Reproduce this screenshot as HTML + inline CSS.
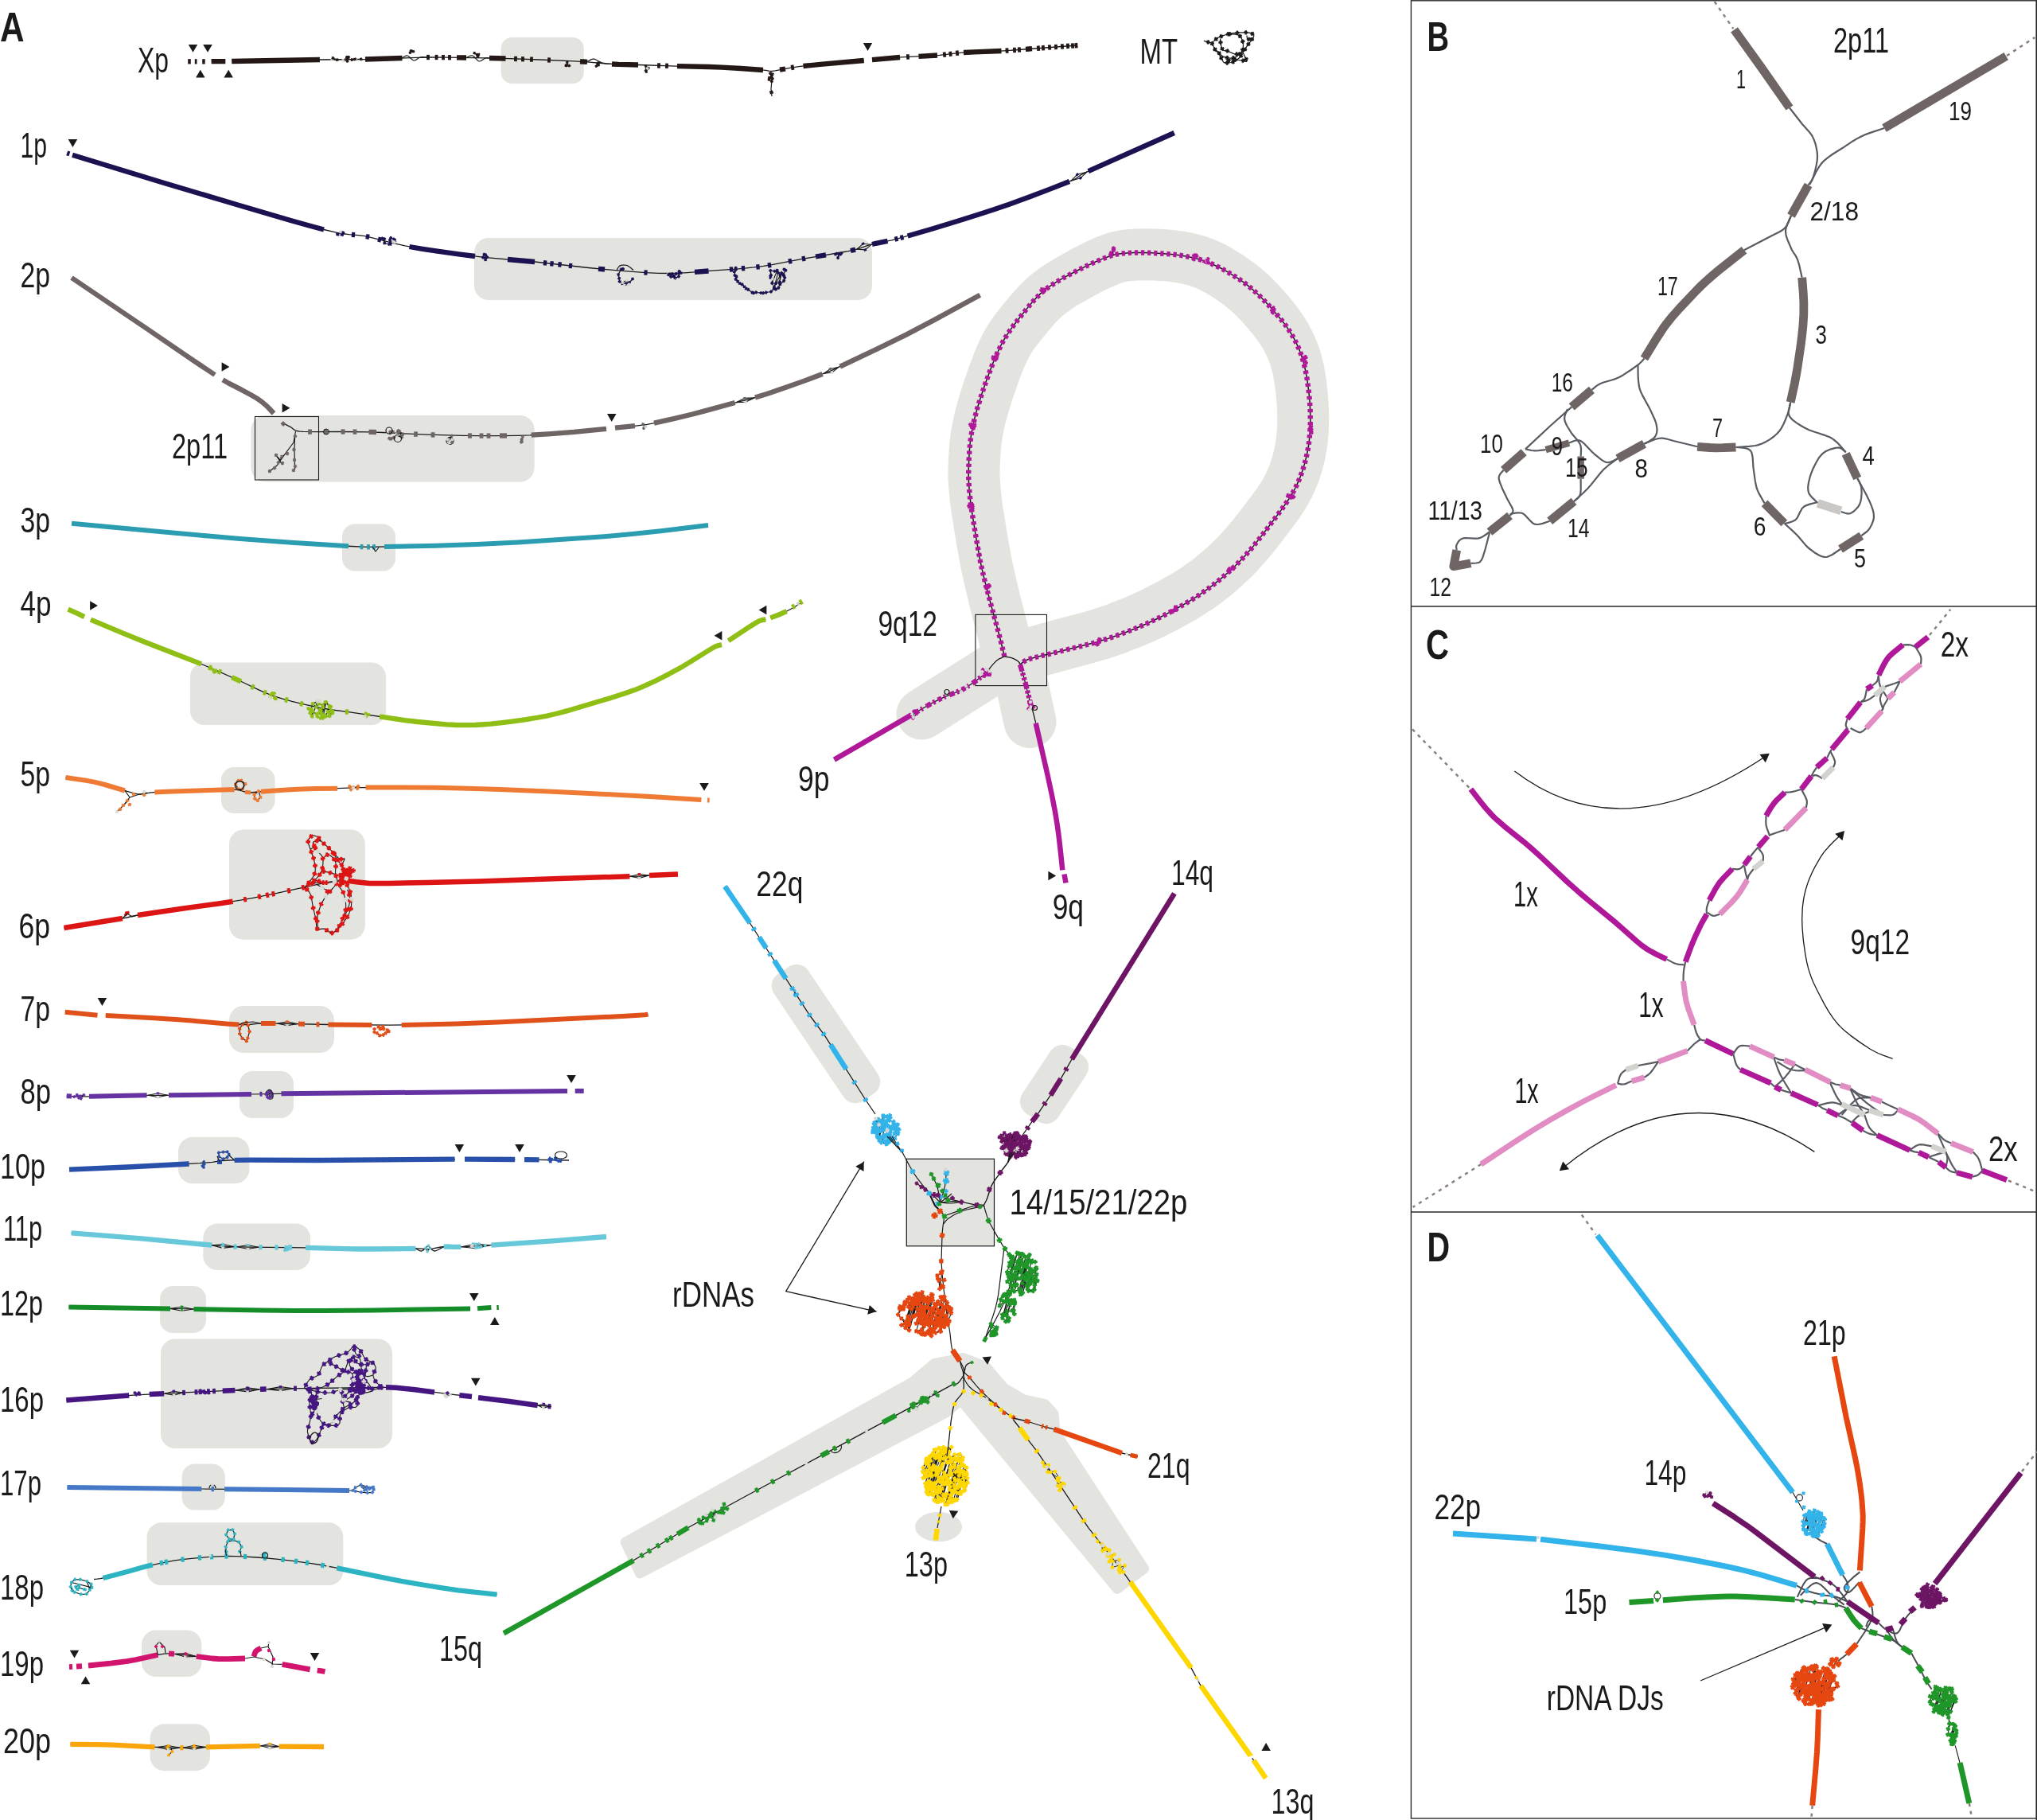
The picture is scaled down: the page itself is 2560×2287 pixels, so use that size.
<!DOCTYPE html><html><head><meta charset="utf-8"><style>html,body{margin:0;padding:0;background:#fff}svg{display:block;will-change:transform}text{font-family:"Liberation Sans",sans-serif}</style></head><body><svg width="2560" height="2287" viewBox="0 0 2560 2287">
<rect x="629.6" y="47" width="104.1" height="58" rx="14" fill="#e3e4df" />
<rect x="596" y="299" width="500" height="78" rx="18" fill="#e3e4df" />
<rect x="315.4" y="522" width="356.2" height="83.6" rx="18" fill="#e3e4df" />
<rect x="430" y="658.6" width="67" height="59" rx="16" fill="#e3e4df" />
<rect x="239" y="832.5" width="246" height="78.5" rx="18" fill="#e3e4df" />
<rect x="278" y="964" width="67.6" height="58" rx="16" fill="#e3e4df" />
<rect x="288" y="1042.4" width="170.8" height="138.3" rx="18" fill="#e3e4df" />
<rect x="288" y="1264" width="132" height="59" rx="18" fill="#e3e4df" />
<rect x="301" y="1346" width="68" height="59" rx="16" fill="#e3e4df" />
<rect x="224" y="1428.8" width="89.4" height="58.5" rx="18" fill="#e3e4df" />
<rect x="255.3" y="1537.6" width="134.7" height="58.4" rx="18" fill="#e3e4df" />
<rect x="201" y="1616" width="58" height="59" rx="16" fill="#e3e4df" />
<rect x="202" y="1682.4" width="291" height="137.6" rx="18" fill="#e3e4df" />
<rect x="228.6" y="1839.5" width="54.2" height="58.1" rx="16" fill="#e3e4df" />
<rect x="184.6" y="1913.3" width="246.7" height="78.7" rx="18" fill="#e3e4df" />
<rect x="178" y="2048.5" width="75.3" height="58.5" rx="18" fill="#e3e4df" />
<rect x="188.5" y="2166.3" width="75.5" height="58.9" rx="18" fill="#e3e4df" />
<path d="M401 75L461.2 74.5L525.4 72.3L537.4 72L561.5 72.1L625.7 73.2L677.8 75L721.9 76.9L737.9 77.8L761.9 80L773.9 80.7L802 81.5L850.1 83.2L890.2 84L906.3 84.6L926.3 85.7L954.3 87.6L962.3 88.3L966.3 89.1L970.2 89.4L974.2 88.9L993.9 85.1L1005.8 83.4L1029.7 81L1085.7 76" fill="none" stroke="#1a1a1a" stroke-width="1.3" stroke-linecap="butt" stroke-linejoin="round" />
<path d="M1096 75.1L1116.1 73.2L1132.2 71.9L1168.6 70.1L1180.7 69.3L1208.8 66.2L1220.9 65.5L1253.2 64.3L1265.3 63.6L1354 57" fill="none" stroke="#1a1a1a" stroke-width="1.3" stroke-linecap="butt" stroke-linejoin="round" />
<path d="M236.2 77.3L239.8 77.3" fill="none" stroke="#231815" stroke-width="6.3" stroke-linecap="butt" stroke-linejoin="round" />
<path d="M244.8 77.3L247.5 77.3" fill="none" stroke="#231815" stroke-width="6.3" stroke-linecap="butt" stroke-linejoin="round" />
<path d="M254.2 77.3L257.7 77.3" fill="none" stroke="#231815" stroke-width="6.3" stroke-linecap="butt" stroke-linejoin="round" />
<path d="M265.6 77.2L283.3 77.1" fill="none" stroke="#231815" stroke-width="6.3" stroke-linecap="butt" stroke-linejoin="round" />
<path d="M291.2 77L401.9 75" fill="none" stroke="#231815" stroke-width="6.3" stroke-linecap="butt" stroke-linejoin="round" />
<path d="M459 74.5L505.5 73" fill="none" stroke="#231815" stroke-width="6.3" stroke-linecap="butt" stroke-linejoin="round" />
<path d="M574 72.3L586 72.5" fill="none" stroke="#231815" stroke-width="6.3" stroke-linecap="butt" stroke-linejoin="round" />
<path d="M615 73L635.5 73.5" fill="none" stroke="#231815" stroke-width="6.3" stroke-linecap="butt" stroke-linejoin="round" />
<path d="M729 77.3L733.5 77.5L738 77.9" fill="none" stroke="#231815" stroke-width="6.3" stroke-linecap="butt" stroke-linejoin="round" />
<path d="M769 80.5L777.2 80.9L802 81.5" fill="none" stroke="#231815" stroke-width="6.3" stroke-linecap="butt" stroke-linejoin="round" />
<path d="M851 83.2L891 84L907 84.6L931 86L959 88" fill="none" stroke="#231815" stroke-width="6.3" stroke-linecap="butt" stroke-linejoin="round" />
<path d="M980 87.7L987 86.5" fill="none" stroke="#231815" stroke-width="6.3" stroke-linecap="butt" stroke-linejoin="round" />
<path d="M1009.5 83L1033.6 80.7L1085.7 76" fill="none" stroke="#231815" stroke-width="6.3" stroke-linecap="butt" stroke-linejoin="round" />
<path d="M1096 75.1L1131 72" fill="none" stroke="#231815" stroke-width="6.3" stroke-linecap="butt" stroke-linejoin="round" />
<path d="M1154.5 70.8L1178 69.5" fill="none" stroke="#231815" stroke-width="6.3" stroke-linecap="butt" stroke-linejoin="round" />
<path d="M1211 66L1223.9 65.3L1258.5 64" fill="none" stroke="#231815" stroke-width="6.3" stroke-linecap="butt" stroke-linejoin="round" />
<path d="M1289 61.8L1293 61.5L1297 61.2" fill="none" stroke="#231815" stroke-width="6.3" stroke-linecap="butt" stroke-linejoin="round" />
<path d="M536.1 72L539.9 72" fill="none" stroke="#231815" stroke-width="6.3" stroke-linecap="butt" stroke-linejoin="round" />
<path d="M546.6 72L550.4 72" fill="none" stroke="#231815" stroke-width="6.3" stroke-linecap="butt" stroke-linejoin="round" />
<path d="M555.1 72.1L558.9 72.1" fill="none" stroke="#231815" stroke-width="6.3" stroke-linecap="butt" stroke-linejoin="round" />
<path d="M563.1 72.2L566.9 72.2" fill="none" stroke="#231815" stroke-width="6.3" stroke-linecap="butt" stroke-linejoin="round" />
<path d="M646.1 73.9L649.9 74" fill="none" stroke="#231815" stroke-width="6.3" stroke-linecap="butt" stroke-linejoin="round" />
<path d="M655.1 74.2L658.9 74.3" fill="none" stroke="#231815" stroke-width="6.3" stroke-linecap="butt" stroke-linejoin="round" />
<path d="M666.1 74.6L669.9 74.7" fill="none" stroke="#231815" stroke-width="6.3" stroke-linecap="butt" stroke-linejoin="round" />
<path d="M688.1 75.4L691.9 75.6" fill="none" stroke="#231815" stroke-width="6.3" stroke-linecap="butt" stroke-linejoin="round" />
<path d="M826.1 82.4L829.9 82.5" fill="none" stroke="#231815" stroke-width="6.3" stroke-linecap="butt" stroke-linejoin="round" />
<path d="M836.1 82.7L839.9 82.9" fill="none" stroke="#231815" stroke-width="6.3" stroke-linecap="butt" stroke-linejoin="round" />
<path d="M994.1 85.1L997.9 84.4" fill="none" stroke="#231815" stroke-width="6.3" stroke-linecap="butt" stroke-linejoin="round" />
<path d="M1139.1 71.5L1142.9 71.3" fill="none" stroke="#231815" stroke-width="6.3" stroke-linecap="butt" stroke-linejoin="round" />
<path d="M1185.1 68.9L1188.9 68.4" fill="none" stroke="#231815" stroke-width="6.3" stroke-linecap="butt" stroke-linejoin="round" />
<path d="M1192.6 68L1196.4 67.5" fill="none" stroke="#231815" stroke-width="6.3" stroke-linecap="butt" stroke-linejoin="round" />
<path d="M1201.1 66.9L1204.9 66.5" fill="none" stroke="#231815" stroke-width="6.3" stroke-linecap="butt" stroke-linejoin="round" />
<path d="M1263.6 63.7L1267.4 63.5" fill="none" stroke="#231815" stroke-width="6.3" stroke-linecap="butt" stroke-linejoin="round" />
<path d="M1273.1 63L1276.9 62.8" fill="none" stroke="#231815" stroke-width="6.3" stroke-linecap="butt" stroke-linejoin="round" />
<path d="M1279.1 62.6L1282.9 62.3" fill="none" stroke="#231815" stroke-width="6.3" stroke-linecap="butt" stroke-linejoin="round" />
<path d="M1303.1 60.8L1306.9 60.5" fill="none" stroke="#231815" stroke-width="6.3" stroke-linecap="butt" stroke-linejoin="round" />
<path d="M1309.1 60.3L1312.9 60" fill="none" stroke="#231815" stroke-width="6.3" stroke-linecap="butt" stroke-linejoin="round" />
<path d="M1317.1 59.7L1320.9 59.4" fill="none" stroke="#231815" stroke-width="6.3" stroke-linecap="butt" stroke-linejoin="round" />
<path d="M1325.1 59.1L1328.9 58.9" fill="none" stroke="#231815" stroke-width="6.3" stroke-linecap="butt" stroke-linejoin="round" />
<path d="M1333.1 58.5L1336.9 58.3" fill="none" stroke="#231815" stroke-width="6.3" stroke-linecap="butt" stroke-linejoin="round" />
<path d="M1340.1 58L1343.9 57.7" fill="none" stroke="#231815" stroke-width="6.3" stroke-linecap="butt" stroke-linejoin="round" />
<path d="M1346.1 57.6L1349.9 57.3" fill="none" stroke="#231815" stroke-width="6.3" stroke-linecap="butt" stroke-linejoin="round" />
<path d="M1350.6 57.3L1354.4 57" fill="none" stroke="#231815" stroke-width="6.3" stroke-linecap="butt" stroke-linejoin="round" />
<path d="M505 73L509.6 70.3L511.2 69.9L512 70L513.5 70.8L518.4 75.3L520 76L520.8 76L522.4 75.4L526.4 72.7L528 72L530.7 71.7L536 72" fill="none" stroke="#1a1a1a" stroke-width="1.2" stroke-linecap="butt" stroke-linejoin="round" />
<path d="M586 72.5L589.5 70.8L591.3 70.1L593.2 69.9L594 70L595.6 71L600.4 76.2L602 77L602.8 77L604.5 76.5L608.6 73.7L610 73L611.9 72.7L615 73" fill="none" stroke="#1a1a1a" stroke-width="1.2" stroke-linecap="butt" stroke-linejoin="round" />
<path d="M738 77.5L743.3 74.6L745.2 74.1L746 74L746.8 74.1L748.4 74.7L753.2 77.6L756.4 78.8L762.8 80.1L769 80.5" fill="none" stroke="#1a1a1a" stroke-width="1.2" stroke-linecap="butt" stroke-linejoin="round" />
<path d="M417.4 74.8l1 -1.9M417.4 74.8l6.3 0.4M423.8 75.1l-5.3 -2.2M436 71.9l0.6 0.5M436 71.9l2.2 -0M453.8 74.3l-6.2 0M453.8 74.3l-7.6 0M446.2 74.4l1.4 -0M446.2 74.4l-3.8 0.7M436.7 72.4l1.6 -0.5M436.5 76.7l0.2 -4.3M436.5 76.7l-0.4 -4.8M431.1 75.9l5.4 0.8M431.1 75.9l4.9 -4.1M442.4 75l5.2 -0.7M436.5 76.7l1.8 -4.8" fill="none" stroke="#1a1a1a" stroke-width="1.1"/>
<path d="M419.4 74.5l-4 0.4m2.2 1.8l-0.4 -4M432.9 75.1l-3.6 1.7m2.7 1l-1.7 -3.6M449.3 73.3l-3.5 2m2.7 0.7l-2 -3.5" stroke="#d8d8d4" stroke-width="1.9" fill="none"/>
<path d="M424.5 73.3l-1.5 3.7m2.6 -1.1l-3.7 -1.5M436.1 69.9l-0.1 4m2 -2l-4 -0.1M417.5 71.1l1.8 3.6m0.9 -2.7l-3.6 1.8M454.3 72.4l-1 3.9m2.5 -1.4l-3.9 -1M447.2 72.7l-2.2 3.4m2.8 -0.6l-3.4 -2.2M438.5 71.5l-3.6 1.7m2.7 0.9l-1.7 -3.6M437.5 75l-2 3.4m2.7 -0.7l-3.4 -2M440.1 71.3l-3.8 1.2m2.5 1.3l-1.2 -3.8M443.6 73.5l-2.5 3.1m2.8 -0.3l-3.1 -2.5" stroke="#231815" stroke-width="1.9" fill="none"/>
<path d="M516.4 63.8l1 0.4M516.4 63.8l-1 2.4M517.4 64.2l2.2 0.5M515.4 66.2l2 -2M519.6 64.8l-3.2 -1" fill="none" stroke="#1a1a1a" stroke-width="1.1"/>
<path d="M515 62.7l2.9 2.3m-0.3 -2.6l-2.3 2.9M519 63.3l-3.2 1.9m2.6 0.7l-1.9 -3.2M516.9 65.1l-3 2.2m2.6 0.4l-2.2 -3M518.5 63.2l2.1 3.1m0.5 -2.6l-3.1 2.1" stroke="#231815" stroke-width="1.8" fill="none"/>
<path d="M599.7 69.4l0.7 1.8M599.7 69.4l1.9 -0.9M600.4 71.2l1.2 -2.7M596.2 66.7l3.6 2.8M596.2 66.7l5.5 1.8" fill="none" stroke="#1a1a1a" stroke-width="1.1"/>
<path d="M600 67.6l-0.5 3.7m2.1 -1.6l-3.7 -0.5M598.6 71.1l3.7 0.2m-1.8 -2l-0.2 3.7M595 65.2l2.4 2.9m0.2 -2.6l-2.9 2.4M603 67.2l-2.8 2.5m2.6 0.1l-2.5 -2.8" stroke="#231815" stroke-width="1.8" fill="none"/>
<path d="M715.3 82.6l-2.6 -0.5M715.3 82.6l-3.4 -0.4M712.9 78.1l-0.1 4M712.9 78.1l-0.9 4.1M712.8 82.1l-0.8 0.1M712.8 82.1l-1.6 0.3M712 82.2l-0.8 0.3" fill="none" stroke="#1a1a1a" stroke-width="1.1"/>
<path d="M715.7 80.7l-0.6 3.7m2.2 -1.5l-3.7 -0.6M711.6 76.7l2.5 2.8m0.1 -2.6l-2.8 2.5M713.8 80.5l-2.1 3.1m2.6 -0.5l-3.1 -2.1M711.1 80.5l1.9 3.3m0.7 -2.6l-3.3 1.9M712.7 81.3l-3 2.2m2.6 0.4l-2.2 -3" stroke="#231815" stroke-width="1.8" fill="none"/>
<path d="M750.9 79.5l2 -0.8M750.9 79.5l1.3 2.1M752.9 78.7l-0.7 2.9M749.3 83.1l2.9 -1.4M749.3 83.1l1.6 -3.6" fill="none" stroke="#1a1a1a" stroke-width="1.1"/>
<path d="M750.5 77.7l0.9 3.6m1.4 -2.3l-3.6 0.9M751.2 78l3.5 1.4m-1 -2.4l-1.4 3.5M752.9 79.9l-1.5 3.5m2.5 -1l-3.5 -1.5M749.8 81.3l-0.9 3.6m2.3 -1.4l-3.6 -0.9" stroke="#231815" stroke-width="1.8" fill="none"/>
<path d="M811.8 88.5l0.4 1.5M811.8 88.5l2 -2.5M811.5 83l2.2 3M811.5 83l3.3 2.5M814.9 85.5l-1.1 0.4M812.2 90l1.6 -4M811.5 83l0.2 5.5" fill="none" stroke="#1a1a1a" stroke-width="1.1"/>
<path d="M813.5 87.9l-3.6 1.1m2.4 1.2l-1.1 -3.6M809.8 82.3l3.5 1.3m-1.1 -2.4l-1.3 3.5M816.7 85.5l-3.7 0.1m1.9 1.8l-0.1 -3.7M813.1 88.3l-1.8 3.3m2.5 -0.7l-3.3 -1.8" stroke="#231815" stroke-width="1.8" fill="none"/>
<path d="M814.4 84.2l-1.4 3.5m2.4 -1.1l-3.5 -1.4" stroke="#d8d8d4" stroke-width="1.8" fill="none"/>
<path d="M969 89.5L970 100L969 112L970 121" fill="none" stroke="#1a1a1a" stroke-width="1.2" stroke-linecap="butt" stroke-linejoin="round" />
<path d="M969.3 97.5l1.4 1.6M969.3 97.5l-2.5 0.1M966.5 100.1l0.2 -2.5M966.5 100.1l2.7 -2.6M969.8 102.3l0.9 -3.3M969.8 102.3l-3.3 -2.3M970.9 93.1l-2.9 -0.9M970.9 93.1l-1.6 4.3M967.9 92.2l1.3 5.2M970.9 93.1l-0.1 5.9" fill="none" stroke="#1a1a1a" stroke-width="1.1"/>
<path d="M968.1 95.9l2.4 3.2m0.4 -2.8l-3.2 2.4M967.8 98.5l-2.6 3m2.8 -0.2l-3 -2.6M967.9 101.8l3.8 1.1m-1.4 -2.5l-1.1 3.8M965.2 96.4l3.2 2.5m-0.4 -2.8l-2.5 3.2M972.4 97.9l-3.3 2.3m2.8 0.5l-2.3 -3.3M972.7 92.4l-3.7 1.4m2.6 1.2l-1.4 -3.7M966 91.9l3.9 0.7m-1.6 -2.3l-0.7 3.9" stroke="#231815" stroke-width="1.9" fill="none"/>
<path d="M967.2 115l4.6 2m-1.3 -3.3l-2 4.6" stroke="#231815" stroke-width="2.4" fill="none"/>
<path d="M242.5 65.7L236.8 55.9L248.2 55.9Z" fill="#1a1a1a"/>
<path d="M261 65.7L255.2 55.9L266.8 55.9Z" fill="#1a1a1a"/>
<path d="M251.8 87.7L257.6 97.5L246.1 97.5Z" fill="#1a1a1a"/>
<path d="M287.2 87.7L292.9 97.5L281.4 97.5Z" fill="#1a1a1a"/>
<path d="M1090.5 63.9L1084.8 54.1L1096.2 54.1Z" fill="#1a1a1a"/>
<text x="173" y="90.8" font-size="43.5" font-weight="normal" fill="#1a1a1a" textLength="39" lengthAdjust="spacingAndGlyphs">Xp</text>
<path d="M1512.9 51.4L1518.8 53.1L1521.5 53.5L1522.7 53.4L1524.7 52.4L1529.3 48.2L1532 46.8L1535.4 45.4L1540.8 43.5L1544.3 42.6L1549.2 41.7L1560.4 40.9L1567.1 40.8L1569.9 41.1L1572 41.7L1573.8 42.5L1575.1 43.4L1575.7 44.5L1575.8 45.2L1575.7 45.8L1575 47.2L1572.2 51.3L1566.9 58.3L1559.7 69.8L1558.5 71.5L1557.1 73L1553.5 75.8L1551.4 77L1549.2 77.9L1546.8 78.5L1544 78.9L1541.4 79L1539.4 78.9L1538.2 78.6L1537.6 78.1L1531.6 67.1L1530.5 65.9L1528.7 64.5L1527.6 63.2L1525.7 59.5L1522.7 53.4M1533.5 48.5L1534 53.8L1534.5 57.3L1535.7 60.7L1536.5 62.1L1537.5 63.2L1538.6 63.7L1541.5 63.8L1543.3 64.2L1549.5 67.1L1552 68L1554.3 68L1556.6 67.5L1557.6 67.1L1559.6 65.8L1561 64.2L1561.5 63.1L1562.2 60.5L1562.4 57.6L1562.2 54.7L1561.4 50.9L1560.4 48.4L1559 46.2L1558.1 45.3L1557.1 44.5L1555.8 44L1552.3 43.2L1544.3 42.6M1528.6 63.2L1533.5 68.2L1536.2 70.3L1537.5 71.1L1540.2 72.1L1543.3 72.9L1546.4 73.2L1549.2 73L1550.6 72.7L1553.2 71.5L1555.6 69.9L1559.1 67.1L1562.5 63.6L1566.9 58.3M1566.9 44.5L1567.2 47L1567.9 48.5L1569.7 49.4L1572.8 50.4M1539.4 78.9L1542.5 76.9L1544.7 75.7L1547.3 75L1548.8 74.9L1552.3 75L1561 76L1563.3 76.5L1565.8 77.4L1566.4 77.5L1566.7 77.4L1566.9 76.9L1566.8 76.1L1566.3 74.8L1562 66.1" fill="none" stroke="#1a1a1a" stroke-width="1.2" stroke-linejoin="round"/>
<path d="M1515.8 52.4l5.1 1.2m-2 -3.2l-1.2 5.1M1526.3 50.8l4 -3.4m-3.7 -0.3l3.4 4M1532.3 46.6l4.9 -1.9m-3.4 -1.5l1.9 4.9M1540.9 43.5l5.1 -1.3m-3.2 -1.9l1.3 5.1M1552.4 41.4l5.2 -0.3m-2.8 -2.5l0.3 5.2M1563.2 40.8l5.2 0.1m-2.6 -2.7l-0.1 5.2M1571.6 41.1l4.5 2.7m-0.9 -3.6l-2.7 4.5M1575 47.2l-3 4.3m3.7 -0.7l-4.3 -3M1570.5 53.5l-3.2 4.1m3.7 -0.5l-4.1 -3.2M1565.9 59.8l-2.7 4.5m3.6 -0.9l-4.5 -2.7M1561 67.9l-2.9 4.4m3.6 -0.7l-4.4 -2.9M1552.1 76.9l-4.9 1.8m3.4 1.6l-1.8 -4.9M1544.7 79l-5.2 0.1m2.7 2.6l-0.1 -5.2M1536 75.3l-2.4 -4.7m-1.1 3.5l4.7 -2.4M1528.2 64.3l-2.6 -4.6m-1 3.6l4.6 -2.6M1524.5 57.2l-2.2 -4.7m-1.3 3.5l4.7 -2.2M1533.7 50.6l0.5 5.2m2.4 -2.9l-5.2 0.5M1534.7 59l2.5 4.6m1.1 -3.6l-4.6 2.5M1540 63.5l5.1 1.1m-2 -3.1l-1.1 5.1M1551.6 68.3l5.2 -0.6m-2.9 -2.3l0.6 5.2M1561 64.9l1.5 -5m-3.3 1.8l5 1.5M1562.4 54.7l-1.3 -5.1m-1.9 3.2l5.1 -1.3M1560.3 47.3l-3.8 -3.6m0.1 3.7l3.6 -3.8M1548.1 42.9l-5.2 -0.4m2.4 2.8l0.4 -5.2M1530.3 64.9l3.7 3.7m0 -3.7l-3.7 3.7M1539.5 72l5.1 1.2m-1.9 -3.2l-1.2 5.1M1547.5 73.5l5.1 -1.4m-3.2 -1.9l1.4 5.1M1556.2 69.5l4.1 -3.3m-3.7 -0.4l3.3 4.1M1566.9 48.3l4.8 2.1m-1.4 -3.4l-2.1 4.8M1541.6 77.2l4.7 -2.3m-3.5 -1.2l2.3 4.7M1549.9 74.8l5.2 0.4m-2.4 -2.8l-0.4 5.2M1559.7 75.6l5.1 1.2m-2 -3.2l-1.2 5.1M1567.1 76.7l-2.1 -4.8m-1.4 3.4l4.8 -2.1" stroke="#1a1a1a" stroke-width="2.5" fill="none"/>
<text x="1432.5" y="79.5" font-size="43.5" font-weight="normal" fill="#1a1a1a" textLength="47.5" lengthAdjust="spacingAndGlyphs">MT</text>
<path d="M407 288.5L422.6 292.2L430.5 293.6L438.4 294.6L450.4 295.6L458.4 296.7L470.1 299.3L493.4 305.4L509 308.9L532.7 313.1L560.5 317.2L588.3 320.9L608.2 323.3L672.1 329L739.8 336.5L767.7 339.2L791.7 341.2L811.7 342.6L827.7 343.3L843.8 343.5L851.8 343.3L863.8 342.6L887.8 340.7L927.7 337.8L947.7 335.9L959.6 334.4L971.5 332.4L1006.9 325.6L1058.3 317L1066.2 315.6L1074.1 313.8L1081.7 311.6L1089.3 308.9L1097 306.7L1120.5 301.8L1128.3 299.9L1139.9 296.7L1189.9 282L1232.1 268.9L1258.7 260L1285.1 250.6L1318.9 237.9L1345 227.6L1352.3 224.3L1358.7 219.6L1369.5 214.3L1402.4 199.5L1475.7 167" fill="none" stroke="#1a1a1a" stroke-width="1.3" stroke-linecap="butt" stroke-linejoin="round" />
<path d="M84.2 192.3L87.4 193.4" fill="none" stroke="#1d1152" stroke-width="6" stroke-linecap="butt" stroke-linejoin="round" />
<path d="M91 194.8L206.4 229.9L306.5 259.8L364.4 276.7L387.6 283.3L407 288.5" fill="none" stroke="#1d1152" stroke-width="6.3" stroke-linecap="butt" stroke-linejoin="round" />
<path d="M514.5 310L530.9 312.8L551.5 315.9L576.3 319.4L597 322" fill="none" stroke="#1d1152" stroke-width="6.3" stroke-linecap="butt" stroke-linejoin="round" />
<path d="M638 326L672 329" fill="none" stroke="#1d1152" stroke-width="6.3" stroke-linecap="butt" stroke-linejoin="round" />
<path d="M752 337.8L756 338.1L760 338.5" fill="none" stroke="#1d1152" stroke-width="6.3" stroke-linecap="butt" stroke-linejoin="round" />
<path d="M873 341.9L890.5 340.5" fill="none" stroke="#1d1152" stroke-width="6.3" stroke-linecap="butt" stroke-linejoin="round" />
<path d="M1025 322.5L1038 320.4" fill="none" stroke="#1d1152" stroke-width="6.3" stroke-linecap="butt" stroke-linejoin="round" />
<path d="M1069 315L1075 313.6" fill="none" stroke="#1d1152" stroke-width="6.3" stroke-linecap="butt" stroke-linejoin="round" />
<path d="M1096 307L1100.8 305.8L1115.5 302.9" fill="none" stroke="#1d1152" stroke-width="6.3" stroke-linecap="butt" stroke-linejoin="round" />
<path d="M1140.7 296.5L1171.8 287.4L1202.8 278.1L1229.9 269.6L1249.1 263.3L1268.3 256.7L1294.9 247L1321.4 236.9L1344 228" fill="none" stroke="#1d1152" stroke-width="6.3" stroke-linecap="butt" stroke-linejoin="round" />
<path d="M1367.7 215.1L1401.2 200.1L1475.7 167" fill="none" stroke="#1d1152" stroke-width="6.3" stroke-linecap="butt" stroke-linejoin="round" />
<path d="M427.9 293.2L432.1 293.9" fill="none" stroke="#1d1152" stroke-width="6.3" stroke-linecap="butt" stroke-linejoin="round" />
<path d="M441.9 294.9L446.1 295.2" fill="none" stroke="#1d1152" stroke-width="6.3" stroke-linecap="butt" stroke-linejoin="round" />
<path d="M459.9 297L464.1 297.9" fill="none" stroke="#1d1152" stroke-width="6.3" stroke-linecap="butt" stroke-linejoin="round" />
<path d="M475 300.5L479 301.6" fill="none" stroke="#1d1152" stroke-width="6.3" stroke-linecap="butt" stroke-linejoin="round" />
<path d="M682.9 330.1L687.1 330.6" fill="none" stroke="#1d1152" stroke-width="6.3" stroke-linecap="butt" stroke-linejoin="round" />
<path d="M691.4 331.1L695.6 331.6" fill="none" stroke="#1d1152" stroke-width="6.3" stroke-linecap="butt" stroke-linejoin="round" />
<path d="M701.4 332.2L705.6 332.7" fill="none" stroke="#1d1152" stroke-width="6.3" stroke-linecap="butt" stroke-linejoin="round" />
<path d="M714.9 333.8L719.1 334.2" fill="none" stroke="#1d1152" stroke-width="6.3" stroke-linecap="butt" stroke-linejoin="round" />
<path d="M809.4 342.4L813.6 342.7" fill="none" stroke="#1d1152" stroke-width="6.3" stroke-linecap="butt" stroke-linejoin="round" />
<path d="M916.9 338.6L921.1 338.3" fill="none" stroke="#1d1152" stroke-width="6.3" stroke-linecap="butt" stroke-linejoin="round" />
<path d="M931.9 337.4L936.1 337" fill="none" stroke="#1d1152" stroke-width="6.3" stroke-linecap="butt" stroke-linejoin="round" />
<path d="M950.4 335.6L954.6 335.1" fill="none" stroke="#1d1152" stroke-width="6.3" stroke-linecap="butt" stroke-linejoin="round" />
<path d="M964.9 333.6L969.1 332.9" fill="none" stroke="#1d1152" stroke-width="6.3" stroke-linecap="butt" stroke-linejoin="round" />
<path d="M990.9 328.7L995.1 327.8" fill="none" stroke="#1d1152" stroke-width="6.3" stroke-linecap="butt" stroke-linejoin="round" />
<path d="M1007.9 325.4L1012.1 324.6" fill="none" stroke="#1d1152" stroke-width="6.3" stroke-linecap="butt" stroke-linejoin="round" />
<path d="M1124.5 300.8L1128.5 299.8" fill="none" stroke="#1d1152" stroke-width="6.3" stroke-linecap="butt" stroke-linejoin="round" />
<path d="M1131.5 299L1135.5 298" fill="none" stroke="#1d1152" stroke-width="6.3" stroke-linecap="butt" stroke-linejoin="round" />
<path d="M424 294.1l0.6 0.6M424 294.1l4.1 -2.7M429.6 292.9l2.1 0.2M429.6 292.9l-1.6 -1.5M424.6 294.8l3.5 -3.3M431.7 293.1l-3.6 -1.7" fill="none" stroke="#1a1a1a" stroke-width="1.1"/>
<path d="M422.5 292.8l3 2.7m-0.2 -2.8l-2.7 3M427.6 292.6l4 0.5m-1.7 -2.2l-0.5 4M426 293.3l-2.7 2.9m2.8 -0.1l-2.9 -2.7M432.4 291.2l-1.4 3.7m2.6 -1.2l-3.7 -1.4" stroke="#1d1152" stroke-width="1.9" fill="none"/>
<path d="M427 289.7l2 3.4m0.7 -2.7l-3.4 2" stroke="#d8d8d4" stroke-width="1.9" fill="none"/>
<path d="M480.7 299.6l2.5 0.6M480.7 299.6l2.6 5.9M490 301.6l0.9 2.4M490 301.6l1.1 -2.7M494.8 300.6l1.4 0.8M494.8 300.6l-0.2 3.2M496.2 301.4l0 2.2M489 306.9l1.7 -0.1M489 306.9l1.9 -2.9M490.7 306.8l0.3 -2.8M491.2 298.9l3.6 1.6M494.6 303.8l-0.6 -0.1M494.6 303.8l1.5 0.6M483.2 300.2l0 5.3M494 303.7l2.1 0.6M496.2 303.6l-0.1 0.8M496.2 303.6l-1.6 0.2M483.2 305.5l5.8 1.4M491.2 298.9l-2.1 8M494.6 303.8l1.6 -2.4" fill="none" stroke="#1a1a1a" stroke-width="1.1"/>
<path d="M479.9 297.7l1.5 3.7m1.1 -2.6l-3.7 1.5M488.8 300l2.4 3.2m0.4 -2.8l-3.2 2.4M495.1 298.6l-0.5 4m2.3 -1.7l-4 -0.5M497.2 299.7l-2.1 3.4m2.7 -0.7l-3.4 -2.1M487.1 306.3l3.8 1.1m-1.4 -2.5l-1.1 3.8M489.8 305l1.8 3.6m0.9 -2.7l-3.6 1.8M490.6 297l1.2 3.8m1.3 -2.5l-3.8 1.2M496.6 303.5l-4 0.6m2.3 1.7l-0.6 -4M482.6 298.3l1.2 3.8m1.3 -2.5l-3.8 1.2M496.5 301.6l-0.6 4m2.3 -1.7l-4 -0.6M489.9 302.3l2.1 3.4m0.7 -2.7l-3.4 2.1M481.6 304.4l3.3 2.3m-0.5 -2.8l-2.3 3.3" stroke="#1d1152" stroke-width="1.9" fill="none"/>
<path d="M495.9 303.1l-3.8 1.3m2.5 1.2l-1.3 -3.8M496.3 302.4l-0.4 4m2.2 -1.8l-4 -0.4" stroke="#d8d8d4" stroke-width="1.9" fill="none"/>
<path d="M610.9 323.2l1.2 -0M610.9 323.2l-0.6 -2.9M610.3 320.3l-1.7 -0.7M606.9 323.4l0.3 0.1M606.9 323.4l4 -0.2M607.2 323.6l3.7 -0.3M612.1 323.2l-1.8 -2.9M610.1 326.3l0.8 -3.1M610.1 326.3l2 -3.1M608.6 319.6l-1.4 4" fill="none" stroke="#1a1a1a" stroke-width="1.1"/>
<path d="M610.1 321.4l1.6 3.7m1 -2.6l-3.7 1.6M611.3 318.6l-1.9 3.5m2.7 -0.8l-3.5 -1.9M605 322.9l3.9 1.1m-1.4 -2.5l-1.1 3.9M608.5 322l-2.5 3.1m2.8 -0.3l-3.1 -2.5M611.8 321.2l0.7 3.9m1.6 -2.3l-3.9 0.7M608.4 325.3l3.4 2.2m-0.6 -2.8l-2.2 3.4M607.5 317.9l2.1 3.4m0.6 -2.8l-3.4 2.1" stroke="#1d1152" stroke-width="1.9" fill="none"/>
<path d="M795.1 350.4L791 355L787 356.3L782.3 356.4L778.6 353.7L778 349.6L777 344.9L780.7 338.3L783 338" fill="none" stroke="#1a1a1a" stroke-width="1.2" stroke-linejoin="round"/>
<path d="M796.4 349l-2.7 3m2.8 -0.1l-3 -2.7M792.9 354.4l-3.8 1.2m2.5 1.3l-1.2 -3.8M789 356.2l-4 0.1m2 2l-0.1 -4M783.9 357.6l-3.2 -2.4m0.4 2.8l2.4 -3.2M778.9 355.7l-0.5 -4m-1.7 2.3l4 -0.5M778.5 351.6l-0.8 -3.9m-1.5 2.4l3.9 -0.8M776.1 346.7l1.9 -3.5m-2.7 0.8l3.5 1.9M778.7 338.5l4 -0.5m-2.2 -1.7l0.5 4M785 337.7l-4 0.5m2.2 1.7l-0.5 -4" stroke="#1d1152" stroke-width="1.9" fill="none"/>
<path d="M775 340L776.8 336.3L778.4 334.4L780.5 333.4L782.3 333.1L784.2 333L787.1 333.3L788.9 333.9L791.7 335.7L796 339.5" fill="none" stroke="#1a1a1a" stroke-width="1.2" stroke-linecap="butt" stroke-linejoin="round" />
<path d="M790.6 357.3L789.3 358.5L784.9 358.5L782.4 355.3L787.5 352.1Z" fill="none" stroke="#1a1a1a" stroke-width="1.2" stroke-linejoin="round"/>
<path d="M792 356l-2.8 2.5m2.6 0.2l-2.5 -2.8M791.1 358.5l-3.7 -0m1.9 1.9l0 -3.7M786 359.9l-2.3 -2.9m-0.3 2.6l2.9 -2.3M780.8 356.3l3.2 -2m-2.6 -0.6l2 3.2M786.5 350.5l1.9 3.2m0.6 -2.6l-3.2 1.9" stroke="#d8d8d4" stroke-width="1.8" fill="none"/>
<path d="M850.9 340.4l2 -0M850.9 340.4l2.7 0.6M840.1 345.2l-1.5 -0M840.1 345.2l1.8 -0.7M849.7 344l3.4 -1M849.7 344l-2.8 2.5M848.7 349.4l-1.5 -1.7M848.7 349.4l-1.8 -2.9M855.7 342.9l-0.9 -0.3M855.7 342.9l-2.7 0.2M852.9 347.4l0.1 -4.4M852.9 347.4l-4.2 2M838.6 345.2l3.3 -0.6M843.3 347.9l-1.4 -3.4M843.3 347.9l3.6 -1.4M841.9 344.5l2.7 -0.3M847.2 347.8l-0.3 -1.2M853 343.1l1.8 -0.5M853 343.1l0.6 -2.1M852.9 340.4l0.7 0.6M853.6 341l1.2 1.6M844.6 344.2l2.3 2.3M849.7 344l1.3 -3.6M852.9 347.4l1.9 -4.8" fill="none" stroke="#1a1a1a" stroke-width="1.1"/>
<path d="M849.1 339.6l3.7 1.6m-1 -2.6l-1.6 3.7M836.6 344.9l4 0.6m-1.7 -2.3l-0.6 4M851 340.3l4 0.2m-1.9 -2.1l-0.2 4" stroke="#d8d8d4" stroke-width="1.9" fill="none"/>
<path d="M839.2 343.4l1.8 3.6m0.9 -2.7l-3.6 1.8M851.1 342.7l-2.9 2.7m2.8 0.1l-2.7 -2.9M850.6 348.9l-3.9 1.1m2.5 1.4l-1.1 -3.9M854.8 341.1l1.8 3.6m0.9 -2.7l-3.6 1.8M852.2 345.6l1.4 3.8m1.2 -2.6l-3.8 1.4M843.4 345.9l-0.3 4m2.1 -1.9l-4 -0.3M842.6 342.7l-1.5 3.7m2.6 -1.1l-3.7 -1.5M847.1 345.8l0.3 4m1.8 -2.1l-4 0.3M854.7 342l-3.3 2.2m2.8 0.6l-2.2 -3.3M852.4 339.4l2.4 3.2m0.4 -2.8l-3.2 2.4M852.8 342.2l3.9 0.8m-1.6 -2.4l-0.8 3.9M842.7 343.6l3.8 1.2m-1.3 -2.5l-1.2 3.8M844.9 346.4l4 0.4m-1.8 -2.2l-0.4 4" stroke="#1d1152" stroke-width="1.9" fill="none"/>
<path d="M985.5 338.5L987.4 339.7L984.4 345.1L986.1 348.9L985.2 353L980.4 357.3L980.1 356.9L978.4 361.8L975.1 363.4L972.7 362.8L969 366.5L962.7 367.5L959.1 368.3L950.2 367.5L947 368.2L945.4 367.4L940.3 363.9L937.6 362.6L932.7 357.5L929.7 356.1L927.1 353.6L924.7 350.8L925.6 347.5L923.5 346L923 341.3L924.8 338.8L924.7 336.7" fill="none" stroke="#1a1a1a" stroke-width="1.2" stroke-linejoin="round"/>
<path d="M983.7 337.4l3.5 2.2m-0.6 -2.9l-2.2 3.5M988.4 337.9l-2 3.6m2.8 -0.8l-3.6 -2M983.5 343.2l1.8 3.7m1 -2.8l-3.7 1.8M984.4 344.7l1.6 3.8m1.1 -2.7l-3.8 1.6M986.6 346.9l-0.9 4m2.5 -1.6l-4 -0.9M986.7 351.6l-3.1 2.8m2.9 0.1l-2.8 -3.1M981.8 358.8l-2.8 -3m-0.1 2.9l3 -2.8M980.7 354.9l-1.3 3.9m2.6 -1.3l-3.9 -1.3M980.2 360.8l-3.7 1.8m2.8 0.9l-1.8 -3.7M977.1 363.9l-4 -0.9m1.5 2.5l0.9 -4M974.1 361.4l-2.9 2.9m2.9 -0l-2.9 -2.9M971.1 366.2l-4.1 0.6m2.3 1.7l-0.6 -4.1M964.7 367l-4 0.9m2.5 1.6l-0.9 -4M961.1 368.4l-4.1 -0.3m1.9 2.2l0.3 -4.1M958.4 368.3l-4.1 -0.4m1.8 2.3l0.4 -4.1M952.2 367l-4 0.9m2.5 1.5l-0.9 -4M948.8 369.2l-3.6 -1.9m0.9 2.8l1.9 -3.6M947.1 368.6l-3.4 -2.3m0.5 2.9l2.3 -3.4M942.2 364.8l-3.7 -1.8m1 2.7l1.8 -3.7M939 364.1l-2.7 -3.1m-0.2 2.9l3.1 -2.7M937 361.8l-2.9 -2.9m0 2.9l2.9 -2.9M934.6 358.3l-3.8 -1.7m1.1 2.7l1.7 -3.8M931.2 357.5l-3 -2.8m0.1 2.9l2.8 -3M928.4 355.2l-2.7 -3.2m-0.2 2.9l3.2 -2.7M924.1 352.8l1.1 -4m-2.5 1.5l4 1.1M927.2 348.7l-3.3 -2.5m0.4 2.9l2.5 -3.3M923.8 348l-0.5 -4.1m-1.8 2.3l4.1 -0.5M921.7 343l2.4 -3.3m-2.9 0.4l3.3 2.4M924.9 340.9l-0.2 -4.1m-1.9 2.2l4.1 -0.2M924.6 334.7l0.2 4.1m1.9 -2.2l-4.1 0.2" stroke="#1d1152" stroke-width="2" fill="none"/>
<path d="M976.8 339.7l1.2 3M976.8 339.7l-3.2 1.1M968.4 348.9l-0.2 -1.5M968.4 348.9l2.3 1.8M973.5 340.8l4.4 1.8M973.1 361l2.1 -4.9M973.1 361l-2.9 -5.2M968.4 340l5.2 0.8M968.4 340l0.7 5.8M975.1 356.1l-4.9 -0.4M975.1 356.1l4.8 -1.8M977.9 342.7l2.6 3.3M970.2 355.7l0.5 -5.1M979.9 354.3l0.6 -8.3M970.7 350.7l-2.5 -3.3M982.4 342.9l-1.9 3M982.4 342.9l-4.5 -0.3M968.2 347.4l0.8 -1.6M969 345.8l-0.6 3.1M968.4 340l-0.1 7.3M970.2 355.7l6.6 -16M977.9 342.7l-4.9 18.3M975.1 356.1l5.4 -10.1M982.4 342.9l-2.5 11.3" fill="none" stroke="#1a1a1a" stroke-width="1.1"/>
<path d="M975.7 338l2.1 3.4m0.6 -2.8l-3.4 2.1M969.8 347.5l-2.9 2.7m2.8 0.1l-2.7 -2.9M973.5 338.8l0 4m2 -2l-4 0M974.4 359.4l-2.6 3m2.8 -0.2l-3 -2.6M968.6 338l-0.6 4m2.3 -1.7l-4 -0.6M974.7 354.2l0.9 3.9m1.5 -2.4l-3.9 0.9M976.5 341.3l2.9 2.8m-0.1 -2.8l-2.8 2.9M969 354.1l2.4 3.2m0.4 -2.8l-3.2 2.4M981.9 354l-4 0.5m2.2 1.8l-0.5 -4M982 341l0.8 3.9m1.6 -2.3l-3.9 0.8M969.3 345.6l-2.1 3.4m2.7 -0.7l-3.4 -2.1M967 345.8l4 0m-2 -2l-0 4M979.7 344.1l1.6 3.6m1 -2.6l-3.6 1.6" stroke="#1d1152" stroke-width="1.9" fill="none"/>
<path d="M970.1 348.7l1.2 3.8m1.3 -2.5l-3.8 1.2" stroke="#d8d8d4" stroke-width="1.9" fill="none"/>
<path d="M1054.5 318.8l-0.4 -0M1054.5 318.8l0.6 0.6M1057.4 318.3l-1.1 1.3M1057.4 318.3l-2.4 1M1054.1 318.8l1 0.6M1053.2 323.8l1.9 -4.4M1053.2 323.8l0.9 -5M1050 319.6l1.2 -0.8M1050 319.6l4.1 -0.8M1051.2 318.8l2.9 -0M1056.3 319.6l-1.2 -0.2" fill="none" stroke="#1a1a1a" stroke-width="1.1"/>
<path d="M1054.6 316.8l-0.1 4m2.1 -1.9l-4 -0.1M1056.9 316.4l1.1 3.8m1.4 -2.5l-3.8 1.1M1054.2 316.8l-0.2 4m2.1 -1.9l-4 -0.2M1054.6 322.4l-2.9 2.8m2.8 0.1l-2.8 -2.9M1050.9 317.8l-1.8 3.6m2.7 -0.9l-3.6 -1.8M1052 316.9l-1.4 3.7m2.6 -1.1l-3.7 -1.4M1053.2 318.7l3.8 1.2m-1.3 -2.5l-1.2 3.8M1055.5 317.7l1.6 3.7m1 -2.6l-3.7 1.6" stroke="#1d1152" stroke-width="1.9" fill="none"/>
<path d="M1077 313.1L1087.3 313.9L1095 307.3L1084.6 306.3Z" fill="none" stroke="#1a1a1a" stroke-width="1.1"/>
<path d="M1085.7 314.5L1089 313.3" fill="none" stroke="#1d1152" stroke-width="3" stroke-linecap="butt" stroke-linejoin="round" />
<path d="M1083 306.9L1086.3 305.7" fill="none" stroke="#1d1152" stroke-width="3" stroke-linecap="butt" stroke-linejoin="round" />
<path d="M1346 227.2L1357.9 223.8L1366 216L1353.9 219.3Z" fill="none" stroke="#1a1a1a" stroke-width="1.1"/>
<path d="M1356.6 224.9L1359.2 222.6" fill="none" stroke="#1d1152" stroke-width="3" stroke-linecap="butt" stroke-linejoin="round" />
<path d="M1352.6 220.4L1355.2 218.1" fill="none" stroke="#1d1152" stroke-width="3" stroke-linecap="butt" stroke-linejoin="round" />
<path d="M91.4 184.9L85.7 175.1L97.2 175.1Z" fill="#1a1a1a"/>
<text x="25.5" y="197.5" font-size="43.5" font-weight="normal" fill="#1a1a1a" textLength="33.5" lengthAdjust="spacingAndGlyphs">1p</text>
<path d="M90 349L186.7 414.5L243.2 453.1L270 471" fill="none" stroke="#6f6565" stroke-width="6.3" stroke-linecap="butt" stroke-linejoin="round" />
<path d="M280 477.3L287 481.4L297.9 486.9L315.9 496.5L322.9 500.6L329.5 505.3L335.7 510.6L338.5 513.5L344 519.5" fill="none" stroke="#6f6565" stroke-width="6.3" stroke-linecap="butt" stroke-linejoin="round" />
<path d="M288.4 461L278.6 466.8L278.6 455.2Z" fill="#1a1a1a"/>
<path d="M364.4 512.7L354.6 518.5L354.6 507Z" fill="#1a1a1a"/>
<path d="M355.5 531.7L366.2 537.2L369.3 539.8L372.9 541.5L376.8 542.1L380.8 542.4L396.9 542.7L429 542.5L465.2 542.9L481.2 543.5L537.4 546.2L581.6 547.4L601.7 547.6L625.8 547.6L649.9 547.3L665.9 546.8L690 545.3L718 543.2L734 541.7L762 538.8" fill="none" stroke="#1a1a1a" stroke-width="1.3" stroke-linecap="butt" stroke-linejoin="round" />
<path d="M773 537.7L797.1 535.3L813.1 533.3L821 531.8L836.7 528.4L868.1 521L883.7 516.9L922.6 506.3L942.2 501.5L949.9 499.3L976.7 490.6L1010.9 478.5L1041.1 467.2L1044.9 465.7L1088.6 445.1L1117.7 431.1L1139.3 420.3L1157.2 411L1182.1 397.7L1231.6 370.7" fill="none" stroke="#1a1a1a" stroke-width="1.3" stroke-linecap="butt" stroke-linejoin="round" />
<path d="M354.2 530.8L357.8 534.2" fill="none" stroke="#6f6565" stroke-width="5" stroke-linecap="butt" stroke-linejoin="round" />
<path d="M463.5 542.8L468.3 542.9L473 543.1" fill="none" stroke="#6f6565" stroke-width="6.3" stroke-linecap="butt" stroke-linejoin="round" />
<path d="M628 547.5L632.5 547.5L637 547.5" fill="none" stroke="#6f6565" stroke-width="6.3" stroke-linecap="butt" stroke-linejoin="round" />
<path d="M667.7 546.7L692.3 545.1L721.1 542.9L762 538.8" fill="none" stroke="#6f6565" stroke-width="6.3" stroke-linecap="butt" stroke-linejoin="round" />
<path d="M773 537.7L798 535.2" fill="none" stroke="#6f6565" stroke-width="6.3" stroke-linecap="butt" stroke-linejoin="round" />
<path d="M822 531.6L845.6 526.4L869.2 520.7L884.8 516.6L923.7 506" fill="none" stroke="#6f6565" stroke-width="6.3" stroke-linecap="butt" stroke-linejoin="round" />
<path d="M949 499.6L964.5 494.7L987.7 486.8L1010.8 478.6L1033.7 470" fill="none" stroke="#6f6565" stroke-width="6.3" stroke-linecap="butt" stroke-linejoin="round" />
<path d="M1055.7 460.6L1103.1 438.2L1139.3 420.4L1174.9 401.6L1231.6 370.7" fill="none" stroke="#6f6565" stroke-width="6.3" stroke-linecap="butt" stroke-linejoin="round" />
<path d="M387.1 542.6L391.9 542.7" fill="none" stroke="#6f6565" stroke-width="6.3" stroke-linecap="butt" stroke-linejoin="round" />
<path d="M407.1 542.7L411.9 542.6" fill="none" stroke="#6f6565" stroke-width="6.3" stroke-linecap="butt" stroke-linejoin="round" />
<path d="M428.6 542.5L433.4 542.5" fill="none" stroke="#6f6565" stroke-width="6.3" stroke-linecap="butt" stroke-linejoin="round" />
<path d="M443.6 542.6L448.4 542.6" fill="none" stroke="#6f6565" stroke-width="6.3" stroke-linecap="butt" stroke-linejoin="round" />
<path d="M520.1 545.5L524.9 545.7" fill="none" stroke="#6f6565" stroke-width="6.3" stroke-linecap="butt" stroke-linejoin="round" />
<path d="M541.6 546.4L546.4 546.5" fill="none" stroke="#6f6565" stroke-width="6.3" stroke-linecap="butt" stroke-linejoin="round" />
<path d="M588.1 547.5L592.9 547.5" fill="none" stroke="#6f6565" stroke-width="6.3" stroke-linecap="butt" stroke-linejoin="round" />
<path d="M602.6 547.6L607.4 547.6" fill="none" stroke="#6f6565" stroke-width="6.3" stroke-linecap="butt" stroke-linejoin="round" />
<path d="M611.6 547.6L616.4 547.6" fill="none" stroke="#6f6565" stroke-width="6.3" stroke-linecap="butt" stroke-linejoin="round" />
<circle cx="410" cy="542.5" r="3.5" fill="none" stroke="#1a1a1a" stroke-width="1"/>
<path d="M494.6 549.9l-3.5 1.2M494.6 549.9l-3.8 1.8M491.1 551.1l-0.3 0.6M491.1 551.1l-1.9 -0.3M489.2 550.9l1.6 0.9M500.6 541.2l-0.5 1.3M500.6 541.2l1.5 0.9M497.8 546.2l1.1 1.6M497.8 546.2l2.3 -3.7M506.7 545.4l-1.6 4M506.7 545.4l-4.6 -3.3M490.4 544.3l0.3 -1.8M490.4 544.3l-3.5 0.1M494 554.3l-3.2 -2.5M494 554.3l-2.9 -3.2M490.6 542.5l3.2 -0.2M498.9 547.8l-4.2 2.2M493.8 542.3l-3.5 2M505.1 549.4l-6.2 -1.7M502.1 542.1l-2 0.4M486.9 544.4l3.7 -1.9M494 554.3l3.8 -8.1M502.1 542.1l3 7.3" fill="none" stroke="#1a1a1a" stroke-width="1.1"/>
<path d="M495.3 547.9l-1.3 4m2.7 -1.4l-4 -1.3M489.1 550.5l4.1 1.3m-1.4 -2.7l-1.3 4.1M491.3 550.3l-4.1 1.2m2.6 1.4l-1.2 -4.1M502.7 541.1l-4.2 0.1m2.2 2.1l-0.1 -4.2M506.3 543.4l0.7 4.2m1.7 -2.5l-4.2 0.7M490.8 542.2l-0.8 4.2m2.5 -1.7l-4.2 -0.8M488.6 541.7l4 1.6m-1.2 -2.8l-1.6 4M495.7 541.3l-3.8 1.9m2.8 1l-1.9 -3.8M505.1 547.3l0 4.2m2.1 -2.1l-4.2 0M489.4 550.1l2.7 3.3m0.3 -3l-3.3 2.7M502.8 540.1l-1.5 4m2.7 -1.3l-4 -1.5M498 542.3l4.2 0.5m-1.9 -2.4l-0.5 4.2" stroke="#6f6565" stroke-width="2" fill="none"/>
<path d="M497.5 544.1l0.6 4.2m1.8 -2.4l-4.2 0.6M492 553.6l4 1.3m-1.4 -2.7l-1.3 4M497.8 545.9l2.1 3.7m0.8 -2.9l-3.7 2.1M485 543.5l3.9 1.8m-1 -2.8l-1.8 3.9" stroke="#d8d8d4" stroke-width="2" fill="none"/>
<circle cx="500" cy="551" r="4.5" fill="none" stroke="#1a1a1a" stroke-width="1.2"/>
<circle cx="489" cy="541" r="4" fill="none" stroke="#1a1a1a" stroke-width="1.2"/>
<circle cx="565.5" cy="554" r="4.5" fill="none" stroke="#1a1a1a" stroke-width="1.2"/>
<path d="M563.9 556.8l1.5 -2.2M563.9 556.8l4.3 -0.8M565.5 554.6l2.8 1.4M562.3 552.1l3.2 2.5M562.3 552.1l1.6 4.7M568.2 552.3l-2.8 2.4M568.2 552.3l-0 3.8M567.5 547.5l0.7 4.8M567.5 547.5l-5.2 4.6M563.9 556.8l3.6 -9.3M567.5 547.5l-2.1 7.1" fill="none" stroke="#1a1a1a" stroke-width="1.1"/>
<path d="M562.2 555.8l3.5 1.9m-0.8 -2.7l-1.9 3.5M563.5 554.3l4 0.6m-1.7 -2.3l-0.6 4M561.4 550.3l1.8 3.6m0.9 -2.7l-3.6 1.8M567.1 550.6l2.3 3.3m0.5 -2.8l-3.3 2.3" stroke="#d8d8d4" stroke-width="1.9" fill="none"/>
<path d="M565.8 546.5l3.5 2m-0.7 -2.7l-2 3.5M569.6 554.6l-2.7 2.9m2.8 -0.1l-2.9 -2.7" stroke="#6f6565" stroke-width="1.9" fill="none"/>
<path d="M655.4 552.3l0.5 -0.2M655.4 552.3l0.5 2.6M656.9 548.8l-1 3.4M656.9 548.8l-1.5 3.5M655.9 554.9l-0.9 0.8M655.9 552.2l0 2.7M655 555.7l0.4 -3.3" fill="none" stroke="#1a1a1a" stroke-width="1.1"/>
<path d="M654.3 550.7l2.3 3.3m0.5 -2.8l-3.3 2.3M654.9 548.4l3.9 0.7m-1.6 -2.3l-0.7 3.9M657.3 553.4l-2.7 3m2.8 -0.1l-3 -2.7M657.7 551.2l-3.5 1.9m2.7 0.8l-1.9 -3.5M655.4 553.7l-0.7 3.9m2.3 -1.6l-3.9 -0.7" stroke="#6f6565" stroke-width="1.9" fill="none"/>
<path d="M809.1 537.9l2.1 -1.6M809.1 537.9l1.8 -2.2M810.9 535.6l0.3 0.6M808 532.9l2.9 2.7M808 532.9l3.2 3.3" fill="none" stroke="#1a1a1a" stroke-width="1.1"/>
<path d="M810.7 536.6l-3.1 2.6m2.8 0.2l-2.6 -3.1M809 535.1l3.9 1.1m-1.4 -2.5l-1.1 3.9M809.8 532l-3.5 1.9m2.7 0.8l-1.9 -3.5" stroke="#6f6565" stroke-width="1.9" fill="none"/>
<path d="M809.9 534.8l2.8 2.9m0 -2.8l-2.9 2.8" stroke="#d8d8d4" stroke-width="1.9" fill="none"/>
<path d="M925 505.7L937.1 505.3L948 499.9L936 500.4Z" fill="none" stroke="#1a1a1a" stroke-width="1.1"/>
<path d="M935.4 505.7L938.8 504.9" fill="none" stroke="#d8d8d4" stroke-width="3" stroke-linecap="butt" stroke-linejoin="round" />
<path d="M934.3 500.8L937.7 500.1" fill="none" stroke="#6f6565" stroke-width="3" stroke-linecap="butt" stroke-linejoin="round" />
<path d="M1035 469.5L1045.7 468L1054 461.4L1043.6 463.5Z" fill="none" stroke="#1a1a1a" stroke-width="1.1"/>
<path d="M1044.1 468.8L1047.3 467.3" fill="none" stroke="#d8d8d4" stroke-width="3" stroke-linecap="butt" stroke-linejoin="round" />
<path d="M1042 464.2L1045.2 462.8" fill="none" stroke="#6f6565" stroke-width="3" stroke-linecap="butt" stroke-linejoin="round" />
<path d="M768.7 529.9L763 520.1L774.5 520.1Z" fill="#1a1a1a"/>
<path d="M371.5 542L369 556L357 572L348 585L338.5 592.5" fill="none" stroke="#1a1a1a" stroke-width="1.2" stroke-linecap="butt" stroke-linejoin="round" />
<path d="M370.5 548L370 565L370.5 590" fill="none" stroke="#1a1a1a" stroke-width="1.2" stroke-linecap="butt" stroke-linejoin="round" />
<path d="M357 572L352 578L346 571L355 584" fill="none" stroke="#1a1a1a" stroke-width="1.2" stroke-linecap="butt" stroke-linejoin="round" />
<path d="M371.3 545.8l-0.7 4.4m2.6 -1.9l-4.4 -0.7M371.1 563.4l-3.2 3.2m3.2 0l-3.2 -3.2M362.6 568.4l-3.2 3.2m3.2 -0l-3.2 -3.2M356.1 573.1l-4.1 1.9m3 1.1l-1.9 -4.1M345.6 570.2l2.8 3.5m0.4 -3.2l-3.5 2.8M352.2 580.8l-4.5 0.5m2.5 2l-0.5 -4.5M345.5 585.8l-0.9 4.4m2.7 -1.7l-4.4 -0.9M340.6 590.4l-3.2 3.2m3.2 -0l-3.2 -3.2M371.6 576.4l-3.2 3.1m3.2 0l-3.1 -3.2M373.2 585.5l-4.4 1m2.7 1.7l-1 -4.4M367.5 589.3l2.9 3.4m0.2 -3.2l-3.4 2.9M354.1 579.9l1.8 4.1m1.1 -3l-4.1 1.8" stroke="#6f6565" stroke-width="2.2" fill="none"/>
<rect x="320.5" y="523.5" width="80" height="79.5" fill="none" stroke="#1a1a1a" stroke-width="1.1"/>
<text x="25.5" y="360.5" font-size="43.5" font-weight="normal" fill="#1a1a1a" textLength="37.5" lengthAdjust="spacingAndGlyphs">2p</text>
<text x="216" y="575.5" font-size="43.5" font-weight="normal" fill="#1a1a1a" textLength="70" lengthAdjust="spacingAndGlyphs">2p11</text>
<path d="M90 657.7L237.8 671.4L309.7 677.7L353.7 681L401.8 684.2L441.8 686.5L461.9 687.3L526.1 686.2L582.2 684.7L630.3 682.5L682.4 679.5L750.4 674.9L786.4 671.9L822.3 668.2L890 660" fill="none" stroke="#1a1a1a" stroke-width="1.3" stroke-linecap="butt" stroke-linejoin="round" />
<path d="M90 657.7L189.9 667.1L261.9 673.6L301.8 677.1L369.9 682.1L438 686.3" fill="none" stroke="#2b9db1" stroke-width="6" stroke-linecap="butt" stroke-linejoin="round" />
<path d="M483 687L547 685.7L599 684L650.9 681.4L710.8 677.6L758.7 674.3L794.6 671.1L830.4 667.2L890 660" fill="none" stroke="#2b9db1" stroke-width="6" stroke-linecap="butt" stroke-linejoin="round" />
<path d="M452.6 687.1L456.4 687.2" fill="none" stroke="#2b9db1" stroke-width="6.3" stroke-linecap="butt" stroke-linejoin="round" />
<path d="M461.1 687.3L464.9 687.3" fill="none" stroke="#2b9db1" stroke-width="6.3" stroke-linecap="butt" stroke-linejoin="round" />
<path d="M468.1 687.3L471.9 687.2" fill="none" stroke="#2b9db1" stroke-width="6.3" stroke-linecap="butt" stroke-linejoin="round" />
<path d="M468 687L472 693L476 688" fill="none" stroke="#1a1a1a" stroke-width="1.2" stroke-linecap="butt" stroke-linejoin="round" />
<text x="25.5" y="668.5" font-size="43.5" font-weight="normal" fill="#1a1a1a" textLength="37.5" lengthAdjust="spacingAndGlyphs">3p</text>
<path d="M114 778.6L151 794.1L180.8 806.3L237 828L255.6 835.5L274.1 843.4L303.4 856.5L325.2 866.9L332.5 870.2L343.7 874.6L355.2 878.2L366.9 881.4L382.5 885.2L402.1 889.4L414 891.5L437.9 894.7L501.4 904L517.4 906.2L553.4 909.7L573.4 911L585.4 911.2L593.5 911.1L605.5 910.5L617.5 909.6L629.5 908.3L645.5 906.4L661.4 904.1L673.3 902.2L689.1 899.2L704.7 895.4L716.3 892.2L766.3 877.3L781.7 872.5L796.8 867.2L808 862.7L822.7 856.1L837 848.9L854.7 839.4L865.1 833.2L888.9 818.3L895.8 814.1L899.3 812.3L903.1 811L907 810.1" fill="none" stroke="#1a1a1a" stroke-width="1.3" stroke-linecap="butt" stroke-linejoin="round" />
<path d="M915.5 805.2L943.4 786.7L950.5 782.3L954.2 780.3L958.2 779L962.3 778.5" fill="none" stroke="#1a1a1a" stroke-width="1.3" stroke-linecap="butt" stroke-linejoin="round" />
<path d="M968.3 776.4L980.4 771.8L988.3 768.3L995.9 764.2L1007 757.5" fill="none" stroke="#1a1a1a" stroke-width="1.3" stroke-linecap="butt" stroke-linejoin="round" />
<path d="M85.6 765.7L97.9 771.2L106 775.1" fill="none" stroke="#8fbe14" stroke-width="6.3" stroke-linecap="butt" stroke-linejoin="round" />
<path d="M114 778.6L155.1 795.8L181.3 806.5L253 834.4" fill="none" stroke="#8fbe14" stroke-width="6.3" stroke-linecap="butt" stroke-linejoin="round" />
<path d="M291.4 851.2L303 856.4" fill="none" stroke="#8fbe14" stroke-width="6.3" stroke-linecap="butt" stroke-linejoin="round" />
<path d="M477 900.4L508.8 905.1L524.8 907L560.9 910.3L572.9 911L585 911.2L597 911L605.1 910.5L617.1 909.6L633.1 907.9L645.1 906.4L661 904.2L676.9 901.5L688.7 899.3L700.5 896.5L712.1 893.4L766.1 877.4L785.3 871.3L796.7 867.3L804.2 864.3L811.6 861.2L822.5 856.2L840.5 847.1L858.1 837.4L868.4 831.1L888.8 818.3L895.8 814.1L899.3 812.3L903.1 811L907 810.1" fill="none" stroke="#8fbe14" stroke-width="6.3" stroke-linecap="butt" stroke-linejoin="round" />
<path d="M915.5 805.2L943.4 786.7L950.5 782.3L954.2 780.3L958.2 779L962.3 778.5" fill="none" stroke="#8fbe14" stroke-width="6.3" stroke-linecap="butt" stroke-linejoin="round" />
<path d="M968.3 776.4L980.6 771.7L988.7 768.2" fill="none" stroke="#8fbe14" stroke-width="6.3" stroke-linecap="butt" stroke-linejoin="round" />
<path d="M262.3 838.2L265.7 839.7" fill="none" stroke="#8fbe14" stroke-width="6.5" stroke-linecap="butt" stroke-linejoin="round" />
<path d="M274.3 843.4L277.7 845" fill="none" stroke="#8fbe14" stroke-width="6.5" stroke-linecap="butt" stroke-linejoin="round" />
<path d="M315.8 862.4L319.2 864.1" fill="none" stroke="#8fbe14" stroke-width="6.5" stroke-linecap="butt" stroke-linejoin="round" />
<path d="M331.3 869.7L334.7 871.1" fill="none" stroke="#8fbe14" stroke-width="6.5" stroke-linecap="butt" stroke-linejoin="round" />
<path d="M358.2 879L361.8 880" fill="none" stroke="#8fbe14" stroke-width="6.5" stroke-linecap="butt" stroke-linejoin="round" />
<path d="M377.1 883.9L380.9 884.8" fill="none" stroke="#8fbe14" stroke-width="6.5" stroke-linecap="butt" stroke-linejoin="round" />
<path d="M434.1 894.2L437.9 894.7" fill="none" stroke="#8fbe14" stroke-width="6.5" stroke-linecap="butt" stroke-linejoin="round" />
<path d="M457.6 897.6L461.4 898.2" fill="none" stroke="#8fbe14" stroke-width="6.5" stroke-linecap="butt" stroke-linejoin="round" />
<path d="M995.6 763.2L998.8 761.3" fill="none" stroke="#8fbe14" stroke-width="6.3" stroke-linecap="butt" stroke-linejoin="round" />
<path d="M1005 757.6L1008.2 755.6" fill="none" stroke="#8fbe14" stroke-width="6.5" stroke-linecap="butt" stroke-linejoin="round" />
<path d="M1001.7 759.5L1004.3 758" fill="none" stroke="#c8c8c4" stroke-width="4" stroke-linecap="butt" stroke-linejoin="round" />
<path d="M266.8 840.8l1.7 1.2M266.8 840.8l2 3.7M268.8 844.5l1.5 -0.9M268.8 844.5l2 -0.2M268.5 842.1l1.8 1.5M270.3 843.6l0.5 0.7M270.3 843.6l1.1 -1.1M270.8 844.3l0.6 -1.8M268.5 842.1l0.2 2.5" fill="none" stroke="#1a1a1a" stroke-width="1.1"/>
<path d="M264.7 840.5l4.2 0.8m-1.7 -2.5l-0.8 4.2M266.7 844.3l4.2 0.4m-1.9 -2.3l-0.4 4.2M270.4 841.1l-3.7 2m2.9 0.8l-2 -3.7M271.7 842l-2.8 3.2m3 -0.2l-3.2 -2.8M268.8 843.5l3.9 1.6m-1.2 -2.8l-1.6 3.9M269.4 841.7l3.9 1.6m-1.2 -2.8l-1.6 3.9" stroke="#8fbe14" stroke-width="2" fill="none"/>
<path d="M344.7 871.3l-2.6 0M344.7 871.3l-3.6 1.3M340.3 873.2l0.8 -0.7M340.3 873.2l1.8 -1.9M345.8 877.8l0.8 0.2M345.8 877.8l-1 -1.3M342.1 871.3l-1 1.3M339.6 876.1l0 0.8M339.6 876.1l0.7 -2.8M344.8 876.4l1.9 1.5M339.6 876.9l0.7 -3.7M339.6 876.9l1.4 -4.3" fill="none" stroke="#1a1a1a" stroke-width="1.1"/>
<path d="M346.9 871.1l-4.5 0.4m2.4 2.1l-0.4 -4.5M340.7 871l-0.7 4.4m2.6 -1.9l-4.4 -0.7M346.7 875.7l-1.6 4.2m2.9 -1.3l-4.2 -1.6M342.6 869.1l-1.1 4.4m2.7 -1.6l-4.4 -1.1M337.4 875.7l4.5 0.6m-1.9 -2.5l-0.6 4.5M343.4 874.7l2.8 3.6m0.4 -3.2l-3.6 2.8M345.2 876.3l2.9 3.4m0.3 -3.2l-3.4 2.9M340.2 870.5l1.9 4.1m1.1 -3l-4.1 1.9" stroke="#8fbe14" stroke-width="2.2" fill="none"/>
<path d="M338 875.4l3.3 3m-0.2 -3.2l-3 3.3" stroke="#d8d8d4" stroke-width="2.2" fill="none"/>
<path d="M391.6 891.1l-1 0.8M391.6 891.1l-1.1 1.7M391.6 891.1l1.3 3.4M408.5 899l-1.6 -0.1M408.5 899l1 1.2M408.5 899l-2.7 2.9M401.5 892l1.9 -0.1M401.5 892l1.7 1.8M401.5 892l-1.6 4.5M387.6 890.4l3 1.5M387.6 890.4l2.9 2.5M387.6 890.4l4 0.7M398.9 900.5l-1.1 -3.2M398.9 900.5l1 -4M398.9 900.5l4 2M404.5 898.1l-0.6 -1.3M404.5 898.1l2.4 0.8M404.5 898.1l1.3 3.8M400.9 884.2l-1.9 -1.9M400.9 884.2l0.3 -3.3M400.9 884.2l-1.8 -3.1M414.2 899.7l-0.8 -2.7M414.2 899.7l-4.7 0.6M414.2 899.7l3.7 -3.6M399 882.3l0 -1.1M399 882.3l2.2 -1.4M403.4 891.9l-0.2 1.9M403.4 891.9l2.5 -3.1M411.7 894.3l1.8 2.6M411.7 894.3l3.7 -1.8M411.7 894.3l-3.2 4.7M403.2 893.8l0.7 3M399.1 881.2l2.1 -0.3M413.9 887.1l1.9 0.8M413.9 887.1l0.6 2.1M413.9 887.1l1.6 5.4M415.4 892.5l2.6 0.7M415.4 892.5l2.5 1.9M415.4 892.5l-1 -3.3M405.7 902.4l0.1 -0.5M405.7 902.4l-2.8 0.1M405.7 902.4l1.2 -3.5M408.7 882.3l1.1 -0M408.7 882.3l-3.3 4M408.7 882.3l5.1 4.8M406.9 898.9l2.6 1.4M415.8 888l-1.3 1.3M415.8 888l-0.3 4.6M403.9 896.8l3 2.1M392.3 900.4l-0.4 -1M392.3 900.4l-2.6 -4.4M392.3 900.4l0.6 -5.9M405.9 888.8l-0.5 -2.6M405.9 888.8l-4.4 3.1M393 894.5l-2.5 -1.7M393 894.5l-3.2 1.4M393 894.5l-2.3 -2.6M418 893.2l-0.1 1.2M418 893.2l-0.1 2.8M390.6 891.9l-0.1 1M417.9 894.4l-0 1.6M389.8 896l0.7 -3.1M389.8 896l2.2 3.4M391.9 899.4l1 -4.9M397.8 897.2l2.1 -0.8M397.8 897.2l-4.9 -2.7M402.9 902.5l2.8 -0.6M409.5 900.2l-3.7 1.7M409.8 882.2l-4.4 4M409.8 882.2l4.1 4.9M399.9 896.4l4 0.4M405.4 886.2l-4.5 -2M405.8 901.9l1.2 -3M397.5 888.3l3.4 -4.1M397.5 888.3l4 3.6M397.5 888.3l-4.5 -4.1M392.9 884.3l6.1 -2M392.9 884.3l6.1 -3.1M413.5 896.9l4.4 -0.9M417.9 896.1l-2.4 -3.5M390.6 891.9l2.3 -7.6M392.9 884.3l-2.5 8.6M389.8 896l1.8 -4.9M392.3 900.4l6.7 -19.2M403.4 891.9l2 -5.7M403.2 893.8l2.7 -5M405.9 888.8l-2 8M408.7 882.3l-5.8 20.2M404.5 898.1l5.3 -15.9M409.8 882.2l-4 19.7M409.5 900.2l4.4 -13.1M415.8 888l-2.3 9M413.5 896.9l2 -4.4M414.2 899.7l3.8 -6.4" fill="none" stroke="#1a1a1a" stroke-width="1.1"/>
<path d="M389.5 890.1l4.3 2.1m-1.1 -3.2l-2.1 4.3M410.1 897.2l-3.1 3.6m3.4 -0.2l-3.6 -3.1M402.5 889.8l-2 4.3m3.2 -1.1l-4.3 -2M388.8 888.3l-2.4 4.1m3.2 -0.9l-4.1 -2.4M398.8 898.1l0.3 4.7m2.2 -2.5l-4.7 0.3M406.8 897.5l-4.6 1.3m2.9 1.6l-1.3 -4.6M401.3 881.9l-0.7 4.7m2.7 -2l-4.7 -0.7M415 897.5l-1.6 4.5m3 -1.4l-4.5 -1.6M399.2 879.9l-0.3 4.7m2.5 -2.2l-4.7 -0.3M401.5 890.4l3.7 3m-0.4 -3.3l-3 3.7M412.7 892.2l-2 4.3m3.2 -1.1l-4.3 -2M404 891.6l-1.6 4.5m3 -1.5l-4.5 -1.6M415.2 885.2l-2.8 3.8m3.3 -0.5l-3.8 -2.8M417.7 891.8l-4.5 1.6m3 1.5l-1.6 -4.5M408.1 902.3l-4.7 0.2m2.5 2.3l-0.2 -4.7M410.3 880.5l-3.1 3.6m3.4 -0.2l-3.6 -3.1M405.3 897.2l3.3 3.4m0.1 -3.4l-3.4 3.3M415.5 885.6l0.6 4.7m2.1 -2.6l-4.7 0.6M402.8 894.7l2.3 4.2m1 -3.2l-4.2 2.3M390.7 898.6l3.2 3.5m0.2 -3.4l-3.5 3.2M407.9 887.5l-3.9 2.7m3.3 0.6l-2.7 -3.9M392 892.3l2 4.3m1.2 -3.1l-4.3 2M419.4 891.3l-2.8 3.9m3.3 -0.5l-3.9 -2.8M389.3 889.9l2.7 3.9m0.6 -3.3l-3.9 2.7M416.2 892.8l3.5 3.2m-0.1 -3.4l-3.2 3.5M388.8 893.8l1.8 4.4m1.3 -3.1l-4.4 1.8M390.2 897.8l3.5 3.3m-0.1 -3.4l-3.3 3.5M390.7 890.5l-0.4 4.7m2.6 -2.2l-4.7 -0.4M399.7 895.8l-3.7 2.9m3.3 0.4l-2.9 -3.7M400.9 901.2l4 2.5m-0.7 -3.3l-2.5 4M410.1 898l-1.3 4.6m2.9 -1.6l-4.6 -1.3M416.7 888.6l-4.5 1.4m3 1.6l-1.4 -4.5M409.8 879.9l0 4.7m2.4 -2.4l-4.7 0M398 895.1l4 2.6m-0.7 -3.3l-2.6 4M407.6 885.4l-4.4 1.7m3.1 1.4l-1.7 -4.4M405.9 899.5l-0.2 4.7m2.5 -2.3l-4.7 -0.2M399.5 887.1l-4.1 2.4m3.2 0.9l-2.4 -4.1M394.7 882.6l-3.4 3.3m3.4 0.1l-3.3 -3.4M411.4 895.8l4.2 2.2m-1 -3.2l-2.2 4.2M417.1 893.8l1.6 4.5m1.5 -3l-4.5 1.6" stroke="#8fbe14" stroke-width="2.3" fill="none"/>
<path d="M396.8 880.4l4.5 1.6m-1.4 -3l-1.6 4.5M399.2 879.6l4 2.6m-0.7 -3.3l-2.6 4" stroke="#d8d8d4" stroke-width="2.3" fill="none"/>
<path d="M460.5 900.3l-1.5 -0.2M460.5 900.3l2.7 -2.2M463.2 898.1l-4.2 2" fill="none" stroke="#1a1a1a" stroke-width="1.1"/>
<path d="M459.8 898.2l1.2 4.1m1.4 -2.7l-4.1 1.2M462.1 896.2l2.2 3.6m0.7 -2.9l-3.6 2.2" stroke="#8fbe14" stroke-width="2" fill="none"/>
<path d="M460.8 899.1l-3.7 2m2.9 0.9l-2 -3.7" stroke="#d8d8d4" stroke-width="2" fill="none"/>
<path d="M122.9 761L113.1 766.8L113.1 755.2Z" fill="#1a1a1a"/>
<path d="M897.6 798.7L907.4 793L907.4 804.5Z" fill="#1a1a1a"/>
<path d="M953.6 766.5L963.4 760.8L963.4 772.2Z" fill="#1a1a1a"/>
<text x="25.5" y="774.1" font-size="43.5" font-weight="normal" fill="#1a1a1a" textLength="39" lengthAdjust="spacingAndGlyphs">4p</text>
<path d="M82.5 977L106.3 980.5L114.2 981.8L122.1 983.5L133.7 986.6L168.3 996.9L172.2 997.7L176.2 998L180.2 997.6L188.1 996.1L196.1 995.4L216.1 994.6L284.3 992.3L292.3 992.2L296.3 992.4L300.3 992.9L304.2 993.9L308 995.2L311.9 996L315.9 996L323.9 995L347.9 993.4L371.9 991.9L387.9 991.2L424 990.7L444.1 989.8L452.1 989.7L496.2 989.5L532.3 989.6L560.4 990L596.5 990.9L640.6 992.4L688.7 994.4L732.8 996.5L800.9 1000L881 1004.9" fill="none" stroke="#1a1a1a" stroke-width="1.3" stroke-linecap="butt" stroke-linejoin="round" />
<path d="M82.5 977L106.4 980.5L118.3 982.6L130 985.5L157 993.5" fill="none" stroke="#ee7a33" stroke-width="6" stroke-linecap="butt" stroke-linejoin="round" />
<path d="M194.4 995.5L210.4 994.8L278.6 992.4L286.6 992.2L294.6 992.3" fill="none" stroke="#ee7a33" stroke-width="6" stroke-linecap="butt" stroke-linejoin="round" />
<path d="M328 994.7L360 992.6L380 991.5L396 991.1L424 990.7" fill="none" stroke="#ee7a33" stroke-width="6" stroke-linecap="butt" stroke-linejoin="round" />
<path d="M459.5 989.6L507.8 989.5L548 989.8L588.2 990.7L628.4 992L688.7 994.4L740.9 996.9L817.2 1001L881.4 1004.9" fill="none" stroke="#ee7a33" stroke-width="6" stroke-linecap="butt" stroke-linejoin="round" />
<path d="M889 1005.4L891.6 1005.5" fill="none" stroke="#ee7a33" stroke-width="6" stroke-linecap="butt" stroke-linejoin="round" />
<path d="M157 993.5L163 1002L157 1010L147 1020" fill="none" stroke="#1a1a1a" stroke-width="1.2" stroke-linecap="butt" stroke-linejoin="round" />
<path d="M163 1002L172 999L185 996" fill="none" stroke="#1a1a1a" stroke-width="1.2" stroke-linecap="butt" stroke-linejoin="round" />
<path d="M157 1010L162 1004" fill="none" stroke="#1a1a1a" stroke-width="1.2" stroke-linecap="butt" stroke-linejoin="round" />
<path d="M166.4 996.4l3.2 3.1m-0.1 -3.2l-3.1 3.2M160 1003.8l-0 4.5m2.3 -2.2l-4.5 -0M153 1010.9l3.9 2.2m-0.9 -3.1l-2.2 3.9M164.9 1009.8l-3.8 2.4m3.1 0.7l-2.4 -3.8M149.3 1015.5l3.4 3m-0.2 -3.2l-3 3.4M181.4 996.8l-0.7 4.4m2.6 -1.9l-4.4 -0.7" stroke="#ee7a33" stroke-width="2.2" fill="none"/>
<path d="M149.1 1019.5l-4.1 1m2.6 1.6l-1 -4.1M180.3 993l1.3 4m1.3 -2.7l-4 1.3" stroke="#d8d8d4" stroke-width="2" fill="none"/>
<path d="M308.4 985.2L304.7 991.6L299.3 991.4L296.3 985.5L299.5 981L303 980.8Z" fill="none" stroke="#1a1a1a" stroke-width="1.2" stroke-linejoin="round"/>
<path d="M309.6 983.2l-2.3 3.9m3.1 -0.8l-3.9 -2.3M306.9 991.7l-4.5 -0.2m2.2 2.3l0.2 -4.5M300.4 993.4l-2.1 -4m-1 3l4 -2.1M294.9 987.3l2.6 -3.6m-3.1 0.5l3.6 2.6M297.2 981.2l4.5 -0.3m-2.4 -2.1l0.3 4.5M301.3 979.4l3.5 2.8m-0.3 -3.2l-2.8 3.5" stroke="#ee7a33" stroke-width="2.2" fill="none"/>
<circle cx="301" cy="987" r="5.5" fill="none" stroke="#1a1a1a" stroke-width="1.4"/>
<path d="M308 995.2L315 996.1" fill="none" stroke="#ee7a33" stroke-width="5" stroke-linecap="butt" stroke-linejoin="round" />
<path d="M327.4 1001.7L323.8 1005.9L320.2 1003.5L319.6 998.2L325 994.4Z" fill="none" stroke="#1a1a1a" stroke-width="1.2" stroke-linejoin="round"/>
<path d="M328.8 1000l-2.9 3.4m3.2 -0.3l-3.4 -2.9M325.6 1007.1l-3.7 -2.5m0.6 3.1l2.5 -3.7M320.4 1005.7l-0.5 -4.5m-2 2.5l4.5 -0.5M317.7 999.6l3.7 -2.6m-3.1 -0.5l2.6 3.7M324.3 992.2l1.4 4.3m1.4 -2.8l-4.3 1.4" stroke="#ee7a33" stroke-width="2.2" fill="none"/>
<path d="M443.9 989.4l-0.2 0.2M443.9 989.4l-0.1 0.8M450.3 988.7l-0.5 -0.8M450.3 988.7l-1.3 2.4M442.1 990l1.5 -0.4M442.1 990l1.6 0.1M441.1 992.4l1 -2.3M441.1 992.4l2.7 -2.2M449.1 991.1l0.8 -3.2M443.8 990.2l-0.1 -0.6M439.2 987.9l3 2.1M439.2 987.9l4.5 1.7M439.2 987.9l1.9 4.4M443.8 990.2l6.1 -2.3" fill="none" stroke="#1a1a1a" stroke-width="1.1"/>
<path d="M442 988.5l3.9 1.8m-1 -2.8l-1.8 3.9M452.5 988.5l-4.2 0.3m2.3 2l-0.3 -4.2M441.8 987.9l0.7 4.2m1.7 -2.4l-4.2 0.7M443.2 992.3l-4.2 0.2m2.2 2l-0.2 -4.2M449.9 989.1l-1.7 3.9m2.8 -1.1l-3.9 -1.7M442.7 987.7l2 3.7m0.8 -2.9l-3.7 2M449.4 985.8l1 4.1m1.6 -2.6l-4.1 1M438.3 986l1.8 3.9m1.1 -2.8l-3.9 1.8" stroke="#ee7a33" stroke-width="2" fill="none"/>
<path d="M443.7 988.1l0.2 4.2m2 -2.2l-4.2 0.2" stroke="#d8d8d4" stroke-width="2" fill="none"/>
<path d="M885 993.8L879.2 984L890.8 984Z" fill="#1a1a1a"/>
<text x="25.5" y="987.5" font-size="43.5" font-weight="normal" fill="#1a1a1a" textLength="37.5" lengthAdjust="spacingAndGlyphs">5p</text>
<path d="M80.5 1166L151.7 1154.4L159.6 1153L167.4 1151L179.2 1149L230.8 1141.4L282.4 1134.3L302.2 1131.2L318 1128.3L345.5 1122.9L408.2 1109.3L416.1 1108L432 1106" fill="none" stroke="#1a1a1a" stroke-width="1.3" stroke-linecap="butt" stroke-linejoin="round" />
<path d="M80.5 1166L154 1154" fill="none" stroke="#dc1414" stroke-width="6.5" stroke-linecap="butt" stroke-linejoin="round" />
<path d="M173 1150L228.8 1141.7L276.7 1135.2L292.6 1132.8" fill="none" stroke="#dc1414" stroke-width="6.5" stroke-linecap="butt" stroke-linejoin="round" />
<path d="M306.1 1130.5L309.9 1129.9" fill="none" stroke="#dc1414" stroke-width="6.3" stroke-linecap="butt" stroke-linejoin="round" />
<path d="M324.1 1127.2L327.9 1126.4" fill="none" stroke="#dc1414" stroke-width="6.3" stroke-linecap="butt" stroke-linejoin="round" />
<path d="M334.1 1125.2L337.9 1124.4" fill="none" stroke="#dc1414" stroke-width="6.3" stroke-linecap="butt" stroke-linejoin="round" />
<path d="M341.6 1123.7L345.4 1122.9" fill="none" stroke="#dc1414" stroke-width="6.3" stroke-linecap="butt" stroke-linejoin="round" />
<path d="M361.1 1119.6L364.9 1118.8" fill="none" stroke="#dc1414" stroke-width="6.3" stroke-linecap="butt" stroke-linejoin="round" />
<path d="M379.1 1115.7L382.9 1114.9" fill="none" stroke="#dc1414" stroke-width="6.3" stroke-linecap="butt" stroke-linejoin="round" />
<path d="M159 1148.4l-0 -1.4M159 1148.4l-1 1M160.9 1146.7l-1.9 0.3M160.9 1146.7l-1.9 1.7M157.9 1149.4l1 -2.3" fill="none" stroke="#1a1a1a" stroke-width="1.1"/>
<path d="M160.9 1147.7l-3.8 1.3m2.5 1.2l-1.3 -3.8M161.7 1144.9l-1.6 3.6m2.6 -1l-3.6 -1.6M157.5 1147.4l0.8 3.9m1.5 -2.4l-3.9 0.8M160.2 1145.5l-2.6 3m2.8 -0.2l-3 -2.6" stroke="#dc1414" stroke-width="1.9" fill="none"/>
<path d="M154 1154L160 1148L166 1152L173 1150" fill="none" stroke="#1a1a1a" stroke-width="1.2" stroke-linecap="butt" stroke-linejoin="round" />
<path d="M432 1106L447.9 1108.3L463.8 1109.9L475.8 1110.1L507.8 1109.6L608 1107.3L700 1104L804 1101L816 1100L852 1098.5" fill="none" stroke="#1a1a1a" stroke-width="1.3" stroke-linecap="butt" stroke-linejoin="round" />
<path d="M432 1106L448 1108.3L464.1 1109.9L472.2 1110.1L488.3 1109.9L536.8 1109L601.5 1107.5L702.5 1103.9L791.4 1101.3" fill="none" stroke="#dc1414" stroke-width="6.5" stroke-linecap="butt" stroke-linejoin="round" />
<path d="M816 1100L852 1098.5" fill="none" stroke="#dc1414" stroke-width="6.5" stroke-linecap="butt" stroke-linejoin="round" />
<path d="M792 1101.3L803.6 1103.5L815 1100.1L803.4 1098.5Z" fill="none" stroke="#1a1a1a" stroke-width="1.1"/>
<path d="M801.8 1103.6L805.3 1103.5" fill="none" stroke="#d8d8d4" stroke-width="3" stroke-linecap="butt" stroke-linejoin="round" />
<path d="M801.6 1098.6L805.1 1098.5" fill="none" stroke="#dc1414" stroke-width="3" stroke-linecap="butt" stroke-linejoin="round" />
<path d="M382.9 1115.3L389 1107.9L392.7 1103.1L394.1 1100.7L395.2 1098.6L395.8 1096.6L396.2 1094.6L396.3 1092.6L396.1 1088.6L394.7 1080.7L393.5 1076.6L390.5 1068.6L387.9 1061L387.2 1057.4L387.5 1055.3L388.6 1053.4L390.1 1051.8L392.5 1050.2L394.2 1050L396.1 1050.4L397.9 1051.1L400.2 1052.4L402.4 1055.4L404 1057.3L413.4 1065.7L417.4 1070L419.3 1072.7L423.3 1079.2L428 1085.8L429.7 1088.5L430.3 1089.8L431.4 1092.7L433 1100.3M382.9 1115.3L392.3 1108.1L398 1103.3L400.4 1100.9L402.2 1098.6L403.5 1096.2L404.4 1093.7L405.1 1091.1L405.9 1086L405.9 1081.2L405.7 1079.2L405.3 1077.5L404.7 1076L403.8 1074.6L399.5 1069.9L396.1 1064.7L393.9 1060.9L393.4 1059L393.6 1058.3L395 1057.4L397.9 1056.6L400.9 1056.4L404 1057.3M405.7 1079.2L409.7 1075.1L410.7 1074.4L411.7 1074L412.7 1074L415 1075L417.6 1077.1L419.9 1079.8L420.8 1081.3L421.5 1082.7L421.9 1084.3L422.1 1085.9L421.5 1096.8L422.1 1100L423.5 1104.5L423.7 1106L423.7 1107.6L423.3 1109.1L422.5 1110.8L421.4 1112.5L418.5 1116L413.9 1120.9L408.7 1127.5L405.4 1132.9L402.8 1138.4L400.1 1146.3L399.2 1149.7L398.7 1153.1L398.7 1158.9L399.6 1167.1M382.9 1115.3L386.2 1118.2L388.2 1120.4L389.9 1123.2L390.5 1124.9L391.5 1128.9L393.4 1139.9L396.9 1154.8L397.8 1165L398.1 1166.2L398.7 1167.1L399.4 1167.7L400.4 1167.9L405 1167.1L406.3 1167L407.5 1167.1L409.9 1168.4L414.8 1171.8L416 1172.3L417.1 1172.4L418.2 1172.2L419.3 1171.6L421.4 1169.9L424.2 1166.5L426.6 1163.1L427.9 1160.6L429.7 1156.4L433 1147.7L434.1 1143.9L434.7 1139.9L434.6 1135.7L434 1131.2L433.1 1126.9L432.1 1123.2L431.5 1121.6L430.7 1120.2L427.4 1115.6L426.9 1114.6L426.8 1113.5L427.1 1112.5L428.6 1110.4L433 1106.5M433 1106.5L436.8 1113.1L438.5 1116.4L440.1 1120.7L441.2 1125L441.8 1129.3L441.8 1134L441.4 1138.7L440.5 1143.1L438.5 1148.4L435.7 1153.5L432.3 1158.3L424.5 1168L422.5 1170L420.6 1171.1L418.5 1171.3L414.5 1170.7M402.2 1096.8L404.6 1095.4L406.4 1095L407.5 1095.1L412.7 1096.1L421.5 1098.6M395.2 1105.6L403.3 1108L407.4 1108.9L409.2 1109.1L411.1 1109.1L415.1 1108.8L423.3 1107.4M398.7 1111.8L405.3 1115.5L409.2 1117.9L411.2 1119.9L412.7 1122.3M389 1110.9L394.6 1109.7L398.7 1109.1L403 1109L409.2 1109.1M416.3 1068.7L422.7 1075.6L425.6 1078.3L426.8 1079.2L427.9 1079.7L428.9 1079.8L432.3 1078.9L432.7 1078.9L433 1079.2L432.9 1080L431.9 1082.3L428.6 1088M389.9 1066.9L393.1 1065.5L394.6 1065.1L395.2 1065.2L395.7 1065.4L396.8 1066.3L398.7 1068.7M436.5 1117.9L438.4 1122.9L439.5 1126.2L440 1129.3L439.8 1132.4L438.8 1137.1L436.8 1143.2L432.1 1153.1" fill="none" stroke="#1a1a1a" stroke-width="1.1" stroke-linejoin="round"/>
<path d="M386.2 1111.3l3.7 -4.4m-4 0.4l4.4 3.7M394.4 1100.7l1.8 -5.5m-3.6 1.8l5.5 1.8M396.4 1090.6l-0.8 -5.7m-2.5 3.2l5.7 -0.8M394.9 1081.1l-1.7 -5.5m-1.9 3.6l5.5 -1.7M392.2 1073.2l-2 -5.4m-1.7 3.7l5.4 -2M387.3 1060.5l-0.2 -5.7m-2.8 3l5.7 -0.2M388.8 1052.5l4.8 -3.1m-4 -0.9l3.1 4.8M398.9 1050.8l3.7 4.4m0.4 -4l-4.4 3.7M404.9 1058.2l4.3 3.8m-0.3 -4.1l-3.8 4.3M411.2 1063.7l4.2 3.9m-0.1 -4.1l-3.9 4.2M416.8 1069.2l3.3 4.7m0.7 -4l-4.7 3.3M422.7 1078.4l3.3 4.7m0.7 -4l-4.7 3.3M430.3 1089.3l1.7 5.5m1.9 -3.6l-5.5 1.7M385 1113.6l4.6 -3.4m-4 -0.6l3.4 4.6M392.4 1108.1l4.5 -3.6m-4 -0.4l3.6 4.5M400 1101.5l3.4 -4.6m-4 0.6l4.6 3.4M404.6 1093.6l1.2 -5.6m-3.4 2.2l5.6 1.2M406.1 1081.7l-1 -5.7m-2.3 3.3l5.7 -1M396.1 1065l-2.8 -5m-1.1 3.9l5 -2.8M395.5 1057l5.7 -0.9m-3.3 -2.4l0.9 5.7M408.6 1075.1l5.4 -1.9m-3.7 -1.8l1.9 5.4M418.2 1077.5l3.3 4.7m0.7 -4l-4.7 3.3M422.2 1086l-0.4 5.7m3.1 -2.7l-5.7 -0.4M421.5 1097.8l1.6 5.5m1.9 -3.6l-5.5 1.6M424 1108l-2.7 5.1m3.9 -1.2l-5.1 -2.7M416.6 1118.1l-3.9 4.2m4.1 -0.2l-4.2 -3.9M405 1133.5l-2.5 5.2m3.8 -1.4l-5.2 -2.5M400.6 1144.2l-1.5 5.5m3.5 -2l-5.5 -1.5M398.5 1154.7l0.3 5.7m2.7 -3l-5.7 0.3M383.6 1115.9l4.3 3.9m-0.2 -4.1l-3.9 4.3M390.6 1124.8l1.2 5.6m2.2 -3.4l-5.6 1.2M393 1138.2l1.3 5.6m2.2 -3.4l-5.6 1.3M396.2 1151.3l1.1 5.6m2.3 -3.4l-5.6 1.1M396.7 1165l3.9 4.3m0.2 -4.1l-4.3 3.9M408.2 1167.2l4.7 3.3m-0.7 -4l-3.3 4.7M414.4 1172.7l5.7 -0.5m-3.1 -2.6l0.5 5.7M424.9 1165.8l3 -4.9m-3.9 1l4.9 3M429.4 1157.2l2.1 -5.4m-3.7 1.6l5.4 2.1M433.7 1146.2l1.2 -5.6m-3.4 2.2l5.6 1.2M432.6 1124l-2.5 -5.2m-1.3 3.8l5.2 -2.5M426 1115.1l2.2 -5.3m-3.8 1.5l5.3 2.2M434.9 1109.8l2.8 5m1.1 -3.9l-5 2.8M439.2 1117.9l1.7 5.5m1.9 -3.6l-5.5 1.7M441.5 1139.2l-1.3 5.6m3.5 -2.1l-5.6 -1.3M437.9 1149.8l-2.9 5m3.9 -1.1l-5 -2.9M432.2 1158.5l-3.6 4.5m4 -0.4l-4.5 -3.6M425.7 1166.9l-4.1 4.1m4.1 0l-4.1 -4.1M403.9 1095.1l5.7 -0.1m-2.9 -2.8l0.1 5.7M412.2 1096l5.5 1.5m-2 -3.5l-1.5 5.5M398.1 1106.5l5.5 1.6m-1.9 -3.6l-1.6 5.5M407.3 1109.1l5.7 0.1m-2.8 -2.9l-0.1 5.7M409.7 1117.8l3.4 4.7m0.7 -4l-4.7 3.4M390 1110.7l5.6 -1.2m-3.4 -2.2l1.2 5.6M403.4 1109l5.7 0.1m-2.8 -2.9l-0.1 5.7M418.4 1071l3.9 4.2m0.1 -4.1l-4.2 3.9M426 1079.9l5.7 -0.2m-3 -2.8l0.2 5.7M430.8 1084.3l-2.9 5m3.9 -1l-5 -2.9M394.3 1064l4.3 3.8m-0.2 -4.1l-3.8 4.3M438 1121.5l1.8 5.5m1.8 -3.6l-5.5 1.8M440.2 1128.9l-0.6 5.7m3.2 -2.5l-5.7 -0.6M438 1140.1l-2.1 5.4m3.7 -1.7l-5.4 -2.1M434.5 1148.2l-2.6 5.1m3.9 -1.3l-5.1 -2.6" stroke="#dc1414" stroke-width="2.8" fill="none"/>
<path d="M401.4 1072.2l-3.6 -4.5m-0.4 4l4.5 -3.6M411.3 1124l-3.5 4.6m4 -0.5l-4.6 -3.5M434.5 1133.8l-1 -5.7m-2.3 3.3l5.7 -1M441.6 1126.9l0.4 5.7m2.7 -3.1l-5.7 0.4M417.8 1108.4l5.7 -1.1m-3.4 -2.3l1.1 5.7M402.4 1113.8l5 2.9m-1.1 -3.9l-2.9 5" stroke="#d8d8d4" stroke-width="2.8" fill="none"/>
<path d="M431.8 1098.6l-1.7 0.7M431.8 1098.6l2 -0.4M431.8 1098.6l0.3 -2.5M437.8 1101.1l-1.3 -0.2M437.8 1101.1l2 -0.4M437.8 1101.1l-1.1 -2.8M433.4 1102.8l-0.5 -1M433.4 1102.8l1.8 1.2M433.4 1102.8l0.6 -2.3M430.7 1104.2l-1.4 -1.3M430.7 1104.2l1.9 1M430.7 1104.2l-2 -1M433.9 1098.2l0.2 1.6M433.9 1098.2l0.1 2.3M435.2 1104l0.7 0.3M435.2 1104l0.7 0.4M433.4 1107.7l-0.7 -2.5M433.4 1107.7l-2.7 1.7M433.4 1107.7l3.2 -1.3M437.2 1107.2l-0.5 -0.7M437.2 1107.2l-1.3 -2.8M437.2 1107.2l-1.3 -2.9M427.9 1099.6l0.5 1.3M427.9 1099.6l2.2 -0.3M427.9 1099.6l1.8 1.6M434.1 1099.9l-0.1 0.7M434.1 1099.9l0.8 0.5M434.9 1100.4l-0.9 0.1M434.9 1100.4l1.7 0.5M432.7 1105.2l0.7 -2.4M436.6 1106.5l-0.7 -2.1M436.6 1106.5l-0.7 -2.2M430.7 1109.5l-1 -1.4M430.7 1109.5l-2.4 -2M436.7 1098.3l-0.1 2.6M436.7 1098.3l-1.8 2M436.7 1098.3l-2.8 -0.1M428.4 1100.9l1.3 0.4M428.4 1100.9l0.9 2M429.6 1108l-1.4 -0.6M429.6 1108l-1.4 -1.1M428.3 1107l0 0.4M428.3 1107l2.4 2.5M432.1 1096.1l1.8 2.1M432.1 1096.1l-2 3.2M439.8 1100.7l-3.2 0.2M439.8 1100.7l-3.1 -2.4M429.3 1102.9l-0.6 0.3M429.3 1102.9l0.4 -1.6M428.7 1103.2l1 -2M435.9 1104.3l0 0.1M429.8 1101.3l0.4 -2M434 1100.5l-1.1 1.3M432.9 1101.8l1.2 -1.9M428.7 1103.2l1.4 -3.9M429.6 1108l4.2 -9.8M433.9 1098.2l-1 3.5M433.4 1102.8l1.5 -2.5M433.4 1107.7l3.3 -9.4M436.7 1098.3l-1.5 5.6" fill="none" stroke="#1a1a1a" stroke-width="1.1"/>
<path d="M431.6 1095.7l0.5 5.7m2.6 -3.1l-5.7 0.5M435.6 1099.3l4.4 3.7m-0.4 -4l-3.7 4.4M435.5 1100.9l-4.2 3.9m4.1 0.1l-3.9 -4.2M428.8 1102.1l3.9 4.2m0.2 -4.1l-4.2 3.9M435.7 1096l-3.7 4.4m4 -0.4l-4.4 -3.7M435.3 1105.5l-3.7 4.4m4.1 -0.3l-4.4 -3.7M438.8 1104.8l-3.2 4.8m4 -0.8l-4.8 -3.2M426 1097.5l3.8 4.3m0.2 -4.1l-4.3 3.8M436.8 1099.1l-5.5 1.6m3.6 1.9l-1.6 -5.5M437.1 1098.5l-4.4 3.7m4 0.4l-3.7 -4.4M431.9 1102.4l1.5 5.6m2.1 -3.5l-5.6 1.5M437.1 1103.6l-0.9 5.7m3.3 -2.4l-5.7 -0.9M428.4 1107.8l4.6 3.5m-0.6 -4l-3.5 4.6M434.7 1096.2l3.9 4.2m0.1 -4.1l-4.2 3.9M430.3 1098.7l-3.8 4.4m4.1 -0.3l-4.4 -3.8M427.1 1106.7l5 2.8m-1.1 -3.9l-2.8 5M430.4 1105.1l-4.3 3.8m4.1 0.2l-3.8 -4.3M434 1094l-3.9 4.2m4.1 -0.1l-4.2 -3.9M441.1 1098.2l-2.7 5.1m3.9 -1.2l-5.1 -2.7M432.1 1102.2l-5.6 1.4m3.5 2.1l-1.4 -5.6M426.5 1101.4l4.5 3.6m-0.4 -4l-3.6 4.5M437.3 1101.7l-2.8 5m3.9 -1.1l-5 -2.8M428.6 1098.6l2.4 5.2m1.4 -3.8l-5.2 2.4M439.4 1100.5l-5.7 0.8m3.2 2.5l-0.8 -5.7M435.8 1101.5l0.2 5.7m2.8 -3l-5.7 0.2M431.5 1099l4.9 3.1m-0.9 -4l-3.1 4.9M426.2 1105.4l4.1 4m-0 -4.1l-4 4.1M435.7 1101.4l-5.7 0.6m3.2 2.5l-0.6 -5.7M431.4 1096.7l-2.5 5.2m3.8 -1.3l-5.2 -2.5" stroke="#dc1414" stroke-width="2.8" fill="none"/>
<path d="M433.9 1101.4l2.5 5.2m1.4 -3.8l-5.2 2.5" stroke="#d8d8d4" stroke-width="2.8" fill="none"/>
<path d="M435.7 1093.5l1.8 0.1M435.7 1093.5l1.9 3.4M437.5 1093.6l0.1 3.3M437.6 1096.9l3 -0.9M440.6 1096l-3.1 -2.4M444.3 1094l-3.7 2M444.3 1094l-4.6 -2.9M439.7 1091l-2.2 2.5M439.7 1091l-4 2.5M437.6 1096.9l2.1 -5.9M439.7 1091l0.9 4.9" fill="none" stroke="#1a1a1a" stroke-width="1.1"/>
<path d="M435.8 1090.7l-0.1 5.5m2.8 -2.7l-5.5 -0.1M439.9 1092.3l-4.8 2.6m3.7 1.1l-2.6 -4.8M436.5 1094.4l2.2 5.1m1.4 -3.6l-5.1 2.2M442.3 1093.8l-3.4 4.3m3.9 -0.5l-4.3 -3.4M447 1093.8l-5.5 0.4m2.9 2.5l-0.4 -5.5M438.2 1088.7l3 4.6m0.8 -3.8l-4.6 3" stroke="#dc1414" stroke-width="2.6" fill="none"/>
<text x="23.5" y="1179.2" font-size="43.5" font-weight="normal" fill="#1a1a1a" textLength="39.5" lengthAdjust="spacingAndGlyphs">6p</text>
<path d="M132.8 1276L188.9 1279.1L221 1281.1L285 1286.5L301 1287.5L309.1 1287.7L313.1 1287.5L325 1286.1L337.1 1285.9L413.4 1287.5L489.6 1288.2L517.7 1287.7L557.9 1286.8L590 1285.8L622.1 1284.6L786.5 1276.7L810.6 1275.3L814.4 1274.6" fill="none" stroke="#1a1a1a" stroke-width="1.3" stroke-linecap="butt" stroke-linejoin="round" />
<path d="M81.7 1271.8L122.5 1275.7" fill="none" stroke="#e0501a" stroke-width="6" stroke-linecap="butt" stroke-linejoin="round" />
<path d="M132.8 1276L188.8 1279.1L220.7 1281.1L240.7 1282.6L284.5 1286.4L300.5 1287.5" fill="none" stroke="#e0501a" stroke-width="6" stroke-linecap="butt" stroke-linejoin="round" />
<path d="M328 1286L346.4 1286" fill="none" stroke="#e0501a" stroke-width="6" stroke-linecap="butt" stroke-linejoin="round" />
<path d="M375 1286.6L379 1286.7L383 1286.8" fill="none" stroke="#e0501a" stroke-width="6" stroke-linecap="butt" stroke-linejoin="round" />
<path d="M412.4 1287.5L467.4 1288" fill="none" stroke="#e0501a" stroke-width="6" stroke-linecap="butt" stroke-linejoin="round" />
<path d="M504.7 1288L573.2 1286.4L625.5 1284.5L786.4 1276.7L810.6 1275.3L814.4 1274.6" fill="none" stroke="#e0501a" stroke-width="6" stroke-linecap="butt" stroke-linejoin="round" />
<path d="M397.6 1287.2L401.4 1287.3" fill="none" stroke="#e0501a" stroke-width="6.3" stroke-linecap="butt" stroke-linejoin="round" />
<path d="M349 1286.1L361 1288.8L373 1286.6L361 1283.8Z" fill="none" stroke="#1a1a1a" stroke-width="1.1"/>
<path d="M359.2 1288.8L362.7 1288.9" fill="none" stroke="#d8d8d4" stroke-width="3" stroke-linecap="butt" stroke-linejoin="round" />
<path d="M359.3 1283.8L362.8 1283.9" fill="none" stroke="#e0501a" stroke-width="3" stroke-linecap="butt" stroke-linejoin="round" />
<path d="M313.6 1296.3L311.4 1304.2L309.8 1308L304.4 1304.8L301.3 1299L301.2 1292.7L304.7 1287.2L309.7 1284.8L311.8 1288.6Z" fill="none" stroke="#1a1a1a" stroke-width="1.2" stroke-linejoin="round"/>
<path d="M314.2 1294.1l-1.2 4.3m2.8 -1.6l-4.3 -1.2M312.3 1302.2l-1.7 4.1m2.9 -1.2l-4.1 -1.7M311.7 1309.2l-3.9 -2.3m0.8 3.1l2.3 -3.9M305.5 1306.8l-2.1 -4m-0.9 3.1l4 -2.1M301.3 1301.3l-0.1 -4.5m-2.2 2.3l4.5 -0.1M300 1294.6l2.4 -3.8m-3.1 0.7l3.8 2.4M302.7 1288.2l4 -2m-3 -1l2 4M308.6 1282.8l2.2 3.9m0.8 -3.1l-3.9 2.2M311.3 1286.4l1 4.4m1.7 -2.7l-4.4 1" stroke="#e0501a" stroke-width="2.2" fill="none"/>
<path d="M300.5 1287.5L306 1285L318 1284L328 1286" fill="none" stroke="#1a1a1a" stroke-width="1.2" stroke-linecap="butt" stroke-linejoin="round" />
<path d="M486.7 1294.3L488.6 1296.1L484.7 1298.3L481.7 1300.4L477.3 1301.3L474 1298.2L470.5 1297L470.6 1293.2" fill="none" stroke="#1a1a1a" stroke-width="1.2" stroke-linejoin="round"/>
<path d="M485.1 1292.7l3.2 3.2m-0 -3.2l-3.2 3.2M490.5 1295l-3.9 2.2m3.1 0.8l-2.2 -3.9M486.6 1297l-3.7 2.6m3.1 0.6l-2.6 -3.7M483.9 1300l-4.4 0.9m2.6 1.8l-0.9 -4.4M478.9 1302.8l-3.3 -3.1m0.1 3.2l3.1 -3.3M476.1 1299l-4.2 -1.5m1.4 2.9l1.5 -4.2M470.5 1299.3l0.1 -4.5m-2.3 2.2l4.5 0.1M470.6 1290.9l-0.1 4.5m2.3 -2.2l-4.5 -0.1" stroke="#e0501a" stroke-width="2.2" fill="none"/>
<path d="M477.9 1293l1 -0.8M477.9 1293l-2.4 -2.5M481.9 1292.6l0.3 0.3M481.9 1292.6l-0.6 -2.6M482.2 1292.9l-1 -2.9M475.5 1290.6l3.4 1.7M478.9 1292.2l3 0.4" fill="none" stroke="#1a1a1a" stroke-width="1.1"/>
<path d="M480 1292.2l-4.2 1.7m2.9 1.2l-1.7 -4.2M481.6 1290.4l0.5 4.5m2 -2.5l-4.5 0.5M484.3 1292.1l-4.2 1.6m2.9 1.3l-1.6 -4.2M479.6 1288.5l3.4 3m-0.2 -3.2l-3 3.4M477.4 1289.2l-3.7 2.6m3.1 0.5l-2.6 -3.7M477.5 1290.5l2.9 3.4m0.2 -3.2l-3.4 2.9" stroke="#e0501a" stroke-width="2.2" fill="none"/>
<path d="M128.4 1263.9L122.7 1254.1L134.2 1254.1Z" fill="#1a1a1a"/>
<text x="25.5" y="1283.3" font-size="43.5" font-weight="normal" fill="#1a1a1a" textLength="37.5" lengthAdjust="spacingAndGlyphs">7p</text>
<path d="M83.7 1377.3L99.7 1377.8L111.7 1377.8L183.7 1376.3L207.7 1376.3L235.8 1376L315.8 1375L351.8 1374.3L700 1371.1" fill="none" stroke="#1a1a1a" stroke-width="1.2" stroke-linecap="butt" stroke-linejoin="round" />
<path d="M83.7 1377.3L90 1377.5" fill="none" stroke="#6533a1" stroke-width="6" stroke-linecap="butt" stroke-linejoin="round" />
<path d="M112 1377.8L184.6 1376.3" fill="none" stroke="#6533a1" stroke-width="6" stroke-linecap="butt" stroke-linejoin="round" />
<path d="M212 1376.3L316 1375" fill="none" stroke="#6533a1" stroke-width="6" stroke-linecap="butt" stroke-linejoin="round" />
<path d="M353.5 1374.3L713 1371" fill="none" stroke="#6533a1" stroke-width="6" stroke-linecap="butt" stroke-linejoin="round" />
<path d="M722.7 1370.9L728.2 1370.9L733.7 1370.9" fill="none" stroke="#6533a1" stroke-width="6" stroke-linecap="butt" stroke-linejoin="round" />
<path d="M100.1 1377.7l0.8 -0.4M100.1 1377.7l-0.9 1.9M100.9 1377.3l-1.7 2.3M105.4 1376l-4.4 1.3M105.4 1376l-5.3 1.8M99.2 1379.6l2.5 0.9M101.7 1380.4l-1.6 -2.7M96.6 1377.1l0.3 -1.4M96.6 1377.1l3.5 0.6M96.9 1375.8l3.2 1.9M93.2 1378.1l3.4 -0.9M93.2 1378.1l3.7 -2.3M100.9 1377.3l0.8 3.1M101.7 1380.4l3.7 -4.5" fill="none" stroke="#1a1a1a" stroke-width="1.1"/>
<path d="M98.6 1376.4l3 2.7m-0.1 -2.8l-2.7 3M99.5 1375.9l2.9 2.8m-0 -2.8l-2.8 2.9M105.7 1374l-0.7 3.9m2.3 -1.6l-3.9 -0.7M100.5 1378.1l-2.7 3m2.8 -0.2l-3 -2.7M100.8 1378.7l1.8 3.6m0.9 -2.7l-3.6 1.8M98.5 1376.4l-3.7 1.6m2.6 1l-1.6 -3.7M98.1 1374.3l-2.5 3.1m2.8 -0.3l-3.1 -2.5M91.2 1377.7l3.9 0.8m-1.6 -2.3l-0.8 3.9" stroke="#6533a1" stroke-width="1.9" fill="none"/>
<path d="M186 1376.3L198.5 1378.8L211 1376.3L198.5 1373.8Z" fill="none" stroke="#1a1a1a" stroke-width="1.1"/>
<path d="M196.7 1378.8L200.2 1378.9" fill="none" stroke="#d8d8d4" stroke-width="3" stroke-linecap="butt" stroke-linejoin="round" />
<path d="M196.8 1373.8L200.3 1373.9" fill="none" stroke="#6533a1" stroke-width="3" stroke-linecap="butt" stroke-linejoin="round" />
<path d="M326.5 1374.8L329.5 1374.7" fill="none" stroke="#6533a1" stroke-width="6" stroke-linecap="butt" stroke-linejoin="round" />
<path d="M334.4 1374.9l1.8 -1.4M334.4 1374.9l1.6 3.5M338.1 1379.7l-2 -1.3M338.1 1379.7l3.1 -1.8M341.1 1377.9l1 -3.6M339.8 1371.6l-1 -0.6M339.8 1371.6l2.3 2.8M338.8 1371l-2.6 2.5M336.3 1373.5l-0.2 4.9M336.1 1378.4l2.8 -7.4M339.8 1371.6l-1.7 8.1M338.1 1379.7l4.1 -5.4" fill="none" stroke="#1a1a1a" stroke-width="1.1"/>
<path d="M335.8 1373.2l-2.7 3.3m3 -0.3l-3.3 -2.7M337.3 1377.7l1.5 4m1.2 -2.7l-4 1.5M343.2 1377.3l-4.1 1.2m2.6 1.4l-1.2 -4.1M337.7 1371.4l4.2 0.4m-1.9 -2.3l-0.4 4.2M344.2 1374.1l-4.2 0.5m2.4 1.9l-0.5 -4.2M337.6 1369.3l2.5 3.4m0.5 -3l-3.4 2.5M333.9 1378.4l4.2 0.1m-2.1 -2.2l-0.1 4.2M334.2 1373l4.1 1m-1.6 -2.5l-1 4.1" stroke="#6533a1" stroke-width="2" fill="none"/>
<path d="M334 1373 q6 -8 9 2 q1 7 -4 6" fill="none" stroke="#1a1a1a" stroke-width="1.2"/>
<path d="M718 1360.9L712.2 1351.1L723.8 1351.1Z" fill="#1a1a1a"/>
<text x="25.5" y="1386.5" font-size="43.5" font-weight="normal" fill="#1a1a1a" textLength="38.5" lengthAdjust="spacingAndGlyphs">8p</text>
<path d="M87 1469.6L159 1466.5L234.9 1462.7L250.9 1461.7L266.9 1460.3L278.7 1458.5L286.7 1458L294.7 1457.8L314.7 1457.7L398.8 1458L590.9 1456.7L659 1457.1L715 1458" fill="none" stroke="#1a1a1a" stroke-width="1.3" stroke-linecap="butt" stroke-linejoin="round" />
<path d="M87 1469.6L160.3 1466.5L237.6 1462.5" fill="none" stroke="#2850aa" stroke-width="6.3" stroke-linecap="butt" stroke-linejoin="round" />
<path d="M294.6 1457.8L314.7 1457.7L398.9 1458L571.5 1456.7" fill="none" stroke="#2850aa" stroke-width="6.3" stroke-linecap="butt" stroke-linejoin="round" />
<path d="M584 1456.7L647.3 1457" fill="none" stroke="#2850aa" stroke-width="6.3" stroke-linecap="butt" stroke-linejoin="round" />
<path d="M659 1457.1L677.5 1457.4" fill="none" stroke="#2850aa" stroke-width="6.3" stroke-linecap="butt" stroke-linejoin="round" />
<path d="M572 1450h12v14h-12zM647.5 1450h11.5v14h-11.5z" fill="#fff"/>
<path d="M256.8 1463L256.1 1467L254.3 1465L256.2 1459.9Z" fill="none" stroke="#1a1a1a" stroke-width="1.2" stroke-linejoin="round"/>
<path d="M257.1 1461.2l-0.7 3.7m2.2 -1.5l-3.7 -0.7M257.3 1468.4l-2.5 -2.8m-0.2 2.6l2.8 -2.5M253.7 1466.8l1.3 -3.5m-2.4 1.1l3.5 1.3M255.9 1458l0.6 3.7m1.5 -2.2l-3.7 0.6" stroke="#2850aa" stroke-width="1.8" fill="none"/>
<path d="M273 1460L279 1460" fill="none" stroke="#2850aa" stroke-width="6" stroke-linecap="butt" stroke-linejoin="round" />
<path d="M287.8 1450.7L285.5 1454.3L280.3 1456.3L275.2 1453.4L274.9 1448.5L280.5 1447.6L285.6 1447.4Z" fill="none" stroke="#1a1a1a" stroke-width="1.2" stroke-linejoin="round"/>
<path d="M288.8 1449l-2.1 3.4m2.8 -0.6l-3.4 -2.1M287.4 1453.6l-3.7 1.4m2.6 1.1l-1.4 -3.7M282.1 1457.3l-3.5 -2m0.8 2.7l2 -3.5M275.3 1455.4l-0.2 -4m-1.9 2.1l4 -0.2M272.9 1448.8l4 -0.6m-2.3 -1.7l0.6 4M278.5 1447.7l4 -0.2m-2.1 -1.9l0.2 4M284.5 1445.7l2.2 3.3m0.6 -2.8l-3.3 2.2" stroke="#2850aa" stroke-width="1.9" fill="none"/>
<path d="M276 1460L273 1453" fill="none" stroke="#1a1a1a" stroke-width="1.2" stroke-linecap="butt" stroke-linejoin="round" />
<path d="M288 1452L294.6 1457.8" fill="none" stroke="#1a1a1a" stroke-width="1.2" stroke-linecap="butt" stroke-linejoin="round" />
<path d="M704.4 1458l-0.1 1M704.4 1458l-2.5 0.9M698.2 1457.1l1 0.1M698.2 1457.1l-0.2 -1.4M690 1457.1l1.1 -1.4M690 1457.1l1.8 2.5M691.1 1455.7l2.2 1M698 1455.7l1.2 1.5M704.3 1458.9l-2.4 -0M693.3 1456.8l-1.5 2.9M691.1 1455.7l0.7 3.9" fill="none" stroke="#1a1a1a" stroke-width="1.1"/>
<path d="M702.7 1456.8l3.5 2.4m-0.6 -3l-2.4 3.5M697.1 1455.3l2.2 3.6m0.7 -2.9l-3.6 2.2M692.1 1456.8l-4.2 0.7m2.5 1.7l-0.7 -4.2M691.1 1453.6l0 4.2m2.1 -2.1l-4.2 0M699.1 1453.9l-2.4 3.5m2.9 -0.6l-3.5 -2.4M700.1 1455.3l-1.9 3.8m2.9 -1l-3.8 -1.9M706.4 1458.4l-4.1 1.1m2.6 1.5l-1.1 -4.1M703.9 1458.3l-4.1 1.1m2.6 1.5l-1.1 -4.1M694.1 1454.8l-1.4 4m2.7 -1.3l-4 -1.4M690.6 1457.9l2.4 3.5m0.5 -3l-3.5 2.4" stroke="#2850aa" stroke-width="2" fill="none"/>
<ellipse cx="705" cy="1451.5" rx="7.5" ry="4.5" fill="none" stroke="#1a1a1a" stroke-width="1.2"/>
<path d="M577.4 1447.9L571.6 1438.1L583.1 1438.1Z" fill="#1a1a1a"/>
<path d="M653 1447.9L647.2 1438.1L658.8 1438.1Z" fill="#1a1a1a"/>
<text x="0" y="1481.1" font-size="43.5" font-weight="normal" fill="#1a1a1a" textLength="57" lengthAdjust="spacingAndGlyphs">10p</text>
<path d="M89.6 1549.3L177.6 1556.3L257.4 1563.9L285.4 1566.3L313.5 1567.1L385.7 1567.8L433.8 1569.2L449.8 1569.5L469.9 1569.5L522.1 1569L530.1 1569.1L538.1 1569.6L542.1 1569.3L553.9 1567L557.9 1566.6L561.9 1566.5L577.9 1566.8L602 1565.7L694 1559.4L762 1554" fill="none" stroke="#1a1a1a" stroke-width="1.3" stroke-linecap="butt" stroke-linejoin="round" />
<path d="M89.6 1549.3L178 1556.3L266.3 1564.7" fill="none" stroke="#66c8d8" stroke-width="6.3" stroke-linecap="butt" stroke-linejoin="round" />
<path d="M384 1567.8L432.8 1569.2L449.1 1569.5L469.5 1569.5L522.4 1569" fill="none" stroke="#66c8d8" stroke-width="6.3" stroke-linecap="butt" stroke-linejoin="round" />
<path d="M557.7 1566.6L562 1566.5L570.7 1566.8L579.3 1566.8" fill="none" stroke="#66c8d8" stroke-width="6.3" stroke-linecap="butt" stroke-linejoin="round" />
<path d="M617.4 1564.7L697.8 1559.2L762 1554" fill="none" stroke="#66c8d8" stroke-width="6.3" stroke-linecap="butt" stroke-linejoin="round" />
<path d="M277.4 1565.7L281.6 1566.1" fill="none" stroke="#66c8d8" stroke-width="6.3" stroke-linecap="butt" stroke-linejoin="round" />
<path d="M293.4 1566.6L297.6 1566.7" fill="none" stroke="#66c8d8" stroke-width="6.3" stroke-linecap="butt" stroke-linejoin="round" />
<path d="M325.4 1567.2L329.6 1567.2" fill="none" stroke="#66c8d8" stroke-width="6.3" stroke-linecap="butt" stroke-linejoin="round" />
<path d="M345.4 1567.4L349.6 1567.4" fill="none" stroke="#66c8d8" stroke-width="6.3" stroke-linecap="butt" stroke-linejoin="round" />
<path d="M362.9 1567.5L367.1 1567.6" fill="none" stroke="#66c8d8" stroke-width="6.3" stroke-linecap="butt" stroke-linejoin="round" />
<path d="M266.3 1564.7L279.9 1568.4L294 1566.6L280.4 1563.5Z" fill="none" stroke="#1a1a1a" stroke-width="1.1"/>
<path d="M278.2 1568.3L281.7 1568.6" fill="none" stroke="#d8d8d4" stroke-width="3" stroke-linecap="butt" stroke-linejoin="round" />
<path d="M278.6 1563.3L282.1 1563.6" fill="none" stroke="#66c8d8" stroke-width="3" stroke-linecap="butt" stroke-linejoin="round" />
<path d="M298 1566.7L311.5 1569.5L325 1567.2L311.5 1564.5Z" fill="none" stroke="#1a1a1a" stroke-width="1.1"/>
<path d="M309.7 1569.5L313.2 1569.6" fill="none" stroke="#d8d8d4" stroke-width="3" stroke-linecap="butt" stroke-linejoin="round" />
<path d="M309.8 1564.5L313.3 1564.6" fill="none" stroke="#66c8d8" stroke-width="3" stroke-linecap="butt" stroke-linejoin="round" />
<path d="M362.8 1566.6l-2.1 2.2M362.8 1566.6l-3.7 0.2M361.7 1570.3l-1.8 0.2M361.7 1570.3l-1 -1.5M359.1 1566.8l1.5 2M359.9 1570.5l0.8 -1.8M357.9 1571.2l2 -0.6M357.9 1571.2l2.8 -2.4M359.1 1566.8l-1.3 4.4M361.7 1570.3l1.1 -3.7" fill="none" stroke="#1a1a1a" stroke-width="1.1"/>
<path d="M360.9 1565.9l3.8 1.4m-1.2 -2.6l-1.4 3.8M362.7 1568.6l-2.1 3.4m2.8 -0.6l-3.4 -2.1M361 1566.1l-3.7 1.4m2.6 1.1l-1.4 -3.7M359.1 1568.7l1.5 3.7m1.1 -2.6l-3.7 1.5M357.3 1569.2l1.2 3.8m1.3 -2.5l-3.8 1.2M358.7 1568.7l4 0.1m-2 -2l-0.1 4" stroke="#66c8d8" stroke-width="1.9" fill="none"/>
<path d="M522.4 1569L527.5 1571.7L529.2 1572.1L530 1572L531.6 1571.2L536.4 1566.6L537.2 1566.2L538 1566L538.8 1566.2L539.5 1566.6L543.3 1570.7L544.2 1571.3L545.1 1571.8L546 1572L547.1 1571.9L549.6 1571L557.7 1566.6" fill="none" stroke="#1a1a1a" stroke-width="1.3" stroke-linecap="butt" stroke-linejoin="round" />
<path d="M540.4 1568.8L537 1572.6L534.8 1568.2L538.4 1565.2Z" fill="none" stroke="#1a1a1a" stroke-width="1.2" stroke-linejoin="round"/>
<path d="M541.7 1567.5l-2.5 2.8m2.6 -0.1l-2.8 -2.5M537.8 1574.3l-1.6 -3.4m-0.9 2.5l3.4 -1.6M533.4 1569.4l2.9 -2.4m-2.6 -0.2l2.4 2.9M537.4 1563.6l1.9 3.3m0.7 -2.6l-3.3 1.9" stroke="#66c8d8" stroke-width="1.8" fill="none"/>
<path d="M580 1566.8L598.2 1568.7L616 1564.8L597.8 1563.1Z" fill="none" stroke="#1a1a1a" stroke-width="1.1"/>
<path d="M596.4 1568.8L599.9 1568.6" fill="none" stroke="#d8d8d4" stroke-width="3" stroke-linecap="butt" stroke-linejoin="round" />
<path d="M596.1 1563.2L599.6 1563" fill="none" stroke="#66c8d8" stroke-width="3" stroke-linecap="butt" stroke-linejoin="round" />
<path d="M609.6 1565.2l-4.9 1.6M609.6 1565.2l-5.2 1.7M604.4 1566.9l0.3 -0.1M604.4 1566.9l-2.9 0.6M602.1 1563.2l-0.6 4.2M602.1 1563.2l2.3 3.7M597.6 1567.8l0.7 -0.6M597.6 1567.8l3.8 -0.4M594.5 1563.1l-0.8 1.8M594.5 1563.1l-2 2.5M592.6 1565.6l1.1 -0.7M604.7 1566.8l-3.2 0.6M598.3 1567.2l3.1 0.2" fill="none" stroke="#1a1a1a" stroke-width="1.1"/>
<path d="M611.5 1564.5l-3.7 1.4m2.6 1.2l-1.4 -3.7M604.6 1564.9l-0.4 4m2.2 -1.8l-4 -0.4M600.9 1561.6l2.4 3.2m0.4 -2.8l-3.2 2.4M595.8 1567l3.6 1.8m-0.9 -2.7l-1.8 3.6M593.1 1561.7l2.8 2.9m0 -2.8l-2.9 2.8M602.7 1566.3l3.8 1.1m-1.4 -2.5l-1.1 3.8M600.3 1567.2l-4 0.1m2 2l-0.1 -4M601.8 1565.5l-0.8 3.9m2.4 -1.6l-3.9 -0.8" stroke="#66c8d8" stroke-width="1.9" fill="none"/>
<path d="M594.5 1565.1l-3.9 1m2.4 1.4l-1 -3.9M595.3 1563.8l-3.3 2.2m2.8 0.6l-2.2 -3.3" stroke="#d8d8d4" stroke-width="1.9" fill="none"/>
<text x="4" y="1558.5" font-size="43.5" font-weight="normal" fill="#1a1a1a" textLength="49" lengthAdjust="spacingAndGlyphs">11p</text>
<path d="M86.4 1642.4L218.6 1644.5L314.7 1646.3L386.8 1647L418.8 1647L454.8 1646.6L591 1644.4" fill="none" stroke="#1a1a1a" stroke-width="1.2" stroke-linecap="butt" stroke-linejoin="round" />
<path d="M86.4 1642.4L214 1644.4" fill="none" stroke="#148c28" stroke-width="6" stroke-linecap="butt" stroke-linejoin="round" />
<path d="M243.5 1645L328.4 1646.5L372.8 1646.9L405.1 1647L469.8 1646.4L591 1644.4" fill="none" stroke="#148c28" stroke-width="6" stroke-linecap="butt" stroke-linejoin="round" />
<path d="M600 1644.2L602.6 1643.9L617.4 1643" fill="none" stroke="#148c28" stroke-width="6" stroke-linecap="butt" stroke-linejoin="round" />
<path d="M617.4 1643L617.4 1643" fill="none" stroke="#148c28" stroke-width="6" stroke-linecap="butt" stroke-linejoin="round" />
<path d="M214 1644.4L228.4 1647.2L243 1645L228.6 1642.2Z" fill="none" stroke="#1a1a1a" stroke-width="1.1"/>
<path d="M226.7 1647.1L230.2 1647.2" fill="none" stroke="#d8d8d4" stroke-width="3" stroke-linecap="butt" stroke-linejoin="round" />
<path d="M226.8 1642.1L230.3 1642.2" fill="none" stroke="#148c28" stroke-width="3" stroke-linecap="butt" stroke-linejoin="round" />
<path d="M228.5 1641.6L228.5 1647.6" fill="none" stroke="#148c28" stroke-width="2.5" stroke-linecap="butt" stroke-linejoin="round" />
<path d="M624.3 1643L626.8 1642.9" fill="none" stroke="#148c28" stroke-width="6" stroke-linecap="butt" stroke-linejoin="round" />
<path d="M595.8 1634.9L590 1625.1L601.5 1625.1Z" fill="#1a1a1a"/>
<path d="M621.8 1655.1L627.5 1664.9L616 1664.9Z" fill="#1a1a1a"/>
<text x="0" y="1652.5" font-size="43.5" font-weight="normal" fill="#1a1a1a" textLength="54" lengthAdjust="spacingAndGlyphs">12p</text>
<path d="M83.3 1759.4L143.5 1754.8L171.5 1752.9L251.9 1748.9L292.1 1747.1L328.2 1745.8L364.4 1744.8L392.6 1744.4L440.8 1744L477 1743.3L485.1 1743.3L493.1 1743.6L509.1 1744.9L521.1 1746.2L565 1751.8L593 1755" fill="none" stroke="#1a1a1a" stroke-width="1.3" stroke-linecap="butt" stroke-linejoin="round" />
<path d="M601 1756.2L641 1761.1L676.9 1766.2L693 1767.5" fill="none" stroke="#1a1a1a" stroke-width="1.3" stroke-linecap="butt" stroke-linejoin="round" />
<path d="M83.3 1759.4L162.2 1753.5" fill="none" stroke="#451582" stroke-width="6.5" stroke-linecap="butt" stroke-linejoin="round" />
<path d="M187.7 1752.1L206.2 1751.3" fill="none" stroke="#451582" stroke-width="6.5" stroke-linecap="butt" stroke-linejoin="round" />
<path d="M279.7 1747.7L295.4 1747" fill="none" stroke="#451582" stroke-width="6.5" stroke-linecap="butt" stroke-linejoin="round" />
<path d="M327 1745.8L334.6 1745.6" fill="none" stroke="#451582" stroke-width="6.5" stroke-linecap="butt" stroke-linejoin="round" />
<path d="M485 1743.3L497.3 1743.8L509.5 1744.9L521.7 1746.3L546 1749.5" fill="none" stroke="#451582" stroke-width="6.5" stroke-linecap="butt" stroke-linejoin="round" />
<path d="M577.4 1753.3L593 1755" fill="none" stroke="#451582" stroke-width="6.5" stroke-linecap="butt" stroke-linejoin="round" />
<path d="M601 1756.2L638.3 1760.8L675.6 1766" fill="none" stroke="#451582" stroke-width="6.5" stroke-linecap="butt" stroke-linejoin="round" />
<path d="M229.1 1750.1L232.9 1749.9" fill="none" stroke="#451582" stroke-width="6.3" stroke-linecap="butt" stroke-linejoin="round" />
<path d="M244.6 1749.3L248.4 1749.1" fill="none" stroke="#451582" stroke-width="6.3" stroke-linecap="butt" stroke-linejoin="round" />
<path d="M249.6 1749L253.4 1748.8" fill="none" stroke="#451582" stroke-width="6.3" stroke-linecap="butt" stroke-linejoin="round" />
<path d="M260.1 1748.5L263.9 1748.3" fill="none" stroke="#451582" stroke-width="6.3" stroke-linecap="butt" stroke-linejoin="round" />
<path d="M267.1 1748.2L270.9 1748" fill="none" stroke="#451582" stroke-width="6.3" stroke-linecap="butt" stroke-linejoin="round" />
<path d="M309.6 1746.4L313.4 1746.3" fill="none" stroke="#451582" stroke-width="6.3" stroke-linecap="butt" stroke-linejoin="round" />
<path d="M369.1 1744.7L372.9 1744.7" fill="none" stroke="#451582" stroke-width="6.3" stroke-linecap="butt" stroke-linejoin="round" />
<path d="M688.6 1767.2L692.4 1767.4" fill="none" stroke="#451582" stroke-width="6.3" stroke-linecap="butt" stroke-linejoin="round" />
<path d="M174.6 1750.3l0.9 1.7M174.6 1750.3l-3.4 2.4M175.5 1752l-4.4 0.7M171.2 1752.7l-1.8 -2.5M169.4 1750.2l5.3 0.1" fill="none" stroke="#1a1a1a" stroke-width="1.1"/>
<path d="M173.9 1748.4l1.4 3.7m1.2 -2.6l-3.7 1.4M174 1750.7l3.1 2.6m-0.3 -2.8l-2.6 3.1M173.1 1752.1l-3.8 1.2m2.5 1.3l-1.2 -3.8M171 1749l-3.3 2.3m2.8 0.5l-2.3 -3.3" stroke="#451582" stroke-width="1.9" fill="none"/>
<path d="M207 1751.3L218.6 1753.1L230 1750L218.4 1748.2Z" fill="none" stroke="#1a1a1a" stroke-width="1.1"/>
<path d="M216.9 1753.2L220.4 1753.1" fill="none" stroke="#d8d8d4" stroke-width="3" stroke-linecap="butt" stroke-linejoin="round" />
<path d="M216.6 1748.2L220.1 1748.1" fill="none" stroke="#451582" stroke-width="3" stroke-linecap="butt" stroke-linejoin="round" />
<path d="M256.7 1750l-0.4 -1.7M256.7 1750l-0.2 -1.9M258.7 1750.2l-1.9 -0.2M258.7 1750.2l-2.3 -1.9M262.6 1750.5l-4 -0.3M262.6 1750.5l-5.9 -0.5M252.3 1747.3l0.9 2.3M252.3 1747.3l4.1 0.7M256.4 1748.3l-0 -0.3M256.4 1748.3l0.2 -0.2M256.6 1748.1l-0.2 -0M253.2 1749.6l3.2 -1.3M253.2 1749.6l3.1 -1.5" fill="none" stroke="#1a1a1a" stroke-width="1.1"/>
<path d="M258.7 1749.5l-3.8 1.1m2.5 1.4l-1.1 -3.8M256.7 1749.8l3.9 0.8m-1.6 -2.4l-0.8 3.9M263.6 1748.8l-2 3.5m2.7 -0.8l-3.5 -2M250.3 1747.3l4 0.1m-2 -2l-0.1 4M257.3 1746.6l-1.8 3.6m2.7 -0.9l-3.6 -1.8M256.7 1746.1l-0.3 4m2.1 -1.9l-4 -0.3M253.5 1747.6l-0.6 4m2.3 -1.7l-4 -0.6M257.3 1746.3l-2 3.5m2.7 -0.8l-3.5 -2" stroke="#451582" stroke-width="1.9" fill="none"/>
<path d="M296 1747L311.1 1748.9L326 1745.9L310.9 1743.9Z" fill="none" stroke="#1a1a1a" stroke-width="1.1"/>
<path d="M309.3 1749L312.8 1748.8" fill="none" stroke="#d8d8d4" stroke-width="3" stroke-linecap="butt" stroke-linejoin="round" />
<path d="M309.2 1744L312.7 1743.8" fill="none" stroke="#451582" stroke-width="3" stroke-linecap="butt" stroke-linejoin="round" />
<path d="M336 1745.6L352.6 1747.6L369 1744.7L352.4 1742.6Z" fill="none" stroke="#1a1a1a" stroke-width="1.1"/>
<path d="M350.8 1747.7L354.3 1747.6" fill="none" stroke="#d8d8d4" stroke-width="3" stroke-linecap="butt" stroke-linejoin="round" />
<path d="M350.7 1742.7L354.2 1742.6" fill="none" stroke="#451582" stroke-width="3" stroke-linecap="butt" stroke-linejoin="round" />
<path d="M562.7 1750.4l-0.8 0.3M562.7 1750.4l-1.6 0.9M559.2 1752.6l1.8 -1.2M559.2 1752.6l0.7 2.2M561.9 1750.7l-0.9 0.7M561.5 1754.7l-1.6 0.1M561.5 1754.7l-2.3 -2.1M565.7 1752.6l-3 -2.2M565.7 1752.6l-3.7 -1.9M562.7 1750.4l-1.2 4.3M561.5 1754.7l4.1 -2.1" fill="none" stroke="#1a1a1a" stroke-width="1.1"/>
<path d="M560.7 1750.2l4 0.4m-1.8 -2.2l-0.4 4M560.8 1749.1l2.3 3.3m0.5 -2.8l-3.3 2.3M562.8 1750.4l-3.5 2m2.7 0.7l-2 -3.5" stroke="#451582" stroke-width="1.9" fill="none"/>
<path d="M560.4 1751l-2.5 3.2m2.8 -0.4l-3.2 -2.5M563.5 1754.2l-3.9 1.1m2.5 1.4l-1.1 -3.9M559.8 1752.8l0.4 4m1.8 -2.2l-4 0.4M563.7 1752.1l3.8 1.2m-1.3 -2.5l-1.2 3.8" stroke="#d8d8d4" stroke-width="1.9" fill="none"/>
<path d="M676 1766L682.8 1769.3L690 1767.3L683.2 1764.3Z" fill="none" stroke="#1a1a1a" stroke-width="1.1"/>
<path d="M681 1769.1L684.5 1769.4" fill="none" stroke="#d8d8d4" stroke-width="3" stroke-linecap="butt" stroke-linejoin="round" />
<path d="M681.5 1764.1L685 1764.4" fill="none" stroke="#451582" stroke-width="3" stroke-linecap="butt" stroke-linejoin="round" />
<path d="M382.4 1744.3L385.9 1737.7L387.9 1734.8L389 1733.6L391.5 1731.9L397.3 1729.5L398.6 1728.7L399.7 1727.8L401.3 1725.4L404 1718.2L405.3 1716.1L407.6 1714L416.9 1707.1L421.1 1704.7L424.6 1703.4L432.6 1701.2L436 1699.8L437.3 1698.9L438.5 1697.8L442.3 1693.5L443.2 1692.8L444.2 1692.4L445.2 1692.3L446.3 1692.4L448.4 1693.3L450.5 1694.7L452.4 1696.5L454.1 1698.8L457.2 1704.7L459 1707.2L461.4 1709L468 1712.2L469.7 1713.7L470.9 1715.3L472 1717.8L472.2 1719.6L471.7 1721.5L470 1724.7L469.1 1726.8L469 1728.9L469.5 1730.9L470.9 1734.1L473.1 1737.1L475.3 1739.2L480.5 1743.5M382.4 1744.3L391 1745.2L395.3 1745.3L397.2 1745.1L402.6 1743.9L406.2 1742.7L409.6 1741.1L412.8 1739.2L414.3 1738L422.8 1730.3L429.4 1725.8L431.7 1724L432.7 1722.9L434.2 1720.2L436.4 1714L437.6 1711.3L439.9 1708.1L442.4 1705.6L444.2 1704.7L445.2 1704.6L446.3 1704.8L448.7 1705.6L452.4 1707.2M411.2 1711.3L421.1 1716.3L429.8 1721.4L432.7 1722.9L435.5 1723.7L439.6 1724.5L440.8 1724.8L441.8 1725.4L442.5 1726.2L443 1727.2L443.3 1728.5L443.3 1731.6L442.5 1737.7L442.3 1741.8L441.9 1743.7L440.9 1746L440 1747.3L432.9 1755.2L431.7 1756.8L431 1758.3L430.7 1759.8L430.9 1762.9L432.7 1769M382.4 1744.3L390.8 1746.9L397.2 1748.4L405.9 1749.8L412.5 1750.2L416.5 1749.8L420.3 1748.8L427.5 1746.3L431.2 1745.8L444.2 1746L460.7 1744.3L480.5 1743.5M382.4 1744.3L387.1 1746.9L389.8 1748.7L390.8 1749.8L391.4 1750.9L391.6 1752.1L391.2 1754.6L389.6 1759.1L389 1762.4L389.2 1766.3L390.6 1777L390.5 1780.7L389.6 1785.6L387.8 1792.5L386.6 1796.3L386.4 1798.3L386.8 1801L387.8 1804.6L389.9 1809.8L391.4 1811.9L392.2 1812.3L393 1812.4L393.9 1812.1L395.6 1811.1L398 1808.6L399.4 1806.4L400.7 1803.6L404 1795.3L406.3 1788.8M397.2 1748.4L398 1762.4L398.2 1773.8L398.4 1775.6L399.4 1779L402 1784L404.1 1786.8L405.2 1788L406.3 1788.8L408.7 1789.9L409.9 1790.1L412.6 1790.1L415.1 1789.4L416.2 1788.8L417.1 1788.1L418.7 1785.8L421 1781.6L422.8 1778.9L426.2 1775.1L430 1771.3L434.1 1768.1L443 1763.3L445.3 1761.5L448.1 1758.6L450.2 1755.4L451.2 1752.8L451.8 1749.6L452.4 1742.7M406.3 1788.8L408.7 1790.2L410.6 1790.9L411.7 1791.2L414.3 1791.4L417.8 1791.4L421.7 1791.2L423.4 1790.9L424.9 1790.4L426.1 1789.6L426.8 1788.6L427.1 1787.2L427 1780.3L427.2 1778.7L427.7 1777.3L429.6 1774.8L430.8 1773.6L433.5 1771.5L437.6 1769L439 1768.6L440.5 1768.4L446.3 1768.5L447.4 1768.1L448.3 1767.4L448.9 1766.2L449.4 1762.7L449.1 1754.2M444.2 1704.7L445.9 1708.8L447.3 1711.2L448.2 1712.2L449.1 1713L451.7 1714L456.5 1714.7L460.7 1714.6L461.7 1714.4L463.2 1713.6L465.6 1711.3M442.5 1726.2L448.4 1723.5L451.2 1722.8L452.4 1722.9L453.5 1723.3L454.6 1724L458.7 1728.2L459.7 1729L460.7 1729.5L461.8 1729.6L464.1 1729.4L468.9 1727.8M444.2 1737.7L451.5 1734.8L452.9 1734.5L455.2 1734.5L458.4 1735.3L460.4 1736.4L462.3 1737.7L464 1739.7L467 1744.5L467.9 1745.4L468.9 1746L470.2 1746.1L473.4 1745.7L480.5 1743.5M440.9 1746L450.8 1747.6L456.9 1749.8L459 1750.1L463.1 1749.4L468.9 1747.6M452.4 1707.2L453.9 1716.2L454.1 1721.1L453.6 1725.4L452.7 1729.7L451.4 1735.5L450.1 1739.9L447 1748L445.7 1750.4L444.2 1752.5L443.3 1753.5L441 1755.3L436 1758.3M460.7 1714.6L457.8 1736.2L456.3 1741.2L452.4 1750.9M436 1699.8L440.5 1702.3L442.2 1703.8L442.5 1704.7L442.6 1705.7L442.2 1706.9L439.7 1712.2L439.3 1713.4L439.2 1714.6L439.5 1715.8L440.7 1718.2L444.2 1722.9M389 1762.4L392 1760.4L394.7 1759.1L398.6 1758.3L404.6 1757.5M390.6 1778.9L394.3 1774.1L396.4 1770.7L397.4 1767.2L398 1762.4M429.4 1746L429.7 1753.7L430.4 1757.1L431 1758.3L431.9 1759.3L434.5 1760.6L440.9 1762.4M444.2 1692.4L445.9 1698.1L446.9 1700.5L447.5 1701.4L448.2 1702.1L450 1703.2L454.1 1704.7" fill="none" stroke="#1a1a1a" stroke-width="1.1" stroke-linejoin="round"/>
<path d="M383.1 1742.9l2.7 -5.1m-3.9 1.2l5.1 2.7M389.2 1733l5.2 -2.5m-3.8 -1.3l2.5 5.2M399.7 1728.4l2.7 -5.1m-3.9 1.2l5.1 2.7M405.1 1716l4.4 -3.7m-4 -0.4l3.7 4.4M412.4 1710.4l4.6 -3.4m-4 -0.6l3.4 4.6M423.2 1703.9l5.5 -1.6m-3.6 -2l1.6 5.5M432.3 1701.4l5.3 -2.3m-3.8 -1.5l2.3 5.3M442.5 1692.1l5.7 0.3m-2.7 -3l-0.3 5.7M452 1695.6l3.2 4.8m0.8 -4l-4.8 3.2M457.8 1706.4l4.6 3.5m-0.6 -4l-3.5 4.6M465.9 1710.8l4.7 3.3m-0.7 -4l-3.3 4.7M472 1721l-2.9 5m3.9 -1.1l-5 -2.9M470.2 1733.3l3.3 4.7m0.7 -4l-4.7 3.3M476 1739.9l4.5 3.6m-0.4 -4l-3.6 4.5M387.1 1744.9l5.7 0.5m-2.6 -3.1l-0.5 5.7M396.4 1745.3l5.6 -1.1m-3.4 -2.2l1.1 5.6M409 1741.5l4.9 -3m-4 -1l3 4.9M415.5 1737.1l4.2 -4m-4.1 -0.1l4 4.2M424 1729.3l4.9 -3.1m-4 -0.9l3.1 4.9M431.2 1724.9l3.4 -4.7m-4 0.6l4.7 3.4M436.7 1712.7l3.2 -4.8m-4 0.8l4.8 3.2M441.1 1705.8l5.4 -1.9m-3.7 -1.8l1.9 5.4M413 1712.2l5.2 2.5m-1.3 -3.8l-2.5 5.2M420.1 1715.7l5 2.9m-1.1 -3.9l-2.9 5M427.6 1720.2l5 2.8m-1.1 -3.9l-2.8 5M434.7 1723.6l5.7 0.9m-2.4 -3.3l-0.9 5.7M443.5 1729.7l-0.6 5.7m3.2 -2.6l-5.7 -0.6M442.6 1737.7l-0.3 5.7m3 -2.7l-5.7 -0.3M441.5 1745.4l-3.6 4.5m4 -0.5l-4.5 -3.6M435.5 1752.2l-3.7 4.4m4.1 -0.3l-4.4 -3.7M430.5 1758.3l0.3 5.7m2.7 -3l-5.7 0.3M384.4 1744.9l5.5 1.7m-1.9 -3.6l-1.7 5.5M396.6 1748.3l5.7 1m-2.4 -3.3l-1 5.7M405.5 1749.8l5.7 0.4m-2.6 -3.1l-0.4 5.7M416.3 1750l5.5 -1.7m-3.6 -1.9l1.7 5.5M436.9 1745.8l5.7 0.2m-2.8 -3l-0.2 5.7M450.3 1745.4l5.7 -0.7m-3.2 -2.5l0.7 5.7M460.1 1744.3l5.7 -0.3m-3 -2.7l0.3 5.7M473.7 1743.7l5.7 -0.2m-3 -2.8l0.2 5.7M387.2 1746.7l4.4 3.7m-0.4 -4l-3.7 4.4M390.3 1756.6l-1.6 5.5m3.5 -2l-5.5 -1.6M389 1765.2l0.8 5.7m2.5 -3.2l-5.7 0.8M390.8 1777.1l-0.4 5.7m3.1 -2.6l-5.7 -0.4M388.5 1790.2l-1.7 5.5m3.6 -1.9l-5.5 -1.7M387.3 1803.2l2 5.4m1.7 -3.7l-5.4 2M389.7 1812l5.7 0.7m-2.5 -3.2l-0.7 5.7M399.7 1806.1l2.2 -5.3m-3.8 1.5l5.3 2.2M403.5 1796.7l1.9 -5.4m-3.7 1.7l5.4 1.9M397.4 1752.5l0.3 5.7m2.7 -3l-5.7 0.3M398 1760.5l0.2 5.7m2.8 -3l-5.7 0.2M399.1 1778.5l2.5 5.2m1.3 -3.8l-5.2 2.5M404.4 1787.9l5.1 2.6m-1.3 -3.9l-2.6 5.1M420.3 1782.5l3.2 -4.8m-4 0.8l4.8 3.2M428.5 1772.5l4.3 -3.8m-4.1 -0.3l3.8 4.3M437.8 1766.1l5.1 -2.6m-3.9 -1.3l2.6 5.1M445.5 1761.5l3.9 -4.3m-4.1 0.2l4.3 3.9M451.6 1751.9l0.7 -5.7m-3.2 2.5l5.7 0.7M409.9 1791.1l5.7 0.5m-2.6 -3.1l-0.5 5.7M419.7 1791.6l5.7 -1m-3.4 -2.3l1 5.7M427.2 1785.6l-0.3 -5.7m-2.7 3l5.7 -0.3M427.9 1776.5l4 -4.1m-4.1 0.1l4.1 4M437.8 1768.5l5.7 -0.2m-3 -2.8l0.2 5.7M449.1 1766.3l0.4 -5.7m-3.1 2.7l5.7 0.4M449.3 1758.7l-0.2 -5.7m-2.8 3l5.7 -0.2M445.4 1708.1l3.1 4.9m0.9 -4l-4.9 3.1M451.4 1714.1l5.7 0.7m-2.5 -3.2l-0.7 5.7M459.4 1715.3l5.3 -2.1m-3.7 -1.6l2.1 5.3M444.3 1725.3l5.3 -2.3m-3.8 -1.5l2.3 5.3M454.9 1724.1l3.9 4.2m0.2 -4.1l-4.2 3.9M448.3 1735.8l5.5 -1.6m-3.6 -1.9l1.6 5.5M456.2 1734.3l5.2 2.4m-1.4 -3.8l-2.4 5.2M465.4 1743.2l4.4 3.7m-0.3 -4.1l-3.7 4.4M476.5 1744.7l5.5 -1.8m-3.6 -1.9l1.8 5.5M441.5 1746l5.7 0.9m-2.4 -3.3l-0.9 5.7M453.3 1748.6l5.5 1.8m-1.8 -3.6l-1.8 5.5M453.3 1711.9l0.8 5.7m2.5 -3.2l-5.7 0.8M452.1 1732.7l-1.5 5.6m3.5 -2.1l-5.6 -1.5M450 1740.4l-2 5.4m3.7 -1.7l-5.4 -2M444.8 1752.2l-4.4 3.6m4 0.4l-3.6 -4.4M460 1719.3l-0.8 5.7m3.3 -2.4l-5.7 -0.8M458.4 1732.6l-1.1 5.7m3.4 -2.3l-5.7 -1.1M455.5 1743.3l-2.1 5.3m3.7 -1.6l-5.3 -2.1M442.4 1706.7l-2.6 5.1m3.9 -1.3l-5.1 -2.6M440.6 1718.2l3.5 4.5m0.5 -4l-4.5 3.5M391.9 1760.1l5.5 -1.8m-3.6 -1.8l1.8 5.5M390.9 1778.6l3.5 -4.5m-4 0.5l4.5 3.5M397.4 1767.4l0.7 -5.7m-3.2 2.5l5.7 0.7M429.4 1746.6l0.1 5.7m2.8 -2.9l-5.7 0.1M444.4 1693.1l1.6 5.5m2 -3.6l-5.5 1.6M448.5 1702.7l5.4 2m-1.7 -3.7l-2 5.4" stroke="#451582" stroke-width="2.8" fill="none"/>
<path d="M424.8 1747l5.6 -1.3m-3.5 -2.1l1.3 5.6M397.9 1770.1l0.4 5.7m2.7 -3.1l-5.7 0.4M416.7 1789l3.2 -4.8m-4 0.8l4.8 3.2M454 1722.6l-0.9 5.7m3.3 -2.4l-5.7 -0.9M438.1 1700.6l4.7 3.3m-0.7 -4l-3.3 4.7M429.6 1757.3l4.4 3.7m-0.4 -4l-3.7 4.4" stroke="#d8d8d4" stroke-width="2.8" fill="none"/>
<path d="M457.1 1741.2l-1 3.2M457.1 1741.2l-2.5 -2.8M457.1 1741.2l-0.9 4.3M454.3 1745.6l1.9 -0.1M454.3 1745.6l1.8 -1.2M454.3 1745.6l-2.6 -1.2M451.7 1737.5l-0.7 -0.9M451.7 1737.5l1.2 1.1M451.7 1737.5l1.5 -1M447.9 1735.1l1.4 0.4M447.9 1735.1l1.8 -0M447.9 1735.1l1.9 1M453.3 1749.7l0.3 -0.3M453.3 1749.7l-0.4 0.5M453.3 1749.7l1 -4.1M453.2 1736.5l0.9 -1.8M453.2 1736.5l-0.3 2.1M449 1746.3l-1.6 2.5M449 1746.3l2.7 -1.9M449 1746.3l0.3 -4.6M449.2 1723.8l0.8 0.9M449.2 1723.8l2.7 0.7M449.2 1723.8l2.9 -1.2M452.9 1738.6l-1.3 1M452.9 1738.6l1.8 -0.2M457.3 1736.1l1.7 -0.7M457.3 1736.1l-1.4 -1.8M457.3 1736.1l-1.9 -2.1M454.9 1733.6l0.4 0.3M454.9 1733.6l0.9 0.6M454.9 1733.6l-0.8 1M451.9 1724.5l0.7 1.1M451.9 1724.5l-1.9 0.2M451.9 1724.5l0.2 -1.9M451.4 1728.6l1.5 -1.1M451.4 1728.6l-0.9 1.9M451.4 1728.6l-0.8 2.5M450.5 1730.5l0.1 0.7M450.5 1730.5l-1.8 0.2M455.3 1734l0.5 0.3M455.3 1734l-1.2 0.7M450.5 1735.5l-0.6 0.5M450.5 1735.5l-0.7 -0.5M450.5 1735.5l-1.1 -0M454.1 1734.7l1.8 -0.4M456.2 1744.4l0.1 1.1M456.2 1744.4l0.6 2.7M449.4 1740.3l-0 1.4M449.4 1740.3l1.4 -0.7M449.4 1740.3l1.7 0.3M454.1 1722.7l-2.1 -0.1M454.1 1722.7l-2.3 1.9M454.1 1722.7l-1.6 3M450.6 1731.2l-1.9 -0.4M449.7 1735l-0.4 0.5M449.7 1735l0.1 1M448 1737.7l1.8 -1.7M448 1737.7l1.4 -2.3M448 1737.7l-0.1 -2.7M452.1 1722.6l-2.1 2.2M453.6 1749.4l-0.6 0.8M453.6 1749.4l0.7 -3.8M451.6 1739.6l-0.8 0M451.6 1739.6l-0.5 1M458.9 1735.4l-3.1 -1.1M458.9 1735.4l-3.6 -1.4M453 1750.2l1.4 -4.6M454.7 1738.4l-1.5 -1.9M454.7 1738.4l-3 -0.9M449.4 1741.7l1.8 -1.1M449.4 1741.7l1.4 -2.1M456.2 1745.5l0.5 1.6M447.4 1731.6l1.3 -0.9M447.4 1731.6l3.2 -0.5M447.4 1731.6l3.1 -1.1M452.5 1725.6l0.4 1.9M452.5 1725.6l-2.6 -0.9M456.4 1730.5l-2.1 -0.2M456.4 1730.5l0.5 -3.4M456.4 1730.5l-1.4 3.1M447.5 1748.8l5.5 1.4M447.5 1748.8l5.9 0.9M456.8 1747.1l-2.4 -1.5M444.7 1738.2l3.3 -0.5M444.7 1738.2l-0.1 -4.2M444.7 1738.2l3.2 -3.2M454.3 1730.3l-1.4 -2.8M454.3 1730.3l-2.9 -1.7M456.8 1727.2l-3.9 0.4M456.8 1727.2l-2.5 3.2M449.4 1735.5l0.4 0.6M450.8 1739.6l0.3 1M444.6 1734l3.3 1M444.6 1734l2.7 -2.4M451.7 1744.4l-2.3 -2.7M451 1736.6l-0.5 -1.1M451 1736.6l-1.2 -0.6M444.7 1738.2l4.5 -14.4M449.2 1723.8l-1.8 7.8M447.9 1735.1l4.1 -12.5M448 1737.7l2.5 -7.2M449.4 1735.5l3.1 -9.9M452.5 1725.6l-2.8 9.4M449.8 1736l4.3 -13.4M449.4 1741.7l1.6 -5.1M451 1736.6l-3.5 12.2M447.5 1748.8l3.3 -9.2M450.8 1739.6l-1.8 6.7M449 1746.3l2.6 -8.8M451.7 1737.5l-0.5 3.1M454.3 1730.3l-2.7 9.3M452.9 1738.6l1.2 -3.9M451.7 1744.4l4.6 -13.9M456.4 1730.5l-1 3.4M455.9 1734.3l-1.2 4.1M454.7 1738.4l-0.3 7.2M457.3 1736.1l-3.9 13.6M458.9 1735.4l-2.7 10.1" fill="none" stroke="#1a1a1a" stroke-width="1.1"/>
<path d="M456.8 1738.3l0.6 5.7m2.5 -3.2l-5.7 0.6M451.6 1744.9l5.6 1.4m-2.1 -3.5l-1.4 5.6M450 1735.2l3.4 4.6m0.6 -4l-4.6 3.4M446 1732.9l3.8 4.3m0.2 -4.1l-4.3 3.8M453.3 1746.8l-0 5.7m2.9 -2.9l-5.7 -0M451.6 1734l3.1 4.8m0.9 -4l-4.8 3.1M446.7 1744.6l4.6 3.4m-0.6 -4l-3.4 4.6M447.5 1721.5l3.3 4.7m0.7 -4l-4.7 3.3M450.1 1738.1l5.7 1m-2.3 -3.4l-1 5.7M454.4 1730.8l1 5.7m2.3 -3.3l-5.7 1M451 1721.8l1.7 5.5m1.9 -3.6l-5.5 1.7M452.9 1726.2l-3 4.9m4 -0.9l-4.9 -3M451.7 1727.9l-2.5 5.2m3.8 -1.4l-5.2 -2.5M457.9 1732.7l-5.1 2.6m3.9 1.3l-2.6 -5.1M453.1 1734.3l-5.2 2.4m3.8 1.4l-2.4 -5.2M451.5 1733.5l5.3 2.3m-1.5 -3.8l-2.3 5.3M453.3 1744.1l5.7 0.6m-2.6 -3.1l-0.6 5.7M451.8 1738.7l-4.8 3.1m4 0.8l-3.1 -4.8M455.4 1720.1l-2.5 5.2m3.8 -1.3l-5.2 -2.5M452.9 1729.4l-4.6 3.5m4 0.5l-3.5 -4.6M452.5 1734.3l-5.6 1.5m3.5 2l-1.5 -5.6M454.5 1731.7l2.8 5m1.1 -3.9l-5 2.8M445.1 1737.6l5.7 0.2m-2.8 -3l-0.2 5.7M450.8 1720l2.5 5.2m1.4 -3.8l-5.2 2.5M451.1 1747.9l5 2.9m-1.1 -3.9l-2.9 5M454 1738.1l-4.9 3.1m4 0.9l-3.1 -4.9M457.7 1732.8l2.5 5.2m1.3 -3.8l-5.2 2.5M455.4 1748.6l-4.8 3.2m4 0.8l-3.2 -4.8M451.9 1737.6l5.5 1.7m-1.9 -3.6l-1.7 5.5M446.6 1741.3l5.7 0.9m-2.4 -3.3l-0.9 5.7M459.1 1745l-5.7 1m3.3 2.3l-1 -5.7M447.1 1728.8l0.4 5.7m2.6 -3.1l-5.7 0.4M451 1723.2l3.1 4.8m0.9 -4l-4.8 3.1M454 1728.8l4.6 3.4m-0.6 -4l-3.4 4.6M446.9 1728.5l3.5 4.5m0.5 -4l-4.5 3.5M449.3 1746.5l-3.5 4.5m4 -0.5l-4.5 -3.5M448.4 1722.4l3.2 4.8m0.8 -4l-4.8 3.2M454.5 1745.4l4.6 3.4m-0.6 -4l-3.4 4.6M445.8 1735.5l-2.1 5.4m3.7 -1.6l-5.4 -2.1M458.9 1725.2l-4.1 4m4.1 0l-4 -4.1M448.3 1732.8l2.2 5.3m1.5 -3.8l-5.3 2.2M448 1739.3l5.7 0.7m-2.5 -3.2l-0.7 5.7M450.1 1726.7l5.5 1.8m-1.9 -3.6l-1.8 5.5M452.6 1735.4l-5.6 1.2m3.4 2.2l-1.2 -5.6M453 1738.4l-3.7 4.4m4.1 -0.3l-4.4 -3.7M449.1 1743.2l5.2 2.4m-1.4 -3.8l-2.4 5.2M453.7 1735.6l-5.4 2m3.7 1.7l-2 -5.4" stroke="#451582" stroke-width="2.8" fill="none"/>
<path d="M454.4 1735.8l5.7 0.4m-2.7 -3.1l-0.4 5.7M451.5 1729.7l5.6 1.3m-2.2 -3.4l-1.3 5.6M442.1 1732.7l5.1 2.7m-1.2 -3.9l-2.7 5.1" stroke="#d8d8d4" stroke-width="2.8" fill="none"/>
<path d="M391.4 1756l1.6 -0.1M391.4 1756l1.7 -0.8M391.4 1756l1.9 -0M393 1755.9l0.3 0.1M393 1755.9l0.1 -0.7M393.1 1755.1l0.3 0.8M394.3 1763.2l-0.4 -0.3M394.3 1763.2l1.1 0.5M394.3 1763.2l-1.4 -2.6M392.5 1767.6l2.1 1.9M392.5 1767.6l2.9 1.7M392.5 1767.6l1.8 -4.4M392.9 1760.6l-0.5 -0.3M392.9 1760.6l-1.3 -2.1M392.9 1760.6l1 2.3M395.4 1763.7l-1.6 -0.8M395.4 1763.7l2.6 0.5M395.4 1769.3l-0.8 0.2M395.4 1769.3l0 -5.6M398 1764.2l-3.8 -1M398 1764.2l-4.2 -1.3M392.3 1760.4l-0.7 -1.8M392.3 1760.4l1.5 2.6M391.6 1758.5l-0.2 -2.6M394.6 1769.5l0.8 -5.8M393.8 1762.9l-1.3 4.7" fill="none" stroke="#1a1a1a" stroke-width="1.1"/>
<path d="M390.9 1753.1l1 5.7m2.3 -3.3l-5.7 1M394.2 1753.3l-2.4 5.2m3.8 -1.4l-5.2 -2.4M395.8 1754.2l-5.5 1.8m3.6 1.8l-1.8 -5.5M394.3 1760.3l-0.1 5.7m2.9 -2.8l-5.7 -0.1M389.8 1766.6l5.4 2m-1.7 -3.7l-2 5.4M396.2 1755.7l-5.7 0.4m3.1 2.7l-0.4 -5.7M390.2 1759.6l5.4 2m-1.7 -3.7l-2 5.4M396.5 1761l-2.2 5.3m3.8 -1.5l-5.3 -2.2M394 1766.8l2.8 5m1.1 -3.9l-5 2.8M391.9 1760.8l3.9 4.2m0.1 -4.1l-4.2 3.9M397.6 1761.4l0.9 5.7m2.4 -3.3l-5.7 0.9M395.1 1759.5l-5.5 1.6m3.6 2l-1.6 -5.5M391.3 1755.7l0.7 5.7m2.5 -3.2l-5.7 0.7M395.1 1766.7l-1.2 5.6m3.4 -2.2l-5.6 -1.2" stroke="#451582" stroke-width="2.8" fill="none"/>
<ellipse cx="394.7" cy="1807" rx="5" ry="7" fill="none" stroke="#1a1a1a" stroke-width="1.3" transform="rotate(20 394.7 1807)"/>
<path d="M597.8 1741.5L592 1731.7L603.5 1731.7Z" fill="#1a1a1a"/>
<text x="0" y="1773.5" font-size="43.5" font-weight="normal" fill="#1a1a1a" textLength="55" lengthAdjust="spacingAndGlyphs">16p</text>
<path d="M84.4 1869L264.7 1871.1L360.9 1872L425 1872.9L445 1873" fill="none" stroke="#1a1a1a" stroke-width="1.2" stroke-linecap="butt" stroke-linejoin="round" />
<path d="M84.4 1869L253.3 1871" fill="none" stroke="#4678c8" stroke-width="6" stroke-linecap="butt" stroke-linejoin="round" />
<path d="M282 1871.3L358.5 1872L439 1873" fill="none" stroke="#4678c8" stroke-width="6" stroke-linecap="butt" stroke-linejoin="round" />
<path d="M263 1870 a4 4.5 0 1 1 8 0" fill="none" stroke="#1a1a1a" stroke-width="1.3"/>
<path d="M267.3 1867.8L267.3 1874.2" fill="none" stroke="#4678c8" stroke-width="3.5" stroke-linecap="butt" stroke-linejoin="round" />
<path d="M269 1865.2l-4 0.6m2.3 1.7l-0.6 -4" stroke="#d8d8d4" stroke-width="1.9" fill="none"/>
<path d="M469.8 1871.8L468 1875.4L461.7 1875.8L454 1875.1L446.7 1873.9L443.5 1872.9L446.6 1869.2L453.6 1865.8L461.1 1868.3L469.1 1868.7Z" fill="none" stroke="#1a1a1a" stroke-width="1.2" stroke-linejoin="round"/>
<path d="M470.7 1869.9l-1.8 3.7m2.8 -1l-3.7 -1.8M470.1 1875.2l-4.1 0.3m2.2 1.9l-0.3 -4.1M463.7 1876l-4.1 -0.4m1.9 2.2l0.4 -4.1M456 1875.5l-4.1 -0.7m1.7 2.4l0.7 -4.1M448.7 1874.5l-3.9 -1.2m1.3 2.6l1.2 -3.9M442.2 1874.5l2.6 -3.2m-2.9 0.3l3.2 2.6M444.7 1870.1l3.7 -1.8m-2.8 -1l1.8 3.7M451.6 1865.1l3.9 1.3m-1.3 -2.6l-1.3 3.9M459.1 1868.2l4.1 0.2m-2 -2.2l-0.2 4.1M468.6 1866.7l0.9 4m1.6 -2.5l-4 0.9" stroke="#4678c8" stroke-width="2" fill="none"/>
<path d="M461.1 1869.8l-0.7 1.9M461.1 1869.8l3.1 -0M458.2 1872.4l2.2 -0.8M458.2 1872.4l2.9 -2.7M464.2 1871.1l0.1 -1.3M464.2 1871.1l-3.1 -1.3M455.5 1868.6l2.7 3.8M455.5 1868.6l5.7 1.2M467.6 1869.5l-3.3 0.3M467.6 1869.5l-3.4 1.6" fill="none" stroke="#1a1a1a" stroke-width="1.1"/>
<path d="M463.2 1869.6l-4.1 0.3m2.2 1.9l-0.3 -4.1M457.9 1870.4l0.6 4.1m1.7 -2.4l-4.1 0.6M464.8 1869.1l-1.2 3.9m2.6 -1.4l-3.9 -1.2M459.1 1870.1l2.6 3.2m0.3 -2.9l-3.2 2.6M465 1867.8l-1.6 3.8m2.7 -1.1l-3.8 -1.6M457.4 1867.7l-3.7 1.7m2.7 1l-1.7 -3.7M469.6 1869.3l-4.1 0.3m2.2 1.9l-0.3 -4.1" stroke="#4678c8" stroke-width="2" fill="none"/>
<text x="0" y="1878.5" font-size="43.5" font-weight="normal" fill="#1a1a1a" textLength="52" lengthAdjust="spacingAndGlyphs">17p</text>
<path d="M118 1984.5L122 1984.2L126 1983.7L129.9 1982.9L145.5 1978.9L180.2 1969.3L188 1967.3L203.7 1963.8L219.5 1960.9L231.4 1959.3L243.4 1958.1L267.3 1956.1L279.4 1955.6L287.4 1955.4L303.4 1955.8L323.5 1957L347.4 1959.1L367.4 1961.4L391.2 1964.6L403.1 1966.5L422.8 1970.2L489.6 1984L505.4 1987L529.1 1991.1L552.8 1995L576.7 1998.4L596.6 2000.8L624.5 2003.7" fill="none" stroke="#1a1a1a" stroke-width="1.3" stroke-linecap="butt" stroke-linejoin="round" />
<path d="M129.6 1983L160.7 1974.8L180 1969.3L191.7 1966.4" fill="none" stroke="#2db4c3" stroke-width="6.3" stroke-linecap="butt" stroke-linejoin="round" />
<path d="M423.4 1970.3L491.3 1984.3L511.4 1988.1L531.5 1991.5L555.7 1995.4L575.8 1998.3L596.1 2000.7L624.5 2003.7" fill="none" stroke="#2db4c3" stroke-width="6.3" stroke-linecap="butt" stroke-linejoin="round" />
<path d="M200.9 1964.4L205.1 1963.5" fill="none" stroke="#2db4c3" stroke-width="6.3" stroke-linecap="butt" stroke-linejoin="round" />
<path d="M206.9 1963.2L211.1 1962.4" fill="none" stroke="#2db4c3" stroke-width="6.3" stroke-linecap="butt" stroke-linejoin="round" />
<path d="M227.4 1959.8L231.6 1959.3" fill="none" stroke="#2db4c3" stroke-width="6.3" stroke-linecap="butt" stroke-linejoin="round" />
<path d="M248.9 1957.5L253.1 1957.2" fill="none" stroke="#2db4c3" stroke-width="6.3" stroke-linecap="butt" stroke-linejoin="round" />
<path d="M263.9 1956.4L268.1 1956.1" fill="none" stroke="#2db4c3" stroke-width="6.3" stroke-linecap="butt" stroke-linejoin="round" />
<path d="M282.4 1955.5L286.6 1955.4" fill="none" stroke="#2db4c3" stroke-width="6.3" stroke-linecap="butt" stroke-linejoin="round" />
<path d="M305.9 1955.9L310.1 1956.1" fill="none" stroke="#2db4c3" stroke-width="6.3" stroke-linecap="butt" stroke-linejoin="round" />
<path d="M330.9 1957.6L335.1 1957.9" fill="none" stroke="#2db4c3" stroke-width="6.3" stroke-linecap="butt" stroke-linejoin="round" />
<path d="M353.4 1959.7L357.6 1960.2" fill="none" stroke="#2db4c3" stroke-width="6.3" stroke-linecap="butt" stroke-linejoin="round" />
<path d="M369.9 1961.7L374.1 1962.2" fill="none" stroke="#2db4c3" stroke-width="6.3" stroke-linecap="butt" stroke-linejoin="round" />
<path d="M383.9 1963.5L388.1 1964.1" fill="none" stroke="#2db4c3" stroke-width="6.3" stroke-linecap="butt" stroke-linejoin="round" />
<path d="M403.4 1966.6L407.6 1967.3" fill="none" stroke="#2db4c3" stroke-width="6.3" stroke-linecap="butt" stroke-linejoin="round" />
<path d="M262.5 1953.6l2.9 2.7m-0.1 -2.8l-2.7 2.9M410.5 1966.6l2.9 2.7m-0.1 -2.8l-2.7 2.9" stroke="#d8d8d4" stroke-width="1.9" fill="none"/>
<path d="M115.4 1994.9L112.8 1997.8L108.6 2003.1L101.5 2003.3L93.7 2000.7L90.5 1998.7L88.7 1993.8L89.8 1988.5L94.1 1984.8L100.9 1984.8L109.3 1987L114.6 1990.5ZM114.6 1990.5L112.8 1997.8M115.4 1994.9L89.8 1988.5M93.7 2000.7L88.7 1993.8M109.3 1987L112.8 1997.8M108.6 2003.1L112.8 1997.8" fill="none" stroke="#1a1a1a" stroke-width="1.2" stroke-linejoin="round"/>
<path d="M116.8 1993.3l-2.7 3.1m2.9 -0.2l-3.1 -2.7M114.1 1996.2l-2.6 3.2m2.9 -0.3l-3.2 -2.6M110.7 2003l-4.1 0.1m2.1 2l-0.1 -4.1M103.5 2003.9l-3.9 -1.3m1.3 2.6l1.3 -3.9M95.5 2001.9l-3.5 -2.2m0.6 2.9l2.2 -3.5M91.2 2000.6l-1.4 -3.9m-1.2 2.7l3.9 -1.4M88.3 1995.8l0.9 -4m-2.5 1.6l4 0.9M88.3 1989.9l3.1 -2.7m-2.9 -0.2l2.7 3.1M92.1 1984.7l4.1 0m-2 -2.1l-0 4.1M98.9 1984.3l4 1m-1.5 -2.5l-1 4M107.6 1985.8l3.4 2.3m-0.6 -2.9l-2.3 3.4M114.2 1988.5l0.8 4.1m1.6 -2.4l-4.1 0.8" stroke="#2db4c3" stroke-width="2" fill="none"/>
<path d="M99.4 1991.9l-0.2 3.4M99.4 1991.9l-4.3 2M97.5 1997.2l-0.9 -0.6M97.5 1997.2l1.7 -1.9M96.7 1996.6l2.5 -1.3M95.1 1993.9l1.6 2.7M95.1 1993.9l2.5 3.3M105.8 1997.1l1.1 0.4M105.8 1997.1l-6.6 -1.9M107 1997.5l-7.7 -2.2" fill="none" stroke="#1a1a1a" stroke-width="1.1"/>
<path d="M101.4 1991.2l-3.9 1.4m2.6 1.2l-1.4 -3.9M99.2 1995.9l-3.3 2.5m2.9 0.4l-2.5 -3.3M97.3 1994.6l-1.3 3.9m2.6 -1.3l-3.9 -1.3M96.1 1992.2l-2.1 3.5m2.8 -0.7l-3.5 -2.1M101.1 1994.5l-3.8 1.5m2.7 1.2l-1.5 -3.8M103.8 1996.7l4 0.9m-1.6 -2.5l-0.9 4M106.1 1995.6l1.8 3.7m1 -2.7l-3.7 1.8" stroke="#2db4c3" stroke-width="2" fill="none"/>
<path d="M284.3 1950L283.7 1943.9L286.2 1937.4L293.2 1935.4L300.3 1937.8L303.6 1943.6L301.2 1949.6" fill="none" stroke="#1a1a1a" stroke-width="1.2" stroke-linejoin="round"/>
<path d="M284.6 1952.1l-0.5 -4.4m-1.9 2.4l4.4 -0.5M282.9 1945.9l1.6 -4.1m-2.8 1.2l4.1 1.6M284.1 1938l4.2 -1.2m-2.7 -1.5l1.2 4.2M291.2 1934.7l4.1 1.4m-1.4 -2.8l-1.4 4.1M299.2 1935.9l2.2 3.8m0.8 -3l-3.8 2.2M304.4 1941.6l-1.6 4.1m2.8 -1.2l-4.1 -1.6M300.4 1951.6l1.6 -4.1m-2.8 1.2l4.1 1.6" stroke="#2db4c3" stroke-width="2.1" fill="none"/>
<path d="M295 1927.4L293.5 1934L288 1933.9L284.1 1928.5L286.7 1922.6L292.5 1922.3Z" fill="none" stroke="#1a1a1a" stroke-width="1.2" stroke-linejoin="round"/>
<path d="M295.4 1925.4l-0.9 4m2.5 -1.6l-4 -0.9M295.5 1934.1l-4.1 -0.1m2 2.1l0.1 -4.1M289.2 1935.5l-2.4 -3.3m-0.4 2.9l3.3 -2.4M283.2 1930.4l1.7 -3.8m-2.7 1l3.8 1.7M284.7 1922.7l4.1 -0.2m-2.2 -2l0.2 4.1M291.6 1920.4l1.8 3.7m0.9 -2.8l-3.7 1.8" stroke="#2db4c3" stroke-width="2" fill="none"/>
<path d="M284.5 1955L283 1947" fill="none" stroke="#1a1a1a" stroke-width="1.2" stroke-linecap="butt" stroke-linejoin="round" />
<path d="M303 1955L302 1949" fill="none" stroke="#1a1a1a" stroke-width="1.2" stroke-linecap="butt" stroke-linejoin="round" />
<path d="M331.7 1954.8l-0.9 -0.8M331.7 1954.8l1.5 -3M330.8 1953.9l-3 0.6M333.2 1951.7l-2.4 2.2M327.8 1954.6l3.9 0.2" fill="none" stroke="#1a1a1a" stroke-width="1.1"/>
<path d="M330.3 1953.2l2.7 3.1m0.2 -2.9l-3.1 2.7M332.8 1953.5l-4 0.9m2.4 1.6l-0.9 -4M331.8 1950.2l2.8 3m0.1 -2.9l-3 2.8" stroke="#2db4c3" stroke-width="2" fill="none"/>
<path d="M326.5 1953l2.6 3.2m0.3 -2.9l-3.2 2.6" stroke="#d8d8d4" stroke-width="2" fill="none"/>
<circle cx="333" cy="1954.5" r="3.5" fill="none" stroke="#1a1a1a" stroke-width="1.2"/>
<text x="0" y="2010.1" font-size="43.5" font-weight="normal" fill="#1a1a1a" textLength="55" lengthAdjust="spacingAndGlyphs">18p</text>
<path d="M198 2079.6L206.1 2078.2L210.2 2077.9L214.3 2078L222.5 2078.6L247 2081.5" fill="none" stroke="#1a1a1a" stroke-width="1.2" stroke-linecap="butt" stroke-linejoin="round" />
<path d="M87 2094.6L91 2094.4" fill="none" stroke="#d2146e" stroke-width="6.8" stroke-linecap="butt" stroke-linejoin="round" />
<path d="M96 2094.1L103 2093.7" fill="none" stroke="#d2146e" stroke-width="6.8" stroke-linecap="butt" stroke-linejoin="round" />
<path d="M111 2093L139 2090.2L159 2087.6L170.9 2085.5L198.4 2079.5" fill="none" stroke="#d2146e" stroke-width="6.8" stroke-linecap="butt" stroke-linejoin="round" />
<path d="M212 2077.9L219 2078.3" fill="none" stroke="#d2146e" stroke-width="6.8" stroke-linecap="butt" stroke-linejoin="round" />
<path d="M246.7 2081.5L267 2084L275.2 2084.6L287.5 2084.6L308 2084" fill="none" stroke="#d2146e" stroke-width="6.8" stroke-linecap="butt" stroke-linejoin="round" />
<path d="M232 2079.7L235 2080.1" fill="none" stroke="#d2146e" stroke-width="6" stroke-linecap="butt" stroke-linejoin="round" />
<path d="M198.4 2079.5L196 2068L200 2063L207 2070L208 2077" fill="none" stroke="#1a1a1a" stroke-width="1.2" stroke-linecap="butt" stroke-linejoin="round" />
<path d="M196.1 2066.9l-0.2 4.2m2.2 -2l-4.2 -0.2M201.9 2068.8l4.2 0.4m-1.9 -2.3l-0.4 4.2" stroke="#d2146e" stroke-width="2" fill="none"/>
<path d="M201.6 2060.7l-3.1 2.5m2.8 0.3l-2.5 -3.1" stroke="#d8d8d4" stroke-width="1.9" fill="none"/>
<path d="M220 2078.4L232.7 2082L246 2081.4L233.3 2077.6Z" fill="none" stroke="#1a1a1a" stroke-width="1.1"/>
<path d="M231 2081.8L234.5 2082.2" fill="none" stroke="#d8d8d4" stroke-width="3" stroke-linecap="butt" stroke-linejoin="round" />
<path d="M231.5 2077.4L235 2077.9" fill="none" stroke="#d2146e" stroke-width="3" stroke-linecap="butt" stroke-linejoin="round" />
<path d="M319 2081.5L320.4 2077L321.5 2075L323.4 2073.5L328 2071" fill="none" stroke="#d2146e" stroke-width="6.8" stroke-linecap="butt" stroke-linejoin="round" />
<path d="M308 2084L319 2082L333 2085L343 2091L354.7 2091.3" fill="none" stroke="#1a1a1a" stroke-width="1.2" stroke-linecap="butt" stroke-linejoin="round" />
<path d="M328 2071L337 2069L338 2064" fill="none" stroke="#1a1a1a" stroke-width="1.2" stroke-linecap="butt" stroke-linejoin="round" />
<path d="M337 2069L343 2082L342 2093" fill="none" stroke="#1a1a1a" stroke-width="1.2" stroke-linecap="butt" stroke-linejoin="round" />
<path d="M336.1 2072.8l3.8 2.4m-0.7 -3.1l-2.4 3.8M345.3 2083.2l-2.6 3.7m3.1 -0.5l-3.7 -2.6" stroke="#d2146e" stroke-width="2.2" fill="none"/>
<path d="M335.9 2064l4.2 0m-2.1 -2.1l-0 4.2M330.6 2083.4l2.8 3.2m0.2 -3l-3.2 2.8M342.4 2091.9l-0.8 4.2m2.5 -1.7l-4.2 -0.8" stroke="#d8d8d4" stroke-width="2" fill="none"/>
<path d="M354.7 2091.3L389.6 2097.8" fill="none" stroke="#d2146e" stroke-width="6.8" stroke-linecap="butt" stroke-linejoin="round" />
<path d="M398.7 2099L403.6 2099.7L408.5 2100.5" fill="none" stroke="#d2146e" stroke-width="6.8" stroke-linecap="butt" stroke-linejoin="round" />
<path d="M93.5 2083.6L87.8 2073.8L99.2 2073.8Z" fill="#1a1a1a"/>
<path d="M107.6 2106.4L113.3 2116.2L101.8 2116.2Z" fill="#1a1a1a"/>
<path d="M395.5 2086.9L389.8 2077.1L401.2 2077.1Z" fill="#1a1a1a"/>
<text x="0" y="2106" font-size="43.5" font-weight="normal" fill="#1a1a1a" textLength="55" lengthAdjust="spacingAndGlyphs">19p</text>
<path d="M88.4 2191.8L120.7 2192.1L140.8 2192.6L157 2193.3L193.2 2195.3L217.4 2196.2L233.6 2196.1L298.1 2194.4L326.3 2193.8L334.4 2193.8L350.5 2194.6L407 2195" fill="none" stroke="#1a1a1a" stroke-width="1.3" stroke-linecap="butt" stroke-linejoin="round" />
<path d="M88.4 2191.8L121 2192.1L141.4 2192.6L194.4 2195.4" fill="none" stroke="#faa50a" stroke-width="6.3" stroke-linecap="butt" stroke-linejoin="round" />
<path d="M259 2195.4L326.8 2193.8" fill="none" stroke="#faa50a" stroke-width="6.3" stroke-linecap="butt" stroke-linejoin="round" />
<path d="M350.7 2194.6L407 2195" fill="none" stroke="#faa50a" stroke-width="6.3" stroke-linecap="butt" stroke-linejoin="round" />
<path d="M208.5 2196L212.5 2196.1" fill="none" stroke="#faa50a" stroke-width="6.3" stroke-linecap="butt" stroke-linejoin="round" />
<path d="M226.5 2196.2L230.5 2196.2" fill="none" stroke="#faa50a" stroke-width="6.3" stroke-linecap="butt" stroke-linejoin="round" />
<path d="M242.5 2195.9L246.5 2195.7" fill="none" stroke="#faa50a" stroke-width="6.3" stroke-linecap="butt" stroke-linejoin="round" />
<path d="M197 2195.5L211.4 2198.5L226 2196.2L211.6 2193.5Z" fill="none" stroke="#1a1a1a" stroke-width="1.1"/>
<path d="M209.7 2198.5L213.2 2198.6" fill="none" stroke="#d8d8d4" stroke-width="3" stroke-linecap="butt" stroke-linejoin="round" />
<path d="M209.8 2193.5L213.3 2193.6" fill="none" stroke="#faa50a" stroke-width="3" stroke-linecap="butt" stroke-linejoin="round" />
<path d="M230 2196.2L244.1 2198.3L258 2195.4L243.9 2193.3Z" fill="none" stroke="#1a1a1a" stroke-width="1.1"/>
<path d="M242.3 2198.4L245.8 2198.3" fill="none" stroke="#d8d8d4" stroke-width="3" stroke-linecap="butt" stroke-linejoin="round" />
<path d="M242.2 2193.4L245.7 2193.3" fill="none" stroke="#faa50a" stroke-width="3" stroke-linecap="butt" stroke-linejoin="round" />
<path d="M215 2196L216 2201L212 2206" fill="none" stroke="#1a1a1a" stroke-width="1.2" stroke-linecap="butt" stroke-linejoin="round" />
<path d="M217.8 2199.3l-2.6 3.4m3 -0.4l-3.4 -2.6" stroke="#faa50a" stroke-width="2" fill="none"/>
<path d="M213.8 2204.6l-3.5 1.9m2.7 0.8l-1.9 -3.5" stroke="#faa50a" stroke-width="1.9" fill="none"/>
<path d="M328 2193.8L338.8 2196.8L350 2194.6L339.2 2191.2Z" fill="none" stroke="#1a1a1a" stroke-width="1.1"/>
<path d="M337.1 2196.7L340.5 2197" fill="none" stroke="#d8d8d4" stroke-width="3" stroke-linecap="butt" stroke-linejoin="round" />
<path d="M337.5 2191.1L341 2191.4" fill="none" stroke="#faa50a" stroke-width="3" stroke-linecap="butt" stroke-linejoin="round" />
<text x="4" y="2203" font-size="43.5" font-weight="normal" fill="#1a1a1a" textLength="60" lengthAdjust="spacingAndGlyphs">20p</text>
<path d="M1268 830L1264.9 814L1262 800.7L1252.4 763.2L1245.4 734.4L1241.3 716.4L1238.8 704L1234 677.4L1227.5 637.2L1226.5 629.2L1224.8 612.5L1224 599.6L1224 590L1224.4 579.1L1225.5 561.3L1227 549L1228 542.8L1230.5 530.4L1232 524.2L1235.4 511.5L1241.5 491.7L1249.1 469.8L1254.8 454.8L1257.8 447.6L1260.9 440.7L1264 434.5L1267.2 428.8L1270.4 423.5L1273.8 418.6L1280.7 409.5L1294.3 393L1300.6 385.6L1307.1 378.8L1314.1 372.2L1318 369L1326.8 362.6L1331.5 359.4L1341.3 353.4L1360.8 342.4L1375.4 334.9L1384.8 330.5L1393 327L1399.5 324.5L1404.6 322.9L1412.6 321.4L1419.8 320.6L1428.1 320L1437.1 319.8L1451 320L1460.4 320.5L1470.1 321.2L1479.7 322.4L1489 324L1497.6 326L1505.8 328.2L1513.9 331.2L1522.5 335L1531.8 340L1541.5 345.9L1546.3 349.1L1555.6 355.7L1564.1 362.3L1572 369.2L1575.7 372.8L1583 380.2L1593.5 392.1L1600.5 400.5L1607.2 409.4L1613.3 418.4L1616 423L1620.7 432L1624.7 441.1L1628.1 450.7L1631 461.5L1632.3 467.5L1634.5 480.7L1636.1 494.8L1637.2 508.7L1637.7 521.7L1637.6 534.4L1637.3 540.7L1636.3 553L1635.5 559L1633.3 570.9L1630.4 582.4L1626.8 593.7L1624.6 599.3L1619.5 610.5L1616.5 616.1L1613.3 621.7L1606 632.8L1597.9 643.8L1585.1 660.7L1576 672.3L1566.3 683.9L1556.2 695.2L1551 700.5L1540.4 710.7L1535 715.5L1523.7 725L1517.9 729.6L1505.5 738.5L1492 747.2L1484.8 751.5L1470.1 759.7L1448 771L1440.8 774.4L1426.3 780.8L1404.6 789.3L1390 794.5L1382.5 796.9L1367 801.4L1337.3 809.2L1309.6 816.8L1301 819.4L1297.3 820.7L1294 822L1291.2 823.5L1289 825L1285.7 828.2L1282 833" fill="none" stroke="#e3e4df" stroke-width="65" stroke-linecap="round" stroke-linejoin="round" />
<path d="M1158.5 897.5L1262 832" fill="none" stroke="#e3e4df" stroke-width="64" stroke-linecap="round" stroke-linejoin="round" />
<path d="M1276 822L1294.5 907" fill="none" stroke="#e3e4df" stroke-width="66" stroke-linecap="round" stroke-linejoin="round" />
<rect x="1225.9" y="772.4" width="89.6" height="89.2" fill="none" stroke="#1a1a1a" stroke-width="1.1"/>
<path d="M1262.4 825L1256.5 800.7L1246 762.1L1237.5 729.6L1234.1 715.2L1232 705.3L1227.2 678.7L1220.1 634.8L1218.1 614.9L1217.4 604.9L1217.2 597.8L1217.3 590L1217.7 576.9L1218.3 567.4L1219.1 557.6L1220.4 547.7L1221.2 542.8L1223.2 533L1225.5 523L1228.3 512.9L1233.2 497.1L1239 480.1L1243.5 467.8L1248.3 455.3L1253.4 443.5L1258.5 432.8L1261.1 428L1266.5 419.3L1272 411.3L1277.6 404L1291.3 386.9L1296.4 380.7L1301.7 374.9L1307.2 369.4L1313.5 364L1320.6 358.8L1328.4 353.9L1336.5 349.2L1352.8 340.5L1365.1 334.4L1377.4 328.7L1385.2 325.4L1394.9 321.8L1399.9 320.3L1406.1 319L1415.6 318L1425.2 317.5L1436 317.5L1447.3 317.8L1462.6 318.7L1474.6 319.7L1482.5 320.7L1490.2 322L1501 324.3L1507.9 326.1L1514.8 328.3L1521.9 331.1L1533.3 336.5L1541.4 340.9L1549.6 345.8L1557.5 350.9L1564.9 356.2L1571.7 361.6L1578.2 367.3L1584.4 373.2L1593.4 382.5L1602.2 392.3L1611 402.7L1616.5 409.9L1621.5 417.3L1625.9 424.7L1629.6 432L1632.9 439.4L1635.8 447.2L1638.3 455.7L1640.6 465.2L1642.6 475.8L1644.9 492.8L1646 504.3L1646.6 515.3L1646.8 531L1646.4 541.3L1645.6 551.5L1644.3 561.5L1642.4 571.3L1640.1 580.9L1637.3 590.3L1634 599.6L1630 608.9L1627.7 613.5L1625.2 618.1L1619.7 627.3L1610.2 640.9L1592.7 664L1581.5 678.4L1573.7 688.1L1565.5 697.5L1561.3 702L1552.7 710.7L1543.8 719L1534.7 726.9L1525.1 734.6L1520.2 738.3L1509.9 745.7L1504.5 749.3L1498.9 752.9L1487.2 759.9L1475.1 766.7L1463 773.1L1451 779L1439.2 784.5L1427.4 789.5L1415.6 794.2L1403.8 798.5L1392 802.6L1386 804.5L1373.7 808.1L1328.2 819.5L1303 825.5L1296.6 827.2L1291.6 828.8L1288 830.5L1285.5 832.1L1282 835" fill="none" stroke="#1a1a1a" stroke-width="1.5" stroke-linecap="butt" stroke-linejoin="round" />
<path d="M1262.4 825L1256.5 800.7L1246 762.1L1237.5 729.6L1234.1 715.2L1232 705.3L1227.2 678.7L1220.1 634.8L1218.1 614.9L1217.4 604.9L1217.2 597.8L1217.3 590L1217.7 576.9L1218.3 567.4L1219.1 557.6L1220.4 547.7L1221.2 542.8L1223.2 533L1225.5 523L1228.3 512.9L1233.2 497.1L1239 480.1L1243.5 467.8L1248.3 455.3L1253.4 443.5L1258.5 432.8L1261.1 428L1266.5 419.3L1272 411.3L1277.6 404L1291.3 386.9L1296.4 380.7L1301.7 374.9L1307.2 369.4L1313.5 364L1320.6 358.8L1328.4 353.9L1336.5 349.2L1352.8 340.5L1365.1 334.4L1377.4 328.7L1385.2 325.4L1394.9 321.8L1399.9 320.3L1406.1 319L1415.6 318L1425.2 317.5L1436 317.5L1447.3 317.8L1462.6 318.7L1474.6 319.7L1482.5 320.7L1490.2 322L1501 324.3L1507.9 326.1L1514.8 328.3L1521.9 331.1L1533.3 336.5L1541.4 340.9L1549.6 345.8L1557.5 350.9L1564.9 356.2L1571.7 361.6L1578.2 367.3L1584.4 373.2L1593.4 382.5L1602.2 392.3L1611 402.7L1616.5 409.9L1621.5 417.3L1625.9 424.7L1629.6 432L1632.9 439.4L1635.8 447.2L1638.3 455.7L1640.6 465.2L1642.6 475.8L1644.9 492.8L1646 504.3L1646.6 515.3L1646.8 531L1646.4 541.3L1645.6 551.5L1644.3 561.5L1642.4 571.3L1640.1 580.9L1637.3 590.3L1634 599.6L1630 608.9L1627.7 613.5L1625.2 618.1L1619.7 627.3L1610.2 640.9L1592.7 664L1581.5 678.4L1573.7 688.1L1565.5 697.5L1561.3 702L1552.7 710.7L1543.8 719L1534.7 726.9L1525.1 734.6L1520.2 738.3L1509.9 745.7L1504.5 749.3L1498.9 752.9L1487.2 759.9L1475.1 766.7L1463 773.1L1451 779L1439.2 784.5L1427.4 789.5L1415.6 794.2L1403.8 798.5L1392 802.6L1386 804.5L1373.7 808.1L1328.2 819.5L1303 825.5L1296.6 827.2L1291.6 828.8L1288 830.5L1285.5 832.1L1282 835" fill="none" stroke="#b0189a" stroke-width="6.4" stroke-linecap="butt" stroke-linejoin="round" stroke-dasharray="4.3 3.8" />
<path d="M1237 737.2l5.4 2.5m-1.5 -4l-2.5 5.4M1242.6 732.9l-0.1 6m3 -3l-6 -0.1M1243.3 733.5l-1 5.9m3.5 -2.4l-5.9 -1M1220.3 632l2.2 5.6m1.7 -3.9l-5.6 2.2M1223.9 635.4l-3.9 4.6m4.2 -0.3l-4.6 -3.9M1215.4 635.1l5.6 2m-1.8 -3.8l-2 5.6M1223.6 535.3l-1.7 5.8m3.7 -2l-5.8 -1.7M1226.7 532.3l-4.2 4.3m4.2 -0.1l-4.3 -4.2M1221.5 531.2l-3.1 5.1m4.1 -1l-5.1 -3.1M1248.8 449.8l5.8 1.6m-2.1 -3.7l-1.6 5.8M1246.5 446.8l3.8 4.6m0.4 -4.2l-4.6 3.8M1255 448l-5.6 2.1m3.9 1.8l-2.1 -5.6M1310.9 361.6l2.2 5.6m1.7 -3.9l-5.6 2.2M1308.6 361.2l1.4 5.8m2.2 -3.6l-5.8 1.4M1313.1 361.9l-1.8 5.7m3.8 -2l-5.7 -1.8M1503.3 324.4l-5.7 1.9m3.8 1.9l-1.9 -5.7M1498.1 320.6l5.8 1.6m-2.1 -3.7l-1.6 5.8M1500.4 320.7l5.8 1.6m-2.1 -3.7l-1.6 5.8M1599 389.5l1.5 5.8m2.2 -3.7l-5.8 1.5M1596.1 389.6l5.7 1.7m-2 -3.7l-1.7 5.7M1601.3 384.4l-2 5.7m3.8 -1.8l-5.7 -2M1641 446.1l-1 5.9m3.5 -2.4l-5.9 -1M1636.1 447.5l4 4.5m0.2 -4.2l-4.5 4M1638 454.5l5.6 2.2m-1.7 -3.9l-2.2 5.6M1645.7 541l4.4 4.1m-0.2 -4.2l-4.1 4.4M1646 533.9l2.5 5.5m1.5 -4l-5.5 2.5M1650 538.5l-4.6 3.9m4.2 0.3l-3.9 -4.6M1621.7 621.6l-5.5 2.5m4 1.5l-2.5 -5.5M1621.5 620.7l1.8 5.7m2 -3.8l-5.7 1.8M1622.2 624.2l6 0.3m-2.8 -3.2l-0.3 6M1549.1 711.3l1.2 5.9m2.3 -3.6l-5.9 1.2M1544.1 712.5l3.1 5.1m1 -4.1l-5.1 3.1M1541.9 715.4l5.7 1.9m-1.9 -3.8l-1.9 5.7M1479.9 761.2l-4.6 3.8m4.2 0.4l-3.8 -4.6M1479.6 764l-3.7 4.7m4.2 -0.5l-4.7 -3.7M1473.2 765.1l1.4 5.8m2.2 -3.6l-5.8 1.4M1377.7 806.5l1.8 5.7m1.9 -3.8l-5.7 1.8M1378.4 805.9l2.4 5.5m1.6 -3.9l-5.5 2.4M1384.3 802.4l-5.3 2.8m4.1 1.2l-2.8 -5.3" stroke="#b0189a" stroke-width="2.9" fill="none"/>
<path d="M1399.3 311.6l1 0.8M1399.3 311.6l-0.6 2.1M1399.7 314.7l-1 -0.9M1399.7 314.7l0.6 -2.2M1400.3 312.4l-1.6 1.3M1397.9 319.6l-1.9 -2.1M1397.9 319.6l1.8 -5M1396 317.5l3.7 -2.9M1397.9 319.6l2.4 -7.2" fill="none" stroke="#1a1a1a" stroke-width="1.1"/>
<path d="M1399.7 309.4l-0.8 4.4m2.6 -1.8l-4.4 -0.8M1398.7 312.7l2.1 4m1 -3l-4 2.1M1402 311l-3.5 2.8m3.2 0.3l-2.8 -3.5M1400 311.8l-2.5 3.7m3.1 -0.6l-3.7 -2.5M1396.8 317.7l2.2 3.9m0.9 -3.1l-3.9 2.2M1395.1 315.5l1.7 4.2m1.2 -2.9l-4.2 1.7" stroke="#b0189a" stroke-width="2.2" fill="none"/>
<path d="M1516.1 328.5l1.6 0.2M1516.1 328.5l1.8 0.5M1517.7 328.7l0.2 0.3M1517.7 328.7l0.1 -0.9M1519.1 330.5l-0.4 -1.4M1519.1 330.5l-1.2 -1.4M1517.8 327.8l0 1.3M1517.9 329l0.8 0M1518.7 329.1l-1 -0.4M1513 328.7l3.1 -0.1M1513 328.7l4.7 0.1M1518.3 325.3l-0.4 2.5M1518.3 325.3l-0.6 3.5" fill="none" stroke="#1a1a1a" stroke-width="1.1"/>
<path d="M1515.1 326.5l1.9 4.1m1.1 -3l-4.1 1.9M1519.9 328.1l-4.3 1.3m2.8 1.5l-1.3 -4.3M1519.7 327.1l-2.1 4m3 -1l-4 -2.1" stroke="#d8d8d4" stroke-width="2.2" fill="none"/>
<path d="M1517.3 329l3.5 2.9m-0.3 -3.2l-2.9 3.5M1516.1 326.3l3.4 3m-0.2 -3.2l-3 3.4M1517.7 326.8l0.3 4.5m2.1 -2.4l-4.5 0.3M1511.6 326.9l2.8 3.5m0.4 -3.2l-3.5 2.8M1520.4 324.6l-4.3 1.3m2.8 1.5l-1.3 -4.3" stroke="#b0189a" stroke-width="2.2" fill="none"/>
<path d="M1262.4 825L1267.8 825.9L1271.1 826.7L1273.8 827.7L1277.2 829.4L1279.4 831L1280.6 832.1L1282.1 834.3L1284 838" fill="none" stroke="#1a1a1a" stroke-width="1.3" stroke-linecap="butt" stroke-linejoin="round" />
<path d="M1262.4 825L1255.8 827.9L1254 829L1251.5 831.1L1248.3 834.4L1245.3 837.9L1239.7 845.8" fill="none" stroke="#1a1a1a" stroke-width="1.3" stroke-linecap="butt" stroke-linejoin="round" />
<path d="M1239.7 845.8L1223.4 857.8L1213.2 864.4L1206.1 868.2L1187.3 875.7L1179.9 879.1L1169.1 884.7L1144.6 898.9" fill="none" stroke="#1a1a1a" stroke-width="1.3" stroke-linecap="butt" stroke-linejoin="round" />
<path d="M1239.7 845.8L1223.4 857.8L1213.2 864.5L1206 868.2L1187.2 875.7L1179.8 879.1L1169 884.8L1148 897" fill="none" stroke="#b0189a" stroke-width="6.4" stroke-linecap="butt" stroke-linejoin="round" stroke-dasharray="5 4 3 3 7 5 2.5 3" />
<path d="M1243.9 845.9l-0.1 1.9M1243.9 845.9l-1.7 1.9M1243.9 845.9l-0.2 -2.6M1239.8 844.2l0.7 0.2M1239.8 844.2l-0.1 -2.8M1239.8 844.2l-3.2 -0.7M1234.4 844.3l0.9 0.4M1234.4 844.3l2.2 -0.8M1234.4 844.3l-1.2 2.6M1235.1 841.5l1.5 2.1M1235.1 841.5l-0.7 2.8M1235.1 841.5l0.2 3.2M1239.6 841.4l0.8 3M1239.6 841.4l-3.1 2.1M1240.5 844.4l3.3 -1M1243.9 847.9l-1.6 -0.1M1243.9 847.9l-0.1 -4.5M1242.2 847.8l-1.8 -3.4M1236.6 843.5l-1.3 1.1M1235.6 849.2l1.4 0.6M1235.6 849.2l-2.4 -2.4M1235.6 849.2l-0.3 -4.6M1243.7 843.4l-4 0.9M1233.2 846.8l2.1 -2.2M1236.9 849.8l-3.7 -3M1236.9 849.8l-1.7 -5.2" fill="none" stroke="#1a1a1a" stroke-width="1.1"/>
<path d="M1242.6 844l2.7 3.9m0.6 -3.3l-3.9 2.7M1239.2 841.9l1.2 4.6m1.7 -2.9l-4.6 1.2M1234.7 839.1l0.8 4.7m2 -2.7l-4.7 0.8M1242.8 844l-4.7 0.8m2.7 1.9l-0.8 -4.7M1242.5 845.9l2.7 3.9m0.6 -3.3l-3.9 2.7M1243.6 845.9l-2.8 3.8m3.3 -0.5l-3.8 -2.8M1234.4 842.5l4.3 2m-1.2 -3.1l-2 4.3M1233.2 848.9l4.7 0.6m-2.1 -2.7l-0.6 4.7M1232.9 844.2l4.7 0.8m-1.9 -2.7l-0.8 4.7M1235.4 848l3.1 3.6m0.2 -3.4l-3.6 3.1" stroke="#b0189a" stroke-width="2.3" fill="none"/>
<path d="M1236.7 844.2l-4.7 0.1m2.4 2.3l-0.1 -4.7M1239 839.1l1.3 4.6m1.7 -2.9l-4.6 1.3M1245.2 841.5l-3 3.7m3.3 -0.4l-3.7 -3M1235.6 846.8l-4.7 0.1m2.4 2.3l-0.1 -4.7" stroke="#d8d8d4" stroke-width="2.3" fill="none"/>
<path d="M1148.4 894.2l1 -0.8M1148.4 894.2l-2.1 3.1M1146.2 897.3l-2.1 0.7M1144.1 898l3.5 3M1151.6 897.3l-2.2 -3.8M1151.6 897.3l-3.2 -3M1147.5 902.6l0.1 -1.6M1147.5 902.6l-1.2 -5.3M1147.6 901l-1.4 -3.7M1149.4 893.5l-1.7 7.5M1147.5 902.6l4.1 -5.3" fill="none" stroke="#1a1a1a" stroke-width="1.1"/>
<path d="M1146.9 892.5l2.9 3.4m0.3 -3.2l-3.4 2.9M1143.1 896l2.1 4m1 -3l-4 2.1M1153.3 895.8l-3.4 2.9m3.2 0.2l-2.9 -3.4M1149.5 901.7l-4.1 1.8m3 1.1l-1.8 -4.1M1147.4 892.3l3.9 2.3m-0.8 -3.1l-2.3 3.9" stroke="#b0189a" stroke-width="2.2" fill="none"/>
<path d="M1145.4 895.2l1.7 4.2m1.2 -2.9l-4.2 1.7M1147.3 898.8l0.7 4.4m1.9 -2.6l-4.4 0.7" stroke="#d8d8d4" stroke-width="2.2" fill="none"/>
<circle cx="1190" cy="869.5" r="3" fill="none" stroke="#1a1a1a" stroke-width="1.2"/>
<path d="M1206.5 867.5l2.9 3.1m0.1 -3l-3.1 2.9M1211.9 861.7l4.2 0.7m-1.8 -2.4l-0.7 4.2" stroke="#d8d8d4" stroke-width="2" fill="none"/>
<path d="M1144.6 898.9L1048.4 954.6" fill="none" stroke="#b0189a" stroke-width="6.5" stroke-linecap="butt" stroke-linejoin="round" />
<path d="M1282 835L1287.6 854.3L1295.4 885.5L1296.4 889.3L1297.8 893.1L1298.9 897L1301.7 908.7" fill="none" stroke="#1a1a1a" stroke-width="1.3" stroke-linecap="butt" stroke-linejoin="round" />
<path d="M1282 835L1287.9 855.3L1296.1 888" fill="none" stroke="#b0189a" stroke-width="6.4" stroke-linecap="butt" stroke-linejoin="round" stroke-dasharray="9 2 3.5 2.5 3.5 2.5" />
<path d="M1297.1 888.2l-1.5 0.2M1297.1 888.2l1.9 0.4M1299 888.6l-3.4 -0.2M1295 882.2l-0.9 0.2M1295 882.2l-1.7 0.9M1293.2 883.1l0.9 -0.6M1292.6 890.4l1.3 1.5M1292.6 890.4l3 -1.9M1293.9 891.9l1.7 -3.4" fill="none" stroke="#1a1a1a" stroke-width="1.1"/>
<path d="M1298.3 886.3l-2.5 3.8m3.1 -0.7l-3.8 -2.5M1298.8 886.4l0.4 4.5m2 -2.5l-4.5 0.4M1293.8 880.9l-1.3 4.3m2.8 -1.5l-4.3 -1.3M1294.7 889.7l-4.3 1.4m2.8 1.5l-1.4 -4.3M1294.5 880.3l-0.9 4.4m2.6 -1.8l-4.4 -0.9" stroke="#b0189a" stroke-width="2.2" fill="none"/>
<path d="M1294.1 880.2l1.8 4.1m1.2 -3l-4.1 1.8M1294.7 886.4l1.8 4.1m1.2 -3l-4.1 1.8M1291.8 891l4.1 1.8m-1.1 -3l-1.8 4.1" stroke="#d8d8d4" stroke-width="2.2" fill="none"/>
<circle cx="1300.5" cy="889.5" r="3" fill="none" stroke="#1a1a1a" stroke-width="1.2"/>
<path d="M1301.7 908.7L1317.1 976.4L1322.2 1000.4L1326.1 1020.5L1328.7 1036.6L1330.4 1048.7L1332.3 1065L1335.3 1093.4" fill="none" stroke="#b0189a" stroke-width="6.5" stroke-linecap="butt" stroke-linejoin="round" />
<path d="M1337.5 1098.5L1339.5 1109.5" fill="none" stroke="#b0189a" stroke-width="6.5" stroke-linecap="butt" stroke-linejoin="round" />
<path d="M1327.2 1100.5L1317.4 1106.2L1317.4 1094.8Z" fill="#1a1a1a"/>
<text x="1103.4" y="799.2" font-size="43.5" font-weight="normal" fill="#1a1a1a" textLength="74.6" lengthAdjust="spacingAndGlyphs">9q12</text>
<text x="1003" y="993.5" font-size="43.5" font-weight="normal" fill="#1a1a1a" textLength="39.5" lengthAdjust="spacingAndGlyphs">9p</text>
<text x="1322.7" y="1154.8" font-size="43.5" font-weight="normal" fill="#1a1a1a" textLength="39.3" lengthAdjust="spacingAndGlyphs">9q</text>
<rect x="942" y="1273" width="192" height="52" rx="18" fill="#e3e4df" transform="rotate(56 1038 1299)"/>
<rect x="1275" y="1335.5" width="100" height="54" rx="18" fill="#e3e4df" transform="rotate(123.5 1325 1362.5)"/>
<path d="M785.6 1937.8L804.1 1977.4L1187.7 1776.3L1207.5 1760L1404 1997L1438.2 1971.2L1326.5 1799.8L1324.6 1776.8L1313.5 1764.1L1286.8 1758.4L1261.7 1743.6L1238.4 1716.5L1210.1 1705.8L1174 1713.1L1147.2 1735.9Z" fill="#e3e4df" stroke="#e3e4df" stroke-width="12" stroke-linejoin="round"/>
<ellipse cx="1179.5" cy="1918.6" rx="29.5" ry="18.7" fill="#e3e4df"/>
<rect x="1139.3" y="1456.3" width="110.2" height="109.5" fill="#e3e4df" stroke="#1a1a1a" stroke-width="1.2"/>
<path d="M911 1113.8L942.5 1160L1017 1275L1036.7 1301.6L1087.8 1382L1100 1400" fill="none" stroke="#1a1a1a" stroke-width="1.3" stroke-linecap="butt" stroke-linejoin="round" />
<path d="M911 1113.8L942.5 1160" fill="none" stroke="#32b4eb" stroke-width="6.5" stroke-linecap="butt" stroke-linejoin="round" />
<path d="M953.9 1177.6L963 1191.6" fill="none" stroke="#32b4eb" stroke-width="6.5" stroke-linecap="butt" stroke-linejoin="round" />
<path d="M973 1207.1L987.7 1229.7" fill="none" stroke="#32b4eb" stroke-width="6.5" stroke-linecap="butt" stroke-linejoin="round" />
<path d="M1043.7 1312.6L1063.5 1343.6" fill="none" stroke="#32b4eb" stroke-width="6.5" stroke-linecap="butt" stroke-linejoin="round" />
<path d="M946.4 1166L948.4 1169.2" fill="none" stroke="#32b4eb" stroke-width="6.3" stroke-linecap="butt" stroke-linejoin="round" />
<path d="M966.8 1197.5L968.9 1200.7" fill="none" stroke="#32b4eb" stroke-width="6.3" stroke-linecap="butt" stroke-linejoin="round" />
<path d="M994.6 1240.3L996.6 1243.5" fill="none" stroke="#32b4eb" stroke-width="6.3" stroke-linecap="butt" stroke-linejoin="round" />
<path d="M999.8 1248.5L1001.9 1251.7" fill="none" stroke="#32b4eb" stroke-width="6.3" stroke-linecap="butt" stroke-linejoin="round" />
<path d="M1006.9 1259.4L1009 1262.6" fill="none" stroke="#32b4eb" stroke-width="6.3" stroke-linecap="butt" stroke-linejoin="round" />
<path d="M1016.3 1274L1018.5 1277.1" fill="none" stroke="#32b4eb" stroke-width="6.3" stroke-linecap="butt" stroke-linejoin="round" />
<path d="M1025.5 1286.4L1027.7 1289.5" fill="none" stroke="#32b4eb" stroke-width="6.3" stroke-linecap="butt" stroke-linejoin="round" />
<path d="M1034 1297.9L1036.2 1301" fill="none" stroke="#32b4eb" stroke-width="6.3" stroke-linecap="butt" stroke-linejoin="round" />
<path d="M1072.8 1358.4L1074.9 1361.6" fill="none" stroke="#32b4eb" stroke-width="6.3" stroke-linecap="butt" stroke-linejoin="round" />
<path d="M1086.8 1380.4L1088.8 1383.6" fill="none" stroke="#32b4eb" stroke-width="6.3" stroke-linecap="butt" stroke-linejoin="round" />
<path d="M998.7 1244.7l-0.1 5.4M998.7 1244.7l0.2 5.8M998.9 1250.6l-0.2 -0.5" fill="none" stroke="#1a1a1a" stroke-width="1.1"/>
<path d="M996.9 1244.4l3.7 0.8m-1.5 -2.2l-0.8 3.7M999.6 1248.8l-1.5 3.5m2.5 -1l-3.5 -1.5M997.1 1249.1l3.2 2m-0.6 -2.6l-2 3.2" stroke="#32b4eb" stroke-width="1.8" fill="none"/>
<path d="M1123 1409.4l0.1 2.4M1123 1409.4l-0.5 4.6M1123 1409.4l-5.5 -1.3M1104.1 1428.6l1 0.8M1104.1 1428.6l-1.6 0.2M1104.1 1428.6l-1.2 -1.3M1111.5 1403.4l-1.6 -1.5M1111.5 1403.4l3.4 0.2M1111.5 1403.4l4.4 -0.6M1098.9 1419.1l-1.6 0.8M1098.9 1419.1l0.8 -1.6M1098.9 1419.1l-1.3 -2M1114 1414.5l0.4 -0.7M1114 1414.5l3 0.6M1114 1414.5l-0.8 -3.7M1105 1413.3l-1.1 -0.1M1105 1413.3l-1.7 0.8M1105 1413.3l-0.8 -3.6M1111.4 1417.3l-0.2 2.7M1111.4 1417.3l2.6 -2.8M1111.4 1417.3l-1.9 -4.1M1098.6 1411l-0.1 1.1M1098.6 1411l0.9 1.8M1098.6 1411l4.6 3.1M1097.3 1419.9l-0.5 2.7M1097.3 1419.9l1.5 2.3M1119 1419.7l-0.2 2.1M1119 1419.7l1.8 -1.2M1119 1419.7l-1.1 -2.3M1099.5 1412.7l-0.9 -0.7M1099.5 1412.7l3.7 1.4M1102.5 1428.8l0.3 -1.4M1102.5 1428.8l2.6 0.6M1124.1 1424.2l3.3 -0.2M1124.1 1424.2l4 0.6M1124.1 1424.2l4.5 -0.3M1114.2 1434.8l1.1 0.7M1114.2 1434.8l1.1 -1.8M1114.2 1434.8l0.3 2.2M1117.4 1408.1l-4 0.9M1117.4 1408.1l1.4 -3.9M1117.4 1408.1l-4.3 2.7M1127.4 1424l0.7 0.8M1127.4 1424l1.2 -0.1M1126.6 1414.5l-1.4 0.7M1126.6 1414.5l-0.5 1.6M1126.6 1414.5l1.6 -1.5M1115.2 1424.9l-1.5 2.9M1115.2 1424.9l1.1 -3.2M1115.2 1424.9l2.2 2.6M1114.9 1403.5l1 -0.8M1114.9 1403.5l3.4 -1.9M1103.2 1414.1l0.7 -0.9M1103.2 1414.1l-0.9 2.1M1119.9 1432.7l-0.9 -1.4M1119.9 1432.7l-2.1 0.4M1119.9 1432.7l-1.7 -3.4M1121.9 1415.8l0.5 -1.8M1121.9 1415.8l2.6 -0.7M1121.9 1415.8l2.4 1.6M1126.1 1416.1l-0.8 -0.9M1126.1 1416.1l-1.6 -0.9M1098.6 1412l4.7 2.1M1124.5 1415.2l0.7 0.1M1124.5 1415.2l2.1 -0.7M1102.4 1416.2l0.4 2.7M1102.4 1416.2l-2.7 1.3M1114.4 1413.8l2.6 1.3M1114.4 1413.8l-1.2 -3M1118.3 1401.7l0.5 2.6M1118.3 1401.7l-2.4 1.1M1104.2 1409.6l-1.3 -2.3M1104.2 1409.6l-0.2 3.6M1102.9 1407.3l-4.3 3.7M1102.9 1407.3l5.7 1.3M1124.3 1418.7l0 -1.3M1124.3 1418.7l1.6 0.7M1124.3 1418.7l1.7 -2.6M1104.9 1432.8l0.2 -3.3M1104.9 1432.8l2.7 3M1104.9 1432.8l-0.8 -4.1M1105.1 1429.4l-2.2 -2.1M1126 1419.4l-1.6 -2M1126 1419.4l0.1 -3.4M1110.4 1429.6l-1.4 -1.1M1110.4 1429.6l0.5 -2.8M1110.4 1429.6l3.3 -1.8M1102.3 1419.6l0.4 -0.7M1102.3 1419.6l2 1.4M1102.3 1419.6l2.1 1.3M1102.8 1418.8l1.7 2M1102.8 1418.8l1.6 2.1M1118.8 1404.2l-2.9 -1.5M1118.8 1404.2l-3.9 -0.7M1120.8 1418.6l1.1 -2.7M1120.8 1418.6l-2.9 -1.1M1118.8 1421.9l-2.6 -0.2M1118.8 1421.9l2 -3.3M1107.3 1421.6l-0.6 -1.2M1107.3 1421.6l-1.8 -1.9M1107.3 1421.6l-2.9 -0.8M1115 1420.6l1.3 1.1M1115 1420.6l-3.8 -0.7M1115 1420.6l3.8 1.2M1109.9 1401.9l5.1 1.7M1109.9 1401.9l6.1 0.9M1104.3 1420.9l0.1 -0.1M1104.3 1420.9l1.2 -1.2M1104.3 1420.9l-0.7 1.7M1096.8 1422.6l2 -0.4M1096.8 1422.6l2.1 -3.5M1099.7 1417.5l-2.1 -0.4M1102.4 1426l0.5 1.4M1102.4 1426l0.1 2.8M1102.4 1426l1.7 2.6M1114.5 1437l-0.6 0.8M1114.5 1437l0.8 -1.5M1105.5 1419.7l1.2 0.7M1105.5 1419.7l-1.1 1.1M1118.7 1426.7l-1.2 0.7M1118.7 1426.7l-0.4 2.6M1118.7 1426.7l-3.5 -1.8M1097.6 1417.1l-0.3 2.8M1122.5 1414l0.6 -2.2M1122.5 1414l2 1.1M1113.2 1410.8l0.3 -1.8M1116.9 1435.1l0 0M1116.9 1435.1l-1.6 0.4M1116.9 1435.1l0.9 -2.1M1123.1 1411.8l1.4 3.3M1110.9 1426.8l-1.9 1.8M1110.9 1426.8l2.8 1M1098.8 1422.2l0.1 -3.1M1117.9 1417.4l-0.9 -2.4M1108.6 1408.6l-4.5 1M1108.6 1408.6l0.9 4.6M1108.6 1408.6l4.8 0.4M1109.1 1428.5l-3.9 0.9M1117.8 1433l1.3 -1.8M1117.4 1427.4l0.8 1.9M1103.9 1413.2l-1.6 2.9M1109.5 1413.2l3.7 -2.4M1109.5 1413.2l-4.5 0.1M1111.2 1433.9l3 0.8M1111.2 1433.9l-3.6 1.9M1111.2 1433.9l4.2 -0.9M1128.1 1424.8l0.5 -0.9M1118.2 1429.3l0.8 2M1122.2 1429.6l2.6 0.9M1122.2 1429.6l-3.1 1.6M1122.2 1429.6l-2.3 3M1111.2 1419.9l-3.9 1.7M1129.7 1419.2l-3.8 0.2M1129.7 1419.2l-1.1 4.7M1129.7 1419.2l-3.7 -3.1M1116.9 1435.1l-1.6 0.4M1116.9 1435.1l0.9 -2.1M1113.9 1437.7l1.4 -2.2M1113.9 1437.7l0.3 -3M1128.2 1413l-2.9 2.2M1128.2 1413l-2.1 3M1106.7 1420.4l-2.3 0.4M1115.3 1433l2.4 0M1115.3 1433l-0.1 2.5M1104.4 1420.8l-0.8 1.8M1124.3 1417.4l1.7 -1.4M1124.3 1417.4l0.1 -2.3M1103.7 1422.7l-1.3 -3.1M1124.7 1430.5l-4.8 2.1M1124.7 1430.5l-5.7 0.7M1113.4 1409l1 4.7M1107.5 1435.8l6.4 1.9M1099.5 1412.7l-2.7 9.9M1098.8 1422.2l5.3 -12.6M1104.2 1409.6l-1.8 6.5M1103.9 1413.2l-1.6 6.3M1109.9 1401.9l-6.2 20.8M1104.4 1420.8l-1.5 6.5M1111.5 1403.4l-7.4 25.3M1104.1 1428.6l2.6 -8.2M1106.7 1420.4l2.8 -7.2M1109.5 1413.2l-2.2 8.4M1107.3 1421.6l-2.2 7.8M1113.2 1410.8l-1.8 6.5M1111.4 1417.3l4.5 -14.5M1111.2 1419.9l-2.2 8.6M1109.1 1428.5l-1.5 7.2M1116.3 1421.7l1.6 -4.3M1118.8 1421.9l-4.4 15.1M1117.4 1427.4l5.6 -18M1115.3 1435.5l5.6 -16.9M1122.5 1414l-3.8 12.7M1118.7 1426.7l3.3 -10.9M1124.7 1430.5l2.7 -6.5M1127.4 1424l2.3 -4.8M1129.7 1419.2l-1.6 5.6" fill="none" stroke="#1a1a1a" stroke-width="1.1"/>
<path d="M1120.3 1408.9l5.4 1.1m-2.1 -3.2l-1.1 5.4M1106.8 1428.4l-5.5 0.4m2.9 2.5l-0.4 -5.5M1108.9 1402.6l5.3 1.6m-1.8 -3.4l-1.6 5.3M1098.3 1416.5l1.3 5.3m2 -3.3l-5.3 1.3M1111.5 1413.3l5 2.2m-1.4 -3.6l-2.2 5M1103.6 1410.9l2.9 4.7m0.9 -3.8l-4.7 2.9M1109 1415.9l4.8 2.8m-1 -3.8l-2.8 4.8M1101 1409.6l-4.7 2.8m3.8 1l-2.8 -4.7M1096.8 1417.2l1 5.4m2.2 -3.2l-5.4 1M1117.4 1417.5l3.3 4.4m0.6 -3.8l-4.4 3.3M1102.2 1412.1l-5.4 1.3m3.3 2.1l-1.3 -5.4M1103.5 1426.2l-1.8 5.2m3.5 -1.7l-5.2 -1.8M1125.3 1421.7l-2.4 5m3.7 -1.3l-5 -2.4M1111.7 1433.5l4.9 2.5m-1.2 -3.7l-2.5 4.9M1116.5 1405.5l1.8 5.2m1.7 -3.5l-5.2 1.8M1125 1422.6l4.7 2.9m-0.9 -3.8l-2.9 4.7M1124.2 1413.3l4.9 2.5m-1.2 -3.7l-2.5 4.9M1115.4 1422.1l-0.4 5.5m3 -2.5l-5.5 -0.4M1117.6 1403l-5.4 1.2m3.3 2.1l-1.2 -5.4M1100.9 1412.6l4.7 2.9m-0.9 -3.8l-2.9 4.7M1117.2 1432.4l5.5 0.5m-2.5 -3l-0.5 5.5M1124.2 1414.3l-4.6 3m3.8 0.8l-3 -4.6M1123.3 1415.6l5.4 0.9m-2.2 -3.2l-0.9 5.4M1098 1409.3l1.1 5.4m2.1 -3.3l-5.4 1.1M1122.6 1413.2l3.9 3.9m0 -3.9l-3.9 3.9M1104.9 1415.2l-5.2 1.9m3.5 1.6l-1.9 -5.2M1116 1411.5l-3.2 4.4m3.8 -0.6l-4.4 -3.2M1121 1401.2l-5.4 0.9m3.2 2.2l-0.9 -5.4M1102.7 1407.3l2.9 4.7m0.9 -3.8l-4.7 2.9M1103.1 1404.6l-0.4 5.5m3 -2.5l-5.5 -0.4M1124.5 1416l-0.4 5.5m2.9 -2.6l-5.5 -0.4M1102.9 1430.9l4 3.8m-0.1 -3.9l-3.8 4M1102.9 1427.8l4.5 3.2m-0.6 -3.8l-3.2 4.5M1123.2 1419.1l5.4 0.8m-2.3 -3.1l-0.8 5.4M1110.7 1426.9l-0.6 5.5m3 -2.4l-5.5 -0.6M1101.7 1416.9l1.3 5.3m2 -3.3l-5.3 1.3M1102.7 1416.1l0.1 5.5m2.7 -2.8l-5.5 0.1M1119.5 1401.6l-1.3 5.3m3.3 -2l-5.3 -1.3M1118.3 1417.5l5.1 2.1m-1.5 -3.6l-2.1 5.1M1121.3 1420.6l-4.9 2.4m3.7 1.3l-2.4 -4.9M1104.5 1421.5l5.5 0.2m-2.6 -2.9l-0.2 5.5M1108 1399.8l3.7 4.1m0.2 -3.9l-4.1 3.7M1104.5 1418.2l-0.3 5.5m2.9 -2.6l-5.5 -0.3M1098.5 1420.5l-3.5 4.3m3.9 -0.4l-4.3 -3.5M1097 1417l5.4 1m-2.2 -3.2l-1 5.4M1118.3 1401.3l-4.7 2.9m3.8 0.9l-2.9 -4.7M1100.1 1424.4l4.5 3.1m-0.7 -3.8l-3.1 4.5M1112.4 1435.2l4.2 3.6m-0.3 -3.9l-3.6 4.2M1107.1 1417.5l-3.3 4.4m3.8 -0.6l-4.4 -3.3M1117.2 1424.4l3 4.6m0.8 -3.8l-4.6 3M1098.8 1414.6l-2.4 5m3.7 -1.3l-5 -2.4M1121.9 1411.3l1.2 5.4m2.1 -3.3l-5.4 1.2M1112.3 1408.2l1.8 5.2m1.7 -3.5l-5.2 1.8M1114.5 1433.7l4.7 2.8m-0.9 -3.8l-2.8 4.7M1126.9 1413l-3.2 4.4m3.8 -0.6l-4.4 -3.2M1124.3 1409.3l-2.3 5m3.7 -1.3l-5 -2.3M1111.1 1424l-0.2 5.5m2.9 -2.6l-5.5 -0.2M1097.2 1420l3.3 4.4m0.5 -3.9l-4.4 3.3M1113.8 1433.2l3 4.6m0.8 -3.8l-4.6 3M1119.2 1415l-2.7 4.8m3.7 -1.1l-4.8 -2.7M1110.9 1407l-4.5 3.2m3.8 0.6l-3.2 -4.5M1108.1 1426l2 5.1m1.6 -3.6l-5.1 2M1115.7 1431.3l4.2 3.5m-0.3 -3.9l-3.5 4.2M1119.4 1425.5l-3.9 3.9m3.9 -0l-3.9 -3.9M1100.1 1427l5.5 0.7m-2.4 -3.1l-0.7 5.5M1117.3 1412.3l-0.5 5.5m3 -2.5l-5.5 -0.5M1104.4 1410.5l-1 5.4m3.2 -2.2l-5.4 -1M1106.8 1412.6l5.4 1.1m-2.1 -3.2l-1.1 5.4M1113.4 1432.4l-4.5 3.2m3.8 0.7l-3.2 -4.5M1126.4 1422.7l3.5 4.3m0.4 -3.9l-4.3 3.5M1120.6 1427.8l-4.6 3m3.8 0.8l-3 -4.6M1119.5 1428.9l5.3 1.4m-2 -3.4l-1.4 5.3M1108.9 1418.4l4.6 3m-0.8 -3.8l-3 4.6M1127 1418.6l5.4 1.1m-2.1 -3.3l-1.1 5.4M1115.4 1432.8l3 4.6m0.8 -3.8l-4.6 3M1115 1435.2l-2.2 5m3.6 -1.4l-5 -2.2M1126.9 1410.6l2.5 4.9m1.2 -3.7l-4.9 2.5M1120.8 1429.2l-3.6 4.2m3.9 -0.3l-4.2 -3.6M1106.2 1417.7l0.9 5.4m2.2 -3.2l-5.4 0.9M1117.9 1432.1l-5.2 1.8m3.5 1.7l-1.8 -5.2M1106.1 1418.7l-3.4 4.4m3.9 -0.5l-4.4 -3.4M1125.6 1415l-2.4 4.9m3.7 -1.3l-4.9 -2.4M1103.5 1419.9l0.3 5.5m2.6 -2.9l-5.5 0.3M1122.3 1429.2l4.8 2.6m-1.1 -3.7l-2.6 4.8M1115.6 1407.3l-4.3 3.4m3.9 0.4l-3.4 -4.3M1111.9 1425.7l3.6 4.2m0.3 -3.9l-4.2 3.6M1127.4 1421.4l2.5 4.9m1.2 -3.7l-4.9 2.5M1107.5 1433l0 5.5m2.7 -2.8l-5.5 0M1118.6 1420.2l-4.6 3m3.8 0.8l-3 -4.6" stroke="#32b4eb" stroke-width="2.6" fill="none"/>
<path d="M1113.8 1418.2l2.5 4.9m1.2 -3.7l-4.9 2.5" stroke="#d8d8d4" stroke-width="2.6" fill="none"/>
<path d="M1103.6 1407l0.4 -0.7M1103.6 1407l0.8 1.5M1103.6 1407l-3 -1.4M1104.5 1408.5l-0.5 -2.2M1104.5 1408.5l1.5 2.3M1106 1410.8l2.3 1.6M1106 1410.8l-1.5 2.4M1109.9 1408.6l0.5 0.6M1109.9 1408.6l-1.6 3.9M1109.9 1408.6l-3.8 2.2M1108.3 1412.4l-0.1 2.1M1108.3 1412.4l-0.6 3M1107.7 1415.5l0.5 -0.9M1107.7 1415.5l-3.1 -2.3M1108.2 1414.6l-3.7 -1.4M1100.6 1405.7l3.4 0.7M1100.6 1405.7l3.9 2.9M1100 1410.8l4.5 -2.3M1100 1410.8l4.6 2.3M1100 1410.8l0.7 -5.2M1104.6 1413.2l3.7 -0.8M1110.4 1409.1l-2.1 3.3M1110.4 1409.1l-4.3 1.7M1100 1410.8l3.7 -3.8M1108.2 1414.6l2.1 -5.5" fill="none" stroke="#1a1a1a" stroke-width="1.1"/>
<path d="M1105.9 1405.9l-4.4 2.4m3.4 1l-2.4 -4.4M1102.3 1407.4l4.5 2.3m-1.1 -3.4l-2.3 4.5M1107.8 1409l-3.6 3.5m3.5 0l-3.5 -3.6M1110.4 1406.1l-1.1 4.9m3 -1.9l-4.9 -1.1M1108 1409.9l0.7 5m2.1 -2.8l-5 0.7M1105.2 1415.4l5 0.1m-2.4 -2.6l-0.1 5M1106.3 1413l3.9 3.1m-0.4 -3.5l-3.1 3.9M1106.4 1405.7l-4.8 1.3m3.1 1.7l-1.3 -4.8M1102.5 1410.7l-5 0.2m2.6 2.4l-0.2 -5M1108.7 1407.2l3.3 3.8m0.2 -3.5l-3.8 3.3" stroke="#32b4eb" stroke-width="2.4" fill="none"/>
<path d="M1098.3 1404.7l4.6 1.9m-1.3 -3.3l-1.9 4.6M1102.3 1412.1l4.5 2.2m-1.2 -3.3l-2.2 4.5" stroke="#d8d8d4" stroke-width="2.4" fill="none"/>
<path d="M1115 1428L1133 1447" fill="none" stroke="#1a1a1a" stroke-width="1.2" stroke-linecap="butt" stroke-linejoin="round" />
<path d="M1118 1428L1133 1447" fill="none" stroke="#1a1a1a" stroke-width="1.2" stroke-linecap="butt" stroke-linejoin="round" />
<path d="M1121 1428L1133 1447" fill="none" stroke="#1a1a1a" stroke-width="1.2" stroke-linecap="butt" stroke-linejoin="round" />
<path d="M1129 1434.6l-2 4.9m3.4 -1.4l-4.9 -2" stroke="#32b4eb" stroke-width="2.5" fill="none"/>
<path d="M1135.7 1444.3l-4.4 3.3m3.9 0.5l-3.3 -4.4" stroke="#32b4eb" stroke-width="2.6" fill="none"/>
<text x="950.3" y="1126.1" font-size="43.5" font-weight="normal" fill="#1a1a1a" textLength="59" lengthAdjust="spacingAndGlyphs">22q</text>
<path d="M1475.9 1122.8L1347 1331L1333.3 1355.4L1320.3 1376.2L1303 1401.7L1296.8 1409.6L1284 1428" fill="none" stroke="#1a1a1a" stroke-width="1.3" stroke-linecap="butt" stroke-linejoin="round" />
<path d="M1475.9 1122.8L1347 1331" fill="none" stroke="#6e1464" stroke-width="6.5" stroke-linecap="butt" stroke-linejoin="round" />
<path d="M1333.3 1355.4L1320.3 1376.2" fill="none" stroke="#6e1464" stroke-width="6.5" stroke-linecap="butt" stroke-linejoin="round" />
<path d="M1304.5 1399.5L1302 1402.9L1296.8 1409.6" fill="none" stroke="#6e1464" stroke-width="6.5" stroke-linecap="butt" stroke-linejoin="round" />
<path d="M1340.9 1341.9L1339 1345.2" fill="none" stroke="#6e1464" stroke-width="6.3" stroke-linecap="butt" stroke-linejoin="round" />
<path d="M1314.1 1385.3L1312 1388.5" fill="none" stroke="#6e1464" stroke-width="6.3" stroke-linecap="butt" stroke-linejoin="round" />
<path d="M1292.5 1415.7L1290.4 1418.9" fill="none" stroke="#6e1464" stroke-width="6.3" stroke-linecap="butt" stroke-linejoin="round" />
<path d="M1277.7 1424l0.9 0.2M1277.7 1424l-0.1 3.3M1277.7 1424l-3 2.2M1287.8 1428.7l-0.9 -0.1M1287.8 1428.7l0.7 -0.8M1287.8 1428.7l1.1 0.2M1268.2 1441l-0.6 -0.7M1268.2 1441l-0.4 -0.8M1268.2 1441l0.7 0.8M1284 1451.8l-2.3 -1.8M1284 1451.8l3.6 -1.1M1284 1451.8l-3.8 0.5M1273.6 1431.6l1.6 -1.7M1273.6 1431.6l-0 -2.3M1273.6 1431.6l1.3 -2.3M1271.2 1446.7l-0 3.2M1271.2 1446.7l-3 -1.6M1271.2 1446.7l0.6 -3.8M1288.9 1428.9l0.9 0.7M1288.9 1428.9l-0.4 -1.1M1285.8 1434.5l-0.6 -1.3M1285.8 1434.5l1.5 -0.2M1285.8 1434.5l-1.9 0.2M1266.5 1446.9l-1.8 -1.1M1266.5 1446.9l1.7 -1.8M1266.5 1446.9l-2.7 0.1M1267.7 1440.3l0.1 -0.2M1267.7 1440.3l1.3 1.5M1267.9 1431.6l0.5 -0.5M1267.9 1431.6l-0.2 1M1267.9 1431.6l-1.1 -1.3M1264.3 1450l-0.4 -3M1264.3 1450l3.1 0.9M1264.3 1450l2.3 -3.1M1288.3 1447.1l1 2M1288.3 1447.1l1.7 -2.6M1288.3 1447.1l-0.7 3.6M1283.3 1440.7l0.8 -0.8M1283.3 1440.7l1.6 0.4M1283.3 1440.7l0.8 1.8M1278.4 1443.3l0.2 0.2M1278.4 1443.3l0.2 1.1M1278.4 1443.3l-2.6 -1.4M1274.6 1426.2l-1.4 2.3M1274.6 1426.2l2.9 1M1274.6 1426.2l0.3 3.1M1268.8 1433.4l1.3 0.2M1268.8 1433.4l-1.1 -0.7M1268.8 1433.4l-0.9 -1.8M1281.8 1450l-1.5 2.3M1281.8 1450l-3.4 0.9M1275.7 1435.8l-0.6 -0.4M1275.7 1435.8l0.2 1.1M1275.7 1435.8l4.2 1.9M1271.7 1441.4l0.2 1.5M1271.7 1441.4l1.7 -0.2M1271.7 1441.4l1.3 -1.4M1284.1 1439.8l0.7 1.2M1284.1 1439.8l-0.4 -1.7M1268.1 1449.6l-0.8 1.3M1268.1 1449.6l3.1 0.4M1268.1 1449.6l-1.6 -2.7M1259.7 1433.1l-0.6 1.2M1259.7 1433.1l3.1 -1.6M1259.7 1433.1l3.7 -2.3M1281.3 1443.9l-0.3 1.3M1281.3 1443.9l-2.8 -0.3M1281.3 1443.9l-2.8 0.6M1270.1 1433.5l0.6 0.7M1270.1 1433.5l1 -0.9M1281.1 1445.1l-2.5 -0.7M1281.1 1445.1l-2.5 -1.6M1275.9 1436.8l-0.8 -1.4M1275.9 1436.8l-1 3.5M1278 1428.8l-0.5 -1.6M1278 1428.8l1.3 -1.4M1278 1428.8l2.9 -0.8M1279.3 1427.4l1.6 0.6M1279.3 1427.4l-1.7 -0.2M1281.8 1435.2l0.4 0.6M1281.8 1435.2l2.1 -0.6M1281.8 1435.2l-0.4 2.2M1289.1 1443.3l1 1.3M1289.1 1443.3l1.1 -3.3M1289.1 1443.3l3.1 -2.2M1271.1 1432.6l-0.4 1.6M1271.1 1432.6l-2.3 0.7M1294.5 1435l-0.7 -0.9M1294.5 1435l-1.4 2.4M1294.5 1435l-1.6 4.6M1268.2 1445.1l0.7 -3.4M1269.9 1453.1l-2.5 -2.2M1269.9 1453.1l1.3 -3.1M1269.9 1453.1l-1.8 -3.5M1280.9 1428l1.4 1.5M1284.1 1442.5l0.8 -1.5M1284.1 1442.5l0 -2.6M1261 1440.7l-1.9 1.9M1261 1440.7l2.8 -2M1261 1440.7l2.7 2.7M1259.1 1442.6l4.6 0.8M1259.1 1442.6l4.7 -3.9M1267.8 1440.1l1.1 1.6M1267.7 1432.7l0.7 -1.6M1262.8 1431.5l0.7 -0.6M1262.8 1431.5l4.1 -1.1M1274.9 1429.3l0.2 0.6M1274.9 1429.3l-1.4 -0M1274.9 1429.3l-1.7 -0.8M1276.9 1453.9l0.5 -3M1276.9 1453.9l1.4 -3.1M1276.9 1453.9l3.4 -1.7M1278.5 1444.4l0 -0.9M1273.3 1428.5l0.3 0.8M1273.3 1428.5l-1.9 -1.4M1264.1 1438.2l-0.3 0.5M1264.1 1438.2l2.7 -1.2M1264.1 1438.2l-3.1 2.5M1289.2 1432.6l0 1.6M1289.2 1432.6l-1.9 1.8M1289.2 1432.6l0.6 -3M1269.5 1425.8l1.9 1.3M1269.5 1425.8l1.4 2.3M1269.5 1425.8l-1.1 2.8M1268.4 1428.6l-1.6 1.8M1268.4 1428.6l0 2.5M1268.4 1428.6l2.5 -0.5M1270.9 1428.1l0.4 -1M1270.9 1428.1l-0.1 1.6M1270.9 1428.1l2.3 0.3M1281.5 1437.4l-1.6 0.3M1281.5 1437.4l0.8 -1.5M1263.9 1447l0.8 -1.3M1290.1 1444.5l2.7 -2.2M1271.2 1450l3.3 -0.1M1289.9 1429.6l-1.4 -1.7M1289.9 1429.6l-2.1 -0.9M1285.3 1428.9l1.6 -0.3M1285.3 1428.9l2.5 -0.2M1285.3 1428.9l-3.1 0.6M1274.5 1449.9l2.9 1.1M1274.5 1449.9l3.8 1M1292.2 1439.7l0.7 -0.1M1292.2 1439.7l-0 1.4M1292.2 1439.7l-2 0.3M1263.8 1438.7l3.1 -1.7M1273.4 1441.2l-0.4 -1.2M1273.4 1441.2l1.5 -0.9M1283.7 1438.2l-2.3 -0.8M1283.7 1438.2l-0.4 2.5M1278.4 1431.8l-0.4 -3M1278.4 1431.8l-3.2 -1.9M1278.4 1431.8l3.7 1M1265.2 1427.3l1.7 3.1M1265.2 1427.3l3.2 1.3M1265.2 1427.3l-1.7 3.5M1287.3 1434.4l2 -0.2M1287.3 1434.4l-2.1 -1.1M1279.9 1437.7l2.4 -1.8M1279.9 1437.7l2 -2.5M1275.2 1429.9l-1.6 -0.7M1280.3 1452.2l-1.9 -1.4M1280.3 1452.2l-2.9 -1.3M1288.5 1438.9l1.6 1.1M1288.5 1438.9l3.7 0.8M1288.5 1438.9l-3.6 2.1M1277.4 1451l0.9 -0.1M1264.7 1445.8l-1 -2.3M1292.8 1442.3l-0.6 -1.2M1292.8 1442.3l0 -2.7M1292.8 1442.3l-0.6 -2.6M1266.8 1437l1 -1.6M1266.8 1437l1 3.1M1292.2 1441l0.7 -1.4M1290.1 1440l2 1.1M1270.7 1434.2l-1.9 -0.8M1268.4 1431.1l-1.6 -0.7M1273 1440l1.9 0.3M1292.8 1439.6l0.2 -2.2M1263.4 1430.8l3.4 -0.5M1293.7 1434.1l-0.7 3.3M1293.7 1434.1l-4.5 0.1M1288.5 1427.8l-1.6 0.7M1263.7 1443.4l0.2 3.6M1283.9 1434.7l1.2 -1.4M1283.9 1434.7l-1.7 1.2M1282 1432.9l-0.2 2.3M1282 1432.9l1.9 1.8M1282 1432.9l0.2 3M1275.8 1442l-0.9 -1.6M1275.8 1442l-2.4 -0.8M1275.1 1435.4l-1.5 -3.8M1278.5 1424.1l-1 3.1M1278.5 1424.1l0.7 3.3M1271.9 1443l1.5 -1.8M1271.9 1443l1.1 -2.9M1267.8 1435.4l1 -2.1M1267.8 1435.4l-0.1 -2.8M1282.2 1429.5l-0.2 3.4M1293 1437.4l-0.9 2.3M1287.6 1450.7l1.8 -1.6M1289.4 1449.1l0.7 -4.5M1289.2 1434.2l-3.5 0.4M1270.9 1429.7l0.5 -2.6M1270.9 1429.7l2.4 -1.2M1259.1 1434.3l3.6 -2.8M1259.1 1434.3l4.3 -3.4M1261 1440.7l4.1 -13.4M1265.2 1427.3l-1.4 11.4M1264.1 1438.2l2.7 -7.8M1263.7 1443.4l4.7 -14.8M1268.8 1433.4l-4.5 16.6M1271.4 1427.1l-3.7 13.2M1267.7 1440.3l3.2 -10.6M1270.9 1429.7l-3.1 10.4M1270.1 1433.5l-1.9 7.4M1268.2 1441l-1.7 5.9M1270.7 1434.2l-1.7 7.5M1273.6 1429.3l1 -3M1274.6 1426.2l-7.3 24.7M1268.1 1449.6l5.5 -18M1274.9 1429.3l-3.3 12.2M1271.7 1441.4l3.5 -11.5M1271.9 1443l5.8 -19M1271.2 1446.7l6.3 -19.5M1275.1 1435.4l-1.7 5.8M1273.4 1441.2l5.2 -17.1M1271.2 1450l4.5 -14.2M1278.4 1431.8l-2.6 10.1M1274.5 1449.9l7.7 -20.4M1282.2 1429.5l-2.4 8.2M1277.4 1451l4.1 -13.6M1282.3 1435.9l-5.3 18.1M1278.3 1450.9l7 -22M1283.7 1438.2l3.2 -9.6M1284.1 1439.8l1.6 -5.3M1287.8 1428.7l-6 21.3M1288.5 1427.8l-4.4 14.7M1287.3 1434.4l1.6 -5.5M1289.2 1434.2l-5.2 17.6M1284 1451.8l4.5 -12.9M1289.4 1449.1l3.6 -11.6" fill="none" stroke="#1a1a1a" stroke-width="1.1"/>
<path d="M1276 1421.8l3.4 4.3m0.5 -3.9l-4.3 3.4M1289.8 1426.8l-4 3.7m3.9 0.2l-3.7 -4M1269.1 1438.3l-1.7 5.2m3.5 -1.8l-5.2 -1.7M1281.9 1450.1l4.3 3.4m-0.5 -3.9l-3.4 4.3M1274.5 1429l-1.8 5.2m3.5 -1.7l-5.2 -1.8M1273.6 1445.3l-4.7 2.8m3.8 1l-2.8 -4.7M1291.5 1428l-5.2 1.9m3.5 1.6l-1.9 -5.2M1284.8 1431.9l1.9 5.1m1.6 -3.5l-5.1 1.9M1267.6 1444.4l-2.2 5m3.6 -1.4l-5 -2.2M1268.8 1437.8l-2.3 5m3.7 -1.3l-5 -2.3M1267.4 1428.9l1.1 5.4m2.2 -3.2l-5.4 1.1M1264.1 1447.3l0.2 5.5m2.6 -2.9l-5.5 0.2M1285.7 1446.2l5.2 1.7m-1.7 -3.5l-1.7 5.2M1283.3 1437.9l-0.1 5.5m2.8 -2.7l-5.5 -0.1M1275.6 1443.2l5.5 0.3m-2.6 -2.9l-0.3 5.5M1274.6 1423.5l0.1 5.5m2.7 -2.8l-5.5 0.1M1270.1 1431l-2.6 4.9m3.7 -1.1l-4.9 -2.6M1283.9 1448.3l-4.3 3.4m3.9 0.5l-3.4 -4.3M1277.9 1434.1l-4.4 3.4m3.9 0.5l-3.4 -4.4M1270.4 1439l2.5 4.9m1.2 -3.7l-4.9 2.5M1281.7 1438.5l4.8 2.6m-1.1 -3.7l-2.6 4.8M1266.5 1447.4l3.2 4.4m0.6 -3.8l-4.4 3.2M1257.3 1431.8l4.9 2.5m-1.2 -3.7l-2.5 4.9M1278.6 1443.5l5.5 0.7m-2.4 -3.1l-0.7 5.5M1267.5 1432.7l5.2 1.7m-1.8 -3.5l-1.7 5.2M1278.4 1444.6l5.4 1.1m-2.2 -3.2l-1.1 5.4M1278.3 1435.5l-4.8 2.6m3.7 1.1l-2.6 -4.8M1279.5 1426.5l-3 4.6m3.8 -0.8l-4.6 -3M1278.3 1424.8l1.9 5.2m1.6 -3.5l-5.2 1.9M1284.6 1434.8l-5.4 0.9m3.2 2.3l-0.9 -5.4M1286.8 1441.7l4.5 3.2m-0.7 -3.8l-3.2 4.5M1269.6 1430.3l3 4.6m0.8 -3.8l-4.6 3M1297 1433.9l-5 2.3m3.6 1.4l-2.3 -5M1271 1444.7l-5.4 0.9m3.2 2.3l-0.9 -5.4M1269.7 1450.4l0.4 5.5m2.6 -2.9l-5.5 0.4M1281.6 1425.4l-1.4 5.3m3.4 -1.9l-5.3 -1.4M1282.5 1440.2l3.1 4.5m0.7 -3.8l-4.5 3.1M1258.6 1439.4l4.9 2.5m-1.2 -3.7l-2.5 4.9M1258.3 1440l1.6 5.2m1.8 -3.4l-5.2 1.6M1268.4 1437.5l-1.3 5.3m3.3 -2l-5.3 -1.3M1265.3 1431.2l4.7 2.8m-0.9 -3.8l-2.8 4.7M1261.8 1428.9l2 5.1m1.6 -3.5l-5.1 2M1277.4 1428.1l-5 2.3m3.7 1.3l-2.3 -5M1279.7 1453.7l-5.5 0.6m3 2.5l-0.6 -5.5M1275.8 1443.9l5.4 1m-2.2 -3.2l-1 5.4M1275.6 1427l-4.6 2.9m3.8 0.8l-2.9 -4.6M1261.7 1436.9l4.8 2.6m-1.1 -3.7l-2.6 4.8M1291.7 1431.4l-5 2.3m3.7 1.3l-2.3 -5M1266.8 1425.3l5.4 0.9m-2.2 -3.2l-0.9 5.4M1283.5 1438.7l2.8 4.7m1 -3.8l-4.7 2.8M1269.4 1426l-1.9 5.2m3.5 -1.6l-5.2 -1.9M1268.6 1426.7l4.6 2.9m-0.8 -3.8l-2.9 4.6M1279.8 1435.3l3.4 4.3m0.4 -3.9l-4.3 3.4M1265.1 1444.6l-2.5 4.9m3.7 -1.2l-4.9 -2.5M1287.3 1444.2l5.5 0.7m-2.4 -3.1l-0.7 5.5M1268.9 1448.5l4.6 3m-0.8 -3.8l-3 4.6M1291.5 1427.4l-3.3 4.4m3.8 -0.6l-4.4 -3.3M1286.6 1426.5l-2.5 4.9m3.7 -1.2l-4.9 -2.5M1277.2 1449.2l-5.3 1.4m3.4 2l-1.4 -5.3M1291.6 1437l1.1 5.4m2.1 -3.3l-5.4 1.1M1264.6 1436.1l-1.7 5.2m3.5 -1.7l-5.2 -1.7M1270.7 1440.7l5.4 0.9m-2.2 -3.2l-0.9 5.4M1284.9 1435.7l-2.4 5m3.7 -1.3l-5 -2.4M1279 1429.2l-1.3 5.3m3.3 -2l-5.3 -1.3M1262.7 1426l4.9 2.5m-1.2 -3.7l-2.5 4.9M1286.3 1431.8l2 5.1m1.6 -3.6l-5.1 2M1278.5 1435.3l2.7 4.8m1 -3.7l-4.8 2.7M1277 1427.9l-3.6 4.1m3.9 -0.2l-4.1 -3.6M1277.6 1451.7l5.4 1.1m-2.2 -3.2l-1.1 5.4M1291.2 1438.4l-5.4 1.1m3.2 2.1l-1.1 -5.4M1279.8 1449.8l-4.9 2.4m3.7 1.2l-2.4 -4.9M1295.5 1441.6l-5.3 1.4m3.4 1.9l-1.4 -5.3M1264.7 1435.3l4.4 3.3m-0.5 -3.9l-3.3 4.4M1290.3 1439l3.7 4m0.2 -3.9l-4 3.7M1272.5 1426.7l2.1 5.1m1.5 -3.6l-5.1 2.1M1264.7 1450.1l5.2 1.6m-1.8 -3.4l-1.6 5.2M1287.5 1439.2l5.3 1.5m-1.9 -3.4l-1.5 5.3M1270 1431.6l1.4 5.3m2 -3.3l-5.3 1.4M1273.6 1425.5l-4.4 3.3m3.9 0.5l-3.3 -4.4M1267.3 1428.6l2.2 5m1.4 -3.6l-5 2.2M1271 1438.1l3.8 4m0.1 -3.9l-4 3.8M1295.4 1438.5l-5.1 2.1m3.6 1.5l-2.1 -5.1M1263.1 1428.1l0.6 5.5m2.5 -3l-5.5 0.6M1268.2 1428l-2.8 4.7m3.8 -0.9l-4.7 -2.8M1295 1431.6l-2.6 4.9m3.7 -1.2l-4.9 -2.6M1286.3 1426.2l4.4 3.3m-0.6 -3.8l-3.3 4.4M1280.3 1426.8l-5.4 0.8m3.1 2.3l-0.8 -5.4M1276.1 1449.2l4.5 3.2m-0.6 -3.8l-3.2 4.5M1266.4 1442.9l-5.4 1m3.2 2.2l-1 -5.4M1281.4 1433.7l5.2 1.9m-1.6 -3.5l-1.9 5.2M1280.1 1431l4 3.8m-0.1 -3.9l-3.8 4M1275 1439.4l1.6 5.2m1.8 -3.4l-5.2 1.6M1276.5 1433l-2.7 4.8m3.8 -1l-4.8 -2.7M1278.7 1421.4l-0.4 5.5m2.9 -2.6l-5.5 -0.4M1270.3 1440.7l3 4.6m0.8 -3.8l-4.6 3M1265.2 1434.5l5.2 1.9m-1.6 -3.5l-1.9 5.2M1284.9 1428.6l-5.2 1.7m3.5 1.8l-1.7 -5.2M1273.3 1438.1l3.2 4.5m0.6 -3.8l-4.5 3.2M1285 1435.7l-5.5 0.4m3 2.5l-0.4 -5.5M1267.9 1439.2l2 5.1m1.5 -3.6l-5.1 2M1289.6 1427.9l-5.3 1.3m3.3 2l-1.3 -5.3M1290.3 1437.2l5.5 0.4m-2.6 -2.9l-0.4 5.5M1289.3 1448.5l-3.3 4.4m3.9 -0.5l-4.4 -3.3M1289.2 1446.3l0.4 5.5m2.6 -2.9l-5.5 0.4M1282.9 1431.6l4.4 3.3m-0.6 -3.8l-3.3 4.4M1286.7 1433.1l5.1 2.1m-1.5 -3.6l-2.1 5.1M1270.7 1427l0.4 5.5m2.6 -2.9l-5.5 0.4M1261.8 1433.7l-5.4 1.2m3.3 2.1l-1.2 -5.4" stroke="#6e1464" stroke-width="2.6" fill="none"/>
<path d="M1277.3 1441.2l2.6 4.8m1.1 -3.7l-4.8 2.6M1265 1443l-0.6 5.5m3 -2.4l-5.5 -0.6" stroke="#d8d8d4" stroke-width="2.6" fill="none"/>
<path d="M1270 1432.9l-2.4 2.2M1270 1432.9l-2.3 -3.1M1267.7 1429.8l-0.1 5.3M1264.3 1435.3l-0.4 1.2M1264.3 1435.3l3.3 -0.2M1262.3 1423.6l-3.9 3.5M1262.3 1423.6l-2.2 7.4M1260.1 1430.9l-1.7 -3.9M1260.1 1430.9l-4 -1.9M1276.8 1430.6l-0.7 -3.9M1276.8 1430.6l-1.7 -4.7M1258.4 1427l-2.3 2M1263.9 1436.5l3.7 -1.4M1275.3 1423.9l-0.2 2M1275.3 1423.9l0.9 2.8M1275.1 1425.9l1.1 0.8M1274.2 1436.1l-4.3 -3.2M1274.2 1436.1l2.6 -5.5M1260.1 1430.9l3.8 5.6M1264.3 1435.3l3.4 -5.6M1270 1432.9l5.3 -9M1276.2 1426.7l-2 9.4" fill="none" stroke="#1a1a1a" stroke-width="1.1"/>
<path d="M1268.3 1431l3.3 3.7m0.2 -3.5l-3.7 3.3M1268.5 1427.4l-1.7 4.7m3.2 -1.5l-4.7 -1.7M1266.7 1434.9l-4.9 1m2.9 2l-1 -4.9M1260.4 1421.9l3.7 3.4m-0.2 -3.5l-3.4 3.7M1258.6 1429l3.1 3.9m0.4 -3.5l-3.9 3.1M1276.8 1428.1l0.2 5m2.4 -2.6l-5 0.2M1257.2 1424.8l2.3 4.4m1 -3.4l-4.4 2.3M1265.8 1434.8l-3.7 3.3m3.5 0.2l-3.3 -3.7M1265.1 1435.1l5 0.1m-2.5 -2.5l-0.1 5M1277.6 1423l-4.6 1.9m3.3 1.4l-1.9 -4.6M1258.1 1427.6l-4.1 2.9m3.5 0.6l-2.9 -4.1M1276.7 1423.9l-3.2 3.8m3.5 -0.3l-3.8 -3.2M1276.4 1434.8l-4.3 2.6m3.4 0.9l-2.6 -4.3M1278.3 1425.4l-4.3 2.6m3.4 0.9l-2.6 -4.3" stroke="#6e1464" stroke-width="2.4" fill="none"/>
<path d="M1269.5 1448L1266.5 1461" fill="none" stroke="#1a1a1a" stroke-width="1.2" stroke-linecap="butt" stroke-linejoin="round" />
<path d="M1272 1448L1266.5 1461" fill="none" stroke="#1a1a1a" stroke-width="1.2" stroke-linecap="butt" stroke-linejoin="round" />
<path d="M1274.5 1448L1266.5 1461" fill="none" stroke="#1a1a1a" stroke-width="1.2" stroke-linecap="butt" stroke-linejoin="round" />
<text x="1472" y="1111.5" font-size="43.5" font-weight="normal" fill="#1a1a1a" textLength="53" lengthAdjust="spacingAndGlyphs">14q</text>
<path d="M1133.5 1447L1142.6 1464.3L1148.3 1474L1152.1 1479.6L1159 1488.7L1166.9 1498.3L1169.2 1502.2L1173.3 1510.9L1175.2 1514.3L1176.4 1515.8L1179.9 1519.3L1183.9 1523.8L1185.1 1525.4L1186.1 1527.1L1186.6 1528.9L1186.6 1530.7L1185.4 1537.8L1184.4 1546.6L1184 1552.5L1183 1585" fill="none" stroke="#1a1a1a" stroke-width="1.2" stroke-linecap="butt" stroke-linejoin="round" />
<path d="M1168 1500L1175 1515L1181 1521" fill="none" stroke="#1a1a1a" stroke-width="2" stroke-linecap="butt" stroke-linejoin="round" />
<path d="M1186.4 1528L1206 1521.1L1219.8 1516.5L1225.9 1514.7L1229 1514L1231.5 1513.8L1236.5 1514.3" fill="none" stroke="#1a1a1a" stroke-width="1.2" stroke-linecap="butt" stroke-linejoin="round" />
<path d="M1186 1538L1188.4 1534.3L1190.9 1531.8L1197.9 1527.2L1201.6 1525.2L1205.7 1523.2L1210 1521.5L1215.2 1520L1221.3 1518.6L1236.5 1515.5" fill="none" stroke="#1a1a1a" stroke-width="1.2" stroke-linecap="butt" stroke-linejoin="round" />
<path d="M1266.5 1461L1259.2 1470.5L1252.5 1479.9L1248.9 1485L1246.9 1488.4L1244.6 1493.2L1241 1505L1239.5 1508.5L1236.5 1514.3" fill="none" stroke="#1a1a1a" stroke-width="1.4" stroke-linecap="butt" stroke-linejoin="round" />
<path d="M1236.5 1514.3L1237.9 1520.1L1240.6 1528.9L1241.9 1532.7L1243.5 1536.3L1253.3 1553.6L1259.7 1564.4L1262.7 1568.9L1268.5 1576.7" fill="none" stroke="#1a1a1a" stroke-width="1.2" stroke-linecap="butt" stroke-linejoin="round" />
<path d="M1181.5 1511L1179.5 1498.2L1178.1 1492L1175.9 1486.2L1170.7 1475" fill="none" stroke="#1a1a1a" stroke-width="1.2" stroke-linecap="butt" stroke-linejoin="round" />
<path d="M1181.5 1511L1185.7 1497.7L1187.4 1491.2L1188.3 1485.2L1189.3 1473.5" fill="none" stroke="#1a1a1a" stroke-width="1.2" stroke-linecap="butt" stroke-linejoin="round" />
<path d="M1181.5 1511L1172.9 1502.1L1168.2 1497.9L1162.8 1494.1L1151 1486.8" fill="none" stroke="#1a1a1a" stroke-width="1.2" stroke-linecap="butt" stroke-linejoin="round" />
<path d="M1181.5 1511L1190.8 1504.5L1196 1500" fill="none" stroke="#1a1a1a" stroke-width="1.2" stroke-linecap="butt" stroke-linejoin="round" />
<path d="M1181.5 1511L1192 1510L1196.8 1509.7L1200.8 1509.7L1208 1510.3" fill="none" stroke="#1a1a1a" stroke-width="1.2" stroke-linecap="butt" stroke-linejoin="round" />
<path d="M1174.6 1501.5L1186.5 1505L1196.9 1507.7L1210 1510.7L1227.6 1514.3" fill="none" stroke="#1a1a1a" stroke-width="1.2" stroke-linecap="butt" stroke-linejoin="round" />
<path d="M1181.5 1511L1190.6 1511.9L1195 1512L1199.3 1511.6L1208 1510.3" fill="none" stroke="#1a1a1a" stroke-width="1.2" stroke-linecap="butt" stroke-linejoin="round" />
<path d="M1149.8 1470l-5.6 4.1m4.8 0.7l-4.1 -5.6M1165.9 1496.6l3.6 5.9m1.1 -4.7l-5.9 3.6" stroke="#32b4eb" stroke-width="3.3" fill="none"/>
<path d="M1176 1510.6l4.1 3.9m-0.1 -4l-3.9 4.1M1188.8 1494.2l0.4 5.6m2.6 -3l-5.6 0.4M1183.5 1501.2l-1 5.5m3.3 -2.3l-5.5 -1" stroke="#32b4eb" stroke-width="2.7" fill="none"/>
<path d="M1192.7 1472l-6.4 4m5.2 1.2l-4 -6.4" stroke="#32b4eb" stroke-width="3.6" fill="none"/>
<path d="M1185.2 1482.6l7.6 2.9m-2.4 -5.2l-2.9 7.6" stroke="#32b4eb" stroke-width="3.9" fill="none"/>
<path d="M1152.9 1484.7l-1.7 4.7m3.2 -1.5l-4.7 -1.7" stroke="#6e1464" stroke-width="2.4" fill="none"/>
<path d="M1155.5 1490.3l5 2.5m-1.3 -3.8l-2.5 5M1164.1 1492.4l-2.2 5.2m3.7 -1.5l-5.2 -2.2M1194.2 1505.2l5.6 0.5m-2.6 -3.1l-0.5 5.6" stroke="#6e1464" stroke-width="2.7" fill="none"/>
<path d="M1174 1498.1l-0 6.9m3.4 -3.4l-6.9 -0M1224.7 1512.5l5.9 3.5m-1.2 -4.7l-3.5 5.9M1246.2 1492.7l-5.7 3.8m4.8 1l-3.8 -5.7M1257.2 1470.1l-0.2 6.9m3.5 -3.4l-6.9 -0.2" stroke="#6e1464" stroke-width="3.3" fill="none"/>
<path d="M1181.8 1500.6l-5.6 2.8m4.2 1.4l-2.8 -5.6M1211.4 1510.1l-6.2 0.8m3.5 2.7l-0.8 -6.2" stroke="#6e1464" stroke-width="3" fill="none"/>
<path d="M1172.9 1474.1l-4.9 2.8m3.8 1.1l-2.8 -4.9M1171.1 1479.5l4.7 3.1m-0.8 -3.9l-3.1 4.7M1181.3 1495.7l5.4 1.5m-1.9 -3.5l-1.5 5.4M1190.2 1500.2l-4.3 3.6m4 0.4l-3.6 -4.3M1178.3 1511.3l4.5 3.4m-0.6 -3.9l-3.4 4.5M1229.2 1514.8l4.5 3.3m-0.6 -3.9l-3.3 4.5" stroke="#1e9628" stroke-width="2.7" fill="none"/>
<path d="M1177.2 1486.6l3.7 5.8m1.1 -4.7l-5.8 3.7M1184.2 1526.6l5.7 3.9m-0.9 -4.8l-3.9 5.7M1202.7 1520.4l6.7 1.7m-2.5 -4.2l-1.7 6.7M1243 1530.5l-1.3 6.8m4 -2.7l-6.8 -1.3M1255.4 1555l1.3 6.7m2.7 -4l-6.7 1.3" stroke="#1e9628" stroke-width="3.3" fill="none"/>
<path d="M1191.8 1505.4l-0.7 6.2m3.4 -2.8l-6.2 -0.7" stroke="#1e9628" stroke-width="3" fill="none"/>
<path d="M1183.7 1519l-4.5 6m5.2 -0.8l-6 -4.5" stroke="#e6460f" stroke-width="3.6" fill="none"/>
<path d="M1170.6 1526.5l7.9 1.9m-3 -4.9l-1.9 7.9" stroke="#e6460f" stroke-width="3.9" fill="none"/>
<path d="M1187 1550.8l-6 3.3m4.7 1.3l-3.3 -6" stroke="#e6460f" stroke-width="3.3" fill="none"/>
<path d="M1191 1469.4l-5 0.3m2.6 2.4l-0.3 -5" stroke="#d8d8d4" stroke-width="2.4" fill="none"/>
<text x="1268.5" y="1526.2" font-size="43.5" font-weight="normal" fill="#1a1a1a" textLength="223.9" lengthAdjust="spacingAndGlyphs">14/15/21/22p</text>
<path d="M1183 1585L1184 1600L1186 1620L1190 1650L1193.9 1675L1195.3 1688.3L1196.1 1693.4L1197 1696.5L1198.2 1699.3L1199.8 1701.7L1205 1708.2L1206.4 1710.3L1208.8 1714.8L1212 1722" fill="none" stroke="#1a1a1a" stroke-width="1.2" stroke-linecap="butt" stroke-linejoin="round" />
<path d="M1166.9 1665l-0.7 -1.1M1166.9 1665l-1.1 -2.5M1166.9 1665l-2 -2.3M1171.5 1660l1.5 1.2M1171.5 1660l-1.4 2.3M1171.5 1660l0.8 3.2M1186 1642.7l-0.8 1.5M1186 1642.7l1.7 1.4M1186 1642.7l-0.3 2.6M1182.8 1661.4l1.1 -0.1M1182.8 1661.4l-2 -0.1M1182.8 1661.4l-2 0.9M1137.5 1663.1l1.4 -1.1M1137.5 1663.1l2.1 0.9M1137.5 1663.1l1.6 -2.7M1169 1669.4l-1.2 2.3M1169 1669.4l2.7 3.5M1169 1669.4l3.8 2.8M1185 1660.5l-1 0.8M1185 1660.5l0.4 -1.9M1185 1660.5l-2.2 1M1169.9 1675.5l-0.4 0.2M1169.9 1675.5l-2.1 0.8M1169.9 1675.5l-1.7 -1.5M1140.6 1632.7l1.8 -2.5M1140.6 1632.7l-0.8 3.1M1140.6 1632.7l-3.6 3.5M1173 1661.3l-0.7 1.9M1173 1661.3l-2.9 1M1165.2 1674l3 -0M1165.2 1674l2.6 2.3M1165.2 1674l2.6 -2.4M1137.2 1637.1l-0.2 -0.9M1137.2 1637.1l0.2 2M1137.2 1637.1l2.6 -1.2M1171.8 1652.8l-1.7 3.7M1171.8 1652.8l-3.6 -2.3M1171.8 1652.8l-1.9 -4.1M1132.8 1645l-1.8 0.1M1132.8 1645l1 -1.8M1132.8 1645l2.2 0.2M1143 1637.5l-3.2 -1.6M1143 1637.5l3.3 1.5M1143 1637.5l3.7 -1.7M1160.7 1629.3l-0.4 2.8M1160.7 1629.3l-2 3.1M1160.7 1629.3l3.1 2.5M1184.2 1631.4l0 2M1184.2 1631.4l-2 -1.7M1184.2 1631.4l3 1.4M1128.7 1652l4.1 4.9M1128.7 1652l2.4 -6.9M1128.7 1652l4.1 -7M1146.7 1635.8l2.1 1.7M1146.7 1635.8l-0.9 -3M1146.7 1635.8l-0.3 3.2M1177.8 1659.2l0.2 0.6M1177.8 1659.2l1.1 -1.9M1177.8 1659.2l2.7 -1.2M1147.2 1653.5l0.2 1.2M1147.2 1653.5l3.3 -0.5M1147.2 1653.5l5.1 -1.4M1151.6 1637.3l1.2 0.2M1151.6 1637.3l-1.5 0.2M1151.6 1637.3l-1.6 -0.2M1146.9 1643.2l-1.3 1.9M1146.9 1643.2l-0.5 -4.2M1146.9 1643.2l-5.1 -0.9M1160.7 1662l-1.1 -1.6M1160.7 1662l1.8 1.6M1160.7 1662l-2.4 -0.5M1165 1636l1.9 1.5M1165 1636l-0.5 -2.4M1165 1636l2.6 -1.3M1167.2 1658.8l0.5 -0.4M1167.2 1658.8l-1.1 -0.1M1167.2 1658.8l0.7 2M1152.3 1652.1l-1.8 0.9M1152.3 1652.1l2.5 -2.5M1152.3 1652.1l3.8 -1.1M1143.2 1663.9l-0.9 1.2M1143.2 1663.9l-1.7 -1.9M1143.2 1663.9l-2.8 1.6M1170.1 1656.5l-2.4 1.9M1170.1 1656.5l-2.9 2.3M1170.1 1656.5l1.3 3.5M1191.4 1659.9l0.3 0.5M1191.4 1659.9l-0.2 -1.6M1191.4 1659.9l1.6 0.3M1178.6 1645.7l1.3 2.1M1178.6 1645.7l1.8 3.8M1178.6 1645.7l-1.8 4.7M1161.2 1635.6l-2 -2.2M1161.2 1635.6l-1 -3.5M1161.2 1635.6l3.8 0.4M1182.2 1673.1l-0.9 -1.3M1182.2 1673.1l0.2 -5.8M1182.2 1673.1l-6.5 1.8M1142.3 1659l-1.2 -0.6M1142.3 1659l1.2 -1.3M1142.3 1659l-1 -1.9M1158.5 1670.8l-3.4 3.4M1158.5 1670.8l1.9 4.6M1158.5 1670.8l3.1 -4.4M1141 1654.2l0.3 2.9M1141 1654.2l0.2 4.2M1141 1654.2l2.5 3.5M1163.8 1642.4l2.3 0.6M1163.8 1642.4l-1.9 1.5M1163.8 1642.4l-3.5 0.7M1153.3 1638.3l-0.3 0.1M1153.3 1638.3l-0.5 -0.8M1153.3 1638.3l-1.7 -1M1166.1 1658.7l1.7 -0.3M1166.1 1658.7l-0.9 2.1M1171.8 1627.1l-1.2 -0.7M1171.8 1627.1l-0.2 2.1M1171.8 1627.1l-0.3 2.8M1191.6 1660.4l1.3 -0.2M1191.6 1660.4l-0.5 -2.1M1155 1674.2l-3.4 -1.5M1155 1674.2l3.6 2.6M1160.3 1632.1l-1.6 0.3M1160.3 1632.1l-1.1 1.3M1160.3 1632.1l-2.4 0.1M1180.1 1657.3l0.4 0.7M1180.1 1657.3l-1.2 0.1M1180.1 1657.3l1.5 -1.8M1141.3 1657.1l-0.1 1.3M1141.3 1657.1l2.3 0.6M1187.5 1656.4l0.9 -1.7M1187.5 1656.4l1.2 -2.2M1187.5 1656.4l-2.1 2.2M1153.8 1633.4l-0.9 -0.3M1153.8 1633.4l0.9 -2.1M1153.8 1633.4l0.9 -2.1M1130.6 1643.4l0.4 1.7M1130.6 1643.4l0.4 -1.7M1130.6 1643.4l2.2 1.5M1185.7 1645.3l0 0.4M1185.7 1645.3l0.8 -0M1185.7 1645.3l-0.5 -1.1M1132.9 1665.1l4.6 -2M1132.9 1665.1l5.2 3.5M1132.9 1665.1l6.7 -1.1M1160.1 1649.5l1 0.2M1160.1 1649.5l0.1 1.2M1160.1 1649.5l1.5 -0.3M1185.4 1658.6l-1.5 2.8M1168.2 1650.5l1.7 -1.8M1168.2 1650.5l-2.9 3.2M1182.5 1667.3l0.1 -2.9M1182.5 1667.3l0.5 -3.4M1182.5 1667.3l3.8 -0.3M1170.6 1626.4l1.1 2.8M1170.6 1626.4l0.4 3.6M1161.9 1676.3l0.6 1M1161.9 1676.3l-1.5 -1M1161.9 1676.3l-3.2 0.5M1155.8 1626.1l-0.6 -0.1M1155.8 1626.1l3.3 -2.3M1155.8 1626.1l-4 -0.5M1175.9 1665.8l1.6 0M1175.9 1665.8l-0.1 -1.9M1175.9 1665.8l0 2.2M1162.4 1655.1l0.9 -1.8M1162.4 1655.1l1.5 2M1162.4 1655.1l2.9 -1.4M1159.1 1623.8l-3.9 2.2M1159.1 1623.8l1.6 5.5M1162.6 1663.6l2.3 -0.9M1162.6 1663.6l-1 2.7M1167.8 1658.4l0.2 2.4M1152.8 1637.5l0.2 0.9M1180.4 1649.5l-0.5 -1.6M1180.4 1649.5l1.6 1.8M1180.4 1649.5l-3.6 1M1179.4 1663.3l1.4 -1M1179.4 1663.3l1.5 -2M1179.4 1663.3l-1.8 2.5M1155.2 1626l-3.4 -0.4M1148.8 1637.5l1.2 -0.4M1148.8 1637.5l1.3 -0M1148.8 1637.5l1.1 1.5M1142.6 1671.6l-4.5 -2.9M1142.6 1671.6l-2.2 -6.1M1142.6 1671.6l-0.3 -6.5M1156.1 1651l-1.3 -1.4M1156.1 1651l4.1 -0.3M1151.2 1662.9l3 -3.6M1151.2 1662.9l2.8 -4.3M1151.2 1662.9l6.6 0.2M1178 1659.8l0.9 -2.5M1178 1659.8l2.6 -1.8M1154.7 1631.3l0 -0.1M1154.7 1631.3l-1.9 -1.5M1146.3 1639l2.5 -1.5M1146.3 1639l3.6 0M1187.1 1632.9l-3 0.5M1187.1 1632.9l3.2 3.7M1171.8 1672.8l1 -0.7M1171.8 1672.8l1.3 -0.3M1171.8 1672.8l-1.9 2.7M1165.2 1660.9l0.6 1.6M1165.2 1660.9l-0.3 1.8M1143.5 1657.7l-2.4 0.7M1149.9 1632.4l1.2 0.2M1149.9 1632.4l0.3 -1.7M1149.9 1632.4l0.8 -2.3M1141.5 1662l-2.6 -0M1141.5 1662l-2 2M1164.9 1662.7l0.9 -0.2M1164.9 1662.7l1.4 1.2M1161.6 1649.2l-0.5 0.5M1161.6 1649.2l-1.4 1.5M1186.6 1645.3l-0.8 0.4M1186.6 1645.3l1.1 -1.2M1150.2 1630.7l0.5 -0.6M1150.2 1630.7l0.9 1.9M1158.3 1661.5l-0.5 1.6M1158.3 1661.5l1.3 -1.1M1158.3 1661.5l0.8 -1.7M1159.1 1659.8l0.5 0.6M1159.1 1659.8l-1.5 -1.9M1185.2 1648.1l0.6 -2.4M1185.2 1648.1l0.6 -2.8M1185.2 1648.1l-0.6 3M1170.8 1644.6l-3.1 -0.3M1170.8 1644.6l2.7 2M1170.8 1644.6l-0.9 4.1M1168 1660.9l2.1 1.4M1184.6 1651.1l0.4 1.1M1184.6 1651.1l-2.5 0.3M1166.1 1643l1.6 1.2M1166.1 1643l-4.2 0.9M1162 1643.9l-1.7 -0.8M1162 1643.9l-0.7 2.3M1145.8 1632.8l0.6 -0.9M1145.8 1632.8l4.2 -0.3M1154.7 1631.2l-1.9 -1.4M1160.9 1647.1l0.4 -0.9M1160.9 1647.1l0.7 2.1M1160.9 1647.1l-0.8 2.4M1131.1 1645.1l-0 -3.4M1191.2 1658.3l1.8 1.9M1185.2 1644.2l0.6 1.5M1167.6 1634.6l-0.7 2.8M1167.6 1634.6l-3.1 -1M1174.4 1668.9l1.6 -1M1174.4 1668.9l1.6 -3.1M1174.4 1668.9l-1.6 3.2M1189.5 1662.3l0 -1M1189.5 1662.3l0.1 1M1189.5 1662.3l2.1 -1.9M1158.6 1676.7l1.8 -1.4M1158.6 1676.7l3.8 0.5M1152.9 1633l-1.8 -0.4M1152.9 1633l1.7 -1.8M1146.3 1631.8l3.6 0.6M1146.3 1631.8l0.3 4M1155.9 1655.5l1.7 2.4M1155.9 1655.5l2.9 -1.3M1155.9 1655.5l-1.9 3.2M1173.5 1646.5l-3.6 2.1M1173.5 1646.5l0.9 -4.2M1159.2 1633.4l-0.5 -1M1159.2 1633.4l-1.3 -1.2M1149.9 1639l0.2 -1.5M1149.9 1639l0.1 -1.8M1150.5 1653l-3.1 1.7M1166.9 1637.5l-2.4 -3.8M1188.8 1654.2l-0.4 0.5M1188.8 1654.2l0.4 -1.2M1140.4 1665.5l-0.9 -1.5M1140.4 1665.5l1.9 -0.5M1138.1 1668.6l2.4 -3.1M1138.1 1668.6l1.5 -4.6M1145.6 1645.1l-3.8 -2.8M1145.6 1645.1l0.8 -6.1M1139.8 1635.9l-2.8 0.3M1186.7 1665.2l-0.4 1.7M1186.7 1665.2l0.1 2.2M1186.7 1665.2l-1.2 -2.3M1133.8 1643.2l2 0.4M1133.8 1643.2l1.2 2M1181.6 1655.5l-1.1 2.5M1181.6 1655.5l-2.7 1.8M1178.8 1635.5l0.3 3.2M1178.8 1635.5l-4.3 3.2M1178.8 1635.5l5.4 -2.1M1152.8 1629.8l-2.1 0.3M1182.1 1651.3l2.8 0.8M1172.2 1663.2l-2.1 -0.9M1187.6 1644.1l-1.9 1.2M1168.2 1674l1.3 1.7M1168.2 1674l-0.4 2.3M1139.5 1664l-0.6 -2M1177.6 1655.6l-1.6 0M1177.6 1655.6l1.3 1.7M1177.6 1655.6l2.5 1.7M1190.4 1636.6l-1.3 4.8M1190.4 1636.6l1.7 6M1179.9 1647.9l-3.1 2.6M1175.9 1655.6l3 1.7M1175.9 1655.6l1.9 3.6M1175.7 1674.9l-2.6 -2.4M1175.7 1674.9l-2.9 -2.7M1175.7 1674.9l-3.9 -2.1M1142.4 1630.2l3.3 2.6M1142.4 1630.2l3.9 1.6M1154.3 1659.3l-0.3 -0.7M1154.3 1659.3l3.3 -1.5M1154.3 1659.3l1.6 -3.8M1158.7 1632.4l-0.8 -0.2M1180.5 1658l-1.6 -0.7M1186.7 1667.4l-0.5 -0.5M1186.7 1667.4l-4.3 -0.1M1184 1661.3l1.5 1.6M1161.2 1646.2l0.3 3M1157.8 1663.1l2.9 -1.1M1157.8 1663.1l1.8 -2.7M1167.8 1671.6l0.4 2.4M1165.8 1662.5l0.5 1.4M1176.2 1641.2l-1.7 1.1M1176.2 1641.2l-1.7 -2.5M1176.2 1641.2l2.9 -2.5M1160.2 1650.7l0.9 -1M1189.6 1663.3l-0 -2M1189.6 1663.3l1.7 1.4M1164.5 1633.6l-0.8 -1.8M1189.1 1641.4l-1.4 2.8M1189.1 1641.4l3 1.2M1189.1 1641.4l-3.1 1.3M1170.6 1678.6l-1.1 -2.9M1170.6 1678.6l-0.7 -3.1M1170.6 1678.6l-2.8 -2.3M1150 1637.1l0.1 0.4M1177.6 1665.8l-1.7 -2M1177.6 1665.8l-1.6 2.1M1157.5 1657.9l2 2.5M1163.7 1631.8l2.2 -1.4M1163.7 1631.8l3.2 -0.4M1142.3 1665l-2.7 -1M1160.3 1643.1l0.9 3.2M1136 1640.6l1.4 -1.5M1136 1640.6l-0.2 3M1136 1640.6l-2.2 2.6M1158.8 1654.2l1.4 -3.4M1158.8 1654.2l3.6 0.9M1154.7 1649.6l1.8 -4.2M1147.4 1654.7l-3.9 3M1169.5 1675.7l-1.7 0.5M1192.4 1646.8l3.1 -2M1192.4 1646.8l0.9 -3.6M1192.4 1646.8l-0.3 -4.2M1137.4 1639l-0.4 -2.9M1193.2 1643.2l-1.2 -0.6M1193.2 1643.2l2.2 1.6M1167.7 1644.2l-3.9 -1.8M1154.7 1636.8l-1.9 0.7M1154.7 1636.8l-1.4 1.5M1154.7 1636.8l-1.7 1.6M1171 1630l0.6 -0M1171 1630l0.7 -0.8M1171 1630l0.8 -2.9M1195.5 1644.8l-3.4 -2.2M1131 1641.8l2.8 1.4M1155.6 1644.3l0.9 1.1M1155.6 1644.3l-2.9 0.6M1155.6 1644.3l1.8 -4M1191.3 1664.7l-1.7 -2.4M1191.3 1664.7l-1.7 -3.4M1180.8 1661.3l-0 1M1138.9 1662l0.1 -1.5M1171.6 1629.2l-0.1 0.8M1174.5 1638.7l-0 3.6M1174.5 1638.7l4.6 -0.1M1163.9 1657.1l2.2 1.6M1163.9 1657.1l1.4 -3.4M1182.6 1664.4l0.4 -0.5M1182.6 1664.4l-1.8 -2.1M1154 1658.7l3.5 -0.8M1189.6 1661.3l2.1 -1M1156.5 1645.4l-3.8 -0.5M1156.5 1645.4l3.8 -2.3M1189.2 1653l-0.8 1.7M1189.2 1653l-1.6 3.4M1161.5 1666.3l-0.8 -4.4M1161.5 1666.3l-3.7 -3.3M1135 1645.2l0.8 -1.6M1182.2 1629.8l2 3.7M1182.2 1629.8l4.9 3.1M1132.8 1656.9l6.2 3.6M1132.8 1656.9l4.7 6.3M1149.8 1627l2 -1.4M1149.8 1627l0.9 3.1M1149.8 1627l0.4 3.7M1165.9 1630.4l1 0.9M1165.9 1630.4l-1.4 3.2M1172.8 1672.2l0.2 0.3M1185.5 1662.9l-0.5 -2.5M1181.3 1671.8l1.1 -4.5M1181.3 1671.8l-5.6 3.1M1153 1638.4l-1.4 -1.1M1152.7 1644.9l2.1 4.7M1174.4 1642.3l-3.6 2.3M1175.8 1663.8l3.6 -0.5M1183.6 1639.4l2.4 3.3M1183.6 1639.4l-4.5 -0.7M1183.6 1639.4l1.6 4.8M1160.4 1675.3l2.1 1.9M1195.5 1649.9l-3.1 -3.1M1195.5 1649.9l-0 -5.1M1195.5 1649.9l-2.2 -6.7M1141.7 1642.3l1.3 -4.8M1183 1663.9l-0.1 -2.4M1183 1663.9l-2.2 -1.5M1184.9 1652.2l0.3 -4.1M1172.3 1633.6l-0.7 -3.7M1172.3 1633.6l-1.3 -3.6M1172.3 1633.6l-0.6 -4.4M1139.1 1660.5l2.5 1.5M1139.1 1660.5l2.1 -2.1M1163.3 1653.3l2 0.4M1163.3 1653.3l0.7 3.8M1166.9 1631.4l-2.4 2.2M1151.6 1672.7l6.9 -1.9M1151.6 1672.7l7 4.1M1157.4 1640.3l2.9 2.7M1157.4 1640.3l-2.7 -3.5M1133.8 1643.2l3.2 -7M1137 1636.2l-1 4.4M1136 1640.6l1.2 -3.5M1139.8 1635.9l2.6 -5.7M1141.7 1642.3l4 -9.5M1146.3 1631.8l-8.9 31.3M1139.1 1660.5l1.9 -6.3M1141 1654.2l5.7 -18.4M1146.7 1635.8l-7.8 26.2M1149.8 1627l-3.5 12M1146.3 1639l-5.1 18.1M1138.1 1668.6l3.1 -10.3M1141.1 1658.4l-1.6 5.7M1146.9 1643.2l-4.6 15.8M1140.4 1665.5l8.4 -28M1149.9 1639l2.9 -9.1M1152.8 1629.8l-10.5 35.2M1143.2 1663.9l8.4 -26.5M1151.6 1637.3l1.3 -4.3M1155.2 1626l-8 27.5M1155.8 1626.1l-2 7.3M1153.8 1633.4l-6.4 21.4M1147.4 1654.7l-4.8 16.8M1142.6 1671.6l12.1 -40.3M1154.7 1636.8l-2 8.1M1152.7 1644.9l6.4 -21.1M1150.5 1653l7.4 -20.8M1158.7 1632.4l-3.1 11.9M1159.2 1633.4l-1.8 6.9M1157.4 1640.3l3.3 -11M1154.7 1649.6l5.5 -17.5M1151.2 1662.9l5.3 -17.5M1154 1658.7l7.2 -23.1M1163.7 1631.8l-12.2 40.9M1157.5 1657.9l2.5 -8.3M1160.9 1647.1l-2.1 7M1162 1643.9l-1.8 6.8M1165 1636l-3.9 13.8M1161.1 1649.7l5.8 -18.4M1161.6 1649.2l2.2 -6.8M1157.8 1663.1l1.2 -3.3M1159.6 1660.4l8 -25.7M1166.9 1637.5l3.7 -11M1162.4 1655.1l3.7 -12M1163.3 1653.3l-2.5 8.7M1160.7 1662l-2.3 8.8M1158.5 1670.8l13.3 -43.6M1171.5 1630l-3.8 14.3M1158.6 1676.7l13.6 -43.1M1164.9 1662.7l1.2 -4M1169.9 1648.7l-4.1 13.8M1174.5 1638.7l-6.5 22.1M1166.9 1665l3.2 -8.5M1170.1 1656.5l4.3 -14.2M1171.8 1652.8l4.3 -11.6M1167.8 1671.6l10.9 -36.1M1169 1669.4l-0.9 4.6M1178.6 1645.7l-8.7 29.8M1184.2 1631.4l-12.4 41.4M1171.8 1672.8l-1.2 5.8M1170.6 1678.6l13.6 -45.2M1179.9 1647.9l-7.1 24.3M1174.4 1668.9l6 -19.4M1180.4 1649.5l3.1 -10.1M1177.8 1659.2l-1.9 6.6M1175.9 1665.8l2 -6M1187.1 1632.9l-7 24.4M1180.1 1657.3l-2.5 8.5M1182.1 1651.3l-1.5 6.6M1180.8 1661.3l4.9 -16M1187.6 1644.1l-4.8 17.3M1189.1 1641.4l-6.5 23M1184 1661.3l-1.5 6M1182.2 1673.1l3.3 -10.1M1187.5 1656.4l4.5 -13.8M1192 1642.6l-3.6 12.2M1186.3 1667l6.1 -20.2M1192.4 1646.8l-5.6 20.7M1186.7 1667.4l2.8 -6.1M1191.6 1660.4l3.8 -10.5M1191.3 1664.7l1.7 -4.5" fill="none" stroke="#1a1a1a" stroke-width="1.1"/>
<path d="M1164.2 1664.5l5.4 1m-2.2 -3.2l-1 5.4M1169.9 1657.8l3.2 4.5m0.7 -3.8l-4.5 3.2M1184.4 1640.5l3.2 4.5m0.7 -3.8l-4.5 3.2M1180.6 1659.8l4.5 3.2m-0.6 -3.8l-3.2 4.5M1134.8 1662.7l5.4 0.9m-2.3 -3.2l-0.9 5.4M1167.7 1667l2.7 4.8m1 -3.7l-4.8 2.7M1183.1 1658.5l3.9 3.9m0 -3.9l-3.9 3.9M1167.6 1674l4.6 3.1m-0.7 -3.8l-3.1 4.6M1141.8 1630.2l-2.3 5m3.7 -1.3l-5 -2.3M1172.3 1658.6l1.3 5.4m2 -3.3l-5.4 1.3M1167.8 1673.2l-5.3 1.5m3.4 1.9l-1.5 -5.3M1138.3 1634.5l-2.1 5.1m3.6 -1.5l-5.1 -2.1M1173.9 1651l-4.3 3.5m3.9 0.4l-3.5 -4.3M1135.5 1644.5l-5.4 0.9m3.2 2.2l-0.9 -5.4M1144.8 1635.4l-3.6 4.2m3.9 -0.3l-4.2 -3.6M1161.7 1626.8l-2 5.1m3.6 -1.6l-5.1 -2M1185 1628.8l-1.6 5.3m3.4 -1.8l-5.3 -1.6M1126 1651.5l5.4 0.9m-2.3 -3.2l-0.9 5.4M1144.3 1634.5l4.9 2.6m-1.1 -3.7l-2.6 4.9M1176.7 1656.7l2.2 5m1.4 -3.6l-5 2.2M1144.5 1652.7l5.3 1.6m-1.9 -3.4l-1.6 5.3M1149.5 1635.6l4.2 3.5m-0.3 -3.9l-3.5 4.2M1149.6 1642.9l-5.5 0.7m3.1 2.4l-0.7 -5.5M1162.5 1659.9l-3.7 4.1m3.9 -0.2l-4.1 -3.7M1162.3 1635.7l5.5 0.5m-2.5 -3l-0.5 5.5M1167 1656.1l0.5 5.5m2.5 -3l-5.5 0.5M1154.3 1650.3l-4.1 3.6m3.9 0.2l-3.6 -4.1M1143.5 1661.1l-0.7 5.5m3.1 -2.4l-5.5 -0.7M1172.3 1654.8l-4.4 3.3m3.9 0.5l-3.3 -4.4M1189.5 1657.9l3.8 4m0.1 -3.9l-4 3.8M1175.9 1645.6l5.5 0.3m-2.6 -2.9l-0.3 5.5M1159.7 1633.3l3.1 4.5m0.7 -3.8l-4.5 3.1M1182.6 1670.3l-0.7 5.5m3.1 -2.4l-5.5 -0.7M1139.6 1658.8l5.5 0.5m-2.5 -3l-0.5 5.5M1160.9 1669.6l-5 2.4m3.7 1.3l-2.4 -5M1138.8 1652.6l4.4 3.3m-0.6 -3.8l-3.3 4.4M1166.3 1641.2l-5 2.3m3.7 1.3l-2.3 -5M1154.1 1635.7l-1.7 5.2m3.5 -1.8l-5.2 -1.7M1167.3 1656.2l-2.5 4.9m3.7 -1.2l-4.9 -2.5M1174.5 1626.9l-5.5 0.4m2.9 2.5l-0.4 -5.5M1193.5 1658.4l-3.8 4m3.9 -0.1l-4 -3.8M1157.4 1672.7l-4.6 2.9m3.8 0.9l-2.9 -4.6M1162.4 1630.3l-4.2 3.6m3.9 0.3l-3.6 -4.2M1178.2 1655.3l3.9 3.9m-0 -3.9l-3.9 3.9M1142.8 1654.8l-3.1 4.6m3.8 -0.8l-4.6 -3.1M1189.9 1655l-4.8 2.7m3.8 1l-2.7 -4.8M1155.9 1631.5l-4.1 3.7m3.9 0.2l-3.7 -4.1M1133.4 1643.3l-5.5 0.4m2.9 2.6l-0.4 -5.5M1183.3 1644l4.8 2.7m-1.1 -3.7l-2.7 4.8M1133.3 1662.4l-0.9 5.4m3.2 -2.2l-5.4 -0.9M1158 1647.7l4 3.7m-0.1 -3.9l-3.7 4M1183.5 1656.6l3.8 4m0.1 -3.9l-4 3.8M1165.9 1649.1l4.7 2.9m-0.9 -3.8l-2.9 4.7M1185.2 1667.1l-5.5 0.3m2.9 2.6l-0.3 -5.5M1173 1625.2l-4.9 2.5m3.7 1.2l-2.5 -4.9M1163.8 1674.4l-4 3.8m3.9 0.1l-3.8 -4M1156.7 1623.5l-1.8 5.2m3.5 -1.7l-5.2 -1.8M1174.7 1663.3l2.6 4.9m1.2 -3.7l-4.9 2.6M1161.5 1652.5l1.9 5.2m1.6 -3.5l-5.2 1.9M1161.5 1622.6l-4.9 2.4m3.7 1.2l-2.4 -4.9M1159.8 1663.5l5.5 0.3m-2.6 -2.9l-0.3 5.5M1169.6 1656.4l-3.8 4m3.9 -0.1l-4 -3.8M1154.3 1635.2l-3 4.6m3.8 -0.8l-4.6 -3M1179.1 1647.1l2.6 4.8m1.1 -3.7l-4.8 2.6M1178.4 1660.8l2 5.1m1.6 -3.6l-5.1 2M1154.3 1623.4l1.8 5.2m1.7 -3.5l-5.2 1.8M1151.5 1636.9l-5.4 1.1m3.3 2.1l-1.1 -5.4M1142.3 1668.8l0.6 5.5m2.5 -3l-5.5 0.6M1158.3 1649.4l-4.5 3.2m3.8 0.6l-3.2 -4.5M1148.7 1662l5.2 1.9m-1.6 -3.5l-1.9 5.2M1180.1 1658.1l-4.2 3.5m3.9 0.3l-3.5 -4.2M1157.4 1631.1l-5.5 0.4m2.9 2.5l-0.4 -5.5M1148.4 1637.2l-4.2 3.6m3.9 0.3l-3.6 -4.2M1184.4 1632.4l5.4 1m-2.2 -3.2l-1 5.4M1169.6 1671.2l4.4 3.4m-0.5 -3.9l-3.4 4.4M1162.9 1659.3l4.6 3m-0.8 -3.8l-3 4.6M1145.7 1656l-4.3 3.4m3.9 0.5l-3.4 -4.3M1150 1629.7l-0 5.5m2.8 -2.7l-5.5 -0M1143.5 1660l-3.9 3.9m3.9 -0l-3.9 -3.9M1166.4 1660.4l-3 4.6m3.8 -0.8l-4.6 -3M1141.6 1655.7l-0.9 5.4m3.2 -2.3l-5.4 -0.9M1162.7 1646.7l-2.2 5m3.6 -1.4l-5 -2.2M1185.2 1642.9l2.7 4.8m1 -3.8l-4.8 2.7M1148.3 1628.8l3.9 3.8m-0 -3.9l-3.8 3.9M1156.9 1659.1l2.8 4.7m1 -3.8l-4.7 2.8M1157.5 1657.5l3.1 4.6m0.7 -3.8l-4.6 3.1M1187.8 1647.2l-5.2 1.8m3.5 1.7l-1.8 -5.2M1169.8 1642l2 5.1m1.6 -3.6l-5.1 2M1168.3 1658.1l-0.8 5.4m3.1 -2.3l-5.4 -0.8M1186.2 1648.9l-3.2 4.4m3.8 -0.6l-4.4 -3.2M1164 1641.3l4.3 3.5m-0.4 -3.9l-3.5 4.3M1159.3 1643.3l5.3 1.3m-2 -3.3l-1.3 5.3M1145.9 1630l-0.2 5.5m2.9 -2.6l-5.5 -0.2M1152.4 1629.7l4.6 3m-0.8 -3.8l-3 4.6M1160.1 1644.5l1.4 5.3m1.9 -3.4l-5.3 1.4M1130.5 1642.4l1.1 5.4m2.2 -3.2l-5.4 1.1M1188.7 1657l4.9 2.5m-1.2 -3.7l-2.5 4.9M1184.7 1641.5l1 5.4m2.2 -3.2l-5.4 1M1168.3 1632l-1.4 5.3m3.4 -2l-5.3 -1.4M1175.7 1666.5l-2.7 4.8m3.7 -1l-4.8 -2.7M1186.8 1661.9l5.4 0.8m-2.3 -3.1l-0.8 5.4M1161 1675.4l-4.8 2.6m3.7 1.1l-2.6 -4.8M1155.6 1632.5l-5.4 1.1m3.3 2.1l-1.1 -5.4M1149.1 1631.4l-5.4 0.9m3.2 2.3l-0.9 -5.4M1156 1652.8l-0.2 5.5m2.8 -2.7l-5.5 -0.2M1170.8 1645.9l5.3 1.3m-2 -3.3l-1.3 5.3M1157.9 1631l2.7 4.8m1.1 -3.7l-4.8 2.7M1151.7 1636.8l-3.5 4.3m3.9 -0.4l-4.3 -3.5M1151 1650.3l-0.9 5.4m3.2 -2.2l-5.4 -0.9M1169.3 1636.1l-4.8 2.7m3.8 1l-2.7 -4.8M1191.4 1653.5l-5.3 1.4m3.3 2l-1.4 -5.3M1139.2 1663l2.3 5m1.3 -3.7l-5 2.3M1140.4 1667.2l-4.7 2.9m3.8 0.9l-2.9 -4.7M1145.6 1642.3l-0.1 5.5m2.8 -2.7l-5.5 -0.1M1141.1 1633.5l-2.6 4.8m3.7 -1.1l-4.8 -2.6M1188.2 1662.9l-3.1 4.6m3.8 -0.7l-4.6 -3.1M1134.4 1640.5l-1.3 5.3m3.3 -2l-5.3 -1.3M1181.6 1652.8l-0 5.5m2.8 -2.7l-5.5 -0M1178.9 1632.7l-0.3 5.5m2.9 -2.6l-5.5 -0.3M1157.1 1659.2l5 2.4m-1.3 -3.7l-2.4 5M1151.1 1627.7l3.4 4.3m0.4 -3.9l-4.3 3.4M1180.6 1649l3 4.6m0.8 -3.8l-4.6 3M1170 1661.5l4.4 3.3m-0.5 -3.9l-3.3 4.4M1195.4 1658.8l-4.7 2.8m3.8 1l-2.8 -4.7M1190.3 1643.3l-5.2 1.7m3.5 1.8l-1.7 -5.2M1170.6 1672.7l-4.9 2.6m3.7 1.1l-2.6 -4.9M1140.4 1661.4l-1.6 5.3m3.4 -1.8l-5.3 -1.6M1176.9 1652.9l1.2 5.4m2.1 -3.3l-5.4 1.2M1183.4 1644.3l4.8 2.7m-1.1 -3.7l-2.7 4.8M1190.7 1633.9l-0.7 5.5m3.1 -2.4l-5.5 -0.7M1179.9 1645.1l0.2 5.5m2.7 -2.8l-5.5 0.2M1173.5 1654.4l5 2.4m-1.3 -3.7l-2.4 5M1172.9 1662.2l-5.5 0.3m2.9 2.6l-0.3 -5.5M1178.3 1674.1l-5.3 1.5m3.4 1.9l-1.5 -5.3M1140.4 1628.4l4.1 3.7m-0.2 -3.9l-3.7 4.1M1150.3 1630l1.6 5.3m1.8 -3.4l-5.3 1.6M1154.4 1656.6l-0.2 5.5m2.8 -2.6l-5.5 -0.2M1157 1630.3l3.4 4.3m0.4 -3.9l-4.3 3.4M1178.8 1655.9l3.5 4.2m0.4 -3.9l-4.2 3.5M1185 1665.3l3.4 4.3m0.4 -3.9l-4.3 3.4M1184.1 1658.6l-0.2 5.5m2.9 -2.6l-5.5 -0.2M1158.5 1646.1l5.5 0.3m-2.6 -2.9l-0.3 5.5M1160.4 1662l-5.1 2.2m3.6 1.4l-2.2 -5.1M1168.7 1669l-1.8 5.2m3.5 -1.7l-5.2 -1.8M1168.2 1661.2l-4.9 2.5m3.7 1.2l-2.5 -4.9M1178.6 1640l-4.9 2.4m3.7 1.2l-2.4 -4.9M1159.6 1648l1.2 5.4m2.1 -3.3l-5.4 1.2M1187 1662.3l5.1 2m-1.6 -3.6l-2 5.1M1166 1631.3l-3 4.6m3.8 -0.8l-4.6 -3M1190.7 1639.2l-3.2 4.4m3.8 -0.6l-4.4 -3.2M1170.4 1675.9l0.4 5.5m2.5 -2.9l-5.5 0.4M1174.4 1649.2l4.9 2.5m-1.2 -3.7l-2.5 4.9M1150.9 1634.5l-1.8 5.2m3.5 -1.7l-5.2 -1.8M1179.8 1664.3l-4.5 3.1m3.8 0.7l-3.1 -4.5M1155 1656.8l5.1 2.1m-1.5 -3.6l-2.1 5.1M1161.9 1629.7l3.6 4.1m0.2 -3.9l-4.1 3.6M1169 1663.5l-5.5 0.6m3.1 2.4l-0.6 -5.5M1141.5 1662.4l1.7 5.2m1.8 -3.5l-5.2 1.7M1163 1642.4l-5.4 1.3m3.3 2l-1.3 -5.4M1138.3 1639.1l-4.6 3m3.8 0.8l-3 -4.6M1161.1 1652.7l-4.7 2.8m3.8 1l-2.8 -4.7M1157 1648l-4.4 3.3m3.8 0.6l-3.3 -4.4M1145.6 1652.7l3.7 4.1m0.2 -3.9l-4.1 3.7M1166.8 1675.3l5.4 0.8m-2.3 -3.1l-0.8 5.4M1194.7 1645.3l-4.6 3m3.8 0.8l-3 -4.6M1166.2 1674l3.1 4.5m0.7 -3.8l-4.5 3.1M1138.5 1636.5l-2.2 5.1m3.6 -1.4l-5.1 -2.2M1191.7 1640.9l3.1 4.5m0.7 -3.8l-4.5 3.1M1169.1 1641.9l-2.7 4.8m3.8 -1l-4.8 -2.7M1153.7 1634.3l2.1 5.1m1.5 -3.6l-5.1 2.1M1168.5 1628.9l5 2.2m-1.4 -3.6l-2.2 5M1197.6 1643l-4.2 3.6m3.9 0.3l-3.6 -4.2M1133.6 1640.7l-5.1 2m3.6 1.5l-2 -5.1M1157.5 1642.3l-3.8 4m3.9 -0.1l-4 -3.8M1190.8 1662l0.8 5.4m2.3 -3.1l-5.4 0.8M1179.5 1658.9l2.8 4.7m1 -3.8l-4.7 2.8M1139.2 1659.3l-0.6 5.5m3 -2.4l-5.5 -0.6M1149.6 1634.8l1.1 5.4m2.2 -3.2l-5.4 1.1M1173.6 1627.3l-3.9 3.9m3.9 0l-3.9 -3.9M1174.4 1636l0.1 5.5m2.7 -2.8l-5.5 0.1M1163.3 1654.4l1.2 5.4m2.1 -3.3l-5.4 1.2M1179.8 1664.2l5.5 0.4m-2.6 -2.9l-0.4 5.5M1151.6 1657.3l4.8 2.6m-1.1 -3.7l-2.6 4.8M1160.1 1630.6l-4.4 3.2m3.8 0.6l-3.2 -4.4M1190 1658.6l-0.8 5.4m3.1 -2.3l-5.4 -0.8M1189.7 1641.2l4.7 2.8m-0.9 -3.8l-2.8 4.7M1159.2 1644.9l-5.4 1m3.2 2.2l-1 -5.4M1158.7 1648.4l4.8 2.6m-1.1 -3.7l-2.6 4.8M1190 1650.4l-1.6 5.3m3.4 -1.8l-5.3 -1.6M1159.9 1664.1l3.2 4.5m0.6 -3.8l-4.5 3.2M1133.2 1643.2l3.8 4m0.1 -3.9l-4 3.8M1179.8 1628.3l4.7 2.9m-0.9 -3.8l-2.9 4.7M1130.6 1655.2l4.4 3.3m-0.5 -3.9l-3.3 4.4M1150.6 1624.4l-1.6 5.3m3.4 -1.8l-5.3 -1.6M1168.6 1630.3l-5.5 0.3m2.9 2.6l-0.3 -5.5M1171.7 1669.6l2.2 5m1.4 -3.6l-5 2.2M1170.4 1671.9l5.4 1.2m-2.1 -3.3l-1.2 5.4M1182.9 1661.9l5.1 2m-1.5 -3.6l-2 5.1M1180.7 1669.1l1.2 5.4m2.1 -3.3l-5.4 1.2M1150.6 1637l4.7 2.8m-0.9 -3.8l-2.8 4.7M1181.8 1631.9l4.6 3m-0.8 -3.8l-3 4.6M1176.3 1656.4l5.1 1.9m-1.6 -3.5l-1.9 5.1M1150.6 1643.1l4.1 3.7m-0.2 -3.9l-3.7 4.1M1175 1639.6l-1.1 5.4m3.3 -2.1l-5.4 -1.1M1151.7 1622.8l0.3 5.5m2.6 -2.9l-5.5 0.3M1178.6 1663.5l-5.5 0.7m3.1 2.4l-0.7 -5.5M1185.6 1637.5l-4 3.7m3.9 0.1l-3.7 -4M1158.4 1673.4l4 3.7m-0.1 -3.9l-3.7 4M1194.3 1647.4l2.4 5m1.3 -3.7l-5 2.4M1144.5 1641.9l-5.4 0.9m3.1 2.3l-0.9 -5.4M1184.1 1661.4l-2.2 5m3.6 -1.4l-5 -2.2M1182.6 1650.7l4.7 2.9m-0.9 -3.8l-2.9 4.7M1148 1629.6l5.4 1m-2.2 -3.2l-1 5.4M1178.1 1662.1l5.5 0.4m-2.5 -3l-0.4 5.5M1173 1631l-1.5 5.3m3.4 -1.9l-5.3 -1.5M1164.2 1675.1l-3.5 4.2m3.9 -0.3l-4.2 -3.5M1181 1636.7l-3.9 3.9m3.9 0l-3.9 -3.9M1136.4 1659.7l5.3 1.5m-1.9 -3.4l-1.5 5.3M1165.5 1651.8l-4.5 3.1m3.8 0.7l-3.1 -4.5M1189 1666.3l-5.4 1.3m3.3 2l-1.3 -5.4M1169.6 1630.9l-5.4 1m3.2 2.2l-1 -5.4M1167.3 1647.6l5.1 2.1m-1.5 -3.6l-2.1 5.1M1188.6 1652l-0.4 5.5m3 -2.5l-5.5 -0.4M1153.3 1670.6l-3.5 4.2m3.9 -0.3l-4.2 -3.5M1154.6 1640l5.5 0.6m-2.4 -3l-0.6 5.5M1167.9 1652.7l-5.1 2m3.6 1.6l-2 -5.1M1136.4 1633.5l1.3 5.3m2 -3.3l-5.3 1.3M1174.9 1665.4l2.1 5.1m1.5 -3.6l-5.1 2.1M1138.2 1642.3l-4.9 2.5m3.7 1.2l-2.5 -4.9M1169.3 1628.4l4.5 3.1m-0.7 -3.8l-3.1 4.5" stroke="#e6460f" stroke-width="2.6" fill="none"/>
<path d="M1181 1619.6l2.6 -4.1M1181 1619.6l-1 -10.4M1184.1 1597.4l-1.5 1M1184.1 1597.4l-0.7 1.8M1182.6 1599.7l0.5 0.1M1182.6 1599.7l0.8 -0.5M1186.9 1608.5l-6.5 -0.3M1186.9 1608.5l-6.9 0.7M1183.4 1599.3l-0.4 0.6M1177.9 1602.9l0.7 4.3M1177.9 1602.9l4.7 -3.2M1178.6 1607.2l1.8 1M1178.6 1607.2l1.3 2M1180.4 1608.2l-0.5 1M1182.6 1598.4l0.8 0.9M1182.6 1598.4l-0 1.3M1183.6 1615.5l-3.6 -6.3M1184.1 1597.4l-3.1 22.1" fill="none" stroke="#1a1a1a" stroke-width="1.1"/>
<path d="M1180.8 1616.8l0.3 5.5m2.6 -2.9l-5.5 0.3M1183 1594.9l2.1 5.1m1.5 -3.6l-5.1 2.1M1180.6 1597.9l4 3.7m-0.1 -3.9l-3.7 4M1187.8 1605.9l-1.9 5.2m3.5 -1.6l-5.2 -1.9M1181.5 1597.3l3.8 4m0.1 -3.9l-4 3.8M1176 1601l3.9 3.9m-0 -3.9l-3.9 3.9M1175.9 1606.9l5.5 0.6m-2.4 -3l-0.6 5.5M1181.7 1605.8l-2.5 4.9m3.7 -1.2l-4.9 -2.5M1177.6 1607.8l4.7 2.9m-0.9 -3.8l-2.9 4.7M1181.5 1597.6l3.1 4.5m0.7 -3.8l-4.5 3.1M1183.2 1595.7l-1.1 5.4m3.3 -2.1l-5.4 -1.1M1182.6 1612.9l1.9 5.2m1.6 -3.5l-5.2 1.9" stroke="#e6460f" stroke-width="2.6" fill="none"/>
<path d="M1185 1582.3l-4.3 4.6m4.4 -0.1l-4.6 -4.3M1187.2 1614.7l-4.3 4.5m4.4 -0.1l-4.5 -4.3M1189.3 1628.6l-5.6 2.8m4.2 1.4l-2.8 -5.6" stroke="#e6460f" stroke-width="3" fill="none"/>
<path d="M1197 1696.5L1206.4 1710.3" fill="none" stroke="#e6460f" stroke-width="7" stroke-linecap="butt" stroke-linejoin="round" />
<path d="M1234.5 1705.4L1245.9 1704.4L1241.1 1714.8Z" fill="#1a1a1a"/>
<path d="M1268.5 1576.7L1270.5 1581.5L1271.3 1583.8L1271.8 1586.7L1272 1590L1271.4 1598.9L1270.5 1607L1269.1 1615.1L1267.4 1622.3L1266 1626.6L1263.5 1632.9L1256.1 1649L1245.1 1669.6L1237 1684" fill="none" stroke="#1a1a1a" stroke-width="1.2" stroke-linecap="butt" stroke-linejoin="round" />
<path d="M1262 1568L1255.6 1619.4L1254.5 1627.6L1252.9 1635.9L1250.9 1644.3L1247.9 1653.8L1238 1682" fill="none" stroke="#1a1a1a" stroke-width="1.2" stroke-linecap="butt" stroke-linejoin="round" />
<path d="M1292.7 1622.1l-1.4 -2.5M1292.7 1622.1l5.4 0.4M1292.7 1622.1l-1.5 -5.2M1302.9 1609.7l0.9 -0.2M1302.9 1609.7l-1.4 -3.4M1302.9 1609.7l-4.8 -0.5M1301.6 1606.3l2.3 3.3M1301.6 1606.3l-3.5 2.9M1282.4 1606.2l-3.1 0.6M1282.4 1606.2l3.5 -0.6M1282.4 1606.2l2.5 -3.4M1282.2 1619.8l-1.4 0.4M1282.2 1619.8l0.8 2.3M1282.2 1619.8l-0.8 3M1293.5 1611.7l-0 0.9M1293.5 1611.7l1.5 1.2M1293.5 1611.7l-0.6 2.5M1287.4 1605.4l0.9 -0.2M1287.4 1605.4l-1.4 0.2M1287.4 1605.4l1.1 2.9M1268.6 1590.7l-0.1 0.4M1268.6 1590.7l2 -0.9M1268.6 1590.7l0.4 -4.2M1270.4 1623.4l1.1 -3.2M1270.4 1623.4l4.2 -0.6M1270.4 1623.4l0.7 -8.1M1270.5 1597.3l2.1 4.4M1270.5 1597.3l-4.8 1.1M1270.5 1597.3l4.3 -3.4M1277.2 1598.8l0.2 -3.7M1277.2 1598.8l0.3 4.9M1277.2 1598.8l-2.4 -4.9M1275.1 1615.8l0.4 -1.9M1275.1 1615.8l2.8 -1.6M1275.1 1615.8l-3.9 -0.5M1270.1 1614.5l1 0.8M1270.1 1614.5l4.9 1.3M1270.1 1614.5l5.3 -0.7M1272.2 1579l1.4 1.8M1272.2 1579l-1.3 2.2M1272.2 1579l0.5 6.9M1295.6 1602.2l1.2 1.2M1295.6 1602.2l1.7 1.8M1295.6 1602.2l-2.1 1.9M1284.6 1596l-1.8 3.2M1284.6 1596l-4 -1.7M1284.6 1596l1.6 -4.6M1291.1 1616.8l-0.9 -0.9M1291.1 1616.8l0.2 2.7M1291.1 1616.8l0.2 -3.1M1283.7 1584.2l-1.5 -1.6M1283.7 1584.2l-1.8 1.9M1283.7 1584.2l-3.1 -0.5M1298.1 1609.2l-0 1M1298.1 1609.2l-4.6 -1.4M1286.5 1590.7l-0.3 0.7M1286.5 1590.7l1 0.2M1286.5 1590.7l-1.5 -3.6M1290.1 1600.3l1.1 -1.1M1290.1 1600.3l0.4 4.7M1290.1 1600.3l3.4 3.7M1292.7 1585.4l0.2 -1.5M1292.7 1585.4l-1.8 1.1M1292.7 1585.4l-2.2 -0.9M1296.8 1603.4l0.5 0.6M1296.8 1603.4l-3.3 0.7M1295 1612.9l-1.5 -0.3M1295 1612.9l-2.1 1.3M1265.8 1598.4l0.9 2.8M1265.8 1598.4l1.9 6.3M1287.4 1590.9l-1.2 0.5M1287.4 1590.9l3.1 -1.7M1267.6 1604.7l2.5 0.5M1267.6 1604.7l1.5 2.7M1267.6 1604.7l-1 -3.5M1288.4 1608.3l-0.2 -3.1M1288.4 1608.3l-2.5 -2.7M1289 1579.5l-2.4 -1.4M1289 1579.5l4 -1.1M1289 1579.5l1.5 5M1302.9 1601.3l-1.4 5M1302.9 1601.3l-4.1 -4.1M1302.9 1601.3l-5.7 2.7M1290.8 1592.5l-0.3 -3.4M1290.8 1592.5l-3.4 -1.7M1290.8 1592.5l3.7 2.2M1281.6 1575.6l1.6 0.7M1281.6 1575.6l-2.1 -1.1M1281.6 1575.6l2.7 0.7M1275.5 1613.9l2.4 0.3M1275.5 1613.9l-4.4 1.4M1286.7 1578l-1.6 -2.3M1286.7 1578l-2.4 -1.7M1293.5 1604l-2.9 1M1291.2 1599.3l5.2 -0.4M1291.2 1599.3l4.4 2.9M1294.5 1594.8l0.7 -0.5M1294.5 1594.8l1.9 4.1M1272 1607.1l0.7 0.8M1272 1607.1l-0 1.9M1272 1607.1l-1.8 -1.9M1283.9 1587.3l1 -0.2M1283.9 1587.3l-2 -1.2M1283.9 1587.3l-2.5 0.8M1290.3 1616l1 -2.2M1290.3 1616l2.6 -1.7M1281.4 1622.8l1.7 -0.7M1281.4 1622.8l1.1 2.5M1281.4 1622.8l-0.6 -2.7M1292.9 1583.8l-2.4 0.6M1292.9 1583.8l-2 2.7M1278.6 1585.8l2.1 -2.1M1278.6 1585.8l3.4 0.3M1278.6 1585.8l2.9 2.3M1284.8 1612.5l3.6 -4.2M1284.8 1612.5l5.5 3.4M1284.8 1612.5l6.6 1.2M1265.7 1610.5l3.4 -3M1265.7 1610.5l4.4 4.1M1265.7 1610.5l1.9 -5.7M1297.2 1604l-3.8 0.1M1289.7 1587.5l1.2 -1M1289.7 1587.5l0.8 1.7M1289.7 1587.5l0.9 -3M1277.9 1614.2l2.9 6M1302.5 1593.3l-1.1 -0.2M1302.5 1593.3l-0.2 1.6M1302.5 1593.3l-3.7 3.8M1270.9 1581.2l2.7 -0.4M1270.9 1581.2l1.8 4.7M1281.5 1588.1l0.5 -2M1281.5 1588.1l3.4 -1M1282.6 1625.3l0.2 1.3M1282.6 1625.3l2.7 -0.6M1280.2 1591.9l0.4 2.4M1280.2 1591.9l-2.6 -0.5M1280.2 1591.9l1.2 -3.8M1298.8 1597.2l-2.4 1.7M1298.8 1597.2l3.5 -2.2M1298.8 1597.2l-3.7 -2.9M1296.4 1598.9l-0.8 3.3M1296.4 1598.9l0.4 4.5M1280.6 1594.3l-3.2 0.7M1280.6 1594.3l-3 -3M1277.4 1595l-2.6 -1.2M1277.4 1595l0.2 -3.7M1280.6 1583.7l1.5 -1.1M1280.6 1583.7l1.3 2.4M1268.5 1591l2.1 -1.2M1268.5 1591l0.5 -4.5M1271.9 1609l0.7 -1.1M1271.9 1609l-2.8 -1.5M1290.5 1589.2l0.4 -2.6M1303.8 1609.5l-5.7 -0.3M1290.5 1584.5l0.4 2.1M1272.6 1607.9l-3.5 -0.4M1301.4 1593.2l0.9 1.7M1301.4 1593.2l-2.6 4M1274.6 1622.8l-3.1 -2.5M1274.6 1622.8l6.2 -2.6M1300 1620.2l-1.9 2.2M1300 1620.2l0.4 -5.5M1300 1620.2l-7.3 1.8M1296 1586.5l-0.1 -1.1M1296 1586.5l0.7 -2.5M1296 1586.5l-3.3 -1.2M1288.2 1605.2l2.3 -0.1M1288.2 1605.2l-2.3 0.5M1293.5 1607.9l-0.8 0.8M1293.5 1607.9l-0.1 -3.8M1293.5 1607.9l-0 3.9M1276.1 1604.9l1.4 -1.3M1276.1 1604.9l3.1 1.9M1276.1 1604.9l-2.9 -2.4M1282.1 1582.6l-0.2 3.5M1292.7 1608.6l0.8 3.1M1292.7 1608.6l0.8 4M1291.3 1613.7l1.6 0.5M1291.3 1613.7l2.2 -1.1M1283.1 1622.1l-2.3 -2M1285.3 1624.7l-2.5 2M1285.3 1624.7l-2.2 -2.5M1272.6 1601.7l0.5 0.7M1272.6 1601.7l-2.5 3.5M1272.6 1601.7l3.5 3.2M1273.6 1580.8l-0.9 5.1M1283.2 1576.3l1 0M1283.2 1576.3l1.8 -0.5M1285 1575.8l-0.8 0.5M1282.8 1626.6l-1.4 -3.8M1274.8 1593.9l2.8 -2.5M1300.4 1614.7l-2.3 -4.5M1300.4 1614.7l2.5 -5M1291.3 1619.6l-1 -3.6M1279.5 1574.5l-1 -0.3M1279.5 1574.5l-1.1 0.5M1282.8 1599.2l2 3.6M1282.8 1599.2l-2.2 -4.8M1273.2 1602.4l-3 2.8M1277.5 1603.6l1.8 3.1M1277.5 1603.6l-4.3 -1.2M1270.1 1605.2l-1 2.3M1296 1585.5l0.8 -1.4M1296 1585.5l-3.2 -0.1M1284.9 1587.1l-3 -1M1284.9 1587.1l-1.2 -2.9M1293.9 1576.9l-0.9 1.5M1293.9 1576.9l-4.9 2.6M1293.9 1576.9l-1 7M1286.2 1591.4l-1.3 -4.3M1295.1 1594.3l-4.3 -1.7M1278.5 1574.3l-0.1 0.8M1278.5 1574.3l3.1 1.4M1271.5 1620.2l-0.4 -4.9M1278.4 1575l3.2 0.6M1269.1 1607.5l2.8 -0.4M1292.9 1614.2l0.6 -1.6M1298.1 1622.4l-6.8 -2.9M1270.6 1589.8l-1.6 -3.3M1290.5 1605l-3.2 0.4M1266.7 1601.2l3.5 4M1285.9 1605.6l-1 -2.9M1296.8 1584l-3.9 -0.2M1272.7 1585.9l-3.7 0.6M1272.7 1585.9l-2.1 3.9M1284.9 1602.8l2.5 2.6M1293 1578.3l-0.1 5.5M1298.1 1610.2l-3.1 2.7M1298.1 1610.2l-4.6 1.5M1301 1585.8l-4.2 -1.7M1301 1585.8l-4.9 0.8M1301 1585.8l-5 -0.3M1270.9 1581.2l-5.1 17.2M1270.6 1589.8l3 -9M1267.6 1604.7l2.9 -7.4M1270.5 1597.3l7.9 -23M1278.4 1575l-9.2 32.5M1273.2 1602.4l-1.2 4.6M1272 1607.1l9.6 -31.5M1270.1 1614.5l1.8 -5.6M1277.4 1595l5.8 -18.8M1282.1 1582.6l2.1 -6.3M1284.3 1576.3l-13.9 47.1M1271.5 1620.2l4.6 -15.3M1276.1 1604.9l5.8 -18.8M1281.5 1588.1l-4 15.6M1277.5 1603.6l6.2 -19.5M1280.6 1594.3l-5.2 19.6M1275.1 1615.8l11.6 -37.8M1286.7 1578l-2.8 9.3M1274.6 1622.8l3.2 -8.6M1289 1579.5l-4.4 16.5M1286.5 1590.7l-4.1 15.5M1282.4 1606.2l5 -15.3M1284.9 1602.8l5.7 -18.3M1289.7 1587.5l3.3 -9.2M1280.8 1620.2l10.1 -33.6M1290.9 1586.5l3 -9.7M1292.9 1583.8l-10.7 36M1281.4 1622.8l11.3 -37.5M1284.8 1612.5l6 -20M1290.8 1592.5l-3.4 12.8M1283.1 1622.1l5.2 -17M1288.2 1605.2l-5.7 20.2M1282.6 1625.3l7.5 -25M1290.1 1600.3l-7.3 26.3M1282.8 1626.6l5.6 -18.3M1288.4 1608.3l2.7 -9M1296 1586.5l-5.5 18.5M1290.5 1605l-5.2 19.7M1285.3 1624.7l9.2 -29.9M1293.5 1604l-3.2 11.9M1290.3 1616l2.5 -7.3M1293.5 1607.9l2.9 -9M1291.1 1616.8l4.4 -14.7M1291.3 1619.6l1.6 -5.3M1293.5 1612.6l3.3 -9.3M1298.8 1597.2l-1.6 6.8M1297.2 1604l-2.2 8.9M1302.3 1594.9l-4.2 14.3M1298.1 1610.2l4.8 -8.9M1301.6 1606.3l-3.5 16.1M1298.1 1622.4l2.3 -7.7M1302.9 1609.7l-2.9 10.5" fill="none" stroke="#1a1a1a" stroke-width="1.1"/>
<path d="M1290.1 1621l5.1 2.2m-1.4 -3.6l-2.2 5.1M1300.5 1608.5l4.9 2.4m-1.3 -3.7l-2.4 4.9M1304.1 1605.2l-5 2.2m3.6 1.4l-2.2 -5M1282.9 1603.5l-1 5.4m3.2 -2.2l-5.4 -1M1284.6 1618.4l-4.8 2.7m3.8 1l-2.7 -4.8M1295 1609.5l-3.1 4.6m3.8 -0.8l-4.6 -3.1M1285.5 1603.4l3.8 4m0.1 -3.9l-4 3.8M1267.2 1588.3l2.8 4.7m1 -3.8l-4.7 2.8M1269.7 1620.7l1.3 5.3m2 -3.3l-5.3 1.3M1273 1596.1l-5 2.3m3.7 1.3l-2.3 -5M1274.5 1598.4l5.4 0.8m-2.3 -3.1l-0.8 5.4M1275.4 1613.1l-0.7 5.4m3.1 -2.3l-5.4 -0.7M1268.3 1612.5l3.8 4m0.1 -3.9l-4 3.8M1270.6 1576.8l3.3 4.4m0.5 -3.9l-4.4 3.3M1296.3 1599.5l-1.5 5.3m3.4 -1.9l-5.3 -1.5M1287.2 1595.1l-5.2 1.7m3.5 1.8l-1.7 -5.2M1293.9 1616.7l-5.5 0.3m2.9 2.6l-0.3 -5.5M1285.9 1582.6l-4.5 3.2m3.8 0.7l-3.2 -4.5M1297.4 1606.6l1.3 5.3m2 -3.3l-5.3 1.3M1289 1589.6l-5.1 2.1m3.6 1.5l-2.1 -5.1M1292.5 1599.1l-4.9 2.5m3.7 1.2l-2.5 -4.9M1293.9 1582.9l-2.4 5m3.7 -1.3l-5 -2.4M1294.6 1601.7l4.3 3.4m-0.5 -3.9l-3.4 4.3M1293.5 1610.6l3.1 4.5m0.7 -3.8l-4.5 3.1M1263 1598.3l5.5 0.2m-2.6 -2.9l-0.2 5.5M1285.9 1588.6l3 4.6m0.8 -3.8l-4.6 3M1265 1603.9l5.2 1.7m-1.8 -3.5l-1.7 5.2M1291.2 1608.2l-5.5 0.1m2.8 2.7l-0.1 -5.5M1289.3 1576.7l-0.6 5.5m3 -2.4l-5.5 -0.6M1305.2 1599.8l-4.6 3m3.8 0.8l-3 -4.6M1292.6 1590.4l-3.6 4.2m3.9 -0.3l-4.2 -3.6M1279.7 1573.7l3.9 3.9m0 -3.9l-3.9 3.9M1278 1612.7l-5 2.3m3.7 1.3l-2.3 -5M1284 1577.3l5.3 1.4m-1.9 -3.4l-1.4 5.3M1290.8 1603.4l5.4 1.2m-2.1 -3.3l-1.2 5.4M1293 1597.2l-3.7 4.1m3.9 -0.2l-4.1 -3.7M1295.1 1592.1l-1.3 5.4m3.3 -2.1l-5.4 -1.3M1271.6 1604.4l0.8 5.4m2.3 -3.1l-5.4 0.8M1286.6 1587l-5.5 0.6m3 2.4l-0.6 -5.5M1290.9 1613.3l-1.2 5.4m3.3 -2.1l-5.4 -1.2M1278.8 1622.1l5.3 1.5m-1.9 -3.4l-1.5 5.3M1295.3 1582.4l-4.7 2.8m3.8 1l-2.8 -4.7M1277.2 1583.4l2.8 4.7m1 -3.8l-4.7 2.8M1285.9 1610l-2.3 5m3.7 -1.3l-5 -2.3M1267.3 1608.2l-3 4.6m3.8 -0.8l-4.6 -3M1294.5 1603.8l5.5 0.3m-2.6 -2.9l-0.3 5.5M1289.9 1584.8l-0.4 5.5m2.9 -2.5l-5.5 -0.4M1277.8 1611.4l0.2 5.5m2.7 -2.8l-5.5 0.2M1303.6 1590.8l-2.1 5.1m3.6 -1.5l-5.1 -2.1M1268.3 1580.4l5.3 1.6m-1.8 -3.4l-1.6 5.3M1281.2 1585.3l0.5 5.5m2.5 -3l-5.5 0.5M1283.7 1622.8l-2.2 5m3.6 -1.4l-5 -2.2M1282.4 1590.2l-4.3 3.4m3.9 0.5l-3.4 -4.3M1297.7 1594.7l2.2 5m1.4 -3.6l-5 2.2M1299 1598.1l-5.3 1.6m3.4 1.8l-1.6 -5.3M1279 1592.1l3.3 4.4m0.5 -3.9l-4.4 3.3M1276.4 1592.5l2.1 5.1m1.5 -3.6l-5.1 2.1M1278.4 1582.1l4.4 3.3m-0.6 -3.8l-3.3 4.4M1267.5 1588.4l1.8 5.2m1.7 -3.5l-5.2 1.8M1274.5 1608l-5.2 1.9m3.5 1.6l-1.9 -5.2M1287.8 1588.5l5.3 1.3m-2 -3.3l-1.3 5.3M1302.5 1607.1l2.7 4.8m1.1 -3.7l-4.8 2.7M1290.8 1581.7l-0.6 5.5m3 -2.4l-5.5 -0.6M1274.2 1605.6l-3 4.6m3.8 -0.8l-4.6 -3M1304.2 1593.2l-5.5 0m2.8 2.7l-0 -5.5M1271.9 1622.4l5.4 0.8m-2.3 -3.1l-0.8 5.4M1301.2 1617.8l-2.5 4.9m3.7 -1.2l-4.9 -2.5M1293.7 1585.1l4.7 2.8m-0.9 -3.8l-2.8 4.7M1290.9 1604.4l-5.3 1.5m3.4 1.9l-1.5 -5.3M1294.9 1605.5l-2.8 4.8m3.8 -1l-4.8 -2.8M1274.9 1602.4l2.5 4.9m1.2 -3.7l-4.9 2.5M1284.4 1580.9l-4.4 3.3m3.8 0.6l-3.3 -4.4M1268.6 1614.3l5.1 1.9m-1.6 -3.5l-1.9 5.1M1290.2 1607.6l5.1 2.1m-1.5 -3.6l-2.1 5.1M1294.1 1613.7l-5.5 0m2.8 2.7l-0 -5.5M1291.6 1583.8l-1.3 5.3m3.3 -2l-5.3 -1.3M1284.6 1619.8l-3 4.6m3.8 -0.8l-4.6 -3M1284.8 1622l0.9 5.4m2.3 -3.2l-5.4 0.9M1270.6 1599.8l4 3.8m-0.1 -3.9l-3.8 4M1270.9 1580.6l5.5 0.4m-2.5 -3l-0.4 5.5M1279.2 1585.8l5.5 0.7m-2.4 -3.1l-0.7 5.5M1280.5 1576.1l5.5 0.4m-2.5 -2.9l-0.4 5.5M1284.8 1573l0.5 5.5m2.5 -3l-5.5 0.5M1281 1624.5l3.6 4.2m0.3 -3.9l-4.2 3.6M1273.4 1591.5l2.9 4.7m0.9 -3.8l-4.7 2.9M1286.5 1574.7l-4.6 3.1m3.8 0.7l-3.1 -4.6M1300 1612l0.7 5.5m2.4 -3.1l-5.5 0.7M1293.6 1618.1l-4.7 2.9m3.8 0.9l-2.9 -4.7M1277.6 1572.5l3.7 4.1m0.2 -3.9l-4.1 3.7M1281.7 1596.7l2.4 5m1.3 -3.7l-5 2.4M1274.7 1600.2l-3.1 4.6m3.8 -0.7l-4.6 -3.1M1282.2 1617.8l-2.8 4.7m3.8 -1l-4.7 -2.8M1275 1602.4l4.9 2.4m-1.3 -3.7l-2.4 4.9M1272.8 1604.5l-5.3 1.3m3.3 2l-1.3 -5.3M1293.2 1585.3l5.5 0.4m-2.5 -2.9l-0.4 5.5M1301.9 1592.2l0.8 5.4m2.3 -3.1l-5.4 0.8M1276.9 1588.7l1.5 5.3m1.9 -3.4l-5.3 1.5M1286.5 1584.8l-3.2 4.4m3.8 -0.6l-4.4 -3.2M1293 1574.3l1.8 5.2m1.7 -3.5l-5.2 1.8M1283.5 1591l5.4 0.8m-2.3 -3.1l-0.8 5.4M1297.7 1593.4l-5.2 1.8m3.5 1.7l-1.8 -5.2M1277.3 1571.7l2.2 5m1.4 -3.6l-5 2.2M1273.6 1618.4l-4.1 3.6m3.9 0.3l-3.6 -4.1M1278.6 1572.3l-0.5 5.5m3 -2.5l-5.5 -0.5M1270.6 1605.1l-2.9 4.7m3.8 -0.9l-4.7 -2.9M1290.9 1612.4l4 3.8m-0.1 -3.9l-3.8 4M1300.6 1621.4l-5.1 2m3.6 1.6l-2 -5.1M1268.1 1588.6l5 2.3m-1.3 -3.6l-2.3 5M1291.9 1602.7l-2.9 4.7m3.8 -0.9l-4.7 -2.9M1280.5 1604.3l-2.4 4.9m3.7 -1.2l-4.9 -2.4M1266.7 1598.4l-0.1 5.5m2.8 -2.7l-5.5 -0.1M1287.8 1603.6l-3.7 4m3.9 -0.1l-4 -3.7M1298.2 1581.7l-2.8 4.7m3.8 -1l-4.7 -2.8M1275.1 1584.6l-4.9 2.5m3.7 1.2l-2.5 -4.9M1292.5 1610.1l2.1 5.1m1.5 -3.6l-5.1 2.1M1287.1 1601.1l-4.4 3.2m3.8 0.6l-3.2 -4.4M1269.6 1583.8l-1.3 5.4m3.3 -2l-5.4 -1.3M1295.6 1577.6l-5.3 1.5m3.4 1.9l-1.5 -5.3M1297.7 1607.5l0.8 5.4m2.3 -3.1l-5.4 0.8M1300.8 1583l0.3 5.5m2.6 -2.9l-5.5 0.3" stroke="#1e9628" stroke-width="2.6" fill="none"/>
<path d="M1275.6 1637.7l-0.7 0.7M1275.6 1637.7l-0 -1M1275.6 1637.7l-2.1 -1.3M1272 1647l0.1 -0.1M1272 1647l2.1 0.1M1272 1647l2.8 4.4M1274.1 1647l-2 -0.2M1274.1 1647l0.7 4.3M1268.1 1656.5l-0.7 3.6M1268.1 1656.5l-2.7 -3.4M1268.1 1656.5l-4 4.2M1270.5 1633.8l-0.9 1.1M1270.5 1633.8l-1.5 1M1270.5 1633.8l-3.5 1.1M1266.9 1623.3l0.6 1.5M1266.9 1623.3l1.1 1.5M1266.9 1623.3l2.1 3.5M1262.1 1652.1l-1.6 1.4M1262.1 1652.1l-2.3 -0.2M1262.1 1652.1l3.3 1M1262.5 1635l-1.1 0.9M1262.5 1635l2.2 1M1262.5 1635l3.5 -2.3M1269.6 1639.4l-0 -4.6M1269.6 1639.4l-0.7 -4.7M1269.6 1639.4l3.8 -3M1264.7 1636.1l2.2 -1.2M1264.7 1636.1l-3.3 -0.1M1259.9 1656.4l0.6 -2.9M1259.9 1656.4l-0.1 -4.4M1259.9 1656.4l2.2 -4.3M1260.4 1653.5l-0.7 -1.6M1265.3 1647.9l0.1 5.1M1265.3 1647.9l-3.2 4.2M1265.3 1647.9l6.7 -0.9M1269.6 1634.9l-0.6 -0.1M1269.6 1634.9l-2.6 0M1268.9 1634.8l-2 0.1M1275.5 1636.6l-0.7 1.8M1275.5 1636.6l-2.1 -0.2M1261.4 1635.9l-3.7 -3M1267.4 1660.1l-3.3 0.6M1267.4 1660.1l-2 -7M1274.8 1633.6l0.8 3.1M1274.8 1633.6l-1.4 2.8M1274.8 1633.6l0.8 4.1M1262.2 1626.2l-1.8 2.4M1262.2 1626.2l2.9 2.9M1262.2 1626.2l5.3 -1.4M1268 1624.8l-0.5 -0M1268 1624.8l0.9 2M1274.9 1638.4l-1.4 -2M1272 1646.9l2.8 4.5M1269 1626.8l-1.5 -2M1265.1 1629.2l0.9 3.6M1265.1 1629.2l3.9 -2.3M1266.9 1634.9l-1 -2.1M1264 1660.7l-4.2 -4.3M1265.4 1653.1l-4.9 0.4M1256.3 1640.8l5.1 -4.9M1256.3 1640.8l1.4 -7.9M1256.3 1640.8l6.2 -5.8M1266 1632.8l-1.3 3.3M1266 1632.8l3 2M1257.7 1632.9l2.8 -4.3M1257.7 1632.9l4.8 2.1M1260.5 1628.6l4.6 0.5M1262.5 1635l2.7 -5.9M1266 1632.8l-5.6 20.7M1259.9 1656.4l9.1 -29.5M1262.1 1652.1l6.9 -17.3M1270.5 1633.8l-5.1 19.3M1269.6 1639.4l-5.6 21.2M1272 1646.9l2.8 -8.5M1275.6 1637.7l-1.5 9.4" fill="none" stroke="#1a1a1a" stroke-width="1.1"/>
<path d="M1274.2 1635.3l2.8 4.8m1 -3.8l-4.8 2.8M1274.4 1645.7l-4.9 2.6m3.7 1.1l-2.6 -4.9M1276.3 1645.5l-4.5 3.2m3.8 0.7l-3.2 -4.5M1267.6 1653.8l0.9 5.4m2.3 -3.2l-5.4 0.9M1271.5 1631.2l-2.1 5.1m3.6 -1.5l-5.1 -2.1M1265.7 1620.8l2.4 4.9m1.3 -3.7l-4.9 2.4M1259.6 1650.8l4.9 2.6m-1.1 -3.7l-2.6 4.9M1264.5 1633.2l-4.1 3.7m3.9 0.2l-3.7 -4.1M1268.4 1637l2.3 5m1.3 -3.7l-5 2.3M1264.5 1633.3l0.4 5.5m2.6 -2.9l-5.5 0.4M1261.3 1654l-2.9 4.6m3.8 -0.8l-4.6 -2.9M1258.4 1651.7l4.1 3.6m-0.3 -3.9l-3.6 4.1M1257.1 1651.3l5.4 1.2m-2.1 -3.3l-1.2 5.4M1262.8 1646.8l5 2.3m-1.3 -3.7l-2.3 5M1271 1632.5l-2.8 4.7m3.8 -0.9l-4.7 -2.8M1269.8 1632.1l-1.7 5.2m3.5 -1.8l-5.2 -1.7M1273.4 1634.9l4.3 3.4m-0.4 -3.9l-3.4 4.3M1259.1 1634.4l4.5 3.1m-0.7 -3.8l-3.1 4.5M1266.7 1657.4l1.4 5.3m2 -3.3l-5.3 1.4M1276.3 1631.3l-3.1 4.6m3.8 -0.7l-4.6 -3.1M1263.5 1623.8l-2.5 4.9m3.7 -1.2l-4.9 -2.5M1270.8 1624.3l-5.4 0.9m3.2 2.2l-0.9 -5.4M1277.6 1638.3l-5.5 0.3m2.9 2.6l-0.3 -5.5M1271 1644.3l2 5.1m1.6 -3.6l-5.1 2M1269 1624.1l0 5.5m2.7 -2.8l-5.5 0M1263.9 1626.7l2.4 5m1.3 -3.7l-5 2.4M1270.3 1624.7l-5.5 0.1m2.8 2.7l-0.1 -5.5M1269.6 1634.3l-5.4 1.2m3.3 2.1l-1.2 -5.4M1263.7 1657.9l0.6 5.5m2.4 -3l-5.5 0.6M1267.4 1651.2l-4 3.8m3.9 0.1l-3.8 -4M1254.7 1638.6l3.1 4.5m0.7 -3.8l-4.5 3.1M1268.5 1631.8l-5.1 2m3.6 1.6l-2 -5.1M1272 1651.3l5.5 0.1m-2.7 -2.8l-0.1 5.5M1276.2 1636.3l-5.5 0.3m2.9 2.6l-0.3 -5.5M1255 1632.3l5.4 1.3m-2 -3.3l-1.3 5.4M1260 1625.9l0.9 5.4m2.3 -3.2l-5.4 0.9" stroke="#1e9628" stroke-width="2.6" fill="none"/>
<path d="M1245.6 1677.7l0.9 -0.3M1245.6 1677.7l3.4 -0.3M1252 1671.5l-0.8 -1.2M1252 1671.5l-2.4 1.3M1249 1677.5l-2.5 -0M1249 1677.5l2.4 -0.8M1251.1 1670.2l1.7 -2.1M1246.2 1673.5l1.1 0M1246.2 1673.5l2.5 -0.1M1252 1676l-0.6 0.7M1252 1676l-3 1.5M1247.2 1673.5l1.5 -0.1M1248.7 1673.4l0.9 -0.6M1245.5 1663.8l0.5 3.1M1245.5 1663.8l7.3 4.3M1246 1666.9l5.2 3.4M1252.8 1668.1l-0.8 3.4M1249.6 1672.8l-2.4 0.7M1247.2 1673.5l-0.7 3.9M1251.1 1670.2l-2.1 7.2" fill="none" stroke="#1a1a1a" stroke-width="1.1"/>
<path d="M1247.3 1675.6l-3.4 4.3m3.9 -0.4l-4.3 -3.4M1251.3 1668.8l1.3 5.3m2 -3.3l-5.3 1.3M1251.6 1676.6l-5.2 1.6m3.4 1.8l-1.6 -5.2M1250.6 1667.5l1.1 5.4m2.2 -3.2l-5.4 1.1M1244.2 1671.6l4 3.8m-0.1 -3.9l-3.8 4M1253.4 1673.6l-2.8 4.7m3.8 -0.9l-4.7 -2.8M1251.6 1673.9l-0.5 5.5m3 -2.5l-5.5 -0.5M1244.7 1672.4l5 2.3m-1.4 -3.6l-2.3 5M1249.6 1670.8l-1.9 5.2m3.5 -1.7l-5.2 -1.9M1242.9 1662.8l5.1 2m-1.6 -3.6l-2 5.1M1245.8 1674.8l1.4 5.3m2 -3.3l-5.3 1.4M1248.2 1665.3l-4.5 3.2m3.8 0.7l-3.2 -4.5M1255.3 1666.9l-4.9 2.5m3.7 1.2l-2.5 -4.9M1248.3 1670.4l2.6 4.8m1.1 -3.7l-4.8 2.6" stroke="#1e9628" stroke-width="2.6" fill="none"/>
<path d="M1265.5 1575.8l6 1.8m-2.1 -3.9l-1.8 6M1262.6 1565.9l0.8 6.2m2.7 -3.5l-6.2 0.8" stroke="#1e9628" stroke-width="3" fill="none"/>
<path d="M1236.5 1686L1239.5 1680" fill="none" stroke="#1e9628" stroke-width="5" stroke-linecap="butt" stroke-linejoin="round" />
<path d="M1085.8 1459.7L987.7 1622.7L1101.6 1648.2" fill="none" stroke="#1a1a1a" stroke-width="1.3" stroke-linecap="butt" stroke-linejoin="round" />
<path d="M1085.7 1460.1L1085.5 1472L1075.2 1465.8Z" fill="#1a1a1a"/>
<path d="M1101.5 1648.1L1090.2 1651.7L1092.8 1640Z" fill="#1a1a1a"/>
<text x="845" y="1642.1" font-size="43.5" font-weight="normal" fill="#1a1a1a" textLength="103" lengthAdjust="spacingAndGlyphs">rDNAs</text>
<path d="M1206.4 1710.3L1208.4 1718.3L1209.4 1720.9L1210.6 1723L1211.9 1724.6L1218.5 1731L1227.6 1741.8L1233.1 1748L1241.6 1756.3L1255.7 1768.6L1263.4 1774.8L1273.4 1782" fill="none" stroke="#1a1a1a" stroke-width="1.2" stroke-linecap="butt" stroke-linejoin="round" />
<path d="M1210 1722L1211.2 1729.3L1212.4 1733.7L1213.6 1736.2L1215 1738.4L1216.6 1740.6L1218.4 1742.8L1222 1746L1225 1748.2L1236.3 1754.6L1241.9 1758.3L1258 1771" fill="none" stroke="#1a1a1a" stroke-width="1.2" stroke-linecap="butt" stroke-linejoin="round" />
<path d="M1221 1712L1217.7 1713.2L1216 1714.1L1214.6 1715.3L1214 1716L1213.2 1717.9L1211.8 1725.6L1211 1728L1209.1 1731.4L1206.1 1735.7L1204 1738L1202.8 1738.8L1201.5 1739.1L1198.8 1738.9" fill="none" stroke="#1a1a1a" stroke-width="1.3" stroke-linecap="butt" stroke-linejoin="round" />
<path d="M1210.6 1731L1211.2 1738.6L1211.3 1742.5L1210.9 1746.3L1210.5 1748L1209.8 1749.6L1207.9 1752.6L1203 1758.4L1200.8 1761.4L1199.3 1764.6L1197.8 1769.7L1195.3 1784.8L1192 1815" fill="none" stroke="#1a1a1a" stroke-width="1.3" stroke-linecap="butt" stroke-linejoin="round" />
<path d="M1219.4 1711.5l4.2 1.1m-1.6 -2.7l-1.1 4.2" stroke="#1e9628" stroke-width="2.1" fill="none"/>
<path d="M1220.7 1729.2l-4.4 3.6m4 0.4l-3.6 -4.4M1234.3 1745.7l-0.7 5.6m3.1 -2.5l-5.6 -0.7M1248.3 1764.1l5.3 1.8m-1.7 -3.6l-1.8 5.3M1272.9 1778.2l1 5.5m2.3 -3.3l-5.5 1M1264.1 1773.7l-4.3 3.6m4 0.3l-3.6 -4.3" stroke="#e6460f" stroke-width="2.7" fill="none"/>
<path d="M1211.5 1745.7l-0.9 5.5m3.2 -2.3l-5.5 -0.9M1196.9 1763.5l5.2 2.1m-1.6 -3.7l-2.1 5.2M1197.1 1793.9l-5.5 1.1m3.3 2.2l-1.1 -5.5M1220.2 1750l5.5 1m-2.3 -3.3l-1 5.5M1236 1752.2l-5 2.7m3.8 1.1l-2.7 -5M1248.8 1763.8l-5.6 0.5m3 2.6l-0.5 -5.6M1260 1769.5l-4 4m4 0l-4 -4M1272.8 1778.5l-5.5 1m3.2 2.3l-1 -5.5" stroke="#ffd700" stroke-width="2.7" fill="none"/>
<path d="M1240.2 1755.5l-0.5 5m2.7 -2.2l-5 -0.5" stroke="#d8d8d4" stroke-width="2.4" fill="none"/>
<path d="M1198.8 1738.9L1124.4 1779.4L1042.8 1823.4L939.7 1878.7L865.4 1919.3L796.2 1960.8" fill="none" stroke="#1a1a1a" stroke-width="1.3" stroke-linecap="butt" stroke-linejoin="round" />
<path d="M1126 1778.5L1109.2 1787.6" fill="none" stroke="#1e9628" stroke-width="6.5" stroke-linecap="butt" stroke-linejoin="round" />
<path d="M1041.7 1824L1036.8 1826.6L1031.9 1829.3" fill="none" stroke="#1e9628" stroke-width="6.5" stroke-linecap="butt" stroke-linejoin="round" />
<path d="M865 1919.5L851.3 1927.7" fill="none" stroke="#1e9628" stroke-width="6.5" stroke-linecap="butt" stroke-linejoin="round" />
<path d="M796.2 1960.8L633 2052.4" fill="none" stroke="#1e9628" stroke-width="6.5" stroke-linecap="butt" stroke-linejoin="round" />
<path d="M1200.6 1737.9L1197 1739.9" fill="none" stroke="#1e9628" stroke-width="6.3" stroke-linecap="butt" stroke-linejoin="round" />
<path d="M1067.8 1809.9L1064.1 1811.9" fill="none" stroke="#1e9628" stroke-width="6.3" stroke-linecap="butt" stroke-linejoin="round" />
<path d="M1050.9 1819L1047.2 1821" fill="none" stroke="#1e9628" stroke-width="6.3" stroke-linecap="butt" stroke-linejoin="round" />
<path d="M992.9 1850.1L989.2 1852.1" fill="none" stroke="#1e9628" stroke-width="6.3" stroke-linecap="butt" stroke-linejoin="round" />
<path d="M973 1860.8L969.3 1862.8" fill="none" stroke="#1e9628" stroke-width="6.3" stroke-linecap="butt" stroke-linejoin="round" />
<path d="M953.1 1871.5L949.4 1873.5" fill="none" stroke="#1e9628" stroke-width="6.3" stroke-linecap="butt" stroke-linejoin="round" />
<path d="M845.1 1931.4L841.5 1933.6" fill="none" stroke="#1e9628" stroke-width="6.3" stroke-linecap="butt" stroke-linejoin="round" />
<path d="M840.1 1934.4L836.5 1936.6" fill="none" stroke="#1e9628" stroke-width="6.3" stroke-linecap="butt" stroke-linejoin="round" />
<path d="M828.8 1941.2L825.2 1943.4" fill="none" stroke="#1e9628" stroke-width="6.3" stroke-linecap="butt" stroke-linejoin="round" />
<path d="M817.8 1947.8L814.2 1950" fill="none" stroke="#1e9628" stroke-width="6.3" stroke-linecap="butt" stroke-linejoin="round" />
<path d="M808.4 1953.5L804.8 1955.6" fill="none" stroke="#1e9628" stroke-width="6.3" stroke-linecap="butt" stroke-linejoin="round" />
<path d="M1087.3 1796.6l3.4 2.8m-0.3 -3.1l-2.8 3.4M1012.8 1836.8l0.4 4.4m2 -2.4l-4.4 0.4" stroke="#d8d8d4" stroke-width="2.1" fill="none"/>
<path d="M1178.5 1753.6L1169.7 1751.8L1166 1762L1163.4 1760.8L1161.2 1760.7L1158.5 1759.4L1157.7 1762.9L1151.5 1769.4L1151.6 1770.4L1148.2 1766.3L1147.2 1768.5M1175.6 1749.5L1165.2 1757.3L1162.8 1756.6L1160 1756.2L1158.4 1756.9L1156.9 1760.7L1155.7 1762.6L1148.2 1763.6L1148.7 1765.2L1145.5 1765L1142.3 1772.5" fill="none" stroke="#1a1a1a" stroke-width="0.9"/>
<path d="M1180.5 1752.1l-4 2.9m3.5 0.6l-2.9 -4M1177.4 1747.8l-3.6 3.4m3.5 0.1l-3.4 -3.6M1167.7 1757.1l-5 0.3m2.6 2.4l-0.3 -5M1168.4 1761.5l-4.9 1m2.9 2l-1 -4.9M1165.3 1756.2l-4.9 0.8m2.9 2.1l-0.8 -4.9M1165.2 1759.1l-3.6 3.5m3.5 0.1l-3.5 -3.6M1162.5 1756.1l-5 0.4m2.7 2.3l-0.4 -5M1162.7 1758.7l-3 4m3.5 -0.5l-4 -3M1160.5 1755.6l-4.3 2.5m3.4 0.9l-2.5 -4.3M1160.1 1757.5l-3.1 3.9m3.5 -0.4l-3.9 -3.1M1158.6 1758.9l-3.5 3.6m3.5 -0l-3.6 -3.5M1159.7 1761.3l-4 3m3.5 0.5l-3 -4M1158.2 1762.1l-4.9 0.9m2.9 2l-0.9 -4.9M1154 1769.1l-4.9 0.8m2.9 2.1l-0.8 -4.9M1150 1761.9l-3.6 3.4m3.5 0.1l-3.4 -3.6M1151.1 1764.5l-4.8 1.4m3.1 1.7l-1.4 -4.8M1150.2 1764.9l-4.1 2.8m3.5 0.6l-2.8 -4.1M1146.9 1762.9l-2.7 4.2m3.5 -0.7l-4.2 -2.7M1149.7 1768.3l-5 0.5m2.7 2.2l-0.5 -5M1144.2 1770.8l-3.8 3.3m3.5 0.3l-3.3 -3.8" stroke="#1e9628" stroke-width="2.4" fill="none"/>
<path d="M1172.1 1751l-4.8 1.5m3.1 1.6l-1.5 -4.8M1153.9 1769.4l-4.5 2.1m3.3 1.2l-2.1 -4.5" stroke="#d8d8d4" stroke-width="2.4" fill="none"/>
<path d="M913.8 1896.1L910.2 1895.2L907.6 1895.5L907.6 1900.7L903.1 1900.4L895.5 1897.5L897.5 1906.8L893.5 1904.3L892.5 1903.2L887 1903.5L888.1 1911.2L882.9 1914.1L878.3 1909.6M910 1890.1L909.1 1895.3L909.2 1901L905.1 1900.4L897.6 1898.8L899.2 1906.6L894.3 1901.2L896.8 1910.3L892.3 1905.6L889.1 1908.3L884 1906.6L880.8 1913.9L879.6 1913.6" fill="none" stroke="#1a1a1a" stroke-width="0.9"/>
<path d="M916.2 1895.2l-4.7 1.8m3.2 1.5l-1.8 -4.7M911.5 1888l-3 4m3.5 -0.5l-4 -3M912.6 1894.4l-4.7 1.6m3.2 1.6l-1.6 -4.7M910.5 1893.2l-2.8 4.1m3.5 -0.7l-4.1 -2.8M909 1893.5l-3 4m3.5 -0.5l-4 -3M911.5 1900l-4.6 2m3.3 1.3l-2 -4.6M909 1898.6l-2.8 4.2m3.5 -0.7l-4.2 -2.8M907 1898.7l-3.7 3.4m3.5 0.2l-3.4 -3.7M904.9 1898.7l-3.6 3.5m3.5 0l-3.5 -3.6M899.7 1897.5l-4.3 2.6m3.4 0.8l-2.6 -4.3M899.9 1906.1l-4.8 1.4m3.1 1.7l-1.4 -4.8M896.2 1899.6l-3.8 3.2m3.5 0.3l-3.2 -3.8M896 1904.2l-5 0.2m2.6 2.4l-0.2 -5M899 1909.2l-4.5 2.3m3.4 1.1l-2.3 -4.5M895 1902.6l-4.9 1.2m3 1.8l-1.2 -4.9M894.1 1903.8l-3.5 3.6m3.5 -0l-3.6 -3.5M891.2 1907.1l-4.4 2.5m3.4 0.9l-2.5 -4.4M890.2 1909.8l-4.2 2.6m3.4 0.8l-2.6 -4.2M886 1905.2l-4 3m3.5 0.5l-3 -4M885 1912.7l-4.1 2.9m3.5 0.6l-2.9 -4.1M882.9 1912.6l-4.2 2.7m3.5 0.7l-2.7 -4.2M880.4 1908.3l-4.2 2.6m3.4 0.8l-2.6 -4.2M882.1 1913.4l-5 0.4m2.7 2.3l-0.4 -5" stroke="#1e9628" stroke-width="2.4" fill="none"/>
<path d="M898 1897.2l-5 0.5m2.8 2.2l-0.5 -5M901.5 1905.8l-4.7 1.7m3.2 1.5l-1.7 -4.7M889.2 1902.3l-4.4 2.4m3.4 1l-2.4 -4.4" stroke="#d8d8d4" stroke-width="2.4" fill="none"/>
<path d="M1044 1823 a6.5 5 -28 0 0 13 -7" fill="none" stroke="#1a1a1a" stroke-width="1.2"/>
<text x="552" y="2087.1" font-size="43.5" font-weight="normal" fill="#1a1a1a" textLength="54" lengthAdjust="spacingAndGlyphs">15q</text>
<path d="M1177.3 1874l0 2.2M1177.3 1874l-1.7 1.8M1177.3 1874l3.4 0.7M1164.1 1838.2l-0.4 0.5M1164.1 1838.2l2.3 0.5M1164.1 1838.2l1.4 -2.9M1181.6 1883.3l2.1 0.9M1181.6 1883.3l0.8 2.5M1181.6 1883.3l1.1 2.7M1179.2 1860.9l-1 0.6M1179.2 1860.9l3.2 1.4M1179.2 1860.9l0.7 -3.8M1199.6 1857.9l1 2.8M1199.6 1857.9l4.9 1.7M1199.6 1857.9l-3.5 -4.8M1200.8 1849.7l3.2 -0.7M1200.8 1849.7l4.8 -1.4M1200.8 1849.7l3.8 -4.3M1187.4 1831.8l-1.6 1.2M1187.4 1831.8l2.2 -1.2M1187.4 1831.8l-2.1 -4.7M1168.7 1850.3l1.3 1.9M1168.7 1850.3l1.4 3.2M1168.7 1850.3l-1.8 4M1193.3 1871.6l-0.2 -0.3M1193.3 1871.6l1.1 -3.3M1193.3 1871.6l3.5 2M1196.3 1877.4l-1.5 1.9M1196.3 1877.4l2.1 -3.1M1196.3 1877.4l0.5 -3.8M1210.5 1853.8l3.1 -0.5M1210.5 1853.8l-0 3.8M1210.5 1853.8l4.5 -0.3M1184.3 1823.5l-2.3 -1M1184.3 1823.5l2.9 0.8M1184.3 1823.5l1 3.7M1164.3 1875.3l1.4 0.5M1164.3 1875.3l1.3 1.8M1164.3 1875.3l3.1 2.5M1180.7 1874.7l0.5 0.4M1180.7 1874.7l0.8 -0.1M1216.1 1863.1l-3.1 2.9M1216.1 1863.1l-5 0.3M1216.1 1863.1l-2.8 4.2M1170.9 1828.8l1.2 -2.4M1170.9 1828.8l-2.1 1.7M1170.9 1828.8l-2.7 1.6M1215 1853.4l-1.3 -0.2M1215 1853.4l-0.5 -3.3M1215 1853.4l0.7 3.9M1178.5 1887.7l-0.4 -1.7M1178.5 1887.7l2.4 -1.6M1178.5 1887.7l-3.2 -1.7M1159.6 1849.3l3.2 2.4M1159.6 1849.3l3 2.7M1159.6 1849.3l4.9 -1.3M1185.3 1859l-0.2 0.5M1185.3 1859l-1.6 -1.2M1185.3 1859l0.6 -3.6M1205.8 1863.5l-0.1 -0.1M1205.8 1863.5l0.3 -1.6M1205.8 1863.5l0.4 -2.8M1207.2 1877.5l-1.1 -0.7M1207.2 1877.5l-0.9 -1.5M1207.2 1877.5l-0.1 -2.6M1182.6 1846.1l-0.1 -2M1182.6 1846.1l-3.7 -1.7M1182.6 1846.1l-2.7 3.4M1206.4 1827.5l-1.1 0.1M1206.4 1827.5l-1.7 4.5M1206.4 1827.5l3.6 4.2M1196.7 1836.2l-2.6 0M1196.7 1836.2l-2.8 1.4M1196.7 1836.2l-1.3 -3.6M1204.3 1869.3l0.6 -1.2M1204.3 1869.3l-2.2 0.7M1204.3 1869.3l1.3 -2.8M1209 1839.4l2.6 2.5M1209 1839.4l-2.6 -2.9M1209 1839.4l-2.7 3M1204.7 1832l-2.2 3.2M1204.7 1832l0.6 -4.4M1204.7 1832l1.7 4.5M1185.3 1827.2l1.9 -2.9M1185.3 1827.2l3 -3.1M1179.9 1849.5l-1.3 2.2M1179.9 1849.5l-2.3 1.2M1179.9 1849.5l-2.6 0.4M1197.9 1883.6l0.6 0.4M1197.9 1883.6l-0.4 2.2M1197.9 1883.6l3.1 1.6M1170.7 1844.5l1.7 -0.6M1170.7 1844.5l-2.4 1M1170.7 1844.5l1.3 2.4M1202.2 1870l-2.6 0.5M1202.2 1870l2.8 -1.9M1199.7 1840.5l-0.5 3.2M1199.7 1840.5l-4 2.6M1199.7 1840.5l-3 -4.3M1205.8 1863.4l0.3 -1.5M1205.8 1863.4l0.5 -2.7M1193.4 1853.8l2.6 -0.7M1193.4 1853.8l1.5 -3.3M1193.4 1853.8l-4.8 0M1198.4 1874.2l-1.6 -0.7M1198.4 1874.2l1.2 -3.7M1168.2 1830.4l0.5 0.1M1168.2 1830.4l-1 1.9M1179.5 1827l0.1 0.2M1179.5 1827l-0.3 2.4M1179.5 1827l1.5 2.1M1199.7 1827.9l0.2 4.5M1199.7 1827.9l5.6 -0.3M1199.7 1827.9l-4.3 4.6M1195 1862.8l-2.1 -2.5M1195 1862.8l-3.4 -0.6M1195 1862.8l-4.1 -0.2M1202.4 1875.5l3.7 1.2M1202.4 1875.5l3.9 0.4M1202.4 1875.5l-4.1 -1.3M1189.6 1830.7l3.4 -0.8M1189.6 1830.7l-3.8 2.4M1211.1 1863.4l-0.7 -0.7M1211.1 1863.4l-1.3 2M1211.1 1863.4l1.8 2.6M1188.1 1881.3l-1.9 -1.8M1188.1 1881.3l-2.3 -3.1M1188.1 1881.3l1.8 -4.2M1206.3 1860.7l-0.2 1.2M1206.3 1860.7l-1.8 -1.1M1181.7 1832.3l-0.7 2.9M1181.7 1832.3l-0.7 -3.2M1181.7 1832.3l-2.6 -2.9M1166.6 1868.5l-0.7 1M1166.6 1868.5l-0.6 1.1M1166.6 1868.5l2.5 0.3M1175.1 1831.5l1.8 0.6M1175.1 1831.5l-0.2 -3.4M1175.1 1831.5l3.5 -1.9M1214.6 1844.2l-3 -2.4M1214.6 1844.2l-0.1 5.9M1214.6 1844.2l-4 4.7M1164.9 1865l-2 -0.9M1164.9 1865l-1.1 3.7M1164.9 1865l1.7 3.4M1197.1 1887.1l0.4 -1.3M1197.1 1887.1l-2.6 0.5M1197.1 1887.1l1.4 -3.1M1205 1845.6l-0.4 -0.2M1205 1845.6l1.2 2M1205 1845.6l0.5 2.7M1193 1829.9l2.5 2.6M1193 1829.9l0.2 -5.5M1178.6 1851.6l-1.1 -1M1178.6 1851.6l-1.4 -1.8M1172.8 1878.7l-2.2 -1.6M1172.8 1878.7l-2 -2M1172.8 1878.7l2.8 -2.9M1204.6 1845.4l1.6 2.2M1204.6 1845.4l0.9 3M1206.2 1847.6l-0.7 0.7M1206.2 1847.6l-2.2 1.4M1169.7 1835.7l-2.5 -3.4M1169.7 1835.7l-4.2 -0.4M1169.7 1835.7l-3.3 3M1165.9 1869.5l0.1 0.1M1165.9 1869.5l-1.2 1.7M1176.8 1821.6l-0.5 0.8M1176.8 1821.6l-2.5 0.1M1176.8 1821.6l3.4 -2.2M1162.8 1851.8l-0.2 0.3M1162.8 1851.8l0.7 3.2M1162.8 1851.8l0.9 3.2M1209.6 1834.5l0.4 -2.8M1209.6 1834.5l-3.2 2M1209.6 1834.5l-0.6 4.9M1206.3 1875.9l-0.2 0.8M1206.3 1875.9l0.8 -1.1M1163.7 1838.7l2.7 -0M1163.7 1838.7l1.8 -3.4M1211.8 1872.9l0.7 -0.1M1211.8 1872.9l-1.7 1M1211.8 1872.9l0 -4.1M1195.9 1818.4l-2.8 6M1195.9 1818.4l-7.6 1.6M1195.9 1818.4l-6 5.1M1173.3 1870.1l1.4 1.2M1173.3 1870.1l-0.6 -2.9M1173.3 1870.1l2.2 -2.1M1167.2 1832.3l1.5 -1.8M1167.2 1832.3l-2.7 0.7M1163.5 1854.9l0.2 -0M1163.5 1854.9l-0.9 1.1M1163.5 1854.9l-0.9 -2.9M1170.5 1877.1l0.2 -0.4M1170.5 1877.1l-3.1 0.7M1163.8 1868.7l2.1 0.8M1163.8 1868.7l2.2 0.9M1163.8 1868.7l0.9 2.5M1181.4 1874.6l-0.3 0.5M1181.4 1874.6l-1.9 -3.4M1170.9 1854.8l-0.8 -1.2M1170.9 1854.8l-0.9 -2.6M1170.9 1854.8l-4 -0.5M1168.3 1845.5l3.7 1.4M1168.3 1845.5l4.1 -1.6M1188.3 1820.1l-0.6 1.7M1188.3 1820.1l-2.8 -1.5M1188.3 1820.1l1.7 3.5M1210.6 1849l0.3 0.3M1210.6 1849l3.9 1.2M1210.6 1849l-4 1.3M1174.3 1821.7l2 0.6M1174.3 1821.7l-2.2 4.7M1199.9 1832.4l2.6 2.8M1199.9 1832.4l-4.5 0.1M1188.6 1853.9l-2.6 1.5M1188.6 1853.9l-2.2 -3.3M1188.6 1853.9l1.6 3.7M1173.6 1864.1l0.3 -0.1M1173.6 1864.1l-0.9 3.1M1173.6 1864.1l1.9 3.9M1180 1868.3l-0 1.4M1180 1868.3l-0.5 2.9M1180 1868.3l-4.5 -0.3M1191 1864.9l-0.2 -2.3M1191 1864.9l0.5 -2.7M1191 1864.9l-2.6 -1.3M1206.1 1876.8l1 -1.9M1204 1849l1.5 -0.7M1204 1849l2.6 1.3M1177.2 1849.9l0.3 0.8M1176.3 1822.4l3.9 -3M1191 1838.1l-0.9 -1M1191 1838.1l3 -0.4M1191 1838.1l3.2 -1.9M1176 1853.4l1.6 -2.7M1176 1853.4l2.6 -1.8M1176 1853.4l1.3 -3.5M1211.8 1868.8l1.5 -1.5M1211.8 1868.8l1.2 -2.8M1211.8 1868.8l-1.9 -3.4M1178.9 1844.4l-1.9 0.6M1178.9 1844.4l3.6 -0.3M1178.9 1844.4l-3.9 -0.6M1205.5 1848.3l1.1 2M1206.5 1836.5l-3.9 -1.3M1197.5 1885.8l0.9 -1.8M1185.5 1818.6l2.2 3.1M1185.5 1818.6l-1.2 4.9M1176.9 1832.2l1.7 -2.5M1176.9 1832.2l2.2 -2.7M1199.2 1843.7l-3.5 -0.6M1199.2 1843.7l-5.1 1M1182.5 1844.1l1.2 -3.2M1205.1 1854.2l1.5 -3.8M1205.1 1854.2l-1.1 -5.1M1205.1 1854.2l5.4 -0.4M1169.3 1865l-0.4 -2.4M1169.3 1865l-0.2 3.7M1169.3 1865l3.4 2.1M1172.4 1843.9l0.8 -2.4M1172.4 1843.9l2.6 -0.1M1210.4 1862.7l-0.5 2.7M1210.4 1862.7l2.6 3.3M1206.6 1850.3l-0.4 -2.7M1187.2 1824.3l1.1 -0.2M1187.2 1824.3l0.5 -2.5M1187.2 1824.3l2.7 -0.7M1166.9 1854.3l-3.2 0.6M1166.9 1854.3l3.3 -0.7M1166.9 1854.3l-3.4 0.6M1169 1862.6l-1.7 -1.3M1169 1862.6l-4.1 2.4M1173.2 1841.5l1.8 2.3M1173.2 1841.5l-2.5 3M1194.4 1868.3l-1.3 3M1194.4 1868.3l-3.4 -3.4M1185.7 1833l-4 -0.7M1167.3 1841l-0.9 -2.3M1167.3 1841l-3.2 -2.8M1167.3 1841l-3.6 -2.3M1187 1864.8l-1.5 0.5M1187 1864.8l1.4 -1.2M1187 1864.8l0.9 -2.2M1206.4 1842.4l-1.8 2.9M1206.4 1842.4l-1.4 3.1M1165.5 1835.3l-1.5 -1.4M1165.5 1835.3l-0.9 -2.3M1170.7 1876.8l-3.3 1M1204.5 1859.6l1.6 2.2M1204.5 1859.6l1.3 3.8M1195.7 1843.1l-1.6 1.6M1195.7 1843.1l-1.3 3.8M1180 1869.7l-0.4 1.5M1180 1869.7l3.9 1M1190.2 1857.6l0.5 3.5M1190.2 1857.6l2.7 2.7M1190 1823.6l-1.7 0.4M1190 1823.6l-2.2 -1.9M1164.6 1833l-0.6 0.9M1179.1 1881.5l2.5 1.8M1179.1 1881.5l-1 4.5M1179.1 1881.5l1.8 4.6M1194.9 1850.5l1.1 2.6M1194.9 1850.5l-0.5 -3.7M1214.5 1850.2l-0.9 3.1M1214.5 1850.2l-3.6 -0.9M1194.1 1844.7l0.2 2.2M1187.7 1821.7l0.6 2.3M1191.1 1890.2l-1.7 -0.3M1191.1 1890.2l-3.1 0.4M1191.1 1890.2l0.6 -3.5M1173.8 1864l-1.1 3.2M1173.8 1864l1.7 4M1194.5 1887.6l-2.1 -1.4M1194.5 1887.6l-2.8 -0.9M1183.7 1884.1l-1.2 1.6M1183.7 1884.1l-1 1.8M1174.6 1871.3l0.9 -3.3M1174.6 1871.3l2.7 2.7M1177 1845l-1.7 1.1M1177 1845l-2 -1.2M1182.7 1886l-0.2 -0.2M1182.7 1886l-1.8 0.2M1175.3 1886l-1.2 -1.3M1175.3 1886l2.8 -0M1188.5 1863.6l-0.5 -1M1188.5 1863.6l2.4 -1M1170.2 1872.3l-2.9 -0.5M1170.2 1872.3l-1.1 -3.5M1170.2 1872.3l3.1 -2.2M1210.1 1874l2.4 -1.2M1210.1 1874l-2.9 0.9M1178.6 1829.6l0.5 -0.2M1178.6 1829.6l2.4 -0.5M1178.6 1829.6l0.9 -2.4M1196 1853.1l4.8 -3.4M1180.9 1886.1l1.6 -0.3M1180.9 1886.1l-2.8 -0.1M1209.9 1865.4l3.1 0.6M1190.7 1861.1l0.9 1.1M1190.7 1861.1l0.2 1.5M1190.7 1861.1l2.2 -0.8M1210.9 1849.3l-4.3 1M1213 1866l0.3 1.4M1162.8 1864.1l1 4.6M1162.8 1864.1l4.5 -2.8M1184.6 1839.6l-0.9 1.3M1184.6 1839.6l-2.1 4.5M1184.6 1839.6l-3.6 -4.3M1185.8 1878.2l0.4 1.3M1185.8 1878.2l4.1 -1.1M1194.7 1879.2l-1.3 3.4M1194.7 1879.2l-4.8 -2.1M1199.4 1865.8l0.1 4.7M1199.4 1865.8l2.8 4.1M1199.4 1865.8l1.1 -5.2M1167.4 1871.7l-1.4 -2.2M1167.4 1871.7l-1.5 -2.3M1167.4 1871.7l-2.7 -0.5M1179.1 1829.4l1.9 -0.3M1179.1 1829.4l0.4 -2.2M1160.3 1844.1l-0.7 5.2M1160.3 1844.1l4.3 3.9M1160.3 1844.1l3.4 -5.4M1166 1869.6l-1.3 1.6M1185.9 1855.4l-2.2 2.4M1179.6 1871.2l-2.3 2.8M1213.3 1867.3l-3.4 -1.9M1198.5 1884l2.5 1.2M1182.4 1862.3l2.8 -2.8M1182.4 1862.3l3.1 3M1170.2 1853.6l-0.1 -1.3M1165.6 1877l0.1 -1.2M1165.6 1877l1.8 0.8M1179.7 1856.8l0.2 0.3M1179.7 1856.8l1.6 0.8M1179.7 1856.8l4 1M1200.6 1860.7l3.9 -1.1M1190 1837.1l3.9 0.5M1190 1837.1l4.1 -0.9M1175 1843.8l0.2 2.3M1165.7 1875.8l1.7 2M1195.4 1832.5l-1.3 3.7M1179.6 1827.2l1.4 1.9M1210 1831.7l-5.3 0.3M1205.7 1866.4l-0.7 1.7M1205.7 1866.4l1.8 1M1205.7 1866.4l0.2 -3M1186.2 1879.5l3.7 -2.4M1179.9 1857.2l1.4 0.4M1212.5 1872.8l-0.6 -4M1187.9 1862.6l2.9 0M1188 1890.6l1.4 -0.6M1188 1890.6l-2.2 -4.7M1211.6 1841.9l-5.2 0.6M1177.3 1876.2l-1.7 -0.4M1177.3 1876.2l3.4 -1.5M1189.4 1890l2.3 -3.3M1185.5 1865.3l2.9 -1.7M1185.5 1865.3l2.4 -2.7M1174.1 1884.7l4 1.3M1174.1 1884.7l4.4 3M1175.5 1868l-2.8 -0.8M1172 1846.9l0.4 -2.9M1172 1846.9l3.3 -0.7M1183.7 1857.8l1.4 1.7M1183.7 1857.8l-2.5 -0.2M1193.9 1837.6l0.2 -1.4M1162.6 1852l1.1 2.9M1207.4 1867.4l-2.5 0.7M1207.4 1867.4l2.5 -2M1183.7 1840.9l-1.1 5.2M1199.5 1870.5l-2.7 3M1191.5 1862.2l-0.7 0.4M1191.5 1862.2l1.3 -2M1192.8 1860.3l-2 2.4M1192.5 1886.2l-0.8 0.5M1192.5 1886.2l1 -3.5M1164.5 1848.1l-1.8 3.7M1164.5 1848.1l-2 4M1164.5 1848.1l3.7 -2.6M1215.7 1857.4l-2 -4.1M1215.7 1857.4l-5.2 0.2M1160.2 1857.1l2.3 -1.1M1160.2 1857.1l3.2 -2.2M1160.2 1857.1l3.5 -2.2M1169.1 1868.8l-3.1 0.8M1169.1 1868.8l-3.2 0.7M1181 1835.3l-4.1 -3.1M1181 1835.3l4.7 -2.2M1172.1 1826.4l2.7 1.8M1181.9 1822.5l-1.7 -3.1M1181.9 1822.5l-2.5 4.5M1183.9 1870.8l-4.4 0.4M1183.9 1870.8l-2.5 3.8M1193.1 1824.4l-3.2 -0.8M1193.1 1824.4l-4.8 -0.4M1202.8 1884.4l-1.8 0.7M1202.8 1884.4l-4.4 -0.4M1202.8 1884.4l-4.9 -0.9M1193.5 1882.6l-1.7 4.1M1178.1 1861.6l4.2 0.8M1178.1 1861.6l1.7 -4.4M1193.1 1871.3l3.7 2.2M1185.8 1885.9l-2 -1.8M1185.8 1885.9l-3 0M1185.8 1885.9l-3.3 -0.1M1162.5 1856l1.1 -1.1M1186.3 1850.6l-0.4 4.8M1186.3 1850.6l-3.7 -4.5M1167.3 1861.3l2 3.7M1167.3 1861.3l-2.4 3.7M1174.9 1828.2l-3.9 0.6M1164 1833.9l3.2 -1.6M1210.5 1857.6l-0.1 5.1M1181.1 1875.1l-3.9 -1.1M1160.3 1844.1l3.7 -10.2M1164.6 1833l-0.9 5.7M1165.5 1835.3l1.8 -3M1167.2 1832.3l-7 24.8M1160.2 1857.1l8 -26.7M1168.8 1830.5l-2.4 8.2M1164.5 1848.1l-2 7.9M1162.5 1856l8.4 -27.2M1170.9 1828.8l-3.6 12.3M1167.3 1841l-3.8 13.9M1163.5 1854.9l8.7 -28.5M1172.1 1826.4l-8.5 28.5M1174.3 1821.7l-6.1 23.8M1168.3 1845.5l-5.4 18.6M1162.8 1864.1l13.5 -41.8M1176.3 1822.4l-9.4 32M1166.9 1854.3l9.9 -32.8M1176.8 1821.6l-2 6.6M1170.7 1844.5l-5.8 20.5M1175.1 1831.5l-2.7 12.4M1167.3 1861.3l2.8 -9.1M1170.2 1853.6l6.7 -21.4M1166 1869.6l-1.6 5.7M1164.3 1875.3l2.3 -6.8M1170.9 1854.8l7.7 -25.2M1179.6 1827.2l-10.6 35.4M1169 1862.6l10.1 -33.2M1175 1843.8l-9.3 32M1181.9 1822.5l-16.3 54.5M1169.3 1865l-2 6.7M1167.4 1871.7l7.9 -25.6M1177 1845l-9.6 32.8M1167.4 1877.8l18.1 -59.2M1170.2 1872.3l5.7 -18.9M1185.3 1827.2l-14.7 50M1188.3 1820.1l-15 50M1173.3 1870.1l13.9 -45.8M1188.3 1824l-2.6 9M1185.7 1833l-3.3 11.1M1184.6 1839.6l-2 6.5M1179.7 1856.8l7.7 -25M1187.4 1831.8l2.6 -8.2M1190 1823.6l-10.1 33.6M1179.2 1860.9l-3.6 14.9M1175.6 1875.8l5.7 -18.2M1177.3 1874l-3.2 10.7M1177.3 1876.2l15.8 -51.8M1183.7 1857.8l-8.4 28.2M1175.3 1886l14.7 -48.9M1186.3 1850.6l6.6 -20.7M1193 1829.9l-2 8.2M1185.9 1855.4l-0.8 4.1M1180.7 1874.7l-1.5 6.8M1178.1 1886l10.5 -32.1M1188.6 1853.9l-10 33.8M1178.5 1887.7l15.7 -51.5M1194.2 1836.2l-8.7 29.1M1185.5 1865.3l-1.6 5.5M1193.9 1837.6l-6.9 27.2M1187 1864.8l-5.4 18.5M1181.6 1883.3l6.3 -20.7M1187.9 1862.6l-7 23.5M1199.7 1827.9l-17.3 57.9M1182.5 1885.8l11.9 -38.9M1182.7 1886l13 -42.9M1190.7 1861.1l-4.9 17.1M1193.4 1853.8l-2.5 8.8M1190.8 1862.6l9.1 -30.2M1191 1864.9l1.8 -4.7M1199.7 1840.5l-3.7 12.6M1202.5 1835.3l2.8 -7.6M1195 1862.8l9.8 -30.7M1204.7 1832l-11.6 39.3M1193.1 1871.3l13.3 -43.8M1206.4 1827.5l-13.1 44.1M1194.4 1868.3l-6.4 22.3M1188 1890.6l12.8 -40.9M1200.8 1849.7l-11.4 40.3M1199.6 1857.9l6.9 -21.4M1206.5 1836.5l-14.7 50.2M1204.6 1845.4l-11.1 37.3M1192.5 1886.2l2.2 -7M1204 1849l-3.5 11.7M1199.4 1865.8l-3.1 11.5M1196.3 1877.4l13.7 -45.6M1194.5 1887.6l14.5 -48.2M1206.6 1850.3l-2.1 9.3M1198.5 1884l13.1 -42.1M1211.6 1841.9l-5.3 18.8M1202.4 1875.5l1.9 -6.3M1204.3 1869.3l6.2 -20.3M1210.6 1849l-5.7 19.1M1210.9 1849.3l-9.9 35.9M1201 1885.2l9.5 -31.4M1210.5 1853.8l-3.1 13.6M1207.4 1867.4l3.1 -9.8M1210.5 1857.6l4.1 -13.4M1214.6 1844.2l-11.8 40.2M1202.8 1884.4l3.5 -8.5M1209.9 1865.4l4.6 -15.3M1215 1853.4l-4.9 20.5M1210.1 1874l1.8 -5.2M1213 1866l2.7 -8.6M1215.7 1857.4l-2.4 9.9M1212.5 1872.8l3.6 -9.7" fill="none" stroke="#1a1a1a" stroke-width="1.1"/>
<path d="M1179.8 1873.1l-5.1 1.8m3.4 1.6l-1.8 -5.1M1161.5 1837.3l5.1 1.8m-1.6 -3.4l-1.8 5.1M1183.2 1881.1l-3 4.4m3.7 -0.7l-4.4 -3M1178.4 1858.4l1.6 5.1m1.8 -3.4l-5.1 1.6M1197.1 1856.9l5 2.1m-1.4 -3.5l-2.1 5M1200.8 1847l-0 5.4m2.7 -2.7l-5.4 -0M1188.7 1829.5l-2.7 4.6m3.7 -0.9l-4.6 -2.7M1171.3 1849.5l-5.1 1.8m3.4 1.7l-1.8 -5.1M1193.9 1869l-1.1 5.3m3.2 -2.1l-5.3 -1.1M1198.9 1876.8l-5.2 1.2m3.2 2l-1.2 -5.2M1211.9 1851.4l-2.7 4.6m3.7 -1l-4.6 -2.7M1185.9 1821.4l-3.3 4.3m3.8 -0.5l-4.3 -3.3M1164.8 1872.6l-0.9 5.3m3.1 -2.2l-5.3 -0.9M1178 1874.1l5.2 1.2m-2 -3.2l-1.2 5.2M1213.8 1861.7l4.6 2.8m-0.9 -3.7l-2.8 4.6M1169.1 1826.8l3.6 4m0.2 -3.8l-4 3.6M1214.4 1850.8l1.1 5.3m2.1 -3.2l-5.3 1.1M1176.9 1885.5l3.2 4.3m0.6 -3.8l-4.3 3.2M1157.1 1848.3l5 2.1m-1.4 -3.5l-2.1 5M1187.7 1857.8l-4.8 2.5m3.6 1.1l-2.5 -4.8M1203.4 1862.2l4.8 2.5m-1.1 -3.6l-2.5 4.8M1208.7 1875.2l-3 4.4m3.7 -0.7l-4.4 -3M1179.9 1845.9l5.4 0.4m-2.5 -2.9l-0.4 5.4M1206.8 1824.9l-0.7 5.3m3 -2.3l-5.3 -0.7M1195.3 1833.9l2.9 4.5m0.8 -3.7l-4.5 2.9M1203.4 1866.7l1.8 5.1m1.6 -3.4l-5.1 1.8M1209 1836.7l0.2 5.4m2.6 -2.8l-5.4 0.2M1202.1 1831.4l5.2 1.3m-2 -3.3l-1.3 5.2M1185.8 1824.5l-0.9 5.3m3.1 -2.2l-5.3 -0.9M1179.4 1846.8l0.9 5.3m2.2 -3.1l-5.3 0.9M1197.7 1880.9l0.3 5.4m2.5 -2.9l-5.4 0.3M1168.3 1843.3l4.8 2.4m-1.2 -3.6l-2.4 4.8M1199.9 1868.6l4.6 2.8m-0.9 -3.7l-2.8 4.6M1200.9 1838.1l-2.3 4.9m3.6 -1.3l-4.9 -2.3M1206.9 1861l-2.3 4.9m3.6 -1.3l-4.9 -2.3M1190.7 1853.5l5.3 0.6m-2.3 -3l-0.6 5.3M1201 1873.8l-5.3 0.9m3.1 2.2l-0.9 -5.3M1170.1 1828.5l-3.8 3.8m3.8 -0l-3.8 -3.8M1179 1824.4l0.9 5.3m2.2 -3.1l-5.3 0.9M1202.4 1827.8l-5.4 0.2m2.8 2.6l-0.2 -5.4M1197.6 1862.4l-5.3 0.8m3.1 2.3l-0.8 -5.3M1201.7 1873l1.6 5.1m1.8 -3.4l-5.1 1.6M1188.2 1828.4l2.8 4.6m0.9 -3.7l-4.6 2.8M1208.5 1862.7l5.2 1.4m-1.9 -3.3l-1.4 5.2M1190.4 1879.8l-4.6 2.8m3.7 0.9l-2.8 -4.6M1203.6 1860.1l5.3 1.1m-2.1 -3.2l-1.1 5.3M1184.4 1832.1l-5.4 0.5m2.9 2.4l-0.5 -5.4M1168.8 1866.8l-4.3 3.2m3.8 0.5l-3.2 -4.3M1177 1829.6l-3.7 3.9m3.8 -0.1l-3.9 -3.7M1212.1 1843.3l5.1 1.8m-1.6 -3.4l-1.8 5.1M1164.7 1862.3l0.3 5.4m2.5 -2.8l-5.4 0.3M1199.8 1886.9l-5.4 0.4m2.9 2.5l-0.4 -5.4M1205.4 1842.9l-0.8 5.3m3 -2.3l-5.3 -0.8M1195.6 1829.8l-5.4 0.1m2.7 2.6l-0.1 -5.4M1178.4 1849l0.4 5.4m2.5 -2.9l-5.4 0.4M1171.9 1876.2l1.7 5.1m1.7 -3.4l-5.1 1.7M1203.9 1842.8l1.4 5.2m1.9 -3.3l-5.2 1.4M1205 1845.2l2.4 4.8m1.2 -3.6l-4.8 2.4M1167.1 1835l5.2 1.3m-2 -3.3l-1.3 5.2M1167.8 1867.5l-3.7 3.9m3.8 -0.1l-3.9 -3.7M1179.4 1820.8l-5.1 1.6m3.4 1.8l-1.6 -5.1M1162.6 1849.1l0.4 5.4m2.5 -2.9l-5.4 0.4M1207.3 1833.1l4.6 2.8m-0.9 -3.7l-2.8 4.6M1208.2 1874l-3.8 3.8m3.8 -0l-3.8 -3.8M1165.1 1836.5l-3 4.5m3.7 -0.7l-4.5 -3M1214.5 1872.6l-5.3 0.6m3 2.4l-0.6 -5.3M1198.5 1817.9l-5.3 1.1m3.2 2.1l-1.1 -5.3M1173.4 1867.4l-0.3 5.4m2.8 -2.6l-5.4 -0.3M1167.7 1829.7l-0.9 5.3m3.1 -2.2l-5.3 -0.9M1164.3 1852.4l-1.6 5.1m3.4 -1.7l-5.1 -1.6M1168.5 1875.4l4.1 3.5m-0.3 -3.8l-3.5 4.1M1161.2 1867.8l5.1 1.7m-1.7 -3.4l-1.7 5.1M1179.5 1872.6l3.7 3.9m0.1 -3.8l-3.9 3.7M1173.5 1854.2l-5.2 1.3m3.3 2l-1.3 -5.2M1170 1843.4l-3.4 4.1m3.8 -0.3l-4.1 -3.4M1185.6 1820l5.4 0.1m-2.6 -2.7l-0.1 5.4M1208.7 1847l3.7 3.9m0.1 -3.8l-3.9 3.7M1175.8 1819.5l-3 4.5m3.7 -0.7l-4.5 -3M1201.8 1830.5l-3.6 4m3.8 -0.2l-4 -3.6M1191.2 1853.4l-5.3 1m3.1 2.1l-1 -5.3M1174.3 1861.5l-1.4 5.2m3.3 -1.9l-5.2 -1.4M1181.8 1866.3l-3.5 4.1m3.8 -0.3l-4.1 -3.5M1190 1862.5l2.1 5m1.4 -3.5l-5 2.1M1208.5 1875.6l-4.8 2.3m3.6 1.3l-2.3 -4.8M1201.5 1848.1l5 1.9m-1.6 -3.5l-1.9 5M1178.4 1847.4l-2.3 4.9m3.6 -1.3l-4.9 -2.3M1178.5 1820.8l-4.4 3m3.7 0.7l-3 -4.4M1188.7 1836.7l4.6 2.8m-0.9 -3.7l-2.8 4.6M1176.5 1850.8l-1 5.3m3.2 -2.1l-5.3 -1M1210.7 1866.3l2.2 4.9m1.3 -3.6l-4.9 2.2M1181.2 1843.1l-4.7 2.7m3.7 1l-2.7 -4.7M1207.9 1847.1l-4.7 2.5m3.6 1.1l-2.5 -4.7M1206 1833.9l1 5.3m2.1 -3.2l-5.3 1M1197.1 1883.2l0.9 5.3m2.2 -3.1l-5.3 0.9M1182.8 1818.3l5.4 0.5m-2.4 -2.9l-0.5 5.4M1177.7 1829.6l-1.6 5.1m3.4 -1.8l-5.1 -1.6M1201.8 1842.9l-5.1 1.6m3.4 1.8l-1.6 -5.1M1182.4 1841.4l0.2 5.4m2.6 -2.8l-5.4 0.2M1205.9 1851.6l-1.6 5.1m3.4 -1.8l-5.1 -1.6M1171.4 1863.3l-4.2 3.4m3.8 0.4l-3.4 -4.2M1174.9 1843.1l-5.1 1.6m3.4 1.7l-1.6 -5.1M1207.8 1861.9l5.2 1.5m-1.8 -3.3l-1.5 5.2M1206.5 1847.7l0.2 5.4m2.6 -2.8l-5.4 0.2M1189.9 1824.1l-5.4 0.3m2.8 2.6l-0.3 -5.4M1167.6 1851.8l-1.5 5.2m3.3 -1.8l-5.2 -1.5M1171.5 1861.7l-5.1 1.8m3.4 1.6l-1.8 -5.1M1175.7 1840.4l-4.9 2.1m3.5 1.4l-2.1 -4.9M1194.1 1865.6l0.6 5.3m2.3 -3l-5.3 0.6M1183.2 1832.2l5.1 1.6m-1.7 -3.4l-1.6 5.1M1165.8 1838.8l3 4.5m0.7 -3.7l-4.5 3M1185.2 1862.8l3.5 4.1m0.3 -3.8l-4.1 3.5M1203.7 1842.3l5.4 0.3m-2.6 -2.8l-0.3 5.4M1163.6 1833.4l3.8 3.8m-0 -3.8l-3.8 3.8M1170.4 1874.1l0.7 5.3m2.3 -3l-5.3 0.7M1206.5 1857.8l-4 3.6m3.8 0.2l-3.6 -4M1196.2 1840.4l-0.9 5.3m3.1 -2.2l-5.3 -0.9M1178.6 1867.4l2.8 4.6m0.9 -3.7l-4.6 2.8M1192.6 1856.4l-4.9 2.3m3.6 1.3l-2.3 -4.9M1189.1 1821.1l1.8 5.1m1.6 -3.4l-5.1 1.8M1166.8 1831.5l-4.5 2.9m3.7 0.8l-2.9 -4.5M1202.9 1826.6l5 2m-1.5 -3.5l-2 5M1176.6 1880.5l5 2m-1.5 -3.5l-2 5M1195.8 1848l-1.8 5.1m3.4 -1.6l-5.1 -1.8M1211.9 1849.3l5.1 1.6m-1.8 -3.4l-1.6 5.1M1196.8 1844.2l-5.3 0.9m3.1 2.2l-0.9 -5.3M1185.7 1819.9l4 3.6m-0.2 -3.8l-3.6 4M1190.5 1887.6l1.2 5.2m2 -3.2l-5.2 1.2M1176 1862.4l-4.4 3.1m3.8 0.6l-3.1 -4.4M1193.2 1885.3l2.8 4.6m0.9 -3.7l-4.6 2.8M1182.3 1881.9l2.9 4.5m0.8 -3.7l-4.5 2.9M1172 1870.6l5.2 1.3m-1.9 -3.3l-1.3 5.2M1179.2 1843.5l-4.4 3.1m3.7 0.6l-3.1 -4.4M1181 1883.9l3.4 4.2m0.4 -3.8l-4.2 3.4M1175 1883.3l0.6 5.3m2.4 -3l-5.3 0.6M1185.8 1863.4l5.4 0.4m-2.5 -2.9l-0.4 5.4M1172.1 1870.3l-3.7 3.9m3.8 -0.1l-3.9 -3.7M1207.5 1873.1l5.1 1.7m-1.7 -3.4l-1.7 5.1M1176.3 1828.3l4.6 2.8m-0.9 -3.7l-2.8 4.6M1197.2 1850.7l-2.4 4.8m3.6 -1.2l-4.8 -2.4M1183.2 1884.7l-4.6 2.8m3.7 0.9l-2.8 -4.6M1212.4 1864.5l-5 1.9m3.5 1.6l-1.9 -5M1192.6 1859.2l-3.8 3.8m3.8 0l-3.8 -3.8M1211.7 1846.7l-1.5 5.2m3.3 -1.8l-5.2 -1.5M1214.8 1864l-3.7 3.9m3.8 -0.1l-3.9 -3.7M1163.5 1861.5l-1.3 5.2m3.2 -2l-5.2 -1.3M1182.1 1838.5l4.9 2.1m-1.4 -3.5l-2.1 4.9M1188.4 1877.6l-5.3 1.1m3.2 2.1l-1.1 -5.3M1195.5 1876.7l-1.6 5.1m3.4 -1.8l-5.1 -1.6M1201.4 1864l-4 3.6m3.8 0.2l-3.6 -4M1188.6 1821.4l-0.7 5.3m3 -2.3l-5.3 -0.7M1164.7 1871.6l5.4 0.3m-2.5 -2.8l-0.3 5.4M1176.9 1827.9l4.4 3.1m-0.6 -3.7l-3.1 4.4M1162.9 1843.7l-5.3 0.9m3.1 2.2l-0.9 -5.3M1167.1 1867.1l-2.2 4.9m3.6 -1.3l-4.9 -2.2M1186.2 1852.7l-0.6 5.3m3 -2.4l-5.3 -0.6M1192.5 1844.9l3.7 3.9m0.1 -3.8l-3.9 3.7M1181.1 1869l-3 4.4m3.7 -0.7l-4.4 -3M1210.6 1867.1l5.4 0.4m-2.5 -2.9l-0.4 5.4M1197.4 1881.5l2.1 4.9m1.4 -3.5l-4.9 2.1M1184.3 1860.5l-3.9 3.7m3.8 0.1l-3.7 -3.9M1172.7 1852.7l-5.1 1.8m3.4 1.7l-1.8 -5.1M1166.7 1874.5l-2.1 4.9m3.5 -1.4l-4.9 -2.1M1180.6 1854.3l-1.8 5.1m3.4 -1.6l-5.1 -1.8M1170.8 1828.7l-4 3.6m3.8 0.2l-3.6 -4M1200.5 1858l0.1 5.4m2.7 -2.7l-5.4 0.1M1201.5 1832.8l2 5m1.5 -3.5l-5 2M1187.4 1836.4l5.2 1.3m-1.9 -3.3l-1.3 5.2M1168.4 1850.2l3.4 4.1m0.3 -3.8l-4.1 3.4M1177 1842l-4 3.6m3.8 0.2l-3.6 -4M1163.2 1874.8l5 2m-1.5 -3.5l-2 5M1183.1 1883.2l-1.3 5.2m3.3 -2l-5.2 -1.3M1198.1 1832.1l-5.3 1m3.1 2.2l-1 -5.3M1180.7 1824.8l-2.4 4.8m3.6 -1.2l-4.8 -2.4M1209 1829.2l2 5m1.5 -3.5l-5 2M1208.3 1866l-5.3 0.9m3.1 2.2l-0.9 -5.3M1185.2 1877l1.9 5m1.6 -3.5l-5 1.9M1181.2 1854.8l-2.7 4.6m3.7 -1l-4.6 -2.7M1211.9 1870.2l1.1 5.3m2.1 -3.2l-5.3 1.1M1185.5 1861.5l4.9 2.3m-1.3 -3.6l-2.3 4.9M1190.1 1888.9l-4.2 3.4m3.8 0.4l-3.4 -4.2M1213.5 1840l-3.8 3.8m3.8 -0l-3.8 -3.8M1179.9 1875.4l-5.1 1.6m3.4 1.8l-1.6 -5.1M1187.1 1888.5l4.5 2.9m-0.8 -3.7l-2.9 4.5M1187.6 1863.6l-4.2 3.3m3.8 0.4l-3.3 -4.2M1175.9 1882.8l-3.7 3.9m3.8 -0.1l-3.9 -3.7M1175.8 1865.3l-0.7 5.3m3 -2.3l-5.3 -0.7M1174.5 1846l-5.1 1.8m3.4 1.7l-1.8 -5.1M1186.4 1857.3l-5.3 1m3.1 2.1l-1 -5.3M1195.6 1835.5l-3.3 4.3m3.8 -0.5l-4.3 -3.3M1163.7 1849.6l-2.3 4.9m3.6 -1.3l-4.9 -2.3M1208.2 1864.8l-1.5 5.2m3.3 -1.8l-5.2 -1.5M1182.8 1838.3l1.7 5.1m1.7 -3.4l-5.1 1.7M1162.9 1869.2l3.5 4m0.3 -3.8l-4 3.5M1198.2 1868.2l2.6 4.7m1 -3.7l-4.7 2.6M1178.3 1828.9l5.4 0.4m-2.5 -2.9l-0.4 5.4M1189.1 1861.1l4.9 2.2m-1.4 -3.5l-2.2 4.9M1195.5 1859.8l-5.3 1m3.1 2.2l-1 -5.3M1189.9 1885.5l5.2 1.4m-1.9 -3.3l-1.4 5.2M1166.8 1846.6l-4.5 2.9m3.7 0.8l-2.9 -4.5M1178.8 1856.5l4.9 2.2m-1.4 -3.5l-2.2 4.9M1215.2 1854.7l1 5.3m2.1 -3.1l-5.3 1M1161.1 1854.6l-1.8 5.1m3.4 -1.7l-5.1 -1.8M1211.9 1851.2l3.4 4.2m0.4 -3.8l-4.2 3.4M1164.8 1877.2l5.3 1.1m-2.1 -3.2l-1.1 5.3M1171.6 1867.8l-5.1 1.8m3.4 1.6l-1.8 -5.1M1179.7 1832.9l2.7 4.6m1 -3.7l-4.6 2.7M1199.4 1872.7l-5.1 1.6m3.4 1.7l-1.6 -5.1M1174.6 1825.4l-5 2m3.5 1.5l-2 -5M1190.1 1860l1.6 5.1m1.8 -3.4l-5.1 1.6M1179.8 1820.8l4.2 3.3m-0.5 -3.8l-3.3 4.2M1185.4 1868.5l-2.8 4.6m3.7 -0.9l-4.6 -2.8M1164.4 1836.8l3.9 3.7m-0.1 -3.8l-3.7 3.9M1173.1 1844.5l4.3 3.3m-0.5 -3.8l-3.3 4.3M1195.8 1823.9l-5.3 1m3.1 2.1l-1 -5.3M1205.5 1884l-5.3 0.8m3.1 2.3l-0.8 -5.3M1195.2 1880.6l-3.5 4.1m3.8 -0.3l-4.1 -3.5M1175.5 1861.2l5.3 0.7m-2.3 -3l-0.7 5.3M1196.4 1834.7l-4.4 3.1m3.7 0.7l-3.1 -4.4M1178.3 1848.1l-1.5 5.2m3.3 -1.9l-5.2 -1.5M1171 1865.1l3.4 4.1m0.4 -3.8l-4.1 3.4M1201.7 1882.6l-1.5 5.2m3.3 -1.8l-5.2 -1.5M1187.3 1876.4l5.2 1.4m-1.9 -3.3l-1.4 5.2M1205.4 1859.3l1.3 5.2m2 -3.3l-5.2 1.3M1195.7 1870.4l-5.1 1.8m3.4 1.6l-1.8 -5.1M1184.7 1883.4l2.1 5m1.4 -3.5l-5 2.1M1161.5 1853.5l2.1 4.9m1.4 -3.5l-4.9 2.1M1165.8 1853.3l-4.3 3.2m3.8 0.5l-3.2 -4.3M1187.4 1858l-4.5 3m3.7 0.7l-3 -4.5M1178.4 1817.4l3.6 4m0.2 -3.8l-4 3.6M1176.7 1883.7l2.8 4.6m0.9 -3.7l-4.6 2.8M1183.7 1850l5.3 1.1m-2.1 -3.2l-1.1 5.3M1209.8 1874.3l-5.2 1.2m3.2 2l-1.2 -5.2M1189.2 1885.7l5 2m-1.5 -3.5l-2 5M1169.6 1859.9l-4.6 2.8m3.7 0.9l-2.8 -4.6M1178.2 1875.6l-5.4 0.5m2.9 2.4l-0.5 -5.4M1172.2 1828.1l5.4 0.2m-2.6 -2.8l-0.2 5.4M1166.4 1832.7l-4.8 2.4m3.6 1.2l-2.4 -4.8M1213 1856.6l-5 1.9m3.5 1.6l-1.9 -5M1183.8 1874.5l-5.3 1.1m3.2 2.1l-1.1 -5.3M1202.2 1867.9l5.4 0.4m-2.5 -2.9l-0.4 5.4" stroke="#ffd700" stroke-width="2.6" fill="none"/>
<path d="M1192 1815L1190 1830" fill="none" stroke="#1a1a1a" stroke-width="1.2" stroke-linecap="butt" stroke-linejoin="round" />
<path d="M1183 1893L1181 1903.9L1178 1920" fill="none" stroke="#1a1a1a" stroke-width="1.2" stroke-linecap="butt" stroke-linejoin="round" />
<path d="M1182.7 1902.2l-3.4 3.7m3.5 -0.1l-3.7 -3.4" stroke="#ffd700" stroke-width="2.4" fill="none"/>
<path d="M1177.6 1921L1176 1935.5" fill="none" stroke="#ffd700" stroke-width="6.5" stroke-linecap="butt" stroke-linejoin="round" />
<path d="M1181 1910.7l-3 2.7m2.8 0.2l-2.7 -3" stroke="#ffd700" stroke-width="1.9" fill="none"/>
<path d="M1192.9 1897.9L1204.3 1898.8L1197.8 1908.2Z" fill="#1a1a1a"/>
<text x="1136.8" y="1981" font-size="43.5" font-weight="normal" fill="#1a1a1a" textLength="54.2" lengthAdjust="spacingAndGlyphs">13p</text>
<path d="M1273.4 1782L1291 1786L1312.7 1793L1324.5 1795.9L1410 1826L1430 1830.5" fill="none" stroke="#1a1a1a" stroke-width="1.3" stroke-linecap="butt" stroke-linejoin="round" />
<path d="M1324.5 1795.9L1410 1826" fill="none" stroke="#e6460f" stroke-width="6.5" stroke-linecap="butt" stroke-linejoin="round" />
<path d="M1287.8 1785.1L1294.5 1787" fill="none" stroke="#e6460f" stroke-width="5.5" stroke-linecap="butt" stroke-linejoin="round" />
<path d="M1308.9 1791.8L1311.3 1792.5" fill="none" stroke="#e6460f" stroke-width="5.5" stroke-linecap="butt" stroke-linejoin="round" />
<path d="M1313.9 1793.3L1316.3 1793.9" fill="none" stroke="#e6460f" stroke-width="5.5" stroke-linecap="butt" stroke-linejoin="round" />
<path d="M1420.7 1828.4L1429.5 1830.4" fill="none" stroke="#e6460f" stroke-width="5.5" stroke-linecap="butt" stroke-linejoin="round" />
<path d="M1415.2 1825l1.6 4.1m1.3 -2.8l-4.1 1.6" stroke="#d8d8d4" stroke-width="2.1" fill="none"/>
<text x="1442" y="1857.3" font-size="43.5" font-weight="normal" fill="#1a1a1a" textLength="53.6" lengthAdjust="spacingAndGlyphs">21q</text>
<path d="M1273.4 1784L1281.3 1794L1292.3 1809.6L1303 1823.4L1328.4 1860.7L1367.7 1919.6L1411 1974.6L1497 2095.9L1509 2118.2L1572.5 2207.6L1590.7 2234.4" fill="none" stroke="#1a1a1a" stroke-width="1.3" stroke-linecap="butt" stroke-linejoin="round" />
<path d="M1281.3 1794L1292.3 1809.6" fill="none" stroke="#ffd700" stroke-width="6.5" stroke-linecap="butt" stroke-linejoin="round" />
<path d="M1420.3 1987.6L1497 2095.9" fill="none" stroke="#ffd700" stroke-width="6.5" stroke-linecap="butt" stroke-linejoin="round" />
<path d="M1509 2118.2L1572.5 2207.6" fill="none" stroke="#ffd700" stroke-width="6.5" stroke-linecap="butt" stroke-linejoin="round" />
<path d="M1575.5 2212L1590.7 2234.4" fill="none" stroke="#ffd700" stroke-width="6.5" stroke-linecap="butt" stroke-linejoin="round" />
<path d="M1569 2209.5 l9 -3.5" stroke="#fff" stroke-width="3.2"/>
<path d="M1301.8 1821.7L1304.2 1825.1" fill="none" stroke="#ffd700" stroke-width="6.3" stroke-linecap="butt" stroke-linejoin="round" />
<path d="M1349.8 1892.8L1352.1 1896.3" fill="none" stroke="#ffd700" stroke-width="6.3" stroke-linecap="butt" stroke-linejoin="round" />
<path d="M1360.8 1909.3L1363.1 1912.8" fill="none" stroke="#ffd700" stroke-width="6.3" stroke-linecap="butt" stroke-linejoin="round" />
<path d="M1373.8 1927.3L1376.4 1930.6" fill="none" stroke="#ffd700" stroke-width="6.3" stroke-linecap="butt" stroke-linejoin="round" />
<path d="M1386.5 1943.5L1389.1 1946.8" fill="none" stroke="#ffd700" stroke-width="6.3" stroke-linecap="butt" stroke-linejoin="round" />
<path d="M1310.5 1837.8L1313.8 1842.6L1315.8 1843.8L1320.1 1850L1329.7 1857.3L1328.4 1859.2L1329.3 1866.8L1332.5 1866.4L1337.5 1865.1L1337.5 1867.3L1331.2 1872.4M1312.6 1842.3L1317.7 1841.1L1316.4 1849.6L1325.9 1849.1L1331.2 1857.2L1330.4 1861.7L1336 1863.8L1333.8 1865.7L1333.2 1869.3L1337.2 1867.9L1332.4 1872" fill="none" stroke="#1a1a1a" stroke-width="0.9"/>
<path d="M1309 1835.9l2.8 3.8m0.5 -3.3l-3.8 2.8M1311.4 1840.3l2.3 4.1m0.9 -3.2l-4.1 2.3M1311.8 1841.4l4.1 2.4m-0.8 -3.3l-2.4 4.1M1316.2 1839.3l3.1 3.6m0.2 -3.4l-3.6 3.1M1314.4 1848.4l4 2.5m-0.8 -3.3l-2.5 4M1319.4 1847.8l1.5 4.5m1.5 -3l-4.5 1.5M1324.9 1847l2 4.3m1.1 -3.2l-4.3 2M1327.9 1855.8l3.7 3m-0.4 -3.3l-3 3.7M1330.4 1855l1.6 4.5m1.5 -3l-4.5 1.6M1327.3 1857.1l2.2 4.2m1 -3.2l-4.2 2.2M1329.7 1859.4l1.5 4.5m1.5 -3l-4.5 1.5M1328.6 1864.6l1.4 4.6m1.6 -3l-4.6 1.4M1335 1861.7l2.2 4.2m1 -3.2l-4.2 2.2M1331.3 1864.4l2.5 4.1m0.8 -3.3l-4.1 2.5M1333.2 1863.4l1.1 4.6m1.8 -2.9l-4.6 1.1M1336.6 1862.9l1.9 4.4m1.2 -3.1l-4.4 1.9M1332.8 1867l0.9 4.7m1.9 -2.8l-4.7 0.9M1337 1865l1 4.6m1.8 -2.8l-4.6 1M1330.9 1870.1l0.6 4.7m2.1 -2.6l-4.7 0.6M1331.1 1870l2.6 4m0.7 -3.3l-4 2.6" stroke="#ffd700" stroke-width="2.3" fill="none"/>
<path d="M1314.2 1842l3.2 3.5m0.2 -3.4l-3.5 3.2M1336.1 1865.9l2.3 4.2m1 -3.2l-4.2 2.3" stroke="#d8d8d4" stroke-width="2.3" fill="none"/>
<path d="M1379.4 1937L1385.9 1942.1L1389.2 1946.7L1394.5 1947.6L1391.7 1953.5L1393.8 1952.4L1392.2 1955.3L1400.4 1953.5L1396.8 1957L1393.8 1962.5L1406.8 1960L1404.7 1964.8L1406.7 1970L1413.8 1967.4L1407.4 1976M1384.8 1940.2L1385.4 1949L1391 1947.1L1393.6 1950.3L1392.4 1953.2L1392.9 1953.2L1396.4 1955.3L1396.6 1956.6L1395.3 1960.8L1398.4 1961.9L1397.9 1969.6L1407.2 1966.8L1405.9 1972.6L1408.6 1973.2L1411.9 1975.5" fill="none" stroke="#1a1a1a" stroke-width="0.9"/>
<path d="M1378.6 1934.7l1.6 4.5m1.5 -3l-4.5 1.6M1382.7 1939.1l4.2 2.3m-0.9 -3.2l-2.3 4.2M1383.5 1947.6l3.9 2.7m-0.6 -3.3l-2.7 3.9M1387.3 1945.3l3.8 2.9m-0.5 -3.3l-2.9 3.8M1389 1945.8l4 2.5m-0.7 -3.3l-2.5 4M1392.7 1946.1l3.6 3.1m-0.3 -3.3l-3.1 3.6M1392.7 1948.1l1.8 4.4m1.3 -3.1l-4.4 1.8M1390.9 1951.2l1.6 4.5m1.4 -3l-4.5 1.6M1392.2 1950.9l1.4 4.5m1.6 -3l-4.5 1.4M1391.2 1953.2l2.1 4.3m1.1 -3.2l-4.3 2.1M1395.9 1953l1.1 4.6m1.8 -2.9l-4.6 1.1M1399.1 1951.5l2.7 3.9m0.6 -3.3l-3.9 2.7M1395.1 1954.7l2.9 3.8m0.5 -3.3l-3.8 2.9M1395.1 1955.3l3.3 3.4m0.1 -3.4l-3.4 3.3M1393.5 1959.4l3.7 2.9m-0.4 -3.3l-2.9 3.7M1392.4 1960.5l2.8 3.8m0.5 -3.3l-3.8 2.8M1397.9 1959.6l1 4.6m1.8 -2.8l-4.6 1M1405.6 1958l2.4 4.1m0.9 -3.2l-4.1 2.4M1395.9 1968.4l4.1 2.4m-0.9 -3.2l-2.4 4.1M1405.5 1965.2l3.5 3.2m-0.1 -3.4l-3.2 3.5M1404.8 1968.5l3.8 2.9m-0.4 -3.3l-2.9 3.8M1404 1971.3l3.8 2.8m-0.5 -3.3l-2.8 3.8M1411.6 1966.4l4.4 1.9m-1.3 -3.1l-1.9 4.4M1406.8 1971.7l3.6 3.1m-0.3 -3.3l-3.1 3.6M1405.5 1974.6l3.8 2.8m-0.5 -3.3l-2.8 3.8M1410.7 1973.5l2.5 4.1m0.8 -3.3l-4.1 2.5" stroke="#ffd700" stroke-width="2.3" fill="none"/>
<path d="M1384.8 1940l2.3 4.2m0.9 -3.2l-4.2 2.3M1391.2 1951.1l2.4 4.1m0.9 -3.2l-4.1 2.4M1391.7 1951.2l4.2 2.2m-1 -3.2l-2.2 4.2M1402.7 1963.5l4 2.6m-0.7 -3.3l-2.6 4" stroke="#d8d8d4" stroke-width="2.3" fill="none"/>
<path d="M1505.6 2107.6l-4.2 0.7m2.4 1.7l-0.7 -4.2" stroke="#ffd700" stroke-width="2" fill="none"/>
<path d="M1503.5 2110.8l4 0.4m-1.8 -2.2l-0.4 4" stroke="#d8d8d4" stroke-width="1.9" fill="none"/>
<path d="M1585.4 2200L1591.1 2190L1596.9 2200Z" fill="#1a1a1a"/>
<text x="1597.6" y="2278.8" font-size="43.5" font-weight="normal" fill="#1a1a1a" textLength="53.9" lengthAdjust="spacingAndGlyphs">13q</text>
<rect x="1773.4" y="0.8" width="786" height="2284.2" fill="#fff" stroke="#2a2a2a" stroke-width="1.4"/>
<path d="M1773.4 762H2560M1773.4 1523H2560" stroke="#2a2a2a" stroke-width="1.4"/>
<rect x="2558.6" y="0" width="1.4" height="2287" fill="#2a2a2a"/>
<path d="M2154.7 2L2178.3 36" fill="none" stroke="#8a807c" stroke-width="2.5" stroke-linecap="butt" stroke-linejoin="round" stroke-dasharray="4.2 5.6"/>
<path d="M2522 70L2557.3 47" fill="none" stroke="#8a807c" stroke-width="2.5" stroke-linecap="butt" stroke-linejoin="round" stroke-dasharray="4.2 5.6"/>
<path d="M2249 135.5L2265 156L2273.8 165.8L2276.4 169.1L2277.5 170.9L2279.4 174.9L2281.1 179.3L2282.4 184.1L2283.7 191.4L2284 196.4L2283.7 201.6L2282.8 207.2L2280.9 215.4L2278.4 223.7L2276.2 227.8L2272.6 232.5" fill="none" stroke="#585c62" stroke-width="2.2" stroke-linecap="butt" stroke-linejoin="round" />
<path d="M2368 161L2348.9 167.4L2342.7 169.8L2337.6 172.2L2333.1 174.6L2328.8 177.2L2315.1 186.3L2303.5 193.5L2297.7 197.6L2292.5 201.9L2290.2 204.2L2288.1 206.8L2286.1 209.6L2282.3 216L2274.5 231.7" fill="none" stroke="#585c62" stroke-width="2.2" stroke-linecap="butt" stroke-linejoin="round" />
<path d="M2251 271L2247.3 280.1L2245.4 283.7L2243 286.7L2240.3 289L2235.6 291.8L2227.5 295.7L2192 314.2" fill="none" stroke="#585c62" stroke-width="2.2" stroke-linecap="butt" stroke-linejoin="round" />
<path d="M2251 271L2246.1 281.8L2244.6 286.3L2244.2 288.6L2244 290.7L2244.5 295L2245 297.2L2246.6 301.7L2251.8 313.7L2253.4 316.5L2256.7 321.4L2259 326L2261.1 332.9L2264.7 348.8" fill="none" stroke="#585c62" stroke-width="2.2" stroke-linecap="butt" stroke-linejoin="round" />
<path d="M2066.4 450.5L2063.2 454.3L2060 457.3L2050.2 464.5L2040 471.2L2035 474L2030.1 476.1L2025 477.8L2015.3 480.5L2011.4 482L2006.8 484.6L2000.4 489.8" fill="none" stroke="#585c62" stroke-width="2.2" stroke-linecap="butt" stroke-linejoin="round" />
<path d="M2058.5 458.4L2058.6 471.4L2059 478.2L2059.8 484.8L2060.5 487.8L2061.4 490.7L2063.9 496.4L2073 512.9L2079.1 526L2080.6 529.8L2081.6 533.3L2082.4 538.2L2082.5 541.1L2082.1 543.8L2081.3 546.4L2080 548.7L2079 549.8L2076.3 552L2073.1 554.1L2066.4 557.7" fill="none" stroke="#585c62" stroke-width="2.2" stroke-linecap="butt" stroke-linejoin="round" />
<path d="M2066.4 557.7L2075 554L2079.5 552.2L2084 551L2087.9 550.6L2089.8 550.7L2093.5 551.3L2103.3 554L2133.1 561.3" fill="none" stroke="#585c62" stroke-width="2.2" stroke-linecap="butt" stroke-linejoin="round" />
<path d="M2181.5 562L2198.6 560.9L2205.6 560L2208.8 559.4L2214.4 557.5L2219.6 554.9L2224.7 551.9L2229.3 548.5L2233.5 544.7L2237 540.7L2238.5 538.4L2241.2 533.5L2243.5 528.3L2247.7 517.4L2249 512.3L2250.2 505.5" fill="none" stroke="#585c62" stroke-width="2.2" stroke-linecap="butt" stroke-linejoin="round" />
<path d="M2250.2 505.5L2247.9 515.4L2247.7 517.5L2247.8 519.5L2248.2 521.4L2249 523.2L2250.2 524.9L2253.5 528.2L2257.8 531.4L2262.7 534.5L2267.9 537.5L2273.4 540.2L2279.7 542.5L2293.3 546.9L2299.4 549.3L2302 550.7L2304.4 552.3L2308.9 556.1L2312.8 560.2L2319.7 568.3" fill="none" stroke="#585c62" stroke-width="2.2" stroke-linecap="butt" stroke-linejoin="round" />
<path d="M2181.5 562L2190.5 562.7L2194.9 563.5L2196.9 564.2L2198.7 565.2L2200 566.4L2201 568L2201.7 569.9L2202.6 574.5L2203.5 587.6L2205.8 604.4L2207.2 611.3L2208.6 615.7L2210.6 620.1L2217.6 632.4" fill="none" stroke="#585c62" stroke-width="2.2" stroke-linecap="butt" stroke-linejoin="round" />
<path d="M2243 658L2249.3 656.4L2252.6 655.3L2255.6 653.8L2256.9 652.8L2258 651.6L2259 650.2L2262.4 643.1L2264.3 639.7L2265.4 638.2L2266.7 637L2268.2 636L2270 635.1L2274.1 633.6L2284.4 631" fill="none" stroke="#585c62" stroke-width="2.2" stroke-linecap="butt" stroke-linejoin="round" />
<path d="M2313.8 643L2319 644.8L2321.7 645.4L2324.4 645.4L2325.6 645L2326.8 644.4L2329.5 642.7L2332.1 640.3L2334.6 637.6L2335.7 636.1L2337.4 633L2338.5 629.5L2339.2 625.4L2339.6 619.1L2339.3 613.5L2339.1 611.9L2338.1 608.8L2336.9 606L2334.2 601" fill="none" stroke="#585c62" stroke-width="2.2" stroke-linecap="butt" stroke-linejoin="round" />
<path d="M2319.7 568.3L2315 564.1L2312.7 562.9L2311.3 562.6L2309.9 562.5L2306.5 562.9L2300.3 564.6L2296 566.4L2293.9 567.5L2292 568.8L2290.2 570.3L2286.9 574L2285.3 576.2L2282.4 581.2L2278.5 589L2276.5 594L2274.8 598.9L2273 606.3L2272.3 611.1L2272.2 613.4L2272.6 617.5L2273.2 619.4L2274.1 621.2L2276.8 624.6L2284.4 632" fill="none" stroke="#585c62" stroke-width="2.2" stroke-linecap="butt" stroke-linejoin="round" />
<path d="M2334.2 601L2344.9 620.5L2349.2 629.2L2352 635.9L2353.4 639.8L2354.4 643.6L2354.9 647.1L2354.9 650.7L2354.2 654.1L2352.4 659L2350 663.3L2348.3 665.8L2346.2 668L2339.3 673.2" fill="none" stroke="#585c62" stroke-width="2.2" stroke-linecap="butt" stroke-linejoin="round" />
<path d="M2313 690L2302.7 697L2298.3 699.1L2296.2 699.8L2294.2 700L2292.3 699.8L2290.3 699.4L2286.2 697.8L2280.2 694.2L2272.7 688.5L2269.3 685.1L2261.2 675.5L2258 672L2252.7 666.9L2242.3 657.5" fill="none" stroke="#585c62" stroke-width="2.2" stroke-linecap="butt" stroke-linejoin="round" />
<path d="M1975.2 511.4L1948.5 535L1917 564.4" fill="none" stroke="#585c62" stroke-width="2.2" stroke-linecap="butt" stroke-linejoin="round" />
<path d="M1970 514L1967.6 519.5L1966.6 522.5L1966.1 525.5L1966.5 528.5L1967.6 531.5L1969.1 534.7L1974 542.8L1976.3 546L1983 553.8L1985.1 557L1985.9 558.5L1986.4 560.1L1987 563.5L1987 567L1986.6 573.5" fill="none" stroke="#585c62" stroke-width="2.2" stroke-linecap="butt" stroke-linejoin="round" />
<path d="M1917 564.4L1924.9 566L1929 566.4L1933.4 566.2L1942.6 565.2" fill="none" stroke="#585c62" stroke-width="2.2" stroke-linecap="butt" stroke-linejoin="round" />
<path d="M1972 556.6L1977.8 554.2L1981 553.3L1982.7 553.2L1984.3 553.3L1985.9 553.8L1987.5 554.7L1991 557.5L2000 567.1L2003.5 570.3L2010 575.7L2013.1 578.1L2016.2 579.9L2017.7 580.6L2019.2 581L2020.7 581.1L2023.9 580.5L2027.1 579.3L2033 576.2" fill="none" stroke="#585c62" stroke-width="2.2" stroke-linecap="butt" stroke-linejoin="round" />
<path d="M1986.6 601.7L1986.7 615.7L1986.3 619.8L1985.9 621.4L1985.4 622.7L1983.8 625.1L1981.9 626.9L1978 630" fill="none" stroke="#585c62" stroke-width="2.2" stroke-linecap="butt" stroke-linejoin="round" />
<path d="M2033 576.2L2021.3 584.7L2015.3 590L2011.5 594.2L1999.5 609.1L1995.7 613.5L1989.7 619.5L1978 630" fill="none" stroke="#585c62" stroke-width="2.2" stroke-linecap="butt" stroke-linejoin="round" />
<path d="M1889.6 590.7L1886 594.7L1884.5 597.1L1884 598.5L1883.7 600L1883.7 601.7L1884.7 605.7L1887.7 613.2L1894.4 627.2L1900 637.2L1901.1 639.8L1901.5 642.1L1901 644L1899.9 645.5L1897.5 648" fill="none" stroke="#585c62" stroke-width="2.2" stroke-linecap="butt" stroke-linejoin="round" />
<path d="M1897.5 646L1904.4 644.6L1908 644.3L1911.6 644.5L1913.2 645L1914.8 645.9L1916.3 647.1L1922.5 653.8L1925.7 656.9L1927.3 658L1929 658.7L1930.8 659L1932.9 659L1935 658.7L1939.3 657.6L1947.7 654.8" fill="none" stroke="#585c62" stroke-width="2.2" stroke-linecap="butt" stroke-linejoin="round" />
<path d="M1872 668.5L1866.3 672.5L1863.2 674.4L1859.9 675.9L1858.2 676.4L1856.4 676.7L1852.4 676.7L1841.9 676L1838.6 676.4L1836.1 677.5L1834.2 679L1832.7 680.8L1830.4 685L1830.1 687.4L1830.7 691.3" fill="none" stroke="#585c62" stroke-width="2.2" stroke-linecap="butt" stroke-linejoin="round" />
<path d="M1872 669.5L1866.6 690L1863.5 700.2L1861.7 703.9L1860.2 705.8L1859.2 706.5L1858 707L1855.3 707.5L1848.4 707.8" fill="none" stroke="#585c62" stroke-width="2.2" stroke-linecap="butt" stroke-linejoin="round" />
<path d="M2179.5 37.3L2213 84L2249 135.5" fill="none" stroke="#6f6565" stroke-width="10.8" stroke-linecap="butt" stroke-linejoin="round" />
<path d="M2368 161L2521.2 70.7" fill="none" stroke="#6f6565" stroke-width="10.8" stroke-linecap="butt" stroke-linejoin="round" />
<path d="M2272.6 232.5L2251 271" fill="none" stroke="#6f6565" stroke-width="10.8" stroke-linecap="butt" stroke-linejoin="round" />
<path d="M2192 314.2L2160.4 339.3L2152.8 345.6L2144.4 353L2139.6 357.4L2132.6 364.4L2110.7 387.5L2100.3 399.3L2093.9 407.3L2090.8 411.6L2081.2 426.2L2066.4 450.5" fill="none" stroke="#6f6565" stroke-width="10.8" stroke-linecap="butt" stroke-linejoin="round" />
<path d="M2264.7 348.8L2266.3 368.8L2266.9 381.2L2266.8 395.5L2265.9 409.4L2264.7 421L2263 434.6L2258.7 463.8L2255.5 481.3L2250.2 505.5" fill="none" stroke="#6f6565" stroke-width="10.8" stroke-linecap="butt" stroke-linejoin="round" />
<path d="M2000.4 489.8L1975.2 511.4" fill="none" stroke="#6f6565" stroke-width="10.8" stroke-linecap="butt" stroke-linejoin="round" />
<path d="M2066.4 557.7L2033 576.2" fill="none" stroke="#6f6565" stroke-width="10.8" stroke-linecap="butt" stroke-linejoin="round" />
<path d="M2133.1 561.3L2149 562.5L2157 562.8L2165.1 562.7L2181.5 562" fill="none" stroke="#6f6565" stroke-width="10.8" stroke-linecap="butt" stroke-linejoin="round" />
<path d="M2319.7 570.3L2334.2 601" fill="none" stroke="#6f6565" stroke-width="10.8" stroke-linecap="butt" stroke-linejoin="round" />
<path d="M2217.6 632.4L2242.3 657.5" fill="none" stroke="#6f6565" stroke-width="10.8" stroke-linecap="butt" stroke-linejoin="round" />
<path d="M2284.4 632.4L2313.8 641.8" fill="none" stroke="#cbc7c4" stroke-width="10.8" stroke-linecap="butt" stroke-linejoin="round" />
<path d="M2339.3 673.2L2313 690" fill="none" stroke="#6f6565" stroke-width="10.8" stroke-linecap="butt" stroke-linejoin="round" />
<path d="M1915.1 568.3L1889.6 590.7" fill="none" stroke="#6f6565" stroke-width="10.8" stroke-linecap="butt" stroke-linejoin="round" />
<path d="M1986.6 573.5L1986.6 601.7" fill="none" stroke="#6f6565" stroke-width="8.5" stroke-linecap="butt" stroke-linejoin="round" />
<path d="M1942.6 565.2L1972 556.6" fill="none" stroke="#6f6565" stroke-width="8.5" stroke-linecap="butt" stroke-linejoin="round" />
<path d="M1978 630L1947.7 654.8" fill="none" stroke="#6f6565" stroke-width="10.8" stroke-linecap="butt" stroke-linejoin="round" />
<path d="M1897.5 648L1872 668.5" fill="none" stroke="#6f6565" stroke-width="10.8" stroke-linecap="butt" stroke-linejoin="round" />
<path d="M1830.7 691.3L1826.8 711.7L1848.4 707.8" fill="none" stroke="#6f6565" stroke-width="10.8" stroke-linejoin="round"/>
<text x="1793.4" y="63.6" font-size="51" font-weight="bold" fill="#1a1a1a" textLength="27.6" lengthAdjust="spacingAndGlyphs">B</text>
<text x="2304" y="66.1" font-size="43.5" font-weight="normal" fill="#1a1a1a" textLength="70" lengthAdjust="spacingAndGlyphs">2p11</text>
<text x="2182" y="110.8" font-size="33" font-weight="normal" fill="#1a1a1a" textLength="12" lengthAdjust="spacingAndGlyphs">1</text>
<text x="2449" y="150.8" font-size="33" font-weight="normal" fill="#1a1a1a" textLength="29" lengthAdjust="spacingAndGlyphs">19</text>
<text x="2274.5" y="276.8" font-size="33" font-weight="normal" fill="#1a1a1a" textLength="61.5" lengthAdjust="spacingAndGlyphs">2/18</text>
<text x="2082.9" y="370.8" font-size="33" font-weight="normal" fill="#1a1a1a" textLength="25.9" lengthAdjust="spacingAndGlyphs">17</text>
<text x="2281.6" y="431.8" font-size="33" font-weight="normal" fill="#1a1a1a" textLength="14.4" lengthAdjust="spacingAndGlyphs">3</text>
<text x="1949.7" y="491.6" font-size="33" font-weight="normal" fill="#1a1a1a" textLength="27.3" lengthAdjust="spacingAndGlyphs">16</text>
<text x="2152" y="548.5" font-size="33" font-weight="normal" fill="#1a1a1a" textLength="13" lengthAdjust="spacingAndGlyphs">7</text>
<text x="1860" y="569.4" font-size="33" font-weight="normal" fill="#1a1a1a" textLength="28.8" lengthAdjust="spacingAndGlyphs">10</text>
<text x="1949.7" y="572.1" font-size="33" font-weight="normal" fill="#1a1a1a" textLength="14.3" lengthAdjust="spacingAndGlyphs">9</text>
<text x="1967" y="598.8" font-size="33" font-weight="normal" fill="#1a1a1a" textLength="28.7" lengthAdjust="spacingAndGlyphs">15</text>
<text x="2054.6" y="599.6" font-size="33" font-weight="normal" fill="#1a1a1a" textLength="16.4" lengthAdjust="spacingAndGlyphs">8</text>
<text x="2340.5" y="583.8" font-size="33" font-weight="normal" fill="#1a1a1a" textLength="15.3" lengthAdjust="spacingAndGlyphs">4</text>
<text x="1794.6" y="652.6" font-size="33" font-weight="normal" fill="#1a1a1a" textLength="68.4" lengthAdjust="spacingAndGlyphs">11/13</text>
<text x="1970" y="675" font-size="33" font-weight="normal" fill="#1a1a1a" textLength="27.6" lengthAdjust="spacingAndGlyphs">14</text>
<text x="2203.8" y="673.4" font-size="33" font-weight="normal" fill="#1a1a1a" textLength="15.7" lengthAdjust="spacingAndGlyphs">6</text>
<text x="2330" y="712.8" font-size="33" font-weight="normal" fill="#1a1a1a" textLength="15" lengthAdjust="spacingAndGlyphs">5</text>
<text x="1796.5" y="748.8" font-size="33" font-weight="normal" fill="#1a1a1a" textLength="27.5" lengthAdjust="spacingAndGlyphs">12</text>
<path d="M1775 916.3L1846.4 989.8" fill="none" stroke="#8a807c" stroke-width="2.5" stroke-linecap="butt" stroke-linejoin="round" stroke-dasharray="4.2 5.6"/>
<path d="M2425 798L2451.3 765.9" fill="none" stroke="#8a807c" stroke-width="2.5" stroke-linecap="butt" stroke-linejoin="round" stroke-dasharray="4.2 5.6"/>
<path d="M1861.3 1463L1775.7 1516.9" fill="none" stroke="#8a807c" stroke-width="2.5" stroke-linecap="butt" stroke-linejoin="round" stroke-dasharray="4.2 5.6"/>
<path d="M2524 1483.5L2557.3 1497" fill="none" stroke="#8a807c" stroke-width="2.5" stroke-linecap="butt" stroke-linejoin="round" stroke-dasharray="4.2 5.6"/>
<path d="M1848.4 991.7L1860.2 1006.9L1866.7 1015L1874 1023.1L1877.8 1027L1881.8 1030.7L1890.4 1038.2L1914.8 1057.7L1925 1066.4L1935.6 1076L1969.1 1107.6L1985.3 1122L1996.1 1131.1L2031 1159.8L2056.5 1182.4L2062.8 1187.6L2069.2 1192.2L2076 1196.2L2082.5 1199.6L2094.6 1205.4" fill="none" stroke="#b0189a" stroke-width="7" stroke-linecap="butt" stroke-linejoin="round" />
<path d="M2094.6 1205.4L2102.2 1209.4L2106 1211L2109.8 1211.8L2117.4 1212.5" fill="none" stroke="#585c62" stroke-width="2.2" stroke-linecap="butt" stroke-linejoin="round" />
<path d="M2118.2 1208.6L2116.6 1216.1L2116 1220L2115.7 1224.2L2115.5 1232.9" fill="none" stroke="#585c62" stroke-width="2.2" stroke-linecap="butt" stroke-linejoin="round" />
<path d="M2129.2 1287.9L2130.6 1293.6L2131.6 1297L2133.3 1300.8L2135.4 1304.1L2137 1306L2138.2 1306.7L2139.6 1307.1L2143 1307.5" fill="none" stroke="#585c62" stroke-width="2.2" stroke-linecap="butt" stroke-linejoin="round" />
<path d="M2137 1306L2131.7 1309.8L2129 1312L2120.6 1320.5" fill="none" stroke="#585c62" stroke-width="2.2" stroke-linecap="butt" stroke-linejoin="round" />
<path d="M2391.6 810.3L2397.5 810.1L2400.2 810.3L2402.7 811L2407.3 813" fill="none" stroke="#585c62" stroke-width="2.2" stroke-linecap="butt" stroke-linejoin="round" />
<path d="M2407.3 813L2412.2 821L2414 824.8L2414.5 828.2L2414 834.6" fill="none" stroke="#585c62" stroke-width="2.2" stroke-linecap="butt" stroke-linejoin="round" />
<path d="M2360.9 848.4L2359.9 853.8L2359 856.2L2357.3 858.1L2353.1 861.3" fill="none" stroke="#585c62" stroke-width="2.2" stroke-linecap="butt" stroke-linejoin="round" />
<path d="M2387.7 856.2L2380.6 859L2368.8 862.9" fill="none" stroke="#585c62" stroke-width="2.2" stroke-linecap="butt" stroke-linejoin="round" />
<path d="M2387.7 856.2L2380.6 870" fill="none" stroke="#585c62" stroke-width="2.2" stroke-linecap="butt" stroke-linejoin="round" />
<path d="M2360.9 849.6L2361.7 857.7L2362.9 862.1L2365.6 867.1L2372.7 877.8" fill="none" stroke="#585c62" stroke-width="2.2" stroke-linecap="butt" stroke-linejoin="round" />
<path d="M2346 866L2344.4 874.4L2343.3 877.8L2341.7 879.9L2338.2 882.5" fill="none" stroke="#585c62" stroke-width="2.2" stroke-linecap="butt" stroke-linejoin="round" />
<path d="M2356.2 873.9L2350.1 878.1L2347.2 879.8L2344.5 880.7L2339.3 881.8" fill="none" stroke="#585c62" stroke-width="2.2" stroke-linecap="butt" stroke-linejoin="round" />
<path d="M2372.7 877.8L2368 885.7L2364.9 893.5" fill="none" stroke="#585c62" stroke-width="2.2" stroke-linecap="butt" stroke-linejoin="round" />
<path d="M2368.8 862.9L2365.6 869.5L2364.1 873L2363.1 876.3L2362.9 877.8L2362.9 879.3L2363.5 882.5L2364.5 885.6L2366.8 891.6" fill="none" stroke="#585c62" stroke-width="2.2" stroke-linecap="butt" stroke-linejoin="round" />
<path d="M2321.7 903.4L2320 908.8L2319.7 911.2L2320.3 913.3L2322.5 917.1" fill="none" stroke="#585c62" stroke-width="2.2" stroke-linecap="butt" stroke-linejoin="round" />
<path d="M2345.2 915.1L2342 918L2340.3 919.3L2338.4 920.1L2337.4 920.3L2336.3 920.1L2333.8 919.3L2325.6 915.1" fill="none" stroke="#585c62" stroke-width="2.2" stroke-linecap="butt" stroke-linejoin="round" />
<path d="M2302 941.5L2298.9 946.6L2296.1 952.5" fill="none" stroke="#585c62" stroke-width="2.2" stroke-linecap="butt" stroke-linejoin="round" />
<path d="M2300.1 943.8L2304.6 952.6L2306 956.4L2306.1 957.4L2305.9 959.3L2305.3 961.1L2304 964.2" fill="none" stroke="#585c62" stroke-width="2.2" stroke-linecap="butt" stroke-linejoin="round" />
<path d="M2290.2 978L2284.8 975L2282.4 974.1L2280.6 974.1L2277.7 975.2" fill="none" stroke="#585c62" stroke-width="2.2" stroke-linecap="butt" stroke-linejoin="round" />
<path d="M2283.2 964.2L2279.2 970.1L2276.5 975.2" fill="none" stroke="#585c62" stroke-width="2.2" stroke-linecap="butt" stroke-linejoin="round" />
<path d="M2263.9 991.7L2256.5 994L2252.9 994.9L2249.6 995.3L2243.1 995.7" fill="none" stroke="#585c62" stroke-width="2.2" stroke-linecap="butt" stroke-linejoin="round" />
<path d="M2263.9 991.7L2268.9 1001.2L2270.6 1005.5L2270.8 1006.7L2270.9 1009L2269.8 1015.3" fill="none" stroke="#585c62" stroke-width="2.2" stroke-linecap="butt" stroke-linejoin="round" />
<path d="M2219.5 1025.1L2219.3 1033L2219.5 1036.9L2220.6 1040.8L2223.5 1048.7" fill="none" stroke="#585c62" stroke-width="2.2" stroke-linecap="butt" stroke-linejoin="round" />
<path d="M2243.1 1042.8L2231.3 1046.7L2222.7 1049.9" fill="none" stroke="#585c62" stroke-width="2.2" stroke-linecap="butt" stroke-linejoin="round" />
<path d="M2209.7 1064.4L2204.6 1070.3L2199.9 1076.2" fill="none" stroke="#585c62" stroke-width="2.2" stroke-linecap="butt" stroke-linejoin="round" />
<path d="M2209.7 1065.6L2214.1 1071.4L2215.6 1074.2L2216 1076.9L2215.6 1082.1" fill="none" stroke="#585c62" stroke-width="2.2" stroke-linecap="butt" stroke-linejoin="round" />
<path d="M2192.1 1086.8L2188.3 1090.6L2186.2 1091.9L2183.4 1092.3L2177.1 1091.9" fill="none" stroke="#585c62" stroke-width="2.2" stroke-linecap="butt" stroke-linejoin="round" />
<path d="M2203.8 1091.9L2199.6 1097.3L2197.9 1099.7L2197 1101.8L2196 1105.6" fill="none" stroke="#585c62" stroke-width="2.2" stroke-linecap="butt" stroke-linejoin="round" />
<path d="M2192.1 1088L2194 1097.8L2196 1104.9" fill="none" stroke="#585c62" stroke-width="2.2" stroke-linecap="butt" stroke-linejoin="round" />
<path d="M2148.1 1131.2L2145.7 1137.9L2144.9 1141L2144.7 1143.7L2144.9 1148.8" fill="none" stroke="#585c62" stroke-width="2.2" stroke-linecap="butt" stroke-linejoin="round" />
<path d="M2161.4 1148.8L2155.5 1150.6L2152.8 1150.8L2150.4 1149.9L2146.1 1146.9" fill="none" stroke="#585c62" stroke-width="2.2" stroke-linecap="butt" stroke-linejoin="round" />
<path d="M2407.3 813L2423 800.5" fill="none" stroke="#b0189a" stroke-width="7" stroke-linecap="butt" stroke-linejoin="round" />
<path d="M2360.9 848.4L2365.7 838.6L2368.3 833.6L2371.2 828.8L2372.7 826.8L2374.4 824.8L2378.5 820.9L2382.9 817.2L2391.6 810.3" fill="none" stroke="#b0189a" stroke-width="7" stroke-linecap="butt" stroke-linejoin="round" />
<path d="M2387.7 856.2L2414 834.6" fill="none" stroke="#e18cc3" stroke-width="7" stroke-linecap="butt" stroke-linejoin="round" />
<path d="M2346 866L2353.1 861.3" fill="none" stroke="#b0189a" stroke-width="7" stroke-linecap="butt" stroke-linejoin="round" />
<path d="M2356.2 873.9L2368.8 862.9" fill="none" stroke="#d2d2cf" stroke-width="7" stroke-linecap="butt" stroke-linejoin="round" />
<path d="M2372.7 877.8L2380.6 870" fill="none" stroke="#e18cc3" stroke-width="7" stroke-linecap="butt" stroke-linejoin="round" />
<path d="M2321.7 903.4L2338.2 882.5" fill="none" stroke="#b0189a" stroke-width="7" stroke-linecap="butt" stroke-linejoin="round" />
<path d="M2345.2 915.1L2364.9 893.5" fill="none" stroke="#e18cc3" stroke-width="7" stroke-linecap="butt" stroke-linejoin="round" />
<path d="M2302 941.5L2322.5 917.1" fill="none" stroke="#b0189a" stroke-width="7" stroke-linecap="butt" stroke-linejoin="round" />
<path d="M2283.2 964.2L2296.1 952.5" fill="none" stroke="#b0189a" stroke-width="7" stroke-linecap="butt" stroke-linejoin="round" />
<path d="M2290.2 978L2304 964.2" fill="none" stroke="#d2d2cf" stroke-width="7" stroke-linecap="butt" stroke-linejoin="round" />
<path d="M2263.9 991.7L2276.5 975.2" fill="none" stroke="#b0189a" stroke-width="7" stroke-linecap="butt" stroke-linejoin="round" />
<path d="M2219.5 1025.1L2225.8 1014.5L2229.4 1009.4L2233.6 1004.7L2243.1 995.7" fill="none" stroke="#b0189a" stroke-width="7" stroke-linecap="butt" stroke-linejoin="round" />
<path d="M2243.1 1042.8L2269.8 1015.3" fill="none" stroke="#e18cc3" stroke-width="7" stroke-linecap="butt" stroke-linejoin="round" />
<path d="M2209.7 1064.4L2221.5 1050.7" fill="none" stroke="#b0189a" stroke-width="7" stroke-linecap="butt" stroke-linejoin="round" />
<path d="M2192.1 1086.8L2199.9 1076.2" fill="none" stroke="#b0189a" stroke-width="7" stroke-linecap="butt" stroke-linejoin="round" />
<path d="M2203.8 1091.9L2215.6 1082.1" fill="none" stroke="#d2d2cf" stroke-width="7" stroke-linecap="butt" stroke-linejoin="round" />
<path d="M2148.1 1131.2L2156.2 1116.4L2160.6 1109.6L2165.8 1103.4L2177.1 1091.9" fill="none" stroke="#b0189a" stroke-width="7" stroke-linecap="butt" stroke-linejoin="round" />
<path d="M2161.4 1148.8L2175.8 1134.4L2182.2 1127.2L2187.3 1120.1L2196 1105.6" fill="none" stroke="#e18cc3" stroke-width="7" stroke-linecap="butt" stroke-linejoin="round" />
<path d="M2145 1148.8L2137.9 1161.2L2131 1175.7L2126 1187.4L2118.2 1208.6" fill="none" stroke="#b0189a" stroke-width="7" stroke-linecap="butt" stroke-linejoin="round" />
<path d="M2115.5 1232.9L2117.7 1250.6L2119.4 1259.6L2122.2 1268.9L2129.2 1287.9" fill="none" stroke="#e18cc3" stroke-width="7" stroke-linecap="butt" stroke-linejoin="round" />
<path d="M2120.6 1320.5L2084 1334.2" fill="none" stroke="#e18cc3" stroke-width="7" stroke-linecap="butt" stroke-linejoin="round" />
<path d="M2084 1334.2L2074.2 1336.2L2058.5 1339" fill="none" stroke="#585c62" stroke-width="2.2" stroke-linecap="butt" stroke-linejoin="round" />
<path d="M2084 1334.2L2077.3 1344L2074.2 1348L2071.5 1350.5L2066.4 1353.9" fill="none" stroke="#585c62" stroke-width="2.2" stroke-linecap="butt" stroke-linejoin="round" />
<path d="M2043.6 1344.1L2038.9 1347.6L2036.9 1350L2035.4 1353.4L2033 1361.7" fill="none" stroke="#585c62" stroke-width="2.2" stroke-linecap="butt" stroke-linejoin="round" />
<path d="M2050.7 1358.6L2043.9 1361.6L2040.8 1362.5L2038.1 1362.6L2033 1361.7" fill="none" stroke="#585c62" stroke-width="2.2" stroke-linecap="butt" stroke-linejoin="round" />
<path d="M2043.6 1344.1L2058.5 1339" fill="none" stroke="#d2d2cf" stroke-width="7" stroke-linecap="butt" stroke-linejoin="round" />
<path d="M2050.7 1358.6L2066.4 1353.9" fill="none" stroke="#e18cc3" stroke-width="7" stroke-linecap="butt" stroke-linejoin="round" />
<path d="M2031 1363.7L2003.6 1377.1L1990 1384L1969.4 1395.1L1948.5 1407L1926.9 1420.1L1905 1434L1861.3 1463" fill="none" stroke="#e18cc3" stroke-width="7" stroke-linecap="butt" stroke-linejoin="round" />
<path d="M2143 1307.5L2178.3 1324.4" fill="none" stroke="#b0189a" stroke-width="7" stroke-linecap="butt" stroke-linejoin="round" />
<path d="M2178.3 1324.4L2181.4 1319.5L2183.2 1317.1L2185.1 1315.2L2186.2 1314.6L2187.3 1314.2L2190.1 1313.9L2193.1 1314L2199.1 1314.6" fill="none" stroke="#585c62" stroke-width="2.2" stroke-linecap="butt" stroke-linejoin="round" />
<path d="M2178.3 1324.4L2180.8 1334.2L2182.2 1338.2L2183.8 1340.7L2187.3 1344.1" fill="none" stroke="#585c62" stroke-width="2.2" stroke-linecap="butt" stroke-linejoin="round" />
<path d="M2229.4 1328.4L2233.2 1330.3L2235.3 1331.1L2237.5 1331.6L2242.3 1332.3" fill="none" stroke="#585c62" stroke-width="2.2" stroke-linecap="butt" stroke-linejoin="round" />
<path d="M2225.4 1361L2228.2 1363.7L2230.5 1365.7" fill="none" stroke="#585c62" stroke-width="2.2" stroke-linecap="butt" stroke-linejoin="round" />
<path d="M2229.4 1329.5L2234.2 1343L2237.2 1350L2241.3 1357.5L2251 1373.5" fill="none" stroke="#585c62" stroke-width="2.2" stroke-linecap="butt" stroke-linejoin="round" />
<path d="M2255.7 1337.4L2247.3 1348.8L2243.1 1353.9L2238.9 1358.1L2230.5 1365.7" fill="none" stroke="#585c62" stroke-width="2.2" stroke-linecap="butt" stroke-linejoin="round" />
<path d="M2255.7 1337.4L2262.7 1341.3L2268.6 1344.1" fill="none" stroke="#585c62" stroke-width="2.2" stroke-linecap="butt" stroke-linejoin="round" />
<path d="M2238.4 1369.6L2251 1373.5" fill="none" stroke="#585c62" stroke-width="2.2" stroke-linecap="butt" stroke-linejoin="round" />
<path d="M2233.3 1334.2L2245.1 1341.4L2249.1 1343.4L2251 1344.1L2252.8 1344.5L2256.8 1345.1L2260.9 1345.3L2268.6 1345.2" fill="none" stroke="#585c62" stroke-width="2.2" stroke-linecap="butt" stroke-linejoin="round" />
<path d="M2284.4 1388.4L2290.2 1392.4L2296.1 1395.1" fill="none" stroke="#585c62" stroke-width="2.2" stroke-linecap="butt" stroke-linejoin="round" />
<path d="M2300.1 1359.8L2306.7 1362.5L2313 1363.7" fill="none" stroke="#585c62" stroke-width="2.2" stroke-linecap="butt" stroke-linejoin="round" />
<path d="M2300.1 1361L2305.4 1372.5L2307.9 1377.4L2310.2 1381.2L2314.6 1387.3" fill="none" stroke="#585c62" stroke-width="2.2" stroke-linecap="butt" stroke-linejoin="round" />
<path d="M2284.4 1389.2L2296.5 1386.1L2302 1385.3L2303.5 1385.3L2306.6 1385.8L2314.6 1388.4" fill="none" stroke="#585c62" stroke-width="2.2" stroke-linecap="butt" stroke-linejoin="round" />
<path d="M2309.9 1401.8L2315 1403.7L2317.7 1404.9L2327.6 1410.8" fill="none" stroke="#585c62" stroke-width="2.2" stroke-linecap="butt" stroke-linejoin="round" />
<path d="M2325.6 1367.6L2333.3 1373.2L2337.4 1375.5L2341.8 1377.1L2351.1 1379.4" fill="none" stroke="#585c62" stroke-width="2.2" stroke-linecap="butt" stroke-linejoin="round" />
<path d="M2325.6 1368.8L2330.7 1379.9L2333.4 1385.3L2336.6 1390.6L2343.3 1401" fill="none" stroke="#585c62" stroke-width="2.2" stroke-linecap="butt" stroke-linejoin="round" />
<path d="M2314.6 1401L2322.9 1391.3L2327.3 1386.6L2331.5 1382.7L2333.4 1381.4L2335.3 1380.5L2337.3 1379.8L2339.4 1379.4L2343.5 1379.2L2351.1 1379.4" fill="none" stroke="#585c62" stroke-width="2.2" stroke-linecap="butt" stroke-linejoin="round" />
<path d="M2309.9 1401L2318.5 1394.8L2323 1391.8L2327.5 1389.7L2329.5 1389.2L2331.6 1389.1L2333.8 1389.4L2336 1389.9L2340.6 1391.4L2349.2 1395.1" fill="none" stroke="#585c62" stroke-width="2.2" stroke-linecap="butt" stroke-linejoin="round" />
<path d="M2325.6 1368L2338.6 1379.7L2345.2 1385.3L2352.2 1390.6L2366.8 1401" fill="none" stroke="#585c62" stroke-width="2.2" stroke-linecap="butt" stroke-linejoin="round" />
<path d="M2343.3 1401L2346.9 1411.9L2349.2 1416.7L2352.1 1420.4L2359 1426.5" fill="none" stroke="#585c62" stroke-width="2.2" stroke-linecap="butt" stroke-linejoin="round" />
<path d="M2341.3 1420.7L2346.4 1423.4L2349.2 1424.6L2352.3 1425.4L2359 1426.5" fill="none" stroke="#585c62" stroke-width="2.2" stroke-linecap="butt" stroke-linejoin="round" />
<path d="M2364.9 1384.5L2374.7 1389.2L2385.3 1393.9" fill="none" stroke="#585c62" stroke-width="2.2" stroke-linecap="butt" stroke-linejoin="round" />
<path d="M2366.8 1401L2375.1 1401.4L2378.6 1401L2379.5 1400.6L2381.2 1399.5L2385.3 1395.1" fill="none" stroke="#585c62" stroke-width="2.2" stroke-linecap="butt" stroke-linejoin="round" />
<path d="M2327.6 1409.7L2334 1403.5L2337.4 1401L2341.1 1399.4L2349.2 1397.1" fill="none" stroke="#585c62" stroke-width="2.2" stroke-linecap="butt" stroke-linejoin="round" />
<path d="M2400.2 1445.4L2406.1 1447.4L2411.2 1448.1" fill="none" stroke="#585c62" stroke-width="2.2" stroke-linecap="butt" stroke-linejoin="round" />
<path d="M2435.6 1424.6L2440.8 1430.1L2443.4 1432.4L2446.2 1434L2452.1 1436.4" fill="none" stroke="#585c62" stroke-width="2.2" stroke-linecap="butt" stroke-linejoin="round" />
<path d="M2400.2 1445.4L2405.1 1441.7L2407.8 1440L2410.6 1438.7L2412 1438.3L2413.5 1438.2L2416.9 1438.3L2427.7 1440.3" fill="none" stroke="#585c62" stroke-width="2.2" stroke-linecap="butt" stroke-linejoin="round" />
<path d="M2445.4 1447.4L2447 1453L2447.4 1456L2447 1459.5L2445.4 1467" fill="none" stroke="#585c62" stroke-width="2.2" stroke-linecap="butt" stroke-linejoin="round" />
<path d="M2423.8 1454L2436.4 1459.9" fill="none" stroke="#585c62" stroke-width="2.2" stroke-linecap="butt" stroke-linejoin="round" />
<path d="M2435.6 1425.4L2445.4 1447.4" fill="none" stroke="#585c62" stroke-width="2.2" stroke-linecap="butt" stroke-linejoin="round" />
<path d="M2423.8 1454L2435.6 1450.1L2445.4 1447.4" fill="none" stroke="#585c62" stroke-width="2.2" stroke-linecap="butt" stroke-linejoin="round" />
<path d="M2445.4 1467L2449.2 1470.4L2451.3 1471.7L2453.7 1472.6L2459.1 1473.7" fill="none" stroke="#585c62" stroke-width="2.2" stroke-linecap="butt" stroke-linejoin="round" />
<path d="M2479.6 1447.4L2484.5 1452.7L2486.6 1456L2488.4 1460.5L2491.3 1470.9" fill="none" stroke="#585c62" stroke-width="2.2" stroke-linecap="butt" stroke-linejoin="round" />
<path d="M2478.8 1478.8L2483.6 1477.4L2485.8 1476.4L2487.8 1474.8L2491.3 1470.9" fill="none" stroke="#585c62" stroke-width="2.2" stroke-linecap="butt" stroke-linejoin="round" />
<path d="M2445.4 1448.1L2453.2 1463.9L2455.3 1467.2L2459.1 1472.5" fill="none" stroke="#585c62" stroke-width="2.2" stroke-linecap="butt" stroke-linejoin="round" />
<path d="M2199.1 1314.6L2229.4 1328.4" fill="none" stroke="#e18cc3" stroke-width="7" stroke-linecap="butt" stroke-linejoin="round" />
<path d="M2242.3 1332.3L2255.7 1337.4" fill="none" stroke="#e18cc3" stroke-width="7" stroke-linecap="butt" stroke-linejoin="round" />
<path d="M2268.6 1344.1L2300.1 1359.8" fill="none" stroke="#e18cc3" stroke-width="7" stroke-linecap="butt" stroke-linejoin="round" />
<path d="M2313 1363.7L2325.6 1367.6" fill="none" stroke="#e18cc3" stroke-width="7" stroke-linecap="butt" stroke-linejoin="round" />
<path d="M2351.1 1379.4L2364.9 1384.5" fill="none" stroke="#e18cc3" stroke-width="7" stroke-linecap="butt" stroke-linejoin="round" />
<path d="M2385.3 1393.9L2403.4 1402.3L2412 1406.9L2420 1412.4L2435.6 1424.6" fill="none" stroke="#e18cc3" stroke-width="7" stroke-linecap="butt" stroke-linejoin="round" />
<path d="M2452.1 1436.4L2479.6 1447.4" fill="none" stroke="#e18cc3" stroke-width="7" stroke-linecap="butt" stroke-linejoin="round" />
<path d="M2187.3 1344.1L2225.4 1361" fill="none" stroke="#b0189a" stroke-width="7" stroke-linecap="butt" stroke-linejoin="round" />
<path d="M2230.5 1365.7L2238.4 1369.6" fill="none" stroke="#b0189a" stroke-width="7" stroke-linecap="butt" stroke-linejoin="round" />
<path d="M2251 1373.5L2284.4 1388.4" fill="none" stroke="#b0189a" stroke-width="7" stroke-linecap="butt" stroke-linejoin="round" />
<path d="M2296.1 1395.1L2309.9 1401.8" fill="none" stroke="#b0189a" stroke-width="7" stroke-linecap="butt" stroke-linejoin="round" />
<path d="M2327.6 1410.8L2341.3 1420.7" fill="none" stroke="#b0189a" stroke-width="7" stroke-linecap="butt" stroke-linejoin="round" />
<path d="M2359 1426.5L2400.2 1445.4" fill="none" stroke="#b0189a" stroke-width="7" stroke-linecap="butt" stroke-linejoin="round" />
<path d="M2411.2 1448.1L2423.8 1454" fill="none" stroke="#b0189a" stroke-width="7" stroke-linecap="butt" stroke-linejoin="round" />
<path d="M2436.4 1459.9L2445.4 1467" fill="none" stroke="#b0189a" stroke-width="7" stroke-linecap="butt" stroke-linejoin="round" />
<path d="M2459.1 1473.7L2478.8 1478.8" fill="none" stroke="#b0189a" stroke-width="7" stroke-linecap="butt" stroke-linejoin="round" />
<path d="M2491.3 1470.9L2522 1482.7" fill="none" stroke="#b0189a" stroke-width="7" stroke-linecap="butt" stroke-linejoin="round" />
<path d="M2314.6 1387.3L2343.3 1401" fill="none" stroke="#d2d2cf" stroke-width="7" stroke-linecap="butt" stroke-linejoin="round" />
<path d="M2349.2 1395.1L2366.8 1401" fill="none" stroke="#d2d2cf" stroke-width="7" stroke-linecap="butt" stroke-linejoin="round" />
<path d="M2427.7 1440.3L2445.4 1447.4" fill="none" stroke="#d2d2cf" stroke-width="7" stroke-linecap="butt" stroke-linejoin="round" />
<path d="M1903.4 969Q2038.3 1072.2 2221 949" fill="none" stroke="#1a1a1a" stroke-width="1.3"/>
<path d="M2223.8 946.8L2218.8 958.2L2211.5 948.1Z" fill="#1a1a1a"/>
<path d="M2378.6 1330.3L2366.8 1326.1L2360.3 1323.5L2353.5 1320L2350 1318L2338.4 1310.4L2325.5 1301.1L2317.2 1294.2L2313.4 1290.6L2309.9 1287L2306.7 1283.2L2303.6 1279.2L2297.9 1270.7L2292.8 1261.9L2284 1245L2278.8 1234.2L2276.1 1227.5L2273.7 1220.6L2272.6 1216.9L2270.6 1208.6L2268.8 1198.8L2266.4 1182.1L2265 1165.2L2264.7 1155L2265.2 1141.6L2266.1 1133.4L2267.5 1125.4L2269.4 1117.5L2272 1109.4L2273.5 1105.3L2277.1 1096.9L2281.2 1088.8L2287.8 1077.4L2292.4 1070.7L2297.9 1064.3L2303.7 1058.3L2315 1047.5" fill="none" stroke="#1a1a1a" stroke-width="1.3" stroke-linecap="butt" stroke-linejoin="round" />
<path d="M2318.1 1044L2315.5 1056.2L2306.3 1047.8Z" fill="#1a1a1a"/>
<path d="M2280.4 1447.4Q2120 1340 1963 1468.5" fill="none" stroke="#1a1a1a" stroke-width="1.3"/>
<path d="M1959.8 1471.2L1964.2 1459.6L1972.1 1469.3Z" fill="#1a1a1a"/>
<text x="1792" y="827.6" font-size="51" font-weight="bold" fill="#1a1a1a" textLength="29" lengthAdjust="spacingAndGlyphs">C</text>
<text x="1902" y="1138.8" font-size="43.5" font-weight="normal" fill="#1a1a1a" textLength="30.8" lengthAdjust="spacingAndGlyphs">1x</text>
<text x="2059.3" y="1277.8" font-size="43.5" font-weight="normal" fill="#1a1a1a" textLength="31.4" lengthAdjust="spacingAndGlyphs">1x</text>
<text x="1903.4" y="1385.8" font-size="43.5" font-weight="normal" fill="#1a1a1a" textLength="30.2" lengthAdjust="spacingAndGlyphs">1x</text>
<text x="2438.7" y="825.3" font-size="43.5" font-weight="normal" fill="#1a1a1a" textLength="35.3" lengthAdjust="spacingAndGlyphs">2x</text>
<text x="2499" y="1458.5" font-size="43.5" font-weight="normal" fill="#1a1a1a" textLength="36.7" lengthAdjust="spacingAndGlyphs">2x</text>
<text x="2325.6" y="1199.3" font-size="43.5" font-weight="normal" fill="#1a1a1a" textLength="74.4" lengthAdjust="spacingAndGlyphs">9q12</text>
<path d="M1987.8 1526.5L2005.5 1551.2" fill="none" stroke="#8a807c" stroke-width="2.5" stroke-linecap="butt" stroke-linejoin="round" stroke-dasharray="4.2 5.6"/>
<path d="M2541 1849L2560 1824" fill="none" stroke="#8a807c" stroke-width="2.5" stroke-linecap="butt" stroke-linejoin="round" stroke-dasharray="4.2 5.6"/>
<path d="M2277.7 2268.8L2276.5 2284" fill="none" stroke="#8a807c" stroke-width="2.5" stroke-linecap="butt" stroke-linejoin="round" stroke-dasharray="4.2 5.6"/>
<path d="M2474.8 2266L2478 2284" fill="none" stroke="#8a807c" stroke-width="2.5" stroke-linecap="butt" stroke-linejoin="round" stroke-dasharray="4.2 5.6"/>
<path d="M2258 1992.3L2265.9 1996.8L2269 1998.3L2272.3 1999.5L2280.1 2001.7L2290.2 2004L2294 2004.7L2303 2005.8L2307.9 2006.8L2312.8 2008.5L2321.7 2012.7" fill="none" stroke="#4a4e52" stroke-width="2" stroke-linecap="butt" stroke-linejoin="round" />
<path d="M2255.7 2009.9L2280.4 2013.5L2300.7 2015.6L2307.9 2016.6L2313 2017.9L2319.7 2020.5" fill="none" stroke="#4a4e52" stroke-width="2" stroke-linecap="butt" stroke-linejoin="round" />
<path d="M2280.4 1981.3L2296.4 1987.4L2300.1 1989.1L2304.6 1991.9L2307.1 1994L2311 1998.3L2315 2003.4L2321.7 2012.7" fill="none" stroke="#4a4e52" stroke-width="2" stroke-linecap="butt" stroke-linejoin="round" />
<path d="M2315.8 1979.3L2319.5 1984.6L2321.3 1988L2322.2 1991.4L2322.7 1993.7L2322.8 1996.1L2322.5 1998.5L2321.7 2000.9L2319.9 2003.4L2317.2 2006.2L2309.9 2012.7" fill="none" stroke="#4a4e52" stroke-width="2" stroke-linecap="butt" stroke-linejoin="round" />
<path d="M2337.4 1975.4L2329.2 1981.9L2323.6 1987.2L2320.6 1990.3L2319 1992.4L2317.9 1994.2L2317.7 1995L2317.9 1996.7L2318.8 1998.5L2319.4 1999.4L2320.9 2000.6L2321.8 2001L2322.7 2001.1L2323.6 2000.9L2324.7 2000.3L2327.4 1998.1L2336.6 1988.3" fill="none" stroke="#4a4e52" stroke-width="2" stroke-linecap="butt" stroke-linejoin="round" />
<path d="M2262.7 2004.8L2271.3 1996L2275.9 1992L2278.1 1990.5L2280.3 1989.5L2282.4 1989.1L2284.4 1989.4L2286.4 1990.3L2288.4 1991.6L2292.5 1995.3L2298.4 2001.4L2302 2004.8L2317.7 2016.6" fill="none" stroke="#4a4e52" stroke-width="2" stroke-linecap="butt" stroke-linejoin="round" />
<path d="M2258.8 2006.8L2263.7 1996.1L2266.4 1990.9L2269.2 1986.7L2270.6 1985.2L2272.1 1984.2L2273.7 1983.5L2275.5 1983.1L2279.2 1982.9L2286.3 1983.2" fill="none" stroke="#4a4e52" stroke-width="2" stroke-linecap="butt" stroke-linejoin="round" />
<path d="M2352.3 2018.6L2353.4 2026L2353.5 2029.2L2353.1 2032.3L2352.1 2035.3L2349.9 2039.9L2344.2 2049.8L2333.4 2065.7" fill="none" stroke="#4a4e52" stroke-width="2" stroke-linecap="butt" stroke-linejoin="round" />
<path d="M2339.3 2046.1L2349.2 2050L2368 2056.7L2384.5 2063.7" fill="none" stroke="#4a4e52" stroke-width="2" stroke-linecap="butt" stroke-linejoin="round" />
<path d="M2360.9 2039.4L2366.1 2044.5L2368.4 2046.5L2370.8 2048L2374.7 2050.2L2377.6 2051.6L2380.5 2052.5L2381.9 2052.6L2383.3 2052.5L2384.5 2052L2385.6 2051.1L2387.7 2048.1L2392.3 2037.9L2394.3 2034.3L2398.1 2029.4L2406.1 2020.5" fill="none" stroke="#4a4e52" stroke-width="2" stroke-linecap="butt" stroke-linejoin="round" />
<path d="M2378.6 2046.1L2382.1 2058.5L2383.7 2062.2L2384.5 2063.7L2385.5 2065.1L2388 2067.6L2390.8 2069.8L2396.3 2073.6" fill="none" stroke="#4a4e52" stroke-width="2" stroke-linecap="butt" stroke-linejoin="round" />
<path d="M2370.8 2048L2377.3 2057.7L2380.6 2061.8L2383.8 2064.8L2390.4 2069.6" fill="none" stroke="#4a4e52" stroke-width="2" stroke-linecap="butt" stroke-linejoin="round" />
<path d="M2402.2 2077.5L2412 2095.2L2419.9 2110.9L2422.5 2115.1L2427.7 2122.7" fill="none" stroke="#4a4e52" stroke-width="2" stroke-linecap="butt" stroke-linejoin="round" />
<path d="M2320.9 2078.7L2309.9 2087.3" fill="none" stroke="#4a4e52" stroke-width="2" stroke-linecap="butt" stroke-linejoin="round" />
<path d="M2345.2 2044.1L2346.5 2040L2347.3 2038L2348.4 2036.6L2349.2 2036.3L2350.1 2036.1L2352.5 2036.5L2360.9 2039.4" fill="none" stroke="#4a4e52" stroke-width="2" stroke-linecap="butt" stroke-linejoin="round" />
<path d="M2279.2 1930.2L2288.3 1936.1L2296.1 1940" fill="none" stroke="#4a4e52" stroke-width="2" stroke-linecap="butt" stroke-linejoin="round" />
<path d="M2007.4 1552.4L2253 1875.3" fill="none" stroke="#32b4eb" stroke-width="7" stroke-linecap="butt" stroke-linejoin="round" />
<path d="M2253 1875.3L2266 1898" fill="none" stroke="#1a1a1a" stroke-width="1.1" stroke-linecap="butt" stroke-linejoin="round" />
<circle cx="2261.5" cy="1882" r="4" fill="none" stroke="#444" stroke-width="1.3"/>
<path d="M2265.2 1874.6l2.6 3.7m0.6 -3.1l-3.7 2.6M2256.4 1884.9l3.1 3.2m0 -3.2l-3.2 3.1" stroke="#32b4eb" stroke-width="2.2" fill="none"/>
<path d="M2269.1 1892.6l-4.2 2.8m3.5 0.7l-2.8 -4.2" stroke="#32b4eb" stroke-width="2.4" fill="none"/>
<path d="M2279.4 1912l-0.9 -1.3M2279.4 1912l0.3 3M2279.4 1912l0.9 3.5M2289.2 1924.5l-1.3 -2.1M2289.2 1924.5l-3.7 -1.9M2289.2 1924.5l-1.4 -4M2288.3 1910.8l-2.2 -0.9M2288.3 1910.8l-1.8 3.2M2288.3 1910.8l2.3 -3.6M2288.2 1920.3l-0.4 0.3M2288.2 1920.3l-1.1 0.3M2288.2 1920.3l-0 -1.7M2284.8 1900l-0.4 2.4M2284.8 1900l0 2.8M2284.8 1900l-0.3 2.9M2287.1 1920.5l0.7 0M2287.1 1920.5l0.8 1.9M2280.3 1897.9l-2.3 2.9M2280.3 1897.9l4.5 2.1M2280.3 1897.9l-0.1 5.2M2284.3 1930.5l1 -1.6M2284.3 1930.5l-2.6 -1M2284.3 1930.5l-0 -3.3M2292 1907.6l-1.4 -0.4M2292 1907.6l1.5 1.2M2292 1907.6l-3 -1.2M2284.5 1902.9l0.3 -0M2284.5 1902.9l-0.2 -0.4M2280.2 1905.3l0.9 1.3M2280.2 1905.3l0 -2.2M2280.2 1905.3l1.7 1.7M2280.2 1903.1l-2.2 -2.3M2280.2 1903.1l0.8 3.6M2278.5 1910.7l-2.8 -0M2278.5 1910.7l-3.9 -0.5M2272.5 1927.3l-2.3 0.3M2272.5 1927.3l-3.1 -0.4M2272.5 1927.3l-3.1 -2M2292.4 1917.7l-1.3 1.9M2292.4 1917.7l-0.3 -2.6M2292.4 1917.7l0.6 -3.5M2288.2 1918.5l-0.3 2M2288.2 1918.5l-1.1 2M2287.2 1905.9l0.8 -0.3M2287.2 1905.9l1.4 -0.2M2287.2 1905.9l1.7 0.5M2272.7 1908l2 0.9M2272.7 1908l1.9 2.2M2272.7 1908l3.7 -1.5M2279.7 1915l0.6 0.5M2279.7 1915l-2.7 1.3M2274.6 1910.2l1.1 0.5M2274.6 1910.2l0.1 -1.3M2274.6 1910.2l-0.3 2.7M2285.6 1922.6l-1.8 -0.9M2285.6 1922.6l2.3 -0.2M2285.6 1922.6l-1.2 -2M2266.1 1911.9l3.2 2.7M2266.1 1911.9l4.5 2.2M2266.1 1911.9l0.1 5.4M2281.7 1929.5l-2.5 1.1M2281.7 1929.5l2.5 -2.3M2273.8 1899.2l-2.6 3.4M2273.8 1899.2l4.3 1.6M2273.8 1899.2l-0.6 4.8M2282 1917.8l-1.6 -2.2M2282 1917.8l2.8 -1.9M2282 1917.8l-2.3 -2.7M2284.2 1927.2l1 1.7M2275.9 1918.4l-1.4 -1.7M2275.9 1918.4l1.1 -2M2275.9 1918.4l0 3.5M2266.2 1917.3l3.1 -2.6M2266.2 1917.3l0.3 4.4M2269.4 1925.3l-0 1.6M2269.4 1925.3l0.8 2.2M2269.4 1925.3l0.6 -2.4M2291.1 1919.6l-2.9 0.6M2291.1 1919.6l-2.9 -1.1M2284.4 1920.6l-0.6 1.1M2284.4 1920.6l2.8 -0M2266.5 1921.7l3.6 1.2M2266.5 1921.7l2.9 3.6M2290.6 1907.2l-1.7 -0.8M2290.6 1907.2l-2 -1.5M2270.6 1914.1l-1.3 0.5M2270.6 1914.1l3.7 -1.2M2270.6 1914.1l4 2.5M2287.9 1920.5l0 1.9M2278.8 1923l-0 -0.1M2278.8 1923l0.3 -1.2M2278.8 1923l1.9 2.4M2274.6 1916.7l2.5 -0.3M2274.6 1916.7l-0.2 -3.7M2288.9 1906.4l-0.4 -0.7M2288.9 1906.4l-1 -0.8M2288.7 1901.6l0.1 2M2288.7 1901.6l-0.7 4M2288.7 1901.6l-0.1 4.1M2281.9 1907.1l-0.9 -0.4M2281.9 1907.1l1.5 1.7M2288.8 1903.7l-0.2 2M2288.8 1903.7l-0.9 1.9M2276 1921.9l-0.7 0.3M2276 1921.9l2.8 1M2276 1921.9l2.8 1.1M2283.4 1908.7l2.7 1.2M2283.4 1908.7l-2.4 -2M2270.2 1927.6l-0.8 -0.7M2274.7 1909l1 1.8M2288.6 1905.7l-0.6 -0.1M2275.6 1904.1l-2.4 -0.1M2275.6 1904.1l0.8 2.4M2275.6 1904.1l2.5 -3.3M2276.4 1906.5l-1.7 2.4M2276.4 1906.5l3.8 -1.2M2277.6 1929.2l1.7 1.3M2277.6 1929.2l-1.2 -2.5M2277.6 1929.2l4.2 0.2M2267.7 1904.3l0.2 0.6M2267.7 1904.3l3.5 -1.7M2267.7 1904.3l5.5 -0.3M2273.2 1904l-2.1 -1.4M2273.2 1904l-0.5 4M2286.2 1909.9l1 -4M2293.4 1908.8l-2.9 -1.6M2293.4 1908.8l-4.5 -2.4M2287.9 1922.4l0.3 -2.1M2284.8 1915.9l1.7 -1.8M2284.8 1915.9l3.4 2.7M2286.6 1914.1l-0.4 -4.1M2285.2 1928.9l-3.5 0.5M2278.8 1922.9l0.3 -1.1M2276.3 1926.8l-3.8 0.5M2276.3 1926.8l2.5 -3.8M2284.3 1902.4l0.4 0.4M2275.3 1922.3l3.5 0.6M2275.3 1922.3l3.5 0.7M2279.3 1930.6l-2.9 -3.8M2293 1914.3l-0.9 0.9M2293 1914.3l0.5 -5.4M2280.7 1925.3l-1.9 -2.5M2280.7 1925.3l-1.6 -3.5M2275.7 1910.7l-1.4 2.2M2292.1 1915.2l-1 4.5M2280.4 1915.5l-3.3 0.8M2279.1 1921.8l-3.1 0.1M2270 1922.9l-0.6 4M2271.1 1902.6l-3.3 2.3M2267.9 1904.9l5.3 -0.9M2283.8 1921.7l3.3 -1.1M2267.9 1904.9l-1.8 7M2271.1 1902.6l-4.7 19M2266.5 1921.7l7.3 -22.5M2273.2 1904l-2.6 10.1M2270.6 1914.1l2.1 -6.1M2269.4 1925.3l5.3 -16.4M2269.4 1926.9l5.2 -16.7M2274.3 1912.9l3.7 -12.1M2276.4 1906.5l-6.2 21M2270.2 1927.6l5.5 -16.8M2274.6 1916.7l5.8 -18.8M2280.2 1903.1l-4.3 15.3M2275.9 1918.4l2.6 -7.7M2278.5 1910.7l1.7 -5.4M2277 1916.4l-1.1 5.5M2276 1921.9l3.5 -9.9M2281.9 1907.1l-2.2 8M2279.7 1915l-3.4 11.7M2280.4 1915.5l4 -13.1M2279.1 1921.8l5.7 -19M2284.8 1902.8l-6 20.1M2283.4 1908.7l-5.9 20.5M2280.7 1925.3l-1.4 5.2M2284.8 1915.9l3.1 -10.3M2288.6 1905.7l-4.8 16M2281.7 1929.5l4.8 -15.4M2285.6 1922.6l-1.3 4.6M2288.2 1918.5l-3 10.4M2285.2 1928.9l2.6 -8.4M2292 1907.6l-3.7 12.6M2289.2 1924.5l2.8 -9.4" fill="none" stroke="#1a1a1a" stroke-width="1.1"/>
<path d="M2281 1910l-3.2 4.1m3.7 -0.5l-4.1 -3.2M2286.8 1923.6l4.9 1.8m-1.5 -3.4l-1.8 4.9M2285.7 1910.5l5.2 0.7m-2.3 -2.9l-0.7 5.2M2287.3 1917.8l1.9 4.9m1.5 -3.4l-4.9 1.9M2287.4 1899.6l-5.2 0.8m3 2.2l-0.8 -5.2M2286.5 1918l1.3 5.1m1.9 -3.2l-5.1 1.3M2278.6 1895.9l3.5 3.9m0.2 -3.7l-3.9 3.5M2285.8 1928.4l-3.1 4.2m3.7 -0.6l-4.2 -3.1M2292.5 1905l-1 5.1m3.1 -2.1l-5.1 -1M2285.2 1900.3l-1.4 5.1m3.2 -1.8l-5.1 -1.4M2282.3 1903.8l-4.2 3.1m3.7 0.6l-3.1 -4.2M2278 1901.8l4.5 2.7m-0.9 -3.6l-2.7 4.5M2276.4 1909.2l4.2 3.1m-0.6 -3.7l-3.1 4.2M2274.3 1925.4l-3.6 3.8m3.7 -0.1l-3.8 -3.6M2290.4 1916l3.9 3.5m-0.2 -3.7l-3.5 3.9M2290.8 1918l-5.1 1.1m3.1 2l-1.1 -5.1M2289.3 1904.3l-4.2 3.2m3.7 0.5l-3.2 -4.2M2271.2 1905.8l3 4.3m0.7 -3.6l-4.3 3M2282.3 1914.7l-5.2 0.6m2.9 2.3l-0.6 -5.2M2274.1 1907.6l1 5.2m2.1 -3.1l-5.2 1M2285.6 1920l0 5.2m2.6 -2.6l-5.2 0M2265.4 1909.4l1.2 5.1m1.9 -3.2l-5.1 1.2M2280.2 1927.3l3 4.3m0.7 -3.7l-4.3 3M2276.1 1898l-4.7 2.3m3.5 1.2l-2.3 -4.7M2280.4 1915.7l3.2 4.1m0.4 -3.7l-4.1 3.2M2286.6 1926.1l-4.8 2.2m3.5 1.3l-2.2 -4.8M2273.5 1917.4l4.9 2m-1.4 -3.4l-2 4.9M2266.7 1914.7l-1 5.2m3.1 -2.1l-5.2 -1M2271.2 1923.4l-3.6 3.8m3.7 -0.1l-3.8 -3.6M2293.7 1919.3l-5.2 0.7m2.9 2.3l-0.7 -5.2M2284.2 1917.9l0.4 5.2m2.4 -2.8l-5.2 0.4M2264.2 1920.3l4.5 2.8m-0.9 -3.6l-2.8 4.5M2289.5 1904.8l2.1 4.8m1.3 -3.5l-4.8 2.1M2272.5 1912.3l-3.9 3.6m3.7 0.1l-3.6 -3.9M2288.3 1917.9l-0.8 5.2m3 -2.2l-5.2 -0.8M2276.6 1921.5l4.3 3m-0.7 -3.6l-3 4.3M2275.3 1914.2l-1.5 5m3.3 -1.8l-5 -1.5M2291 1904.7l-4.1 3.3m3.7 0.4l-3.3 -4.1M2287.2 1899.5l2.9 4.4m0.7 -3.6l-4.4 2.9M2283.1 1904.7l-2.3 4.7m3.5 -1.2l-4.7 -2.3M2288 1901.2l1.6 5m1.7 -3.3l-5 1.6M2276.3 1919.3l-0.6 5.2m2.9 -2.3l-5.2 -0.6M2283.9 1906.1l-0.9 5.2m3 -2.1l-5.2 -0.9M2268.7 1925.4l3 4.3m0.7 -3.7l-4.3 3M2276.5 1907l-3.6 3.8m3.7 -0.1l-3.8 -3.6M2289.9 1903.4l-2.7 4.5m3.6 -0.9l-4.5 -2.7M2275.2 1901.5l0.8 5.2m2.2 -3l-5.2 0.8M2277.8 1904.3l-2.8 4.4m3.6 -0.8l-4.4 -2.8M2275.2 1928l4.7 2.4m-1.1 -3.5l-2.4 4.7M2267.7 1901.7l-0 5.2m2.6 -2.6l-5.2 -0M2269.6 1924.3l-0.5 5.2m2.9 -2.4l-5.2 -0.5M2271.5 1913.3l-4.5 2.7m3.6 0.9l-2.7 -4.5M2272.8 1901.4l0.9 5.2m2.2 -3l-5.2 0.9M2284.7 1907.7l2.9 4.4m0.8 -3.6l-4.4 2.9M2293.8 1906.2l-0.8 5.2m3 -2.2l-5.2 -0.8M2285.3 1922.4l5.2 0m-2.6 -2.6l-0 5.2M2287.2 1914.7l-4.7 2.4m3.5 1.1l-2.4 -4.7M2285 1911.9l3.1 4.3m0.6 -3.7l-4.3 3.1M2286.1 1926.5l-1.8 4.9m3.4 -1.6l-4.9 -1.8M2279.9 1920.5l-2.3 4.7m3.5 -1.2l-4.7 -2.3M2274.2 1925.3l4.3 3m-0.6 -3.7l-3 4.3M2283.9 1899.8l0.9 5.2m2.1 -3.1l-5.2 0.9M2275.8 1914.1l2.5 4.6m1 -3.6l-4.6 2.5M2273.4 1920.5l3.8 3.6m-0.1 -3.7l-3.6 3.8M2277.3 1928.8l3.9 3.5m-0.2 -3.7l-3.5 3.9M2287 1901.5l-4.5 2.7m3.6 0.9l-2.7 -4.5M2290.3 1914l5.2 0.5m-2.4 -2.8l-0.5 5.2M2279.4 1923.1l2.6 4.6m1 -3.6l-4.6 2.6M2277.9 1909.2l-4.3 3m3.7 0.6l-3 -4.3M2291.9 1912.5l0.3 5.2m2.5 -2.8l-5.2 0.3M2279.4 1898.6l-2.7 4.5m3.6 -0.9l-4.5 -2.7M2282.7 1914.3l-4.6 2.5m3.6 1.1l-2.5 -4.6M2276.8 1920.4l4.5 2.7m-0.9 -3.6l-2.7 4.5M2272.6 1922.3l-5.1 1.1m3.1 2l-1.1 -5.1M2272.5 1900.4l-2.7 4.5m3.6 -0.9l-4.5 -2.7M2287 1903.1l1.9 4.9m1.5 -3.4l-4.9 1.9M2272.9 1910.7l2.8 4.5m0.8 -3.6l-4.5 2.8M2278.4 1906.6l5.2 0.2m-2.5 -2.7l-0.2 5.2M2268.9 1902.5l-1.9 4.9m3.4 -1.5l-4.9 -1.9M2283.6 1919.1l0.5 5.2m2.4 -2.8l-5.2 0.5" stroke="#32b4eb" stroke-width="2.5" fill="none"/>
<path d="M2296.1 1940L2315.8 1979.3" fill="none" stroke="#32b4eb" stroke-width="7" stroke-linecap="butt" stroke-linejoin="round" />
<path d="M2322.2 1992.7l-1 4.7M2303.9 2003.3l-3.7 3.1M2289.9 2001.7l0.6 4.8M2273 1998.5l-4.7 1" stroke="#32b4eb" stroke-width="6" fill="none"/>
<path d="M1826 1927L1931 1934" fill="none" stroke="#32b4eb" stroke-width="7" stroke-linecap="butt" stroke-linejoin="round" />
<path d="M1936 1934.3L2014.9 1943.5L2052 1948.3L2090.6 1953.9L2129.4 1960.5L2161.5 1966.7L2177.1 1970L2192 1973.4L2214.8 1979.4L2258 1992.3" fill="none" stroke="#32b4eb" stroke-width="7" stroke-linecap="butt" stroke-linejoin="round" />
<path d="M1934.8 1931.1l-3.6 1.8m2.7 0.9l-1.8 -3.6" stroke="#d8d8d4" stroke-width="1.9" fill="none"/>
<path d="M2047.5 2013.5L2078.1 2011.5" fill="none" stroke="#1e9628" stroke-width="7" stroke-linecap="butt" stroke-linejoin="round" />
<path d="M2089.9 2010.7L2126 2008.1L2145 2006.9L2163.8 2006.2L2172.4 2006L2181.1 2006.1L2200 2006.7L2219.2 2007.7L2255.7 2009.9" fill="none" stroke="#1e9628" stroke-width="7" stroke-linecap="butt" stroke-linejoin="round" />
<circle cx="2082.9" cy="2005.6" r="4" fill="none" stroke="#444" stroke-width="1.3"/>
<path d="M2083.2 1998.7l-0.6 4.3m2.5 -1.8l-4.3 -0.6" stroke="#1e9628" stroke-width="2.1" fill="none"/>
<path d="M2085.3 2010.3l-4.9 0.9m2.9 2l-0.9 -4.9" stroke="#1e9628" stroke-width="2.4" fill="none"/>
<path d="M2263.3 2010.2l2.8 3.4M2278.7 2012.1l3.5 2.7M2296.3 2012l-4.2 1.3M2310.1 2016.3l-4.3 0.7" stroke="#1e9628" stroke-width="5.5" fill="none"/>
<path d="M2319.7 2020.5L2326.3 2030.8L2329.5 2035.5L2332.8 2039.3L2339.3 2046.1" fill="none" stroke="#1e9628" stroke-width="7" stroke-linecap="butt" stroke-linejoin="round" />
<path d="M2349.2 2050L2359 2052.8" fill="none" stroke="#1e9628" stroke-width="7" stroke-linecap="butt" stroke-linejoin="round" />
<path d="M2368 2056.7L2377.4 2059.8" fill="none" stroke="#1e9628" stroke-width="7" stroke-linecap="butt" stroke-linejoin="round" />
<path d="M2390.4 2069.6L2402.2 2077.5" fill="none" stroke="#1e9628" stroke-width="7" stroke-linecap="butt" stroke-linejoin="round" />
<path d="M2410 2093.2L2415.9 2101.1" fill="none" stroke="#1e9628" stroke-width="7" stroke-linecap="butt" stroke-linejoin="round" />
<path d="M2419.1 2107.7L2423.8 2115.6" fill="none" stroke="#1e9628" stroke-width="7" stroke-linecap="butt" stroke-linejoin="round" />
<path d="M2446.3 2132l-1.1 -1.9M2446.3 2132l-3.2 0.1M2446.3 2132l3.2 -0.9M2443.2 2132.2l-0 2M2443.2 2132.2l-1.4 -2.4M2443.2 2132.2l2.1 -2M2438.3 2143.6l1.6 1.2M2438.3 2143.6l-2.2 0.6M2438.3 2143.6l1.7 1.7M2453 2122.2l-0.7 2.6M2453 2122.2l-3.4 -0.5M2453 2122.2l-0.3 4.2M2450.6 2141.2l-0.6 -2.4M2450.6 2141.2l-0.3 2.9M2450.6 2141.2l2.5 -3.4M2440.7 2144.1l-0.8 0.7M2440.7 2144.1l-0.7 1.2M2440.7 2144.1l0.2 -1.8M2450.3 2144l-3.6 -1.1M2450.3 2144l-0.3 -5.3M2441 2149.6l1.1 -1M2441 2149.6l0.8 -1.4M2441 2149.6l0 -1.6M2450.8 2135.1l-1.9 0.2M2450.8 2135.1l0.2 -2.3M2450.8 2135.1l2 1.2M2429.6 2127.3l2.5 -0.1M2429.6 2127.3l2.8 -0M2429.6 2127.3l3.7 3M2433.5 2130.7l-0.1 -0.5M2433.5 2130.7l0.9 0M2433.5 2130.7l1.3 -1.9M2450 2138.7l3.2 -1M2450 2138.7l-1.1 -3.5M2434.1 2143.8l-1.4 0.4M2434.1 2143.8l2 0.5M2434.1 2143.8l1.1 3.2M2437 2124.5l1.6 -2M2437 2124.5l3 -1M2437 2124.5l-2 -3.4M2446.7 2142.9l-2 1.7M2446.7 2142.9l-0.8 -3.1M2451 2132.8l-1.5 -1.6M2451 2132.8l-2.1 2.5M2443.8 2149.3l-1.7 -0.7M2443.8 2149.3l-2 -1M2443.8 2149.3l2.4 0.7M2452.4 2124.7l0.4 1.7M2452.4 2124.7l-2.7 -3.1M2440 2123.5l-1.4 -1M2440 2123.5l3.7 2.5M2449.5 2131.2l1.3 3.9M2435.6 2150.1l1.2 1.8M2435.6 2150.1l-0.2 -2.9M2435.6 2150.1l-0.4 -3.1M2427.2 2132l-1.7 -0.4M2427.2 2132l2.5 0.2M2427.2 2132l3 2.1M2451.4 2150.8l-4.5 -0.3M2451.4 2150.8l-3.6 3.9M2451.4 2150.8l-5.2 -0.8M2446.2 2150l0.8 0.4M2446.2 2150l-0.2 2.5M2445 2120.9l-0.5 1.7M2445 2120.9l0.8 4M2445 2120.9l2 3.7M2429.4 2142.3l-2.7 -1.2M2429.4 2142.3l3.4 1.9M2429.4 2142.3l4.7 1.5M2443.2 2139.7l1.3 -1.1M2443.2 2139.7l-2.4 0.5M2443.2 2139.7l2.7 0.1M2439.9 2144.8l0.1 0.5M2444.7 2144.6l-4 -0.5M2444.7 2144.6l-3.8 -2.3M2437.5 2137.5l0.3 -3.1M2437.5 2137.5l-2.6 -1.9M2437.5 2137.5l3.3 2.6M2438.6 2122.5l-3.6 -1.4M2449.7 2121.6l-2.7 2.9M2432.8 2123.1l0.1 -1M2432.8 2123.1l2.1 -1.9M2432.8 2123.1l-0.5 -3.4M2425.5 2131.6l4.2 0.6M2425.5 2131.6l4.7 2.5M2437.7 2134.4l-2.8 1.2M2437.7 2134.4l-3.8 -1.3M2447 2150.4l-0.9 2M2447 2150.4l-3.2 -1.1M2435 2121.2l-2 0.9M2435 2121.2l-2.6 -1.4M2455.2 2136.7l-2 1M2455.2 2136.7l-2.4 -0.5M2455.2 2136.7l2.6 1.1M2453.1 2137.8l-0.3 -1.5M2430.4 2150.7l0.4 -2.9M2430.4 2150.7l5.2 -0.6M2430.4 2150.7l4.8 -3.8M2425.5 2138.3l1.3 2.8M2425.5 2138.3l3.9 4M2425.5 2138.3l4.8 -4.2M2439.9 2147.7l1.1 0.3M2439.9 2147.7l1.9 0.6M2439.9 2147.7l1.1 2M2445.9 2139.8l-1.3 -1.2M2441.8 2129.8l1.2 -2.2M2441.8 2129.8l3.5 0.4M2444.4 2122.6l1.3 2.3M2444.4 2122.6l2.5 1.9M2432.2 2127.2l0.2 0.1M2432.2 2127.2l2.6 1.6M2457.7 2137.9l0.3 -3.3M2457.7 2137.9l-4.6 -0.1M2430.8 2147.8l1.9 -3.7M2430.8 2147.8l4.4 -0.9M2456.9 2132.2l-1.5 -1M2456.9 2132.2l1.1 2.4M2456.9 2132.2l-1.7 4.5M2433 2122.1l-0.6 -2.4M2432.7 2144.2l3.3 0.1M2432.7 2144.2l2.5 2.8M2446.9 2124.5l-1.2 0.3M2446.9 2124.5l-3.2 1.5M2445.3 2130.1l0.2 -1.9M2445.3 2130.1l0.6 -2M2429.7 2132.2l0.5 1.9M2429.7 2132.2l3.8 -1.5M2441.8 2148.2l0.3 0.3M2441.8 2148.2l-0.7 -0.3M2458 2134.6l-2.9 2.1M2436.1 2144.3l-0.8 2.7M2445.8 2124.9l-2.1 1.2M2440 2145.3l-0.1 2.3M2435.4 2147.2l-0.2 -0.3M2435.4 2147.2l0.6 -2.9M2443.2 2134.2l3.2 -2.2M2443.2 2134.2l1.4 4.4M2441.3 2152.2l0 2.3M2441.3 2152.2l-0.3 -2.6M2441.3 2152.2l-3.1 -0.1M2434.9 2135.6l-0.9 -2.4M2445.9 2128.2l-0.4 0.1M2445.9 2128.2l-2.9 -0.5M2446 2152.5l1.8 2.2M2433.9 2133.2l0.4 -2.4M2433.9 2133.2l-0.4 -2.4M2455.4 2131.2l2.6 3.4M2455.4 2131.2l-4.5 1.6M2440.9 2142.3l-0.1 -2.1M2440.9 2142.3l-1 2.5M2434.4 2130.8l-1 -0.5M2434.4 2130.8l0.5 -2M2441.1 2148l1 0.6M2445.5 2128.3l-2.5 -0.7M2443 2127.6l0.7 -1.6M2434.8 2128.8l-1.4 1.4M2430.2 2134.1l3.7 -0.9M2444.6 2138.6l-3.7 1.6M2441.4 2154.5l-3.1 -2.4M2441.4 2154.5l-0.3 -4.9M2432.4 2127.3l2.4 1.5M2436.8 2151.9l1.4 0.2M2436.8 2151.9l4.5 0.3M2426.7 2141.1l6 3.1M2447.8 2154.6l-0.9 -4.2M2447.8 2154.6l-1.6 -4.6M2443.7 2126l1.8 2.3M2452.8 2126.4l2.7 4.8M2440.8 2140.2l-0.1 3.9M2438.3 2152.1l-2.6 -2M2427.2 2132l-1.8 6.3M2429.6 2127.3l2.7 -7.6M2432.2 2127.2l-2 6.9M2433.9 2133.2l3 -8.7M2437 2124.5l-6.2 23.3M2430.4 2150.7l2.3 -6.6M2432.7 2144.2l7.3 -20.6M2440 2123.5l-5.9 20.3M2441.8 2129.8l2.7 -7.2M2443 2127.6l-4.7 16M2443.2 2132.2l-2.4 8M2440.8 2140.2l5 -15.3M2439.9 2144.8l3.2 -10.6M2443.2 2134.2l-2.3 8M2440 2145.3l-1.7 6.8M2445.5 2128.3l-4.7 15.8M2439.9 2147.7l7 -23.1M2446.9 2124.5l-1.7 5.6M2443.2 2139.7l-2.2 8.3M2441 2149.6l5.3 -17.6M2444.6 2138.6l5.1 -16.9M2449.7 2121.6l-7.9 26.6M2442.1 2148.6l-0.8 3.7M2445.9 2139.8l-1.2 4.8M2448.9 2135.2l-2.2 7.7M2452.8 2126.4l-1.8 6.4M2450 2138.7l-4 13.7M2447 2150.4l3.7 -9.3M2450.3 2144l2.5 -7.8M2452.8 2136.3l-5 18.4M2453.1 2137.8l2.3 -6.6M2455.4 2131.2l-0.3 5.6M2456.9 2132.2l-5.5 18.6M2451.4 2150.8l6.6 -16.2" fill="none" stroke="#1a1a1a" stroke-width="1.1"/>
<path d="M2443.7 2131.2l5.3 1.6m-1.8 -3.4l-1.6 5.3M2443.4 2129.4l-0.5 5.5m3 -2.5l-5.5 -0.5M2440.8 2142.4l-4.9 2.4m3.7 1.3l-2.4 -4.9M2453.8 2119.5l-1.4 5.3m3.4 -1.9l-5.3 -1.4M2451.9 2138.7l-2.5 4.9m3.7 -1.2l-4.9 -2.5M2439.2 2141.8l3.1 4.5m0.7 -3.8l-4.5 3.1M2447.6 2143.3l5.3 1.4m-2 -3.4l-1.4 5.3M2439 2147.7l4.1 3.7m-0.2 -3.9l-3.7 4.1M2453.5 2134.5l-5.4 1.1m3.2 2.1l-1.1 -5.4M2430.4 2124.7l-1.6 5.3m3.4 -1.8l-5.3 -1.6M2435.6 2128.9l-4.2 3.6m3.9 0.3l-3.6 -4.2M2449.6 2136l0.8 5.4m2.3 -3.1l-5.4 0.8M2431.4 2143.6l5.5 0.5m-2.5 -3l-0.5 5.5M2434.4 2123.4l5.1 2.1m-1.5 -3.6l-2.1 5.1M2444.4 2141.4l4.5 3.1m-0.7 -3.8l-3.1 4.5M2451.2 2130l-0.6 5.5m3 -2.5l-5.5 -0.6M2443.1 2146.6l1.3 5.3m2 -3.3l-5.3 1.3M2449.9 2123.6l5 2.4m-1.3 -3.7l-2.4 5M2441.5 2121.3l-3.1 4.6m3.8 -0.8l-4.6 -3.1M2447.5 2129.3l4 3.8m-0.1 -3.9l-3.8 4M2432.9 2149.9l5.5 0.3m-2.6 -2.9l-0.3 5.5M2424.8 2130.7l4.9 2.6m-1.2 -3.7l-2.6 4.9M2454.1 2150.2l-5.4 1.2m3.3 2.1l-1.2 -5.4M2446.7 2147.3l-1 5.4m3.2 -2.2l-5.4 -1M2443.5 2118.6l3 4.6m0.8 -3.8l-4.6 3M2431 2140.1l-3.3 4.4m3.9 -0.5l-4.4 -3.3M2442.1 2137.2l2.2 5m1.4 -3.6l-5 2.2M2442.2 2143.3l-4.6 3m3.8 0.8l-3 -4.6M2444.9 2141.8l-0.5 5.5m3 -2.5l-5.5 -0.5M2434.9 2136.5l5.1 2m-1.6 -3.6l-2 5.1M2441.3 2122.1l-5.4 0.8m3.1 2.3l-0.8 -5.4M2447.5 2119.9l4.3 3.5m-0.4 -3.9l-3.5 4.3M2434.7 2121.1l-3.7 4m3.9 -0.2l-4 -3.7M2424.4 2129.1l2.2 5.1m1.5 -3.6l-5.1 2.2M2439 2132l-2.5 4.9m3.7 -1.2l-4.9 -2.5M2448.2 2148l-2.4 4.9m3.7 -1.3l-4.9 -2.4M2432.4 2120.3l5.2 1.8m-1.7 -3.5l-1.8 5.2M2454.5 2134.1l1.2 5.4m2.1 -3.3l-5.4 1.2M2454.5 2135.4l-2.7 4.8m3.7 -1.1l-4.8 -2.7M2429.7 2148.1l1.3 5.3m2 -3.3l-5.3 1.3M2428.1 2137.4l-5.2 1.8m3.5 1.7l-1.8 -5.2M2442.1 2145.9l-4.2 3.5m3.9 0.3l-3.5 -4.2M2444.8 2137.3l2.3 5m1.4 -3.6l-5 2.3M2442.7 2127.2l-1.8 5.2m3.5 -1.7l-5.2 -1.8M2445.5 2120.1l-2.1 5.1m3.6 -1.5l-5.1 -2.1M2429.6 2126.4l5.2 1.7m-1.8 -3.5l-1.7 5.2M2458.5 2135.3l-1.6 5.3m3.4 -1.8l-5.3 -1.6M2432.6 2145.8l-3.6 4.1m3.9 -0.2l-4.1 -3.6M2454.6 2130.7l4.6 3m-0.8 -3.8l-3 4.6M2431.9 2119.6l2.2 5.1m1.4 -3.6l-5.1 2.2M2435.5 2144.1l-5.5 0.2m2.8 2.7l-0.2 -5.5M2445.5 2122.2l2.8 4.7m1 -3.8l-4.7 2.8M2447.5 2128.5l-4.4 3.3m3.8 0.6l-3.3 -4.4M2428.2 2129.9l2.9 4.7m0.9 -3.8l-4.7 2.9M2440.3 2145.9l3 4.6m0.8 -3.8l-4.6 3M2455.3 2134.5l5.5 0.2m-2.6 -2.9l-0.2 5.5M2437.7 2142.1l-3.3 4.4m3.9 -0.5l-4.4 -3.3M2444.2 2122.6l3.2 4.5m0.6 -3.8l-4.5 3.2M2438.7 2142.9l2.7 4.8m1.1 -3.7l-4.8 2.7M2432.7 2147.1l5.5 0.3m-2.6 -2.9l-0.3 5.5M2445.1 2132.3l-3.9 3.9m3.9 -0l-3.9 -3.9M2444 2151.6l-5.4 1.2m3.3 2.1l-1.2 -5.4M2430.4 2117.7l3.8 4m0.1 -3.9l-4 3.8M2437 2133.8l-4.2 3.5m3.9 0.3l-3.5 -4.2M2444.8 2125.6l2.2 5.1m1.4 -3.6l-5.1 2.2M2448.8 2152.5l-5.5 0m2.8 2.7l-0 -5.5M2449.9 2132.7l-2 5.1m3.6 -1.6l-5.1 -2M2436.7 2133.2l-5.5 0m2.8 2.7l-0 -5.5M2457 2128.9l-3.1 4.5m3.8 -0.7l-4.5 -3.1M2441.5 2139.6l-1.2 5.4m3.3 -2.1l-5.4 -1.2M2431.9 2129.5l4.9 2.6m-1.1 -3.7l-2.6 4.9M2438.6 2146.7l4.9 2.5m-1.2 -3.7l-2.5 4.9M2444.8 2125.6l1.3 5.3m2 -3.3l-5.3 1.3M2443.7 2125l-1.4 5.3m3.4 -2l-5.3 -1.4M2433.8 2126.3l2.1 5.1m1.5 -3.6l-5.1 2.1M2427.5 2133.5l5.4 1.2m-2.1 -3.3l-1.2 5.4M2442.1 2137.4l4.9 2.5m-1.2 -3.7l-2.5 4.9M2440.7 2151.8l1.4 5.3m2 -3.4l-5.3 1.4M2430.7 2129.9l5.5 0.7m-2.4 -3.1l-0.7 5.5M2434.7 2125.7l-4.5 3.2m3.8 0.7l-3.2 -4.5M2432.6 2146.2l5.3 1.6m-1.9 -3.4l-1.6 5.3M2439.2 2150.6l-4.8 2.7m3.7 1l-2.7 -4.8M2425.7 2138.6l2.1 5.1m1.5 -3.6l-5.1 2.1M2450.4 2135l4.9 2.5m-1.2 -3.7l-2.5 4.9M2447.5 2151.9l0.8 5.4m2.3 -3.1l-5.4 0.8M2441 2125.4l5.3 1.4m-2 -3.3l-1.4 5.3M2450.1 2126l5.4 0.8m-2.3 -3.1l-0.8 5.4M2444.7 2147.7l-5.2 1.8m3.5 1.7l-1.8 -5.2M2443.5 2139.7l-5.4 0.8m3.1 2.3l-0.8 -5.4M2435.8 2150.8l4.9 2.5m-1.2 -3.7l-2.5 4.9" stroke="#1e9628" stroke-width="2.6" fill="none"/>
<path d="M2450 2165.7l0.5 0.3M2450 2165.7l4.8 1M2456.4 2187.9l-0.5 -0.1M2456.4 2187.9l-1.5 3M2452.7 2191.5l-0.2 -2M2452.7 2191.5l2.2 -0.6M2455.9 2187.8l-1 3.1M2451.8 2179.8l1.7 -0.1M2451.8 2179.8l2 2.1M2458.6 2178.1l-0.5 3.3M2458.6 2178.1l-2 3M2448.8 2158.4l1.2 7.3M2448.8 2158.4l1.7 7.7M2454 2183.9l-1.2 -1.4M2454 2183.9l-0.2 -2M2455.8 2170.5l-0.2 2.1M2455.8 2170.5l1.5 -2M2456.8 2182.4l-0.2 -1.2M2456.8 2182.4l1.3 -0.9M2456.5 2181.1l1.5 0.3M2450.5 2166l4.3 0.7M2451.4 2187l1.1 2.6M2451.4 2187l2.6 -3.1M2454.9 2190.9l-2.4 -1.3M2448.4 2172.4l2.1 -6.4M2448.4 2172.4l1.6 -6.7M2457.3 2168.6l-1.8 -1.1M2458.3 2174.3l-2.7 -1.7M2458.3 2174.3l0.2 3.8M2453.5 2179.7l0.3 2.2M2452.8 2182.5l1 -0.7M2447.9 2179.8l3.9 -0M2447.9 2179.8l4.9 2.7M2455.5 2167.5l-0.7 -0.8M2454.8 2166.7l2.5 1.8M2450.5 2166l-2.6 13.8M2455.5 2167.5l-3.7 12.3M2451.8 2179.8l4 -9.2M2453.5 2179.7l2.1 -7M2452.8 2182.5l4.5 -14M2457.3 2168.6l-3.5 13.3M2458.3 2174.3l-1.8 6.8M2456.8 2182.4l1.8 -4.2M2455.9 2187.8l2.1 -6.4" fill="none" stroke="#1a1a1a" stroke-width="1.1"/>
<path d="M2449.5 2163l0.9 5.4m2.2 -3.2l-5.4 0.9M2459.1 2187.3l-5.3 1.3m3.3 2l-1.3 -5.3M2450.9 2189.5l3.7 4.1m0.2 -3.9l-4.1 3.7M2457.3 2185.4l-2.7 4.8m3.7 -1.1l-4.8 -2.7M2454.2 2178.5l-4.9 2.6m3.7 1.1l-2.6 -4.9M2461.1 2177l-5 2.3m3.7 1.3l-2.3 -5M2447.4 2156l2.8 4.7m1 -3.8l-4.7 2.8M2456.6 2183l-5.2 1.7m3.5 1.7l-1.7 -5.2M2454.9 2168l1.9 5.2m1.6 -3.5l-5.2 1.9M2455.7 2179.8l2.2 5.1m1.4 -3.6l-5.1 2.2M2458.6 2179.4l-4.2 3.5m3.9 0.3l-3.5 -4.2M2453.2 2165.5l-5.4 1m3.2 2.2l-1 -5.4M2454.1 2186.7l-5.5 0.6m3 2.5l-0.6 -5.5M2454.1 2188.3l1.7 5.2m1.7 -3.5l-5.2 1.7M2445.8 2171.5l5.2 1.7m-1.8 -3.5l-1.7 5.2M2457.8 2165.9l-1.1 5.4m3.3 -2.1l-5.4 -1.1M2458.4 2171.6l-0 5.5m2.8 -2.7l-5.5 -0M2456.2 2179.4l-5.5 0.6m3 2.4l-0.6 -5.5M2453.7 2179.9l-1.8 5.2m3.5 -1.7l-5.2 -1.8M2451.4 2180.5l4.7 2.8m-0.9 -3.8l-2.8 4.7M2448.9 2177.2l-1.9 5.1m3.5 -1.6l-5.1 -1.9M2455.4 2180.5l5.2 1.9m-1.6 -3.5l-1.9 5.2M2458 2171.3l-4.7 2.8m3.8 0.9l-2.8 -4.7M2452.7 2167.3l5.5 0.3m-2.6 -2.9l-0.3 5.5M2453.7 2187.1l-2.3 5m3.7 -1.3l-5 -2.3M2454.2 2164l1.2 5.4m2.1 -3.3l-5.4 1.2" stroke="#1e9628" stroke-width="2.6" fill="none"/>
<path d="M2457.2 2193.4L2463 2215" fill="none" stroke="#1a1a1a" stroke-width="1.1" stroke-linecap="butt" stroke-linejoin="round" />
<path d="M2463.1 2215L2474.8 2266" fill="none" stroke="#1e9628" stroke-width="7" stroke-linecap="butt" stroke-linejoin="round" />
<path d="M2141.5 1878.6l1.1 1.8M2141.5 1878.6l3.7 -3.1M2147.7 1877.8l1.8 -1.5M2147.7 1877.8l-1.4 2M2145.3 1875.5l2.4 2.3M2145.3 1875.5l4.2 0.8M2151.1 1881.2l-3.4 -3.4M2151.1 1881.2l-4.8 -1.4M2146.3 1879.8l-3.6 0.5M2145.3 1875.5l1 4.3M2149.5 1876.3l1.6 4.8" fill="none" stroke="#1a1a1a" stroke-width="1.1"/>
<path d="M2143.4 1877.3l-3.8 2.5m3.1 0.7l-2.5 -3.8M2145.9 1876.5l3.6 2.7m-0.4 -3.2l-2.7 3.6M2152.7 1879.6l-3.3 3.1m3.2 0.1l-3.1 -3.3M2146.6 1877.6l-0.7 4.5m2.6 -1.9l-4.5 -0.7M2140.5 1879.6l4.2 1.5m-1.4 -2.9l-1.5 4.2M2151.4 1875.2l-3.9 2.3m3.1 0.8l-2.3 -3.9" stroke="#6e1464" stroke-width="2.2" fill="none"/>
<path d="M2143.1 1874.8l4.3 1.3m-1.5 -2.8l-1.3 4.3" stroke="#d8d8d4" stroke-width="2.2" fill="none"/>
<path d="M2152.8 1889L2179 1905.8L2195.9 1917.3L2207.2 1925.6L2280.4 1981.3" fill="none" stroke="#6e1464" stroke-width="7" stroke-linecap="butt" stroke-linejoin="round" />
<path d="M2292 1981.9l-3.5 2.7M2301.5 1987.4l-2.9 3.3M2307.7 1996.7l4.4 0.6" stroke="#6e1464" stroke-width="5.5" fill="none"/>
<path d="M2321.7 2012.7L2360.9 2039.4" fill="none" stroke="#6e1464" stroke-width="7" stroke-linecap="butt" stroke-linejoin="round" />
<path d="M2370 2048L2379 2045.7" fill="none" stroke="#6e1464" stroke-width="7" stroke-linecap="butt" stroke-linejoin="round" />
<path d="M2388.4 2041L2394.7 2033.9" fill="none" stroke="#6e1464" stroke-width="7" stroke-linecap="butt" stroke-linejoin="round" />
<path d="M2400.2 2025.3L2406.5 2019.8" fill="none" stroke="#6e1464" stroke-width="7" stroke-linecap="butt" stroke-linejoin="round" />
<path d="M2430.2 2016l-0.5 0.6M2430.2 2016l-1.3 -0.2M2430.2 2016l1.8 -0.4M2433.7 2009.4l1.4 -0.4M2433.7 2009.4l0.9 1.5M2433.7 2009.4l-1.7 1.4M2428.6 1994l1.1 -0.1M2428.6 1994l-1.3 1.5M2428.6 1994l0.5 3.4M2420.7 2008.8l-0.1 -0.1M2420.7 2008.8l-0.8 -0.2M2420.7 2008.8l-1.6 -1.6M2415.3 1997l1.8 -1.1M2415.3 1997l2.7 0.1M2415.3 1997l2.6 -2.5M2424.3 2007.3l0.6 -1.9M2424.3 2007.3l1.5 2.5M2424.3 2007.3l-1.3 3.1M2417.2 1995.9l0.8 1.2M2417.2 1995.9l0.7 -1.4M2432 2012.1l0.1 -1.3M2432 2012.1l-0.9 -2.7M2432 2012.1l2.7 -1.2M2418.1 2006.4l1 0.8M2418.1 2006.4l-2.3 -0.2M2418.1 2006.4l-0.1 2.4M2424.9 2005.4l3.1 -1.6M2424.9 2005.4l0.9 4.4M2438 2002.9l-0.8 -0.7M2438 2002.9l-0.4 1.1M2438 2002.9l-1.9 -0.7M2429 2012.4l-1 -0.1M2429 2012.4l3 -0.3M2429 2012.4l-0.2 3.4M2421 2011.1l1.9 -0.7M2421 2011.1l-0.4 -2.3M2421 2011.1l-0.5 -2.5M2425.8 2009.8l1.1 -0.3M2425.8 2009.8l-2.8 0.6M2415.3 2018.3l1.7 -3.5M2415.3 2018.3l1.1 -4M2415.3 2018.3l5.7 -0.7M2428.9 1999l-0 -1.5M2428.9 1999l0.2 -1.7M2428.9 1999l-0.8 1.8M2424.5 1999.8l-1.1 -1M2424.5 1999.8l-3 -1.2M2424.5 1999.8l3.5 1M2419.9 2008.5l0.7 0.1M2419.9 2008.5l-0.8 -1.4M2427.3 1995.5l1.6 2M2427.3 1995.5l1.8 1.9M2438.1 2007.8l0.3 -1.6M2438.1 2007.8l-3 1.2M2438.1 2007.8l-3.1 -1.4M2417.9 1994.5l0.1 2.6M2417.9 1994.5l3.3 -0.9M2421.1 2014.4l-0.2 3.2M2421.1 2014.4l2.9 1.4M2421.1 2014.4l-0.1 -3.3M2435.1 2009l-0.5 1.9M2435.1 2009l-0.1 -2.5M2418 2008.7l1.8 -0.2M2418 2008.7l1.1 -1.6M2417.7 2001.4l2.8 0.8M2417.7 2001.4l0.3 -4.3M2417.7 2001.4l3.8 -2.8M2429.6 1993.9l-2.4 1.7M2429.6 1993.9l-0.6 3.5M2416.4 2014.3l0.6 0.5M2416.4 2014.3l4.8 0.2M2438.4 2006.2l-0.9 -2.3M2438.4 2006.2l-0.5 -3.4M2424.1 2015.8l0.2 0M2424.1 2015.8l2 1.6M2420.6 2008.6l-1.5 -1.5M2422.3 1991.4l-1 2.1M2422.3 1991.4l-0.3 4.2M2422.3 1991.4l-4.4 3.1M2416.9 2014.8l4.2 -0.3M2421.6 2019.1l-0.6 -1.4M2421.6 2019.1l3.2 0.4M2421.6 2019.1l2.5 -3.2M2413 2003l-0.1 1M2413 2003l-1.4 1.8M2413 2003l-1.5 2.6M2420.5 2002.2l1.1 -3.6M2420.5 2002.2l2.9 -3.4M2421.2 1993.6l0.8 2M2409.1 2003.9l1.1 1.3M2409.1 2003.9l2.5 0.9M2409.1 2003.9l2.3 1.7M2437.6 2004l-0.3 -1.8M2437.6 2004l-1.4 -1.8M2429.7 2016.6l-0.8 -0.8M2429.7 2016.6l1 2.2M2411.5 2005.7l0.1 -0.8M2411.5 2005.7l-1.2 -0.4M2411.5 2005.7l1.4 -1.6M2437.1 2011.2l-2.5 -0.2M2437.1 2011.2l-1 2.3M2437.1 2011.2l-2 -2.2M2429 2018.9l1.6 -0.1M2429 2018.9l0.7 -2.3M2429 2018.9l-0.2 -3.1M2434.3 1997.4l-1 4M2434.3 1997.4l1.8 4.8M2434.3 1997.4l0.7 5.1M2426.1 2017.5l-1.2 2M2426.1 2017.5l-1.8 -1.6M2428 2000.8l-0.1 3M2428 2000.8l0.8 -3.2M2430.6 2003.7l-2.7 0.1M2430.6 2003.7l2.7 -2.3M2430.6 2003.7l-2.6 -2.9M2421 2017.6l3.1 -1.8M2426.9 2009.6l1.1 2.8M2426.9 2009.6l-2.7 -2.2M2424.8 2019.5l-0.6 -3.6M2421.5 1998.6l1.9 0.2M2421.5 1998.6l0.5 -3M2412.9 2004.1l-1.2 0.8M2422 1995.6l1.4 3.2M2429.1 1997.4l-0.2 0.2M2433.3 2001.4l1.7 1.1M2433.3 2001.4l2.8 0.8M2431.1 2009.5l0.5 -1.6M2431.1 2009.5l1 1.4M2431.1 2009.5l-0.1 -1.9M2424.3 2015.9l-3.1 -1.4M2435 2006.4l-1.3 2.9M2436.1 2002.1l1.1 0.1M2436.1 2002.1l-1.1 0.3M2430.6 2018.8l-0.5 -2.8M2415.9 2006.1l-0.5 2.1M2415.9 2006.1l2.2 2.6M2435 2002.5l2.3 -0.3M2431.6 2007.9l-0.5 -0.3M2431.6 2007.9l2.2 1.5M2423 2010.4l-2.3 -1.7M2436.1 2013.4l-1.5 -2.5M2436.1 2013.4l-4.1 -1.3M2431 2007.6l2.7 1.8M2411.6 2004.8l-1.3 0.4M2428 2012.3l-2.2 -2.5M2414.2 2009.6l1.1 -1.4M2414.2 2009.6l1.6 -3.4M2414.2 2009.6l3.8 -0.8M2415.3 2008.2l2.7 0.5M2432 2015.6l-2.4 1M2432 2015.6l-3.2 0.2M2412.9 2004.1l2.5 -7.1M2417.9 1994.5l-3.7 15M2418 1997.1l-2.1 9M2422.3 1991.4l-4.1 14.9M2418 2008.7l4 -13.1M2422 1995.6l-6.7 22.7M2415.3 2018.3l6.3 -19.7M2420.5 2002.2l-1.4 5M2416.9 2014.8l2.9 -6.2M2423.4 1998.8l-2.9 9.8M2421 2011.1l3.5 -11.3M2424.5 1999.8l-3.4 14.7M2423 2010.4l-2 7.2M2421 2017.6l3.3 -10.3M2424.9 2005.4l3.7 -11.4M2421.6 2019.1l8 -25.2M2428 2000.8l1 -3.4M2428.9 1999l-3.1 10.8M2425.8 2009.8l-1.7 6M2424.3 2015.9l3.7 -12.1M2426.9 2009.6l-2.1 9.9M2430.6 2003.7l-1.6 8.8M2428.8 2015.8l4.5 -14.4M2430.2 2016l1.9 -5.2M2432 2012.1l3 -9.7M2435 2002.5l-4.3 16.3M2430.6 2018.8l3.1 -9.4M2437.2 2002.2l-2.6 8.7M2434.7 2010.9l2.9 -7" fill="none" stroke="#1a1a1a" stroke-width="1.1"/>
<path d="M2427.5 2015.2l5.3 1.5m-1.9 -3.4l-1.5 5.3M2435.8 2007.6l-4.1 3.7m3.9 0.2l-3.7 -4.1M2431.1 1992.9l-5.1 2.1m3.6 1.5l-2.1 -5.1M2419.1 2006.5l3.2 4.5m0.6 -3.8l-4.5 3.2M2412.7 1996.4l5.4 1.2m-2.1 -3.3l-1.2 5.4M2426.7 2006.1l-4.9 2.5m3.7 1.2l-2.5 -4.9M2414.4 1995.5l5.4 0.8m-2.3 -3.1l-0.8 5.4M2430.1 2010.2l3.8 4m0.1 -3.9l-4 3.8M2415.7 2005.1l4.9 2.6m-1.1 -3.7l-2.6 4.9M2424.6 2002.6l0.5 5.5m2.5 -3l-5.5 0.5M2435.3 2002.1l5.3 1.5m-1.9 -3.4l-1.5 5.3M2431.5 2011.4l-5.1 2.2m3.6 1.4l-2.2 -5.1M2422.3 2008.6l-2.5 4.9m3.7 -1.2l-4.9 -2.5M2428.3 2008.7l-5 2.4m3.7 1.3l-2.4 -5M2412.9 2017l4.9 2.5m-1.2 -3.7l-2.5 4.9M2431.5 1998.2l-5.2 1.6m3.4 1.8l-1.6 -5.2M2426.8 1998.2l-4.5 3.1m3.8 0.7l-3.1 -4.5M2419.8 2005.8l0.2 5.5m2.6 -2.9l-5.5 0.2M2424.9 1994.1l4.7 2.9m-0.9 -3.8l-2.9 4.7M2440.3 2006.3l-4.5 3.1m3.8 0.7l-3.1 -4.5M2418.8 1991.9l-1.9 5.2m3.5 -1.6l-5.2 -1.9M2419.4 2012.3l3.5 4.3m0.4 -3.9l-4.3 3.5M2435.9 2006.3l-1.5 5.3m3.4 -1.9l-5.3 -1.5M2419.6 2006.4l-3.1 4.6m3.8 -0.8l-4.6 -3.1M2415 2000.8l5.4 1.2m-2.1 -3.3l-1.2 5.4M2431.8 1992.2l-4.4 3.3m3.8 0.6l-3.3 -4.4M2420.4 1995.7l-4.7 2.8m3.8 1l-2.8 -4.7M2415.7 2011.6l1.2 5.4m2.1 -3.3l-5.4 1.2M2440.8 2004.8l-4.7 2.9m3.8 0.9l-2.9 -4.7M2422.1 2013.9l3.9 3.9m0 -3.9l-3.9 3.9M2420.1 2005.9l0.9 5.4m2.3 -3.2l-5.4 0.9M2424.9 1990.6l-5.3 1.6m3.4 1.8l-1.6 -5.3M2416.4 2012.1l1 5.4m2.2 -3.2l-5.4 1M2424.1 2017.9l-4.9 2.4m3.7 1.3l-2.4 -4.9M2415.1 2001.2l-4.1 3.7m3.9 0.2l-3.7 -4.1M2421.2 1999.5l-1.5 5.3m3.4 -1.9l-5.3 -1.5M2420.8 1990.9l0.9 5.4m2.2 -3.2l-5.4 0.9M2411.9 2003.6l-5.5 0.7m3.1 2.4l-0.7 -5.5M2439.4 2001.9l-3.7 4.1m3.9 -0.2l-4.1 -3.7M2429.6 2013.8l0.1 5.5m2.7 -2.8l-5.5 0.1M2408.8 2005l5.3 1.3m-2 -3.3l-1.3 5.3M2437.3 2008.4l-0.4 5.5m3 -2.5l-5.5 -0.4M2428.9 2016.2l0.1 5.5m2.7 -2.8l-5.5 0.1M2433.4 1994.8l1.8 5.2m1.7 -3.5l-5.2 1.8M2428.1 2015.6l-3.9 3.8m3.9 0.1l-3.8 -3.9M2429.2 1998.3l-2.4 5m3.7 -1.3l-5 -2.4M2431.5 2001.1l-1.8 5.2m3.5 -1.7l-5.2 -1.8M2418.7 2016.1l4.6 3m-0.8 -3.8l-3 4.6M2419.2 2004.4l-0.2 5.5m2.8 -2.7l-5.5 -0.2M2424.9 2007.7l4 3.8m-0.1 -3.9l-3.8 4M2426.8 2017.6l-3.9 3.9m3.9 0l-3.9 -3.9M2419.1 1997.4l4.9 2.5m-1.2 -3.7l-2.5 4.9M2411.3 2001.8l3.2 4.5m0.6 -3.8l-4.5 3.2M2424 1993.7l-3.9 3.9m3.9 0l-3.9 -3.9M2426.3 1997.1l5.5 0.5m-2.5 -3l-0.5 5.5M2431.8 1999l2.9 4.7m0.9 -3.8l-4.7 2.9M2433.7 2008.6l-5.2 1.7m3.5 1.8l-1.7 -5.2M2423.6 2013.2l1.3 5.4m2 -3.3l-5.4 1.3M2437 2004.6l-4 3.7m3.9 0.2l-3.7 -4M2430 2001.9l-4.1 3.7m3.9 0.2l-3.7 -4.1M2431.2 2014.4l-4.8 2.8m3.8 1l-2.8 -4.8M2436.9 1999.5l-1.6 5.3m3.4 -1.9l-5.3 -1.6M2428.4 2017.2l4.5 3.1m-0.7 -3.8l-3.1 4.5M2414.2 2004l3.4 4.3m0.4 -3.9l-4.3 3.4M2436.5 2000.2l-3 4.6m3.8 -0.8l-4.6 -3M2431.5 2008.1l1.1 5.4m2.2 -3.2l-5.4 1.1M2434 2006.6l-4.9 2.5m3.7 1.2l-2.5 -4.9M2422.3 2007.8l1.4 5.3m2 -3.3l-5.3 1.4M2433.7 2008.3l1.9 5.2m1.7 -3.5l-5.2 1.9M2440 2001.9l-5.5 0.5m3 2.5l-0.5 -5.5M2437.7 2011.2l-3.3 4.4m3.8 -0.6l-4.4 -3.3M2430 1995.1l-2.3 5m3.6 -1.3l-5 -2.3M2430.8 2004.8l0.5 5.5m2.5 -3l-5.5 0.5M2414.2 2003.9l-5.2 1.9m3.5 1.6l-1.9 -5.2M2426 2010.4l4 3.8m-0.1 -3.9l-3.8 4M2426 1997.9l-5.2 1.8m3.5 1.7l-1.8 -5.2M2416.9 2008.8l-5.3 1.5m3.4 1.9l-1.5 -5.3M2414.3 2005.7l2.1 5.1m1.5 -3.6l-5.1 2.1M2408 2003.7l4.6 3m-0.8 -3.8l-3 4.6M2429.4 2014.7l5.2 1.7m-1.8 -3.5l-1.7 5.2" stroke="#6e1464" stroke-width="2.6" fill="none"/>
<path d="M2436.7 2008.2l-0.4 -1.1M2436.7 2008.2l-0.1 -2.6M2436.3 2007l0.3 -1.4M2434.9 2005.2l1.7 0.4M2434.9 2005.2l1.4 1.9M2445.8 2010.1l-0.6 0.6M2445.8 2010.1l-2.8 0.9M2445.2 2010.8l-2.2 0.2M2443.2 2008.6l-0.2 2.4M2443.2 2008.6l2 2.2M2438.1 2013.8l4.8 -2.9M2438.1 2013.8l-1.4 -5.7M2430.9 2008.1l4 -2.9M2430.9 2008.1l5.4 -1M2438.1 2013.8l5.1 -5.3" fill="none" stroke="#1a1a1a" stroke-width="1.1"/>
<path d="M2439.3 2007.6l-5.1 1.2m3.2 2l-1.2 -5.1M2434.7 2005l3.3 4.1m0.4 -3.7l-4.1 3.3M2433.2 2003.2l3.5 3.9m0.2 -3.7l-3.9 3.5M2443.5 2008.8l4.5 2.7m-0.9 -3.6l-2.7 4.5M2434.1 2004.8l5 1.5m-1.8 -3.3l-1.5 5M2447.5 2009.5l-4.7 2.4m3.5 1.1l-2.4 -4.7M2444.1 2006.1l-1.6 5m3.3 -1.7l-5 -1.6M2438.8 2011.3l-1.4 5.1m3.2 -1.9l-5.1 -1.4M2428.4 2007.4l5.1 1.4m-1.8 -3.2l-1.4 5.1M2445.2 2009.6l-4.5 2.7m3.6 0.9l-2.7 -4.5" stroke="#6e1464" stroke-width="2.5" fill="none"/>
<path d="M2431.6 1990L2539.7 1851" fill="none" stroke="#6e1464" stroke-width="7" stroke-linecap="butt" stroke-linejoin="round" />
<path d="M2305.2 1704.4L2320 1780L2331.2 1830.6L2333.9 1843.8L2336.9 1861.4L2339 1876.9L2340 1886.4L2340.7 1895.5L2341.2 1904.4L2341.1 1912.9L2340.8 1921L2337.4 1973.4" fill="none" stroke="#e6460f" stroke-width="7" stroke-linecap="butt" stroke-linejoin="round" />
<path d="M2336.6 1988.3L2352.3 2018.6" fill="none" stroke="#e6460f" stroke-width="7" stroke-linecap="butt" stroke-linejoin="round" />
<path d="M2333.4 2065.7L2320.9 2078.7" fill="none" stroke="#e6460f" stroke-width="7" stroke-linecap="butt" stroke-linejoin="round" />
<path d="M2308.2 2084.5l-2.8 1.6M2308.2 2084.5l0.3 5.6M2310.5 2090.6l-0.9 0.4M2310.5 2090.6l1.3 -0.4M2304.1 2093.5l-0 1.1M2304.1 2093.5l-3.7 -2.2M2308.5 2090.1l1 0.9M2308.5 2090.1l1.9 0.5M2300 2091.1l0.5 0.1M2300 2091.1l2 -2.4M2311.8 2090.1l-2.3 0.8M2305.4 2086l-3.3 -1M2302 2088.7l-0.1 -1.6M2302 2088.7l-1.6 2.5M2301.9 2087.1l0.3 -2.1M2310.6 2092.4l-1 -1.4M2310.6 2092.4l-0.1 -1.8M2304.1 2094.6l-3.6 -3.4M2302.2 2085l-1.7 6.2M2300.5 2091.2l1.4 -4.1M2302 2088.7l3.4 -2.7M2304.1 2094.6l4.1 -10.1M2310.6 2092.4l1.2 -2.3" fill="none" stroke="#1a1a1a" stroke-width="1.1"/>
<path d="M2307.1 2081.9l2.2 5m1.4 -3.6l-5 2.2M2310.7 2087.9l-0.5 5.5m3 -2.5l-5.5 -0.5M2302.1 2091.6l4 3.7m-0.2 -3.9l-3.7 4M2307 2087.8l3.1 4.5m0.7 -3.8l-4.5 3.1M2302.7 2090.9l-5.5 0.4m3 2.5l-0.4 -5.5M2310.8 2087.6l2.1 5.1m1.5 -3.6l-5.1 2.1M2305.1 2083.3l0.7 5.5m2.4 -3.1l-5.5 0.7M2304.7 2088l-5.3 1.4m3.4 1.9l-1.4 -5.3M2303.4 2084.8l-3 4.6m3.8 -0.8l-4.6 -3M2307 2090l5.1 2m-1.5 -3.6l-2 5.1M2313.3 2092.3l-5.5 0.3m2.9 2.6l-0.3 -5.5M2299.6 2084l5.1 2.1m-1.5 -3.6l-2.1 5.1M2306 2092.6l-3.9 3.9m3.9 -0l-3.9 -3.9M2301.2 2088.6l-1.6 5.3m3.4 -1.9l-5.3 -1.6" stroke="#e6460f" stroke-width="2.6" fill="none"/>
<path d="M2297.8 2115.4l0.7 2.3M2297.8 2115.4l2.1 -3M2297.8 2115.4l3.3 -2.6M2284.6 2115.1l0.4 -0.4M2284.6 2115.1l-2 1.4M2284.6 2115.1l-0.3 2.6M2266.2 2096.4l1.2 -1.1M2266.2 2096.4l-1.2 3.2M2266.2 2096.4l3.4 2.6M2295.7 2120.1l-0.7 -1.4M2295.7 2120.1l2.7 -2.4M2295.7 2120.1l-2.6 -3.5M2285.7 2134.3l0.4 0.2M2285.7 2134.3l-0.6 -1.1M2285.7 2134.3l-1.9 0.9M2295.5 2106.1l0 -0.6M2295.5 2106.1l0.8 1.7M2295.5 2106.1l-0.8 -2.6M2292.2 2140.9l-0.5 -4.1M2292.2 2140.9l-4.1 1.4M2292.2 2140.9l-4.8 0.3M2286 2108.5l-1.3 0.6M2286 2108.5l1.5 -3.2M2286 2108.5l-0.5 -3.8M2278.7 2113.8l-0.5 2.6M2278.7 2113.8l-0 3.1M2278.7 2113.8l1.9 3.2M2299 2133.2l0.6 2.6M2299 2133.2l3.5 1.8M2299 2133.2l-1.7 -3.7M2281.6 2093l0.9 0.7M2281.6 2093l1.5 1.5M2281.6 2093l-3.1 1.4M2287.4 2121.4l-1 2.1M2287.4 2121.4l-2.4 0M2287.4 2121.4l-2.2 1.5M2291.8 2110.5l0.8 -0.9M2291.8 2110.5l2.5 -1.8M2291.8 2110.5l-0.9 3.2M2282.5 2093.7l0.6 0.8M2282.5 2093.7l-2.2 3.1M2296.5 2097l0.4 3M2296.5 2097l-2.8 2.2M2296.5 2097l2.6 2.6M2266.5 2109.1l2 1.3M2266.5 2109.1l-2.7 1M2266.5 2109.1l1.2 3.3M2253.7 2116.6l2.6 1.2M2253.7 2116.6l1.5 -2.8M2253.7 2116.6l-1.1 3M2300 2108.6l0.8 0.9M2300 2108.6l0.7 2.2M2300 2108.6l3.3 0.3M2284.9 2100.2l0.4 0.4M2284.9 2100.2l0.2 1.5M2284.9 2100.2l4.3 1M2280.3 2096.9l-1 -0.3M2280.3 2096.9l-1.7 1.5M2280.3 2096.9l-2.3 0.8M2291.6 2096.1l2.1 3.1M2291.6 2096.1l1.8 4.5M2291.6 2096.1l4.9 0.9M2293.4 2130.8l0.7 -2.2M2293.4 2130.8l-2.2 1M2293.4 2130.8l-1.1 -2.1M2272.6 2126.7l-2.6 -0.1M2272.6 2126.7l-0.4 -3.4M2272.6 2126.7l0 3.5M2297.7 2127.8l-0.3 1.6M2297.7 2127.8l-1.4 -1.6M2297.7 2127.8l-2.3 0M2264.4 2119.6l-1.6 -0.4M2264.4 2119.6l1.6 0.7M2264.4 2119.6l-1.7 -0.5M2270.1 2126.6l-3.2 0.3M2270.1 2126.6l-3.3 -0.1M2256.5 2127.9l1.5 -2.6M2256.5 2127.9l0.9 -4.2M2256.5 2127.9l3.1 3.4M2259.7 2104.8l-1 -2.3M2259.7 2104.8l-0.5 2.9M2259.7 2104.8l2.7 -1.8M2292.8 2115.2l0.3 1.4M2292.8 2115.2l-2 -1.4M2292.8 2115.2l-2.6 -0.2M2277.6 2108.3l-0.6 1.4M2277.6 2108.3l-1.2 2.1M2277.6 2108.3l2.9 0.4M2252.6 2119.7l0.3 0.9M2252.6 2119.7l3.7 -1.8M2309.4 2118.8l-1 -3.5M2309.4 2118.8l-5.1 3.5M2309.4 2118.8l-6.9 3.6M2285 2114.7l2 -1M2285 2114.7l-2.3 1.8M2281 2134l-0 0.1M2281 2134l0 -2.8M2281 2134l-1.1 2.5M2289.4 2135.2l-1.6 0.4M2289.4 2135.2l1.7 0.8M2289.4 2135.2l2.2 1.7M2296.3 2126.2l-0 -0.4M2296.3 2126.2l-0.9 1.7M2268.6 2137.3l-1.5 0.5M2268.6 2137.3l-0.8 -1.7M2268.6 2137.3l0.2 -1.9M2278.2 2116.4l0.5 0.5M2278.2 2116.4l2.3 0.6M2278.2 2116.4l-2.4 0.8M2308.4 2115.3l-4.5 -4M2308.4 2115.3l-4.5 -4.2M2302.5 2122.4l1.8 -0.1M2302.5 2122.4l-3.1 1.6M2302.5 2122.4l-4.1 1.8M2304 2110.1l-0.1 0.4M2304 2110.1l-0.1 1M2304 2110.1l-0.1 1.2M2261 2110.1l-0.8 1.4M2261 2110.1l0 2.2M2261 2110.1l-1.9 -2M2256.3 2117.9l0.8 -2.1M2256.3 2117.9l1.6 -2.1M2304.5 2107.5l1 -1.2M2304.5 2107.5l-1.2 1.4M2304.5 2107.5l-0.5 2.6M2299.9 2112.4l1.2 0.4M2299.9 2112.4l0.8 -1.5M2299.9 2112.4l1.9 -0.6M2291.4 2124.5l-0.7 -2.9M2291.4 2124.5l0.8 4.1M2291.4 2124.5l2.7 4M2299.5 2124l-1 0.2M2299.5 2124l-3.2 1.7M2281 2131.3l1.3 -0.4M2281 2131.3l-1.7 -2.2M2267.7 2117.2l0.6 0.5M2267.7 2117.2l-1.6 -1.5M2267.7 2117.2l-2.5 0.8M2268.9 2134.3l-0 1.1M2268.9 2134.3l-1 1.4M2268.9 2134.3l-0.3 3.1M2285.8 2124.8l-0.5 -0.1M2285.8 2124.8l0.6 -1.4M2285.8 2124.8l-0.7 -2M2275.8 2117.2l2.9 -0.3M2275.8 2117.2l-1.2 3.6M2253.5 2110.3l1.7 3.6M2253.5 2110.3l3.3 3.4M2253.5 2110.3l5.6 -2.2M2284.4 2127.8l1.8 -0.8M2284.4 2127.8l-2 -1.9M2284.4 2127.8l-1.3 -2.8M2257.9 2115.8l-0.7 -0.1M2257.9 2115.8l-1.1 -2.1M2257.9 2115.8l2.4 -0.6M2285 2142.4l0.5 0.3M2285 2142.4l2.3 -1.4M2285 2142.4l2.4 -1.2M2256.8 2113.7l-1.6 0.2M2256.8 2113.7l0.3 2.1M2270.8 2099.1l-1.2 -0.1M2270.8 2099.1l-0.1 3.3M2270.8 2099.1l2.4 -2.8M2303.3 2108.9l0.7 1.2M2303.3 2108.9l0.6 1.5M2272.7 2130.2l-3.6 0.7M2272.7 2130.2l4 -1.8M2301.2 2127.7l0.4 1.2M2301.2 2127.7l-3.5 0.1M2301.2 2127.7l-1.7 -3.7M2293.7 2099.2l-0.3 1.5M2293.7 2099.2l2.3 1.5M2293.7 2099.2l3.2 0.9M2291.2 2131.8l-2.5 -0.9M2291.2 2131.8l1.1 -3.1M2259.7 2132.7l-0.1 -1.5M2259.7 2132.7l0.4 -1.9M2259.7 2132.7l1.2 2M2285.3 2100.6l-0.1 1.1M2285.3 2100.6l3.9 0.6M2272.2 2111.3l1.7 -1.8M2272.2 2111.3l0.5 -3.6M2272.2 2111.3l-3.7 -0.9M2265.2 2118l-0.8 1.6M2265.2 2118l-2.3 -0.1M2265.2 2118l0.8 2.3M2266.8 2126.5l0.1 0.4M2266.8 2126.5l-1.6 -1.3M2285.5 2104.6l2 0.7M2285.5 2104.6l-2.7 -0.5M2285.5 2104.6l-0.4 -2.9M2298.4 2124.3l-2.2 1.5M2298.4 2124.3l-2.2 1.9M2301.1 2112.8l0.7 -1M2301.1 2112.8l-0.5 -1.9M2261.4 2118.2l1.4 -0.3M2261.4 2118.2l1.3 0.8M2261.4 2118.2l1.4 1M2259.1 2108.1l0.1 -0.4M2259.1 2108.1l0.7 -3.3M2260.9 2134.7l-1.3 -3.5M2260.9 2134.7l-0.8 -4M2279.9 2136.6l1.1 -2.4M2279.9 2136.6l-0.9 2.8M2264.1 2105.5l-1.6 1.2M2264.1 2105.5l-1.7 -2.5M2264.1 2105.5l3.5 -0.5M2270.8 2107.1l-0.1 0.3M2270.8 2107.1l-0.6 -0.5M2270.8 2107.1l1.9 0.6M2299.1 2099.6l-1.3 1.8M2299.1 2099.6l-2.3 0.4M2299.1 2099.6l-3.1 1.1M2262.8 2119.2l-0.1 -0.1M2262.8 2119.2l0.1 -1.3M2291.1 2136l0.6 0.9M2291.1 2136l2.2 -0.4M2256.3 2104.8l2.5 -2.3M2256.3 2104.8l3.5 0M2256.3 2104.8l2.9 2.9M2266.6 2137.4l0.4 0.4M2266.6 2137.4l2 -0.1M2266.6 2137.4l1.2 -1.8M2300.7 2110.8l0.2 -1.4M2300.7 2110.8l1.2 0.9M2266.1 2115.7l-0.9 2.3M2266.1 2115.7l2.2 2M2272.7 2107.7l-2 -0.3M2272.7 2107.7l1.2 1.8M2284.8 2138.1l-1.3 1M2284.8 2138.1l2 0.9M2284.8 2138.1l-1 -2.9M2262.6 2119.1l0.2 -1.2M2269.6 2099l1.1 3.4M2269.6 2099l-2.2 -3.6M2285.3 2124.8l1.1 -1.3M2285.3 2124.8l-0.2 -1.9M2265 2099.6l0 1.1M2265 2099.6l-2.6 3.4M2259.9 2113.7l0.3 1.5M2259.9 2113.7l1.1 -1.4M2259.9 2113.7l0.3 -2.2M2259.6 2122.3l-2.2 1.4M2259.6 2122.3l-1.6 2.9M2259.6 2122.3l3.1 -3.1M2281 2134.1l0 -2.9M2282.6 2116.5l0.6 1.2M2282.6 2116.5l1.7 1.2M2282.6 2116.5l-2.1 0.4M2282.4 2126l0.7 -0.9M2282.4 2126l-0.6 -1.1M2282.4 2126l-0.7 -1.4M2279.8 2128l-0.4 1M2279.8 2128l-3.1 0.3M2279.8 2128l0.4 -3.3M2296 2100.7l0.9 -0.6M2296 2100.7l1.9 0.8M2296 2100.7l0.4 2.3M2285.1 2133.2l1 1.3M2285.1 2133.2l-1.3 2M2303.9 2110.5l0 0.6M2303.9 2110.5l0.1 0.8M2267.7 2112.4l0.8 -2.1M2267.7 2112.4l-1.6 3.2M2295.5 2105.6l-0.8 -2M2295.5 2105.6l0.8 2.3M2286.1 2134.5l1.7 1.1M2278.2 2124.5l-0.4 -1.5M2278.2 2124.5l1.9 0.2M2278.2 2124.5l1.3 -1.4M2283.5 2139.1l3.3 -0.1M2283.5 2139.1l1.6 3.4M2284.7 2109.1l-2.5 -2.1M2284.7 2109.1l-3.9 -0.6M2282.4 2130.9l-1.4 3.1M2282.4 2130.9l-1.4 3.2M2262.4 2103l2.6 -2.3M2290.9 2113.7l-0.6 1.2M2302.5 2134.9l-2.9 0.8M2302.5 2134.9l-1 -6M2287.8 2135.6l-2.2 -1.3M2277.8 2123l1.7 0.1M2277.8 2123l2.3 1.8M2278.6 2094.5l-2 -0.3M2278.6 2094.5l0.7 2.1M2278.6 2094.5l1.7 2.4M2272.2 2123.3l2.4 -2.5M2272.2 2123.3l-3.9 -0.3M2260.2 2111.5l0.8 0.7M2260.1 2130.7l-0.5 0.5M2260.1 2130.7l3.2 -1.8M2287.3 2141.1l0.1 0.2M2287.3 2141.1l0.8 1.3M2287.3 2141.1l-0.5 -2.1M2288.7 2130.9l-1.4 -0.4M2288.7 2130.9l3.5 -2.2M2293.2 2135.6l1.5 0.5M2293.2 2135.6l-1.6 1.3M2269.1 2130.9l-0.2 3.4M2269.1 2130.9l1 -4.3M2281.7 2124.6l0.1 0.3M2281.7 2124.6l1.3 0.5M2281.7 2124.6l-1.5 0.2M2263.8 2110.1l-2.8 0M2263.8 2110.1l-2.8 2.2M2298.5 2117.7l-3.4 1M2289.2 2101.2l-4 0.5M2289.2 2101.2l4.2 -0.5M2296.9 2100.1l1 1.4M2285.6 2142.7l1.9 -1.4M2285.6 2142.7l1.7 -1.6M2277 2109.7l-0.5 0.7M2277 2109.7l-3.1 -0.2M2259.2 2107.7l1.8 2.4M2280.1 2124.7l1.6 0.1M2280.1 2124.7l-0.6 -1.7M2277.9 2097.7l0.6 0.7M2277.9 2097.7l1.3 -1.1M2300.9 2104.9l0.4 -1.7M2300.9 2104.9l-0.9 3.7M2300.9 2104.9l3.6 2.6M2270.3 2106.5l0.4 0.9M2270.3 2106.5l2.5 1.2M2279.3 2096.6l-0.7 1.8M2301.6 2129l-3.9 -1.2M2301.6 2129l-4.2 0.5M2292.6 2109.6l1.7 -0.9M2292.6 2109.6l3.7 -1.8M2258.7 2102.5l3.7 0.5M2305.5 2106.3l-2.2 2.6M2305.5 2106.3l-1.5 3.8M2276.9 2136.4l3 0.1M2276.9 2136.4l2.1 2.9M2276.9 2136.4l-3.6 -1.2M2280.6 2116.9l-1.9 -0M2285.1 2122.8l1.3 0.6M2285.1 2122.8l-0.2 -1.5M2288.1 2142.4l-0.7 -1.1M2288.1 2142.4l-2.5 0.3M2267.1 2137.8l0.8 -2.2M2275 2104.6l-2.2 3.1M2275 2104.6l2.7 3.7M2275 2104.6l-4.2 -2.2M2283.2 2117.7l1.1 -0M2283.2 2117.7l-0.6 2.4M2266.9 2126.9l-1.7 -1.7M2297.3 2129.4l-2 -1.6M2297.3 2129.4l-3.3 -0.9M2287 2113.7l-2.4 1.4M2287 2113.7l3.2 1.2M2268.3 2123l-2.3 -2.7M2268.3 2123l-3.1 2.2M2268.3 2123l-1.5 3.5M2293.4 2100.7l2.6 0M2293.4 2100.7l1.3 2.8M2296.2 2125.7l-0.9 2.1M2296.2 2125.7l1.4 2.1M2276.6 2128.4l2.7 0.7M2276.6 2128.4l1.6 -3.9M2294.7 2136.1l-0.5 -2.7M2294.7 2136.1l-3 0.8M2279.9 2104.1l2.9 0M2279.9 2104.1l2.2 2.9M2279.9 2104.1l0.9 4.4M2295.4 2127.8l-1.3 0.7M2257.4 2123.7l0.6 1.6M2263.3 2128.9l3.6 -2M2263.3 2128.9l1.9 -3.7M2272.2 2118.7l2.4 2.1M2272.2 2118.7l3.6 -1.5M2272.2 2118.7l-3.9 -1M2283.1 2094.6l-2.9 2.3M2282.2 2107l-1.4 1.4M2282.2 2107l-1.6 1.8M2282.2 2107l0.7 -2.9M2290.7 2121.6l-3.3 -0.2M2290.7 2121.6l-4.3 1.8M2274 2141.2l2.6 0M2274 2141.2l-4.9 -0.1M2274 2141.2l5 -1.8M2276.6 2094.2l2.7 2.5M2276.6 2094.2l1.4 3.6M2284.9 2121.4l1.5 2M2282.5 2120.1l-1.8 -0.7M2282.5 2120.1l2.4 1.3M2301.3 2103.2l-3.4 -1.7M2301.3 2103.2l-2.1 -3.6M2292.3 2128.6l1.8 -0.1M2292.3 2128.6l3.1 -0.8M2297.9 2101.5l-1.4 1.5M2267.6 2105l2.7 1.6M2267.6 2105l3.3 2.1M2280.8 2108.4l-0.3 0.4M2280.8 2108.4l-3.2 -0.1M2304.4 2122.4l-4.9 1.7M2260.3 2115.2l0.8 -2.9M2255.2 2113.9l1.9 1.9M2268.8 2135.4l-1 0.3M2299.6 2135.8l-4.9 0.3M2294.6 2103.5l1.8 -0.5M2303.9 2111.3l-0.1 -0.2M2283.8 2135.2l2.3 -0.7M2276.4 2110.4l-2.5 -0.9M2290.2 2115l2.9 1.6M2285.9 2118.1l-1.6 -0.4M2285.9 2118.1l-2.7 -0.4M2285.9 2118.1l-1.3 -3M2279 2139.3l-2.4 1.9M2287.4 2130.4l-2.2 2.7M2287.4 2130.4l-1.2 -3.4M2268.5 2110.4l2.2 -3M2281.8 2124.8l1.2 0.2M2280.7 2119.3l-0.2 -2.4M2280.7 2119.3l2.4 -1.6M2276.5 2141.2l0.4 -4.8M2267.4 2095.4l-2.4 4.3M2273.2 2096.3l3.4 -2.2M2273.2 2096.3l-3.6 2.7M2266 2120.3l-3.2 -1.1M2296.3 2107.8l-2 0.9M2273.3 2135.2l-4.4 0.2M2273.3 2135.2l-4.4 -1M2265 2100.7l1.2 -4.3M2294.2 2133.4l-0.9 2.2M2294.2 2133.4l-0.8 -2.6M2286.8 2139l0.6 2.3M2268.3 2117.7l-3.1 0.3M2294.2 2108.7l1.2 -2.6M2286.2 2127l-0.4 -2.2M2286.2 2127l-0.9 -2.3M2270.7 2102.4l-3.1 2.6M2252.9 2120.6l0.8 -4M2252.9 2120.6l3.4 -2.7M2287.5 2105.3l-2.4 -3.6M2300.8 2109.5l1 2.3M2262.5 2106.7l-2.8 -1.9M2262.5 2106.7l-3.3 1M2269.1 2141l-0.5 -3.7M2269.1 2141l-2 -3.2M2269.1 2141l-2.5 -3.6M2295 2118.7l-1.9 -2.1M2252.9 2120.6l2.3 -6.7M2255.2 2113.9l3.5 -11.4M2258.7 2102.5l-1.9 11.2M2257.9 2115.8l4.5 -12.8M2262.4 2103l-2.1 8.5M2257.4 2123.7l3.6 -11.4M2260.3 2115.2l-3.8 12.6M2256.5 2127.9l8.5 -28.2M2264.1 2105.5l3.3 -10.1M2259.6 2122.3l4.2 -12.2M2263.8 2110.1l-2.4 8.2M2262.8 2119.2l-3.1 12M2267.6 2105l-1.1 4.1M2259.7 2132.7l4.6 -13M2270.8 2099.1l-5.7 18.9M2263.3 2128.9l2.7 -8.6M2266 2120.3l7.2 -24M2265.2 2125.2l2.5 -8M2268.3 2117.7l-1.5 8.8M2266.8 2126.5l9.8 -32.4M2266.9 2126.9l5.8 -19.2M2272.7 2107.7l-4.4 15.3M2278.6 2094.5l-0.6 3.2M2272.2 2118.7l-5.6 18.8M2266.6 2137.4l3.4 -10.9M2272.2 2123.3l8.1 -26.4M2280.3 2096.9l-11.4 38.5M2281.6 2093l-5.2 17.4M2282.5 2093.7l-9.9 33M2275.8 2117.2l4.1 -13.1M2279.9 2104.1l-10.8 37M2269.1 2141l14 -46.5M2278.7 2116.9l-5.5 18.4M2273.3 2135.2l9.6 -31.2M2282.2 2107l-4.3 16M2284.9 2100.2l-8.3 28.2M2276.6 2128.4l8.6 -27.8M2285.3 2100.6l-7 23.9M2278.2 2124.5l6.9 -22.8M2279.6 2123.1l1.2 -3.7M2280.1 2124.7l2.5 -8.2M2282.6 2116.5l-5.7 19.9M2279.8 2128l3.4 -10.3M2281.8 2124.8l3.2 -10.1M2289.2 2101.2l-4.9 16.5M2284.3 2117.7l-2 8.3M2282.4 2126l-1.3 5.3M2283 2125l-4.1 14.3M2287 2113.7l-6 20.3M2285.9 2118.1l-3.6 12.8M2286.4 2123.4l7.3 -24.2M2293.4 2100.7l-6 20.7M2290.9 2113.7l-5.8 19.4M2285.1 2133.2l-1.7 5.9M2283.5 2139.1l9.1 -29.4M2292.6 2109.6l3.9 -12.6M2296.5 2097l-1.9 6.5M2284.8 2138.1l11.2 -37.4M2296 2100.7l-9.9 33.8M2286.1 2134.5l1.3 -4M2287.4 2130.4l6.9 -21.7M2296.4 2103l-3.6 12.2M2292.8 2115.2l-7.8 27.2M2285 2142.4l3.7 -11.6M2293.1 2116.6l4.7 -15.1M2287.8 2135.6l8.4 -27.7M2296.3 2107.8l-4.9 16.7M2291.4 2124.5l7.7 -24.9M2299.1 2099.6l-11.9 41.4M2287.4 2141.3l2 -6.1M2289.4 2135.2l5.6 -16.4M2295 2118.7l-3.8 13M2291.2 2131.8l-3.1 10.6M2297.8 2115.4l2.2 -6.8M2294.1 2128.5l-2.4 8.3M2291.7 2136.9l8.2 -24.5M2299.9 2112.4l0.9 -2.9M2295.4 2127.8l3.1 -10.1M2296.3 2126.2l-2.1 7.2M2294.2 2133.4l-2 7.6M2292.2 2140.9l8.9 -28.2M2294.7 2136.1l3.7 -11.8M2303.3 2108.9l-5.6 18.9M2297.3 2129.4l2.1 -5.4M2304.5 2107.5l-0.6 3M2303.9 2111.3l1.6 -5M2302.5 2122.4l-1.4 5.3M2299.6 2135.8l4.7 -13.4" fill="none" stroke="#1a1a1a" stroke-width="1.1"/>
<path d="M2299.7 2113.2l-3.7 4.4m4.1 -0.3l-4.4 -3.7M2281.7 2114.9l5.7 0.4m-2.7 -3.1l-0.4 5.7M2268.2 2094.4l-4.1 4m4.1 0.1l-4 -4.1M2296.6 2117.4l-1.7 5.5m3.6 -1.9l-5.5 -1.7M2286.3 2131.5l-1.3 5.6m3.5 -2.1l-5.6 -1.3M2298.3 2105.8l-5.7 0.7m3.2 2.5l-0.7 -5.7M2294.7 2139.6l-5.1 2.7m3.9 1.2l-2.7 -5.1M2288.8 2107.8l-5.6 1.4m3.5 2.1l-1.4 -5.6M2276.1 2112.7l5.3 2.1m-1.6 -3.7l-2.1 5.3M2297.5 2130.8l3.2 4.8m0.8 -4l-4.8 3.2M2283.8 2091.2l-4.4 3.7m4 0.4l-3.7 -4.4M2288.1 2118.6l-1.5 5.6m3.5 -2l-5.6 -1.5M2294.2 2109.1l-5 2.9m3.9 1l-2.9 -5M2279.6 2093.5l5.7 0.4m-2.7 -3.1l-0.4 5.7M2295.2 2094.5l2.7 5.1m1.2 -3.9l-5.1 2.7M2263.7 2108.5l5.6 1.1m-2.3 -3.4l-1.1 5.6M2251.3 2115.1l4.9 3.1m-0.9 -4l-3.1 4.9M2302.2 2106.8l-4.5 3.6m4 0.4l-3.6 -4.5M2287.6 2099.3l-5.5 1.8m3.6 1.8l-1.8 -5.5M2283.1 2096.3l-5.6 1.2m3.4 2.2l-1.2 -5.6M2294.5 2095.8l-5.7 0.7m3.2 2.5l-0.7 -5.7M2294.1 2128l-1.5 5.6m3.5 -2l-5.6 -1.5M2275.4 2125.8l-5.5 1.7m3.6 1.9l-1.7 -5.5M2300.6 2127.6l-5.7 0.5m3.1 2.6l-0.5 -5.7M2261.6 2119.1l5.6 1.2m-2.2 -3.4l-1.2 5.6M2272.6 2125.3l-5.2 2.5m3.8 1.3l-2.5 -5.2M2257 2125l-1 5.7m3.3 -2.3l-5.7 -1M2258.8 2102.1l1.8 5.5m1.8 -3.6l-5.5 1.8M2290.8 2113.1l4 4.1m0 -4.1l-4.1 4M2275.5 2106.4l4.3 3.8m-0.2 -4.1l-3.8 4.3M2250 2118.4l5.2 2.5m-1.3 -3.8l-2.5 5.2M2306.6 2118.1l5.6 1.4m-2.1 -3.5l-1.4 5.6M2287.4 2113.1l-4.8 3.2m4 0.8l-3.2 -4.8M2282.7 2131.7l-3.3 4.7m4 -0.7l-4.7 -3.3M2287 2133.7l4.9 3m-1 -3.9l-3 4.9M2296.4 2123.3l-0.3 5.7m3 -2.7l-5.7 -0.3M2271.4 2136.8l-5.7 1m3.3 2.3l-1 -5.7M2280.2 2114.2l-3.8 4.3m4.1 -0.2l-4.3 -3.8M2311 2114l-5.1 2.6m3.9 1.3l-2.6 -5.1M2300.7 2120.2l3.8 4.3m0.3 -4.1l-4.3 3.8M2302.6 2107.5l2.7 5.1m1.2 -3.9l-5.1 2.7M2262.8 2107.9l-3.7 4.4m4 -0.4l-4.4 -3.7M2253.4 2117.5l5.7 0.9m-2.4 -3.3l-0.9 5.7M2307.3 2106.9l-5.6 1.1m3.4 2.3l-1.1 -5.6M2297.1 2111.5l5.5 1.7m-1.9 -3.6l-1.7 5.5M2288.6 2123.8l5.6 1.4m-2.1 -3.5l-1.4 5.6M2299.1 2121.2l0.8 5.7m2.4 -3.3l-5.7 0.8M2281.3 2128.4l-0.5 5.7m3.1 -2.6l-5.7 -0.5M2270.5 2116.5l-5.6 1.4m3.5 2.1l-1.4 -5.6M2271 2132.3l-4.2 3.9m4.1 0.2l-3.9 -4.2M2288.3 2123.3l-4.9 3m3.9 1l-3 -4.9M2275.5 2114.3l0.6 5.7m2.6 -3.2l-5.7 0.6M2254.7 2107.7l-2.4 5.2m3.8 -1.4l-5.2 -2.4M2283.2 2125.2l2.3 5.3m1.5 -3.8l-5.3 2.3M2257 2113.1l1.6 5.5m1.9 -3.6l-5.5 1.6M2285.2 2139.6l-0.4 5.7m3.1 -2.7l-5.7 -0.4M2256.5 2110.9l0.6 5.7m2.5 -3.2l-5.7 0.6M2273.6 2098.2l-5.5 1.8m3.6 1.8l-1.8 -5.5M2300.7 2107.6l5.1 2.6m-1.2 -3.9l-2.6 5.1M2269.8 2129.8l5.7 0.9m-2.4 -3.3l-0.9 5.7M2299.4 2125.5l3.6 4.5m0.5 -4l-4.5 3.6M2290.8 2098.8l5.7 0.8m-2.4 -3.3l-0.8 5.7M2288.7 2130.3l5 2.8m-1.1 -3.9l-2.8 5M2261 2130.1l-2.5 5.2m3.8 -1.3l-5.2 -2.5M2284 2098l2.5 5.2m1.3 -3.9l-5.2 2.5M2269.8 2109.8l5 2.9m-1.1 -3.9l-2.9 5M2268 2117.4l-5.6 1.1m3.4 2.3l-1.1 -5.6M2264.3 2125.2l5.1 2.7m-1.2 -3.9l-2.7 5.1M2282.9 2103.4l5.2 2.5m-1.4 -3.8l-2.5 5.2M2297.8 2121.5l1.4 5.6m2.1 -3.5l-5.6 1.4M2299.1 2110.8l4.1 4m-0.1 -4.1l-4 4.1M2264 2117.1l-5.3 2.2m3.8 1.5l-2.2 -5.3M2260.9 2105.9l-3.6 4.5m4 -0.4l-4.5 -3.6M2261.1 2131.8l-0.3 5.7m3 -2.7l-5.7 -0.3M2280 2133.7l-0.2 5.7m3 -2.8l-5.7 -0.2M2265.7 2103.1l-3.1 4.8m4 -0.9l-4.8 -3.1M2268 2107l5.7 0.2m-2.8 -3l-0.2 5.7M2298.8 2096.8l0.6 5.7m2.6 -3.2l-5.7 0.6M2263.8 2116.6l-2.2 5.3m3.7 -1.6l-5.3 -2.2M2288.9 2134.1l4.4 3.7m-0.3 -4.1l-3.7 4.4M2253.9 2103.1l4.7 3.3m-0.7 -4l-3.3 4.7M2267 2134.6l-0.9 5.7m3.3 -2.4l-5.7 -0.9M2303.5 2110.8l-5.7 0.2m3 2.8l-0.2 -5.7M2267.8 2113.4l-3.4 4.6m4 -0.6l-4.6 -3.4M2270.1 2106.5l5.2 2.4m-1.4 -3.8l-2.4 5.2M2287.7 2138.1l-5.7 0m2.9 2.9l-0 -5.7M2262.7 2116.2l-0.1 5.7m2.9 -2.8l-5.7 -0.1M2270.6 2096.3l-2 5.4m3.7 -1.7l-5.4 -2M2287.6 2123.1l-4.7 3.3m4 0.7l-3.3 -4.7M2266.6 2097.3l-3.3 4.7m4 -0.7l-4.7 -3.3M2261.1 2111.1l-2.2 5.3m3.8 -1.5l-5.3 -2.2M2256.8 2122l5.7 0.5m-2.6 -3.1l-0.5 5.7M2280 2131.5l2.1 5.4m1.6 -3.7l-5.4 2.1M2284.4 2114.3l-3.6 4.5m4 -0.4l-4.5 -3.6M2279.5 2125.4l5.6 1.1m-2.3 -3.4l-1.1 5.6M2276.9 2127.8l5.7 0.4m-2.7 -3.1l-0.4 5.7M2296.3 2097.9l-0.6 5.7m3.1 -2.6l-5.7 -0.6M2287.4 2131.4l-4.6 3.5m4 0.5l-3.5 -4.6M2301.5 2108.8l4.7 3.4m-0.7 -4l-3.4 4.7M2264.9 2112l5.7 0.9m-2.4 -3.3l-0.9 5.7M2293.2 2103.8l4.6 3.5m-0.5 -4l-3.5 4.6M2283.2 2134.3l5.7 0.4m-2.7 -3.1l-0.4 5.7M2277 2121.9l2.4 5.2m1.4 -3.8l-5.2 2.4M2281.4 2137l4.1 4.1m-0 -4.1l-4.1 4.1M2282.2 2107.6l5 2.8m-1.1 -3.9l-2.8 5M2282.1 2128l0.5 5.7m2.6 -3.1l-5.7 0.5M2259.7 2102.1l5.4 1.9m-1.8 -3.7l-1.9 5.4M2293.1 2111.9l-4.4 3.6m4 0.4l-3.6 -4.4M2299.8 2134.1l5.5 1.6m-2 -3.5l-1.6 5.5M2288.4 2132.8l-1.2 5.6m3.4 -2.2l-5.6 -1.2M2280.6 2122.1l-5.5 1.7m3.6 1.9l-1.7 -5.5M2278.6 2091.6l0 5.7m2.9 -2.9l-5.7 0M2270 2121.5l4.5 3.6m-0.5 -4l-3.6 4.5M2257.8 2110l4.8 3.1m-0.8 -4l-3.1 4.8M2263 2130.7l-5.7 0m2.9 2.9l-0 -5.7M2286.3 2138.4l1.9 5.4m1.8 -3.7l-5.4 1.9M2291.6 2130.5l-5.7 0.8m3.2 2.5l-0.8 -5.7M2290.7 2134.2l5.1 2.7m-1.2 -3.9l-2.7 5.1M2267.4 2128.5l3.3 4.7m0.7 -4l-4.7 3.3M2279.6 2122.6l4.2 4m-0.1 -4.1l-4 4.2M2263.8 2107.2l0 5.7m2.9 -2.9l-5.7 0M2301.2 2117l-5.6 1.5m3.5 2l-1.5 -5.6M2292 2100.7l-5.7 1m3.3 2.3l-1 -5.7M2295.3 2097.6l3.1 4.9m0.9 -4l-4.9 3.1M2282.9 2141.6l5.3 2.3m-1.5 -3.8l-2.3 5.3M2274.1 2109.5l5.7 0.5m-2.6 -3.1l-0.5 5.7M2256.5 2106.9l5.5 1.6m-1.9 -3.6l-1.6 5.5M2280.6 2121.9l-0.8 5.7m3.3 -2.4l-5.7 -0.8M2280.4 2096.2l-4.9 3.1m4 0.9l-3.1 -4.9M2300.1 2102.2l1.6 5.5m2 -3.6l-5.5 1.6M2268 2104.8l4.6 3.5m-0.5 -4l-3.5 4.6M2277.8 2094.1l2.9 5m1 -3.9l-5 2.9M2300.2 2126.5l2.8 5m1.1 -3.9l-5 2.8M2261.3 2115.5l3 4.9m1 -3.9l-4.9 3M2290.9 2107.3l3.3 4.7m0.7 -4l-4.7 3.3M2254.5 2114.7l5.3 2.2m-1.5 -3.8l-2.2 5.3M2256.5 2100.7l4.5 3.5m-0.5 -4l-3.5 4.5M2305.4 2103.4l0.1 5.7m2.8 -2.9l-5.7 0.1M2278.2 2133.9l-2.7 5.1m3.9 -1.2l-5.1 -2.7M2277.9 2116l5.4 1.9m-1.7 -3.7l-1.9 5.4M2287.7 2121.5l-5.1 2.6m3.9 1.2l-2.6 -5.1M2286 2140.4l4.1 4m-0.1 -4.1l-4 4.1M2264.3 2137l5.5 1.6m-1.9 -3.6l-1.6 5.5M2274.1 2101.9l1.7 5.5m1.9 -3.6l-5.5 1.7M2285.9 2116.8l-5.4 1.9m3.7 1.8l-1.9 -5.4M2268 2124.2l-2.1 5.3m3.7 -1.6l-5.3 -2.1M2299.3 2127.3l-3.9 4.2m4.1 -0.1l-4.2 -3.9M2286.4 2110.9l1.3 5.6m2.2 -3.4l-5.6 1.3M2271.2 2122.7l-5.7 0.5m3.1 2.6l-0.5 -5.7M2290.5 2100.5l5.7 0.4m-2.7 -3.1l-0.4 5.7M2294.6 2123.4l3.4 4.7m0.6 -4l-4.7 3.4M2273.8 2127.9l5.7 0.9m-2.4 -3.3l-0.9 5.7M2297.2 2134.7l-5 2.8m3.9 1.1l-2.8 -5M2277.4 2102.8l5.2 2.5m-1.4 -3.8l-2.5 5.2M2292.8 2126.5l5 2.8m-1.1 -3.9l-2.8 5M2254.7 2123l5.6 1.4m-2.1 -3.5l-1.4 5.6M2262.2 2126.2l2.2 5.3m1.6 -3.7l-5.3 2.2M2273.9 2116.4l-3.5 4.6m4 -0.6l-4.6 -3.5M2285.1 2092.5l-4 4.1m4.1 -0.1l-4.1 -4M2284.2 2104.9l-4 4.1m4.1 -0.1l-4.1 -4M2289 2135.8l5.4 2.1m-1.6 -3.7l-2.1 5.4M2282.6 2100.4l5.1 2.6m-1.2 -3.9l-2.6 5.1M2300.3 2109.3l3 4.9m0.9 -4l-4.9 3M2291.3 2118.8l-1.3 5.6m3.5 -2.1l-5.6 -1.3M2290.1 2140.4l-5.5 1.8m3.6 1.8l-1.8 -5.5M2275.6 2138.8l-3.3 4.7m4 -0.7l-4.7 -3.3M2276.9 2091.3l-0.6 5.7m3.1 -2.6l-5.7 -0.6M2285.5 2118.6l-1.2 5.6m3.4 -2.2l-5.6 -1.2M2281.4 2117.4l2.2 5.3m1.5 -3.8l-5.3 2.2M2284 2121.8l4.7 3.3m-0.7 -4l-3.3 4.7M2303.1 2101l-3.7 4.4m4.1 -0.3l-4.4 -3.7M2292.6 2125.8l-0.7 5.7m3.2 -2.5l-5.7 -0.7M2297.4 2098.7l1 5.7m2.4 -3.3l-5.7 1M2264.7 2104.7l5.7 0.4m-2.7 -3.1l-0.4 5.7M2281.6 2105.7l-1.7 5.5m3.6 -1.9l-5.5 -1.7M2307.2 2122.4l-5.7 0m2.9 2.9l-0 -5.7M2263.1 2115.1l-5.7 0.3m3 2.7l-0.3 -5.7M2254.6 2111.1l1.2 5.6m2.2 -3.4l-5.6 1.2M2266.8 2133.4l4.1 4m-0 -4.1l-4 4.1M2275.7 2098l5.7 0.7m-2.5 -3.2l-0.7 5.7M2297.2 2134.2l4.8 3.2m-0.8 -4l-3.2 4.8M2296.5 2101.3l-3.7 4.4m4 -0.4l-4.4 -3.7M2305.6 2108.9l-3.3 4.7m4 -0.7l-4.7 -3.3M2271.8 2120.1l5.6 1.3m-2.1 -3.5l-1.3 5.6M2286.2 2133.7l-4.9 3m4 0.9l-3 -4.9M2274 2108.8l4.8 3.2m-0.8 -4l-3.2 4.8M2287.5 2114.1l5.5 1.7m-1.9 -3.6l-1.7 5.5M2285.2 2115.4l1.4 5.6m2.1 -3.5l-5.6 1.4M2256.8 2130.8l5.7 0.9m-2.4 -3.3l-0.9 5.7M2281.7 2138.5l-5.5 1.7m3.6 1.9l-1.7 -5.5M2289.4 2128.5l-4.1 4m4.1 0.1l-4 -4.1M2293.6 2102.5l5.7 0.9m-2.4 -3.3l-0.9 5.7M2266.2 2108.7l4.7 3.4m-0.7 -4l-3.4 4.7M2281.2 2122l1.2 5.6m2.2 -3.4l-5.6 1.2M2281.6 2116.6l-1.6 5.5m3.6 -1.9l-5.5 -1.6M2304.3 2108.2l-0.8 5.7m3.2 -2.5l-5.7 -0.8M2278.1 2138.8l-3.1 4.8m4 -0.9l-4.8 -3.1M2281.5 2117.4l5.7 0.6m-2.6 -3.2l-0.6 5.7M2280 2120.2l-0.8 5.7m3.2 -2.5l-5.7 -0.8M2270.1 2094.5l-5.5 1.7m3.6 1.9l-1.7 -5.5M2275.1 2094.2l-3.8 4.3m4.1 -0.2l-4.3 -3.8M2268.8 2119.7l-5.6 1.2m3.4 2.2l-1.2 -5.6M2278.3 2126.4l2.2 5.3m1.6 -3.7l-5.3 2.2M2299.1 2107.3l-5.6 1.2m3.4 2.2l-1.2 -5.6M2280.9 2115l-4.4 3.7m4.1 0.3l-3.7 -4.4M2265.3 2122.3l-0.1 5.7m2.9 -2.8l-5.7 -0.1M2275.8 2134l-5.2 2.5m3.8 1.4l-2.5 -5.2M2259.8 2109.7l2.4 5.2m1.4 -3.8l-5.2 2.4M2262.1 2100.4l5.7 0.7m-2.5 -3.2l-0.7 5.7M2270.9 2104.5l-0.4 5.7m3.1 -2.7l-5.7 -0.4M2291.8 2131.7l4.8 3.2m-0.8 -4l-3.2 4.8M2289.7 2138.9l-5.7 0.2m3 2.8l-0.2 -5.7M2281.1 2122.9l3.8 4.3m0.2 -4.1l-4.3 3.8M2265.5 2117l5.6 1.3m-2.1 -3.5l-1.3 5.6M2281.3 2101.7l3.1 4.9m0.9 -4l-4.9 3.1M2255.2 2124.8l5.7 0.8m-2.4 -3.2l-0.8 5.7M2279.9 2106l1.2 5.6m2.2 -3.4l-5.6 1.2M2265 2135.3l5.7 0.8m-2.5 -3.2l-0.8 5.7M2292.5 2106.4l3.5 4.6m0.5 -4l-4.6 3.5M2286.9 2124.2l-1.4 5.6m3.5 -2.1l-5.6 -1.4M2269.6 2099.8l2.3 5.3m1.5 -3.8l-5.3 2.3M2250.8 2118.6l4.1 4m-0 -4.1l-4 4.1M2296.9 2128.1l-5.7 0.9m3.3 2.4l-0.9 -5.7M2285.5 2103.2l4 4.1m0.1 -4.1l-4.1 4M2300 2106.7l1.6 5.5m2 -3.5l-5.5 1.6M2259.6 2106.6l5.7 0.3m-2.7 -3l-0.3 5.7M2269.8 2138.3l-1.5 5.6m3.5 -2l-5.6 -1.5M2295.2 2115.9l-0.3 5.7m3 -2.7l-5.7 -0.3M2271.5 2108l4.9 3m-0.9 -4l-3 4.9M2292.8 2113.7l0.6 5.7m2.5 -3.2l-5.7 0.6" stroke="#e6460f" stroke-width="2.8" fill="none"/>
<path d="M2285.5 2148.2L2284.4 2182.6L2283.5 2201.2L2281.9 2222.5L2277.7 2268.8" fill="none" stroke="#e6460f" stroke-width="7" stroke-linecap="butt" stroke-linejoin="round" />
<path d="M2137 2112L2299 2043" fill="none" stroke="#1a1a1a" stroke-width="1.3" stroke-linecap="butt" stroke-linejoin="round" />
<path d="M2302.4 2041.5L2295 2051.5L2290.1 2039.9Z" fill="#1a1a1a"/>
<text x="1793.4" y="1585.4" font-size="51" font-weight="bold" fill="#1a1a1a" textLength="28.6" lengthAdjust="spacingAndGlyphs">D</text>
<text x="2266" y="1690" font-size="43.5" font-weight="normal" fill="#1a1a1a" textLength="53.7" lengthAdjust="spacingAndGlyphs">21p</text>
<text x="2066.4" y="1866" font-size="43.5" font-weight="normal" fill="#1a1a1a" textLength="53" lengthAdjust="spacingAndGlyphs">14p</text>
<text x="1802.4" y="1908.5" font-size="43.5" font-weight="normal" fill="#1a1a1a" textLength="58.6" lengthAdjust="spacingAndGlyphs">22p</text>
<text x="1965" y="2027.8" font-size="43.5" font-weight="normal" fill="#1a1a1a" textLength="54.2" lengthAdjust="spacingAndGlyphs">15p</text>
<text x="1943.8" y="2148.7" font-size="43.5" font-weight="normal" fill="#1a1a1a" textLength="146.9" lengthAdjust="spacingAndGlyphs">rDNA DJs</text>
<text x="0" y="51.8" font-size="51" font-weight="bold" fill="#1a1a1a" textLength="30.6" lengthAdjust="spacingAndGlyphs">A</text>
</svg></body></html>
